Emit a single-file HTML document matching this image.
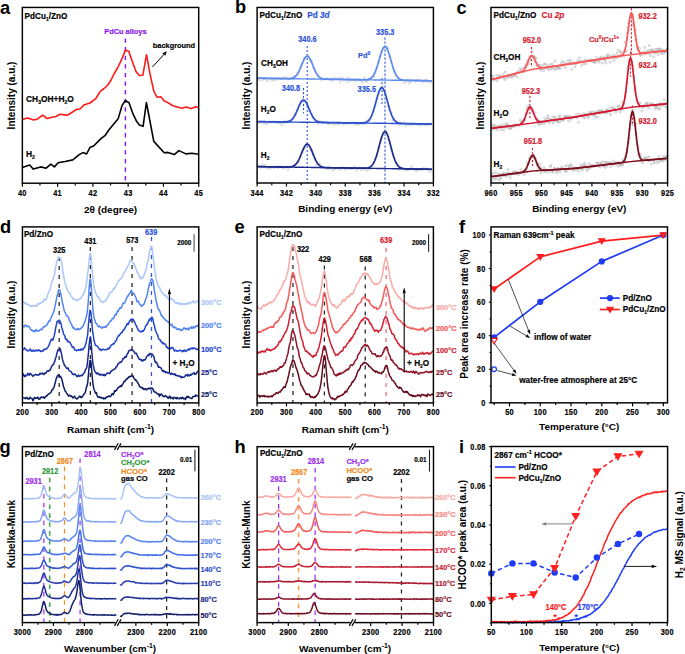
<!DOCTYPE html>
<html><head><meta charset="utf-8"><style>
html,body{margin:0;padding:0;background:#fff;width:685px;height:654px;overflow:hidden}
svg{display:block}
text{font-family:"Liberation Sans", sans-serif;stroke-width:0.18px}
</style></head><body>
<svg width="685" height="654" viewBox="0 0 685 654">
<rect width="685" height="654" fill="#fff"/>
<text x="0" y="13.6" font-size="18.3" fill="#000" stroke="none" text-anchor="start" font-weight="bold">a</text>
<text x="235" y="12.9" font-size="18.3" fill="#000" stroke="none" text-anchor="start" font-weight="bold">b</text>
<text x="456.5" y="14" font-size="18.3" fill="#000" stroke="none" text-anchor="start" font-weight="bold">c</text>
<text x="0" y="232.5" font-size="18.3" fill="#000" stroke="none" text-anchor="start" font-weight="bold">d</text>
<text x="234.5" y="232.5" font-size="18.3" fill="#000" stroke="none" text-anchor="start" font-weight="bold">e</text>
<text x="459" y="232.5" font-size="18.3" fill="#000" stroke="none" text-anchor="start" font-weight="bold">f</text>
<text x="-0.6" y="452.9" font-size="18.3" fill="#000" stroke="none" text-anchor="start" font-weight="bold">g</text>
<text x="234.5" y="452.5" font-size="18.3" fill="#000" stroke="none" text-anchor="start" font-weight="bold">h</text>
<text x="459" y="452.5" font-size="18.3" fill="#000" stroke="none" text-anchor="start" font-weight="bold">i</text>
<line x1="125.4" y1="38.5" x2="125.4" y2="183.2" stroke="#8a10f8" stroke-width="1.4" stroke-dasharray="4.3 4.3" stroke-linecap="butt"/>
<text x="125.4" y="34.3" font-size="7.4" fill="#8a14f0" stroke="#8a14f0" text-anchor="middle" font-weight="bold">PdCu alloys</text>
<path d="M22.3 119.8 L26.9 118 L29.5 118.6 L33.3 120 L37 119.3 L42.5 115.2 L47.1 118.5 L52 117.2 L56 116.5 L60 114.3 L63 114.6 L67.3 115.2 L71 113 L76.5 109.4 L80 109 L83.8 105.1 L90 103 L95.7 98.7 L100.3 91.4 L104 88.5 L107 86 L110.4 81.3 L114 74 L117.8 67.5 L121.6 59.7 L125.5 49.9 L128.8 51.2 L132.1 61 L136 71.5 L139.3 75.5 L142.9 75.2 L146.5 54.7 L149.8 72.9 L153.8 91.2 L157 97.2 L161 96.8 L164.3 101.1 L167.6 102.4 L172.8 105.7 L178.1 107.3 L182 108.3 L186 107 L191.2 108.6 L195.8 106.8 L198.7 107.7" fill="none" stroke="#ff1a1a" stroke-width="1.6" stroke-linejoin="round"/>
<path d="M22.3 167.4 L29.7 165 L33.3 169.1 L40.7 166.9 L46.2 168.2 L50.8 164.1 L54.4 166.9 L58.1 162.7 L65 161.5 L72.8 159.9 L79.2 154.6 L82.9 152.6 L86.6 154 L89.9 147.6 L93.9 145.8 L101.2 138.4 L104.9 135.7 L108.6 130.2 L118.3 118.4 L122 105.6 L125.3 100.5 L129 102.8 L133 113.9 L136.7 121.6 L139.4 124.9 L143.1 126.3 L146.4 102.5 L153.8 141.4 L164.2 152.8 L167.9 152.4 L174.3 154.6 L178.9 150.6 L185.9 153.9 L191.7 153.3 L198.7 154.2" fill="none" stroke="#000" stroke-width="1.6" stroke-linejoin="round"/>
<text x="0" y="0" transform="translate(24.5 18.5) scale(1 1.07)" font-size="8.2" fill="#000" stroke="#000" text-anchor="start" font-weight="bold">PdCu<tspan font-size="4.92" baseline-shift="-2.13">1</tspan>/ZnO</text>
<text x="0" y="0" transform="translate(26 102.4) scale(1 1.07)" font-size="8.4" fill="#000" stroke="#000" text-anchor="start" font-weight="bold">CH<tspan font-size="5.04" baseline-shift="-2.18">3</tspan>OH+H<tspan font-size="5.04" baseline-shift="-2.18">2</tspan>O</text>
<text x="0" y="0" transform="translate(26 156.5) scale(1 1.07)" font-size="8.4" fill="#000" stroke="#000" text-anchor="start" font-weight="bold">H<tspan font-size="5.04" baseline-shift="-2.18">2</tspan></text>
<text x="152.8" y="47.9" font-size="7.4" fill="#000" stroke="#000" text-anchor="start" font-weight="bold">background</text>
<line x1="152.5" y1="66.9" x2="163.86" y2="54.52" stroke="#000" stroke-width="1" stroke-linecap="butt"/>
<path d="M166.9 51.2 L165.33 55.87 L162.38 53.16 Z" fill="#000"/>
<rect x="22.35" y="7.45" width="176.35" height="175.75" fill="none" stroke="#000" stroke-width="1.45"/>
<line x1="22.35" y1="183.2" x2="22.35" y2="186.7" stroke="#000" stroke-width="1.2" stroke-linecap="butt"/>
<line x1="57.62" y1="183.2" x2="57.62" y2="186.7" stroke="#000" stroke-width="1.2" stroke-linecap="butt"/>
<line x1="92.89" y1="183.2" x2="92.89" y2="186.7" stroke="#000" stroke-width="1.2" stroke-linecap="butt"/>
<line x1="128.16" y1="183.2" x2="128.16" y2="186.7" stroke="#000" stroke-width="1.2" stroke-linecap="butt"/>
<line x1="163.43" y1="183.2" x2="163.43" y2="186.7" stroke="#000" stroke-width="1.2" stroke-linecap="butt"/>
<line x1="198.7" y1="183.2" x2="198.7" y2="186.7" stroke="#000" stroke-width="1.2" stroke-linecap="butt"/>
<line x1="39.98" y1="183.2" x2="39.98" y2="185.4" stroke="#000" stroke-width="1.2" stroke-linecap="butt"/>
<line x1="75.25" y1="183.2" x2="75.25" y2="185.4" stroke="#000" stroke-width="1.2" stroke-linecap="butt"/>
<line x1="110.53" y1="183.2" x2="110.53" y2="185.4" stroke="#000" stroke-width="1.2" stroke-linecap="butt"/>
<line x1="145.8" y1="183.2" x2="145.8" y2="185.4" stroke="#000" stroke-width="1.2" stroke-linecap="butt"/>
<line x1="181.06" y1="183.2" x2="181.06" y2="185.4" stroke="#000" stroke-width="1.2" stroke-linecap="butt"/>
<text x="0" y="0" transform="translate(22.35 195.9) scale(0.92 1.02)" font-size="8" fill="#000" stroke="#000" text-anchor="middle" font-weight="bold" letter-spacing="0.3">40</text>
<text x="0" y="0" transform="translate(57.62 195.9) scale(0.92 1.02)" font-size="8" fill="#000" stroke="#000" text-anchor="middle" font-weight="bold" letter-spacing="0.3">41</text>
<text x="0" y="0" transform="translate(92.89 195.9) scale(0.92 1.02)" font-size="8" fill="#000" stroke="#000" text-anchor="middle" font-weight="bold" letter-spacing="0.3">42</text>
<text x="0" y="0" transform="translate(128.16 195.9) scale(0.92 1.02)" font-size="8" fill="#000" stroke="#000" text-anchor="middle" font-weight="bold" letter-spacing="0.3">43</text>
<text x="0" y="0" transform="translate(163.43 195.9) scale(0.92 1.02)" font-size="8" fill="#000" stroke="#000" text-anchor="middle" font-weight="bold" letter-spacing="0.3">44</text>
<text x="0" y="0" transform="translate(198.7 195.9) scale(0.92 1.02)" font-size="8" fill="#000" stroke="#000" text-anchor="middle" font-weight="bold" letter-spacing="0.3">45</text>
<text x="0" y="0" transform="translate(110.5 212.7) scale(1 0.94)" font-size="10" fill="#000" stroke="none" text-anchor="middle" font-weight="bold">2θ (degree)</text>
<text x="0" y="0" font-size="10" font-weight="bold" text-anchor="middle" dominant-baseline="central" transform="translate(11.2 95.5) rotate(-90)">Intensity (a.u.)</text>
<text x="0" y="0" transform="translate(259.5 18.3) scale(1 1.07)" font-size="8.2" fill="#000" stroke="#000" text-anchor="start" font-weight="bold">PdCu<tspan font-size="4.92" baseline-shift="-2.13">1</tspan>/ZnO</text>
<text x="0" y="0" transform="translate(307.2 18.3) scale(1 1.07)" font-size="8.2" fill="#2d55d6" stroke="#2d55d6" text-anchor="start" font-weight="bold">Pd <tspan font-style="italic">3d</tspan></text>
<line x1="307.2" y1="45.9" x2="307.2" y2="183" stroke="#2d55d6" stroke-width="1.1" stroke-dasharray="2.2 1.8" stroke-linecap="butt"/>
<line x1="385" y1="37.6" x2="385" y2="183" stroke="#2d55d6" stroke-width="1.1" stroke-dasharray="2.2 1.8" stroke-linecap="butt"/>
<line x1="303.5" y1="88" x2="303.5" y2="113.3" stroke="#2d55d6" stroke-width="1.1" stroke-dasharray="2.2 1.8" stroke-linecap="butt"/>
<line x1="382" y1="78" x2="382" y2="104" stroke="#2d55d6" stroke-width="1.1" stroke-dasharray="2.2 1.8" stroke-linecap="butt"/>
<circle cx="257.6" cy="78.9" r="0.9" fill="none" stroke="#bdbdbd" stroke-width="0.6"/>
<circle cx="259.19" cy="80.08" r="0.9" fill="none" stroke="#bdbdbd" stroke-width="0.6"/>
<circle cx="260.78" cy="77.92" r="0.9" fill="none" stroke="#bdbdbd" stroke-width="0.6"/>
<circle cx="262.38" cy="79.87" r="0.9" fill="none" stroke="#bdbdbd" stroke-width="0.6"/>
<circle cx="263.97" cy="78.64" r="0.9" fill="none" stroke="#bdbdbd" stroke-width="0.6"/>
<circle cx="265.56" cy="78.66" r="0.9" fill="none" stroke="#bdbdbd" stroke-width="0.6"/>
<circle cx="267.15" cy="80.85" r="0.9" fill="none" stroke="#bdbdbd" stroke-width="0.6"/>
<circle cx="268.74" cy="79.13" r="0.9" fill="none" stroke="#bdbdbd" stroke-width="0.6"/>
<circle cx="270.33" cy="78.95" r="0.9" fill="none" stroke="#bdbdbd" stroke-width="0.6"/>
<circle cx="271.93" cy="79.75" r="0.9" fill="none" stroke="#bdbdbd" stroke-width="0.6"/>
<circle cx="273.52" cy="80.17" r="0.9" fill="none" stroke="#bdbdbd" stroke-width="0.6"/>
<circle cx="275.11" cy="79.03" r="0.9" fill="none" stroke="#bdbdbd" stroke-width="0.6"/>
<circle cx="276.7" cy="79.68" r="0.9" fill="none" stroke="#bdbdbd" stroke-width="0.6"/>
<circle cx="278.29" cy="78.14" r="0.9" fill="none" stroke="#bdbdbd" stroke-width="0.6"/>
<circle cx="279.88" cy="78.77" r="0.9" fill="none" stroke="#bdbdbd" stroke-width="0.6"/>
<circle cx="281.48" cy="78.72" r="0.9" fill="none" stroke="#bdbdbd" stroke-width="0.6"/>
<circle cx="283.07" cy="77.85" r="0.9" fill="none" stroke="#bdbdbd" stroke-width="0.6"/>
<circle cx="284.66" cy="77.69" r="0.9" fill="none" stroke="#bdbdbd" stroke-width="0.6"/>
<circle cx="286.25" cy="77.58" r="0.9" fill="none" stroke="#bdbdbd" stroke-width="0.6"/>
<circle cx="287.84" cy="78.96" r="0.9" fill="none" stroke="#bdbdbd" stroke-width="0.6"/>
<circle cx="289.44" cy="78.96" r="0.9" fill="none" stroke="#bdbdbd" stroke-width="0.6"/>
<circle cx="291.03" cy="78.63" r="0.9" fill="none" stroke="#bdbdbd" stroke-width="0.6"/>
<circle cx="292.62" cy="78.62" r="0.9" fill="none" stroke="#bdbdbd" stroke-width="0.6"/>
<circle cx="294.21" cy="76.46" r="0.9" fill="none" stroke="#bdbdbd" stroke-width="0.6"/>
<circle cx="295.8" cy="76.42" r="0.9" fill="none" stroke="#bdbdbd" stroke-width="0.6"/>
<circle cx="297.39" cy="74.71" r="0.9" fill="none" stroke="#bdbdbd" stroke-width="0.6"/>
<circle cx="298.99" cy="72.39" r="0.9" fill="none" stroke="#bdbdbd" stroke-width="0.6"/>
<circle cx="300.58" cy="67.26" r="0.9" fill="none" stroke="#bdbdbd" stroke-width="0.6"/>
<circle cx="302.17" cy="63.83" r="0.9" fill="none" stroke="#bdbdbd" stroke-width="0.6"/>
<circle cx="303.76" cy="58.59" r="0.9" fill="none" stroke="#bdbdbd" stroke-width="0.6"/>
<circle cx="305.35" cy="57.41" r="0.9" fill="none" stroke="#bdbdbd" stroke-width="0.6"/>
<circle cx="306.95" cy="54.56" r="0.9" fill="none" stroke="#bdbdbd" stroke-width="0.6"/>
<circle cx="308.54" cy="55.98" r="0.9" fill="none" stroke="#bdbdbd" stroke-width="0.6"/>
<circle cx="310.13" cy="60.8" r="0.9" fill="none" stroke="#bdbdbd" stroke-width="0.6"/>
<circle cx="311.72" cy="60.94" r="0.9" fill="none" stroke="#bdbdbd" stroke-width="0.6"/>
<circle cx="313.31" cy="67.86" r="0.9" fill="none" stroke="#bdbdbd" stroke-width="0.6"/>
<circle cx="314.9" cy="71.13" r="0.9" fill="none" stroke="#bdbdbd" stroke-width="0.6"/>
<circle cx="316.5" cy="73.61" r="0.9" fill="none" stroke="#bdbdbd" stroke-width="0.6"/>
<circle cx="318.09" cy="76.71" r="0.9" fill="none" stroke="#bdbdbd" stroke-width="0.6"/>
<circle cx="319.68" cy="78.35" r="0.9" fill="none" stroke="#bdbdbd" stroke-width="0.6"/>
<circle cx="321.27" cy="79.82" r="0.9" fill="none" stroke="#bdbdbd" stroke-width="0.6"/>
<circle cx="322.86" cy="79.08" r="0.9" fill="none" stroke="#bdbdbd" stroke-width="0.6"/>
<circle cx="324.45" cy="79" r="0.9" fill="none" stroke="#bdbdbd" stroke-width="0.6"/>
<circle cx="326.05" cy="79.13" r="0.9" fill="none" stroke="#bdbdbd" stroke-width="0.6"/>
<circle cx="327.64" cy="78.82" r="0.9" fill="none" stroke="#bdbdbd" stroke-width="0.6"/>
<circle cx="329.23" cy="79.81" r="0.9" fill="none" stroke="#bdbdbd" stroke-width="0.6"/>
<circle cx="330.82" cy="79.1" r="0.9" fill="none" stroke="#bdbdbd" stroke-width="0.6"/>
<circle cx="332.41" cy="80.98" r="0.9" fill="none" stroke="#bdbdbd" stroke-width="0.6"/>
<circle cx="334.01" cy="78.06" r="0.9" fill="none" stroke="#bdbdbd" stroke-width="0.6"/>
<circle cx="335.6" cy="78.86" r="0.9" fill="none" stroke="#bdbdbd" stroke-width="0.6"/>
<circle cx="337.19" cy="79.03" r="0.9" fill="none" stroke="#bdbdbd" stroke-width="0.6"/>
<circle cx="338.78" cy="77.91" r="0.9" fill="none" stroke="#bdbdbd" stroke-width="0.6"/>
<circle cx="340.37" cy="81.93" r="0.9" fill="none" stroke="#bdbdbd" stroke-width="0.6"/>
<circle cx="341.96" cy="77.64" r="0.9" fill="none" stroke="#bdbdbd" stroke-width="0.6"/>
<circle cx="343.56" cy="79.79" r="0.9" fill="none" stroke="#bdbdbd" stroke-width="0.6"/>
<circle cx="345.15" cy="79.57" r="0.9" fill="none" stroke="#bdbdbd" stroke-width="0.6"/>
<circle cx="346.74" cy="81.78" r="0.9" fill="none" stroke="#bdbdbd" stroke-width="0.6"/>
<circle cx="348.33" cy="78.16" r="0.9" fill="none" stroke="#bdbdbd" stroke-width="0.6"/>
<circle cx="349.92" cy="81.24" r="0.9" fill="none" stroke="#bdbdbd" stroke-width="0.6"/>
<circle cx="351.52" cy="79.46" r="0.9" fill="none" stroke="#bdbdbd" stroke-width="0.6"/>
<circle cx="353.11" cy="80.06" r="0.9" fill="none" stroke="#bdbdbd" stroke-width="0.6"/>
<circle cx="354.7" cy="79.57" r="0.9" fill="none" stroke="#bdbdbd" stroke-width="0.6"/>
<circle cx="356.29" cy="80.9" r="0.9" fill="none" stroke="#bdbdbd" stroke-width="0.6"/>
<circle cx="357.88" cy="79.15" r="0.9" fill="none" stroke="#bdbdbd" stroke-width="0.6"/>
<circle cx="359.47" cy="80.23" r="0.9" fill="none" stroke="#bdbdbd" stroke-width="0.6"/>
<circle cx="361.07" cy="80.68" r="0.9" fill="none" stroke="#bdbdbd" stroke-width="0.6"/>
<circle cx="362.66" cy="82.18" r="0.9" fill="none" stroke="#bdbdbd" stroke-width="0.6"/>
<circle cx="364.25" cy="77.92" r="0.9" fill="none" stroke="#bdbdbd" stroke-width="0.6"/>
<circle cx="365.84" cy="81.79" r="0.9" fill="none" stroke="#bdbdbd" stroke-width="0.6"/>
<circle cx="367.43" cy="81.03" r="0.9" fill="none" stroke="#bdbdbd" stroke-width="0.6"/>
<circle cx="369.02" cy="79.21" r="0.9" fill="none" stroke="#bdbdbd" stroke-width="0.6"/>
<circle cx="370.62" cy="79.23" r="0.9" fill="none" stroke="#bdbdbd" stroke-width="0.6"/>
<circle cx="372.21" cy="77.09" r="0.9" fill="none" stroke="#bdbdbd" stroke-width="0.6"/>
<circle cx="373.8" cy="76.98" r="0.9" fill="none" stroke="#bdbdbd" stroke-width="0.6"/>
<circle cx="375.39" cy="72.26" r="0.9" fill="none" stroke="#bdbdbd" stroke-width="0.6"/>
<circle cx="376.98" cy="67.46" r="0.9" fill="none" stroke="#bdbdbd" stroke-width="0.6"/>
<circle cx="378.58" cy="62.22" r="0.9" fill="none" stroke="#bdbdbd" stroke-width="0.6"/>
<circle cx="380.17" cy="56.74" r="0.9" fill="none" stroke="#bdbdbd" stroke-width="0.6"/>
<circle cx="381.76" cy="51.8" r="0.9" fill="none" stroke="#bdbdbd" stroke-width="0.6"/>
<circle cx="383.35" cy="47.61" r="0.9" fill="none" stroke="#bdbdbd" stroke-width="0.6"/>
<circle cx="384.94" cy="49.25" r="0.9" fill="none" stroke="#bdbdbd" stroke-width="0.6"/>
<circle cx="386.53" cy="46.45" r="0.9" fill="none" stroke="#bdbdbd" stroke-width="0.6"/>
<circle cx="388.13" cy="48.16" r="0.9" fill="none" stroke="#bdbdbd" stroke-width="0.6"/>
<circle cx="389.72" cy="56.57" r="0.9" fill="none" stroke="#bdbdbd" stroke-width="0.6"/>
<circle cx="391.31" cy="62.09" r="0.9" fill="none" stroke="#bdbdbd" stroke-width="0.6"/>
<circle cx="392.9" cy="67.93" r="0.9" fill="none" stroke="#bdbdbd" stroke-width="0.6"/>
<circle cx="394.49" cy="71.85" r="0.9" fill="none" stroke="#bdbdbd" stroke-width="0.6"/>
<circle cx="396.08" cy="75.31" r="0.9" fill="none" stroke="#bdbdbd" stroke-width="0.6"/>
<circle cx="397.68" cy="78.13" r="0.9" fill="none" stroke="#bdbdbd" stroke-width="0.6"/>
<circle cx="399.27" cy="80.24" r="0.9" fill="none" stroke="#bdbdbd" stroke-width="0.6"/>
<circle cx="400.86" cy="79.68" r="0.9" fill="none" stroke="#bdbdbd" stroke-width="0.6"/>
<circle cx="402.45" cy="80.21" r="0.9" fill="none" stroke="#bdbdbd" stroke-width="0.6"/>
<circle cx="404.04" cy="82.75" r="0.9" fill="none" stroke="#bdbdbd" stroke-width="0.6"/>
<circle cx="405.64" cy="81.46" r="0.9" fill="none" stroke="#bdbdbd" stroke-width="0.6"/>
<circle cx="407.23" cy="80.01" r="0.9" fill="none" stroke="#bdbdbd" stroke-width="0.6"/>
<circle cx="408.82" cy="83.35" r="0.9" fill="none" stroke="#bdbdbd" stroke-width="0.6"/>
<circle cx="410.41" cy="81.83" r="0.9" fill="none" stroke="#bdbdbd" stroke-width="0.6"/>
<circle cx="412" cy="80.49" r="0.9" fill="none" stroke="#bdbdbd" stroke-width="0.6"/>
<circle cx="413.59" cy="79.93" r="0.9" fill="none" stroke="#bdbdbd" stroke-width="0.6"/>
<circle cx="415.19" cy="81.43" r="0.9" fill="none" stroke="#bdbdbd" stroke-width="0.6"/>
<circle cx="416.78" cy="80.32" r="0.9" fill="none" stroke="#bdbdbd" stroke-width="0.6"/>
<circle cx="418.37" cy="80.12" r="0.9" fill="none" stroke="#bdbdbd" stroke-width="0.6"/>
<circle cx="419.96" cy="79.91" r="0.9" fill="none" stroke="#bdbdbd" stroke-width="0.6"/>
<circle cx="421.55" cy="80.72" r="0.9" fill="none" stroke="#bdbdbd" stroke-width="0.6"/>
<circle cx="423.15" cy="82.36" r="0.9" fill="none" stroke="#bdbdbd" stroke-width="0.6"/>
<circle cx="424.74" cy="80.84" r="0.9" fill="none" stroke="#bdbdbd" stroke-width="0.6"/>
<circle cx="426.33" cy="79.85" r="0.9" fill="none" stroke="#bdbdbd" stroke-width="0.6"/>
<circle cx="427.92" cy="81.99" r="0.9" fill="none" stroke="#bdbdbd" stroke-width="0.6"/>
<circle cx="429.51" cy="81.41" r="0.9" fill="none" stroke="#bdbdbd" stroke-width="0.6"/>
<circle cx="431.1" cy="82.21" r="0.9" fill="none" stroke="#bdbdbd" stroke-width="0.6"/>
<path d="M257.6 78.21 L258.4 78.22 L259.19 78.23 L259.99 78.24 L260.78 78.25 L261.58 78.27 L262.38 78.28 L263.17 78.29 L263.97 78.3 L264.76 78.31 L265.56 78.32 L266.35 78.34 L267.15 78.35 L267.95 78.36 L268.74 78.37 L269.54 78.38 L270.33 78.4 L271.13 78.41 L271.93 78.42 L272.72 78.43 L273.52 78.44 L274.31 78.45 L275.11 78.47 L275.91 78.48 L276.7 78.49 L277.5 78.5 L278.29 78.51 L279.09 78.52 L279.88 78.54 L280.68 78.55 L281.48 78.56 L282.27 78.57 L283.07 78.58 L283.86 78.59 L284.66 78.61 L285.46 78.62 L286.25 78.63 L287.05 78.64 L287.84 78.65 L288.64 78.67 L289.44 78.68 L290.23 78.69 L291.03 78.7 L291.82 78.71 L292.62 78.72 L293.42 78.74 L294.21 78.75 L295.01 78.76 L295.8 78.77 L296.6 78.78 L297.39 78.79 L298.19 78.81 L298.99 78.82 L299.78 78.83 L300.58 78.84 L301.37 78.85 L302.17 78.86 L302.97 78.88 L303.76 78.89 L304.56 78.9 L305.35 78.91 L306.15 78.92 L306.95 78.94 L307.74 78.95 L308.54 78.96 L309.33 78.97 L310.13 78.98 L310.92 78.99 L311.72 79.01 L312.52 79.02 L313.31 79.03 L314.11 79.04 L314.9 79.05 L315.7 79.06 L316.5 79.08 L317.29 79.09 L318.09 79.1 L318.88 79.11 L319.68 79.12 L320.48 79.13 L321.27 79.15 L322.07 79.16 L322.86 79.17 L323.66 79.18 L324.45 79.19 L325.25 79.21 L326.05 79.22 L326.84 79.23 L327.64 79.24 L328.43 79.25 L329.23 79.26 L330.03 79.28 L330.82 79.29 L331.62 79.3 L332.41 79.31 L333.21 79.32 L334.01 79.33 L334.8 79.35 L335.6 79.36 L336.39 79.37 L337.19 79.38 L337.98 79.39 L338.78 79.4 L339.58 79.42 L340.37 79.43 L341.17 79.44 L341.96 79.45 L342.76 79.46 L343.56 79.48 L344.35 79.49 L345.15 79.5 L345.94 79.51 L346.74 79.52 L347.54 79.53 L348.33 79.55 L349.13 79.56 L349.92 79.57 L350.72 79.58 L351.52 79.59 L352.31 79.6 L353.11 79.62 L353.9 79.63 L354.7 79.64 L355.49 79.65 L356.29 79.66 L357.09 79.67 L357.88 79.69 L358.68 79.7 L359.47 79.71 L360.27 79.72 L361.07 79.73 L361.86 79.74 L362.66 79.76 L363.45 79.77 L364.25 79.78 L365.05 79.79 L365.84 79.8 L366.64 79.82 L367.43 79.83 L368.23 79.84 L369.02 79.85 L369.82 79.86 L370.62 79.87 L371.41 79.89 L372.21 79.9 L373 79.91 L373.8 79.92 L374.6 79.93 L375.39 79.94 L376.19 79.96 L376.98 79.97 L377.78 79.98 L378.58 79.99 L379.37 80 L380.17 80.01 L380.96 80.03 L381.76 80.04 L382.55 80.05 L383.35 80.06 L384.15 80.07 L384.94 80.09 L385.74 80.1 L386.53 80.11 L387.33 80.12 L388.13 80.13 L388.92 80.14 L389.72 80.16 L390.51 80.17 L391.31 80.18 L392.11 80.19 L392.9 80.2 L393.7 80.21 L394.49 80.23 L395.29 80.24 L396.08 80.25 L396.88 80.26 L397.68 80.27 L398.47 80.28 L399.27 80.3 L400.06 80.31 L400.86 80.32 L401.66 80.33 L402.45 80.34 L403.25 80.36 L404.04 80.37 L404.84 80.38 L405.64 80.39 L406.43 80.4 L407.23 80.41 L408.02 80.43 L408.82 80.44 L409.62 80.45 L410.41 80.46 L411.21 80.47 L412 80.48 L412.8 80.5 L413.59 80.51 L414.39 80.52 L415.19 80.53 L415.98 80.54 L416.78 80.55 L417.57 80.57 L418.37 80.58 L419.17 80.59 L419.96 80.6 L420.76 80.61 L421.55 80.63 L422.35 80.64 L423.15 80.65 L423.94 80.66 L424.74 80.67 L425.53 80.68 L426.33 80.7 L427.12 80.71 L427.92 80.72 L428.72 80.73 L429.51 80.74 L430.31 80.75 L431.1 80.77 L431.9 80.78" fill="none" stroke="#5b8cf2" stroke-width="1.4" stroke-linejoin="round"/>
<path d="M257.6 78.21 L258.4 78.22 L259.19 78.23 L259.99 78.24 L260.78 78.25 L261.58 78.27 L262.38 78.28 L263.17 78.29 L263.97 78.3 L264.76 78.31 L265.56 78.32 L266.35 78.34 L267.15 78.35 L267.95 78.36 L268.74 78.37 L269.54 78.38 L270.33 78.4 L271.13 78.41 L271.93 78.42 L272.72 78.43 L273.52 78.44 L274.31 78.45 L275.11 78.47 L275.91 78.48 L276.7 78.49 L277.5 78.5 L278.29 78.51 L279.09 78.52 L279.88 78.54 L280.68 78.55 L281.48 78.56 L282.27 78.57 L283.07 78.58 L283.86 78.59 L284.66 78.6 L285.46 78.61 L286.25 78.61 L287.05 78.61 L287.84 78.6 L288.64 78.57 L289.44 78.53 L290.23 78.46 L291.03 78.35 L291.82 78.19 L292.62 77.96 L293.42 77.63 L294.21 77.2 L295.01 76.63 L295.8 75.9 L296.6 74.98 L297.39 73.87 L298.19 72.56 L298.99 71.04 L299.78 69.35 L300.58 67.51 L301.37 65.58 L302.17 63.63 L302.97 61.75 L303.76 60.01 L304.56 58.5 L305.35 57.32 L306.15 56.52 L306.95 56.16 L307.74 56.25 L308.54 56.8 L309.33 57.77 L310.13 59.1 L310.92 60.72 L311.72 62.55 L312.52 64.49 L313.31 66.46 L314.11 68.39 L314.9 70.2 L315.7 71.86 L316.5 73.33 L317.29 74.59 L318.09 75.66 L318.88 76.52 L319.68 77.22 L320.48 77.76 L321.27 78.18 L322.07 78.49 L322.86 78.71 L323.66 78.88 L324.45 79 L325.25 79.08 L326.05 79.14 L326.84 79.18 L327.64 79.21 L328.43 79.23 L329.23 79.25 L330.03 79.27 L330.82 79.28 L331.62 79.3 L332.41 79.31 L333.21 79.32 L334.01 79.33 L334.8 79.35 L335.6 79.36 L336.39 79.37 L337.19 79.38 L337.98 79.39 L338.78 79.4 L339.58 79.42 L340.37 79.43 L341.17 79.44 L341.96 79.45 L342.76 79.46 L343.56 79.48 L344.35 79.49 L345.15 79.5 L345.94 79.51 L346.74 79.52 L347.54 79.53 L348.33 79.55 L349.13 79.56 L349.92 79.57 L350.72 79.58 L351.52 79.59 L352.31 79.6 L353.11 79.62 L353.9 79.63 L354.7 79.64 L355.49 79.65 L356.29 79.66 L357.09 79.67 L357.88 79.69 L358.68 79.7 L359.47 79.71 L360.27 79.72 L361.07 79.73 L361.86 79.73 L362.66 79.74 L363.45 79.73 L364.25 79.72 L365.05 79.7 L365.84 79.66 L366.64 79.59 L367.43 79.49 L368.23 79.33 L369.02 79.1 L369.82 78.77 L370.62 78.33 L371.41 77.73 L372.21 76.95 L373 75.96 L373.8 74.73 L374.6 73.23 L375.39 71.45 L376.19 69.39 L376.98 67.08 L377.78 64.54 L378.58 61.85 L379.37 59.08 L380.17 56.34 L380.96 53.73 L381.76 51.38 L382.55 49.4 L383.35 47.89 L384.15 46.93 L384.94 46.59 L385.74 46.87 L386.53 47.76 L387.33 49.22 L388.13 51.16 L388.92 53.49 L389.72 56.09 L390.51 58.85 L391.31 61.64 L392.11 64.37 L392.9 66.96 L393.7 69.33 L394.49 71.45 L395.29 73.29 L396.08 74.86 L396.88 76.15 L397.68 77.2 L398.47 78.03 L399.27 78.67 L400.06 79.16 L400.86 79.52 L401.66 79.79 L402.45 79.98 L403.25 80.12 L404.04 80.21 L404.84 80.28 L405.64 80.33 L406.43 80.37 L407.23 80.39 L408.02 80.41 L408.82 80.43 L409.62 80.45 L410.41 80.46 L411.21 80.47 L412 80.48 L412.8 80.5 L413.59 80.51 L414.39 80.52 L415.19 80.53 L415.98 80.54 L416.78 80.55 L417.57 80.57 L418.37 80.58 L419.17 80.59 L419.96 80.6 L420.76 80.61 L421.55 80.63 L422.35 80.64 L423.15 80.65 L423.94 80.66 L424.74 80.67 L425.53 80.68 L426.33 80.7 L427.12 80.71 L427.92 80.72 L428.72 80.73 L429.51 80.74 L430.31 80.75 L431.1 80.77 L431.9 80.78" fill="none" stroke="#5b8cf2" stroke-width="1.7" stroke-linejoin="round"/>
<circle cx="257.6" cy="122.25" r="0.9" fill="none" stroke="#bdbdbd" stroke-width="0.6"/>
<circle cx="259.19" cy="122.69" r="0.9" fill="none" stroke="#bdbdbd" stroke-width="0.6"/>
<circle cx="260.78" cy="121.79" r="0.9" fill="none" stroke="#bdbdbd" stroke-width="0.6"/>
<circle cx="262.38" cy="122.62" r="0.9" fill="none" stroke="#bdbdbd" stroke-width="0.6"/>
<circle cx="263.97" cy="123.22" r="0.9" fill="none" stroke="#bdbdbd" stroke-width="0.6"/>
<circle cx="265.56" cy="122.73" r="0.9" fill="none" stroke="#bdbdbd" stroke-width="0.6"/>
<circle cx="267.15" cy="123.9" r="0.9" fill="none" stroke="#bdbdbd" stroke-width="0.6"/>
<circle cx="268.74" cy="121.47" r="0.9" fill="none" stroke="#bdbdbd" stroke-width="0.6"/>
<circle cx="270.33" cy="122.45" r="0.9" fill="none" stroke="#bdbdbd" stroke-width="0.6"/>
<circle cx="271.93" cy="121.7" r="0.9" fill="none" stroke="#bdbdbd" stroke-width="0.6"/>
<circle cx="273.52" cy="121.64" r="0.9" fill="none" stroke="#bdbdbd" stroke-width="0.6"/>
<circle cx="275.11" cy="122.26" r="0.9" fill="none" stroke="#bdbdbd" stroke-width="0.6"/>
<circle cx="276.7" cy="122.69" r="0.9" fill="none" stroke="#bdbdbd" stroke-width="0.6"/>
<circle cx="278.29" cy="122.91" r="0.9" fill="none" stroke="#bdbdbd" stroke-width="0.6"/>
<circle cx="279.88" cy="123.02" r="0.9" fill="none" stroke="#bdbdbd" stroke-width="0.6"/>
<circle cx="281.48" cy="124.76" r="0.9" fill="none" stroke="#bdbdbd" stroke-width="0.6"/>
<circle cx="283.07" cy="123.39" r="0.9" fill="none" stroke="#bdbdbd" stroke-width="0.6"/>
<circle cx="284.66" cy="120.9" r="0.9" fill="none" stroke="#bdbdbd" stroke-width="0.6"/>
<circle cx="286.25" cy="122.61" r="0.9" fill="none" stroke="#bdbdbd" stroke-width="0.6"/>
<circle cx="287.84" cy="121.55" r="0.9" fill="none" stroke="#bdbdbd" stroke-width="0.6"/>
<circle cx="289.44" cy="121.18" r="0.9" fill="none" stroke="#bdbdbd" stroke-width="0.6"/>
<circle cx="291.03" cy="122.11" r="0.9" fill="none" stroke="#bdbdbd" stroke-width="0.6"/>
<circle cx="292.62" cy="119.1" r="0.9" fill="none" stroke="#bdbdbd" stroke-width="0.6"/>
<circle cx="294.21" cy="115.15" r="0.9" fill="none" stroke="#bdbdbd" stroke-width="0.6"/>
<circle cx="295.8" cy="114.41" r="0.9" fill="none" stroke="#bdbdbd" stroke-width="0.6"/>
<circle cx="297.39" cy="110.2" r="0.9" fill="none" stroke="#bdbdbd" stroke-width="0.6"/>
<circle cx="298.99" cy="105.55" r="0.9" fill="none" stroke="#bdbdbd" stroke-width="0.6"/>
<circle cx="300.58" cy="102.5" r="0.9" fill="none" stroke="#bdbdbd" stroke-width="0.6"/>
<circle cx="302.17" cy="100.61" r="0.9" fill="none" stroke="#bdbdbd" stroke-width="0.6"/>
<circle cx="303.76" cy="100.64" r="0.9" fill="none" stroke="#bdbdbd" stroke-width="0.6"/>
<circle cx="305.35" cy="101.41" r="0.9" fill="none" stroke="#bdbdbd" stroke-width="0.6"/>
<circle cx="306.95" cy="104.58" r="0.9" fill="none" stroke="#bdbdbd" stroke-width="0.6"/>
<circle cx="308.54" cy="109.92" r="0.9" fill="none" stroke="#bdbdbd" stroke-width="0.6"/>
<circle cx="310.13" cy="111.1" r="0.9" fill="none" stroke="#bdbdbd" stroke-width="0.6"/>
<circle cx="311.72" cy="114.58" r="0.9" fill="none" stroke="#bdbdbd" stroke-width="0.6"/>
<circle cx="313.31" cy="117.93" r="0.9" fill="none" stroke="#bdbdbd" stroke-width="0.6"/>
<circle cx="314.9" cy="121.29" r="0.9" fill="none" stroke="#bdbdbd" stroke-width="0.6"/>
<circle cx="316.5" cy="120.8" r="0.9" fill="none" stroke="#bdbdbd" stroke-width="0.6"/>
<circle cx="318.09" cy="123.72" r="0.9" fill="none" stroke="#bdbdbd" stroke-width="0.6"/>
<circle cx="319.68" cy="121.4" r="0.9" fill="none" stroke="#bdbdbd" stroke-width="0.6"/>
<circle cx="321.27" cy="121.9" r="0.9" fill="none" stroke="#bdbdbd" stroke-width="0.6"/>
<circle cx="322.86" cy="122.98" r="0.9" fill="none" stroke="#bdbdbd" stroke-width="0.6"/>
<circle cx="324.45" cy="122.23" r="0.9" fill="none" stroke="#bdbdbd" stroke-width="0.6"/>
<circle cx="326.05" cy="122.51" r="0.9" fill="none" stroke="#bdbdbd" stroke-width="0.6"/>
<circle cx="327.64" cy="123.61" r="0.9" fill="none" stroke="#bdbdbd" stroke-width="0.6"/>
<circle cx="329.23" cy="123.91" r="0.9" fill="none" stroke="#bdbdbd" stroke-width="0.6"/>
<circle cx="330.82" cy="123.32" r="0.9" fill="none" stroke="#bdbdbd" stroke-width="0.6"/>
<circle cx="332.41" cy="122.95" r="0.9" fill="none" stroke="#bdbdbd" stroke-width="0.6"/>
<circle cx="334.01" cy="124.59" r="0.9" fill="none" stroke="#bdbdbd" stroke-width="0.6"/>
<circle cx="335.6" cy="123.67" r="0.9" fill="none" stroke="#bdbdbd" stroke-width="0.6"/>
<circle cx="337.19" cy="123.06" r="0.9" fill="none" stroke="#bdbdbd" stroke-width="0.6"/>
<circle cx="338.78" cy="124.53" r="0.9" fill="none" stroke="#bdbdbd" stroke-width="0.6"/>
<circle cx="340.37" cy="122.43" r="0.9" fill="none" stroke="#bdbdbd" stroke-width="0.6"/>
<circle cx="341.96" cy="123.52" r="0.9" fill="none" stroke="#bdbdbd" stroke-width="0.6"/>
<circle cx="343.56" cy="124.04" r="0.9" fill="none" stroke="#bdbdbd" stroke-width="0.6"/>
<circle cx="345.15" cy="123.39" r="0.9" fill="none" stroke="#bdbdbd" stroke-width="0.6"/>
<circle cx="346.74" cy="122.85" r="0.9" fill="none" stroke="#bdbdbd" stroke-width="0.6"/>
<circle cx="348.33" cy="123.79" r="0.9" fill="none" stroke="#bdbdbd" stroke-width="0.6"/>
<circle cx="349.92" cy="122.92" r="0.9" fill="none" stroke="#bdbdbd" stroke-width="0.6"/>
<circle cx="351.52" cy="122.89" r="0.9" fill="none" stroke="#bdbdbd" stroke-width="0.6"/>
<circle cx="353.11" cy="122.48" r="0.9" fill="none" stroke="#bdbdbd" stroke-width="0.6"/>
<circle cx="354.7" cy="124.83" r="0.9" fill="none" stroke="#bdbdbd" stroke-width="0.6"/>
<circle cx="356.29" cy="123" r="0.9" fill="none" stroke="#bdbdbd" stroke-width="0.6"/>
<circle cx="357.88" cy="124.72" r="0.9" fill="none" stroke="#bdbdbd" stroke-width="0.6"/>
<circle cx="359.47" cy="123.95" r="0.9" fill="none" stroke="#bdbdbd" stroke-width="0.6"/>
<circle cx="361.07" cy="123.29" r="0.9" fill="none" stroke="#bdbdbd" stroke-width="0.6"/>
<circle cx="362.66" cy="124.15" r="0.9" fill="none" stroke="#bdbdbd" stroke-width="0.6"/>
<circle cx="364.25" cy="123.57" r="0.9" fill="none" stroke="#bdbdbd" stroke-width="0.6"/>
<circle cx="365.84" cy="123.01" r="0.9" fill="none" stroke="#bdbdbd" stroke-width="0.6"/>
<circle cx="367.43" cy="120.67" r="0.9" fill="none" stroke="#bdbdbd" stroke-width="0.6"/>
<circle cx="369.02" cy="120.66" r="0.9" fill="none" stroke="#bdbdbd" stroke-width="0.6"/>
<circle cx="370.62" cy="119.11" r="0.9" fill="none" stroke="#bdbdbd" stroke-width="0.6"/>
<circle cx="372.21" cy="115.21" r="0.9" fill="none" stroke="#bdbdbd" stroke-width="0.6"/>
<circle cx="373.8" cy="111.07" r="0.9" fill="none" stroke="#bdbdbd" stroke-width="0.6"/>
<circle cx="375.39" cy="106.02" r="0.9" fill="none" stroke="#bdbdbd" stroke-width="0.6"/>
<circle cx="376.98" cy="99.1" r="0.9" fill="none" stroke="#bdbdbd" stroke-width="0.6"/>
<circle cx="378.58" cy="95.41" r="0.9" fill="none" stroke="#bdbdbd" stroke-width="0.6"/>
<circle cx="380.17" cy="88.24" r="0.9" fill="none" stroke="#bdbdbd" stroke-width="0.6"/>
<circle cx="381.76" cy="88.16" r="0.9" fill="none" stroke="#bdbdbd" stroke-width="0.6"/>
<circle cx="383.35" cy="87.14" r="0.9" fill="none" stroke="#bdbdbd" stroke-width="0.6"/>
<circle cx="384.94" cy="94.11" r="0.9" fill="none" stroke="#bdbdbd" stroke-width="0.6"/>
<circle cx="386.53" cy="98.61" r="0.9" fill="none" stroke="#bdbdbd" stroke-width="0.6"/>
<circle cx="388.13" cy="106.09" r="0.9" fill="none" stroke="#bdbdbd" stroke-width="0.6"/>
<circle cx="389.72" cy="109.66" r="0.9" fill="none" stroke="#bdbdbd" stroke-width="0.6"/>
<circle cx="391.31" cy="112.74" r="0.9" fill="none" stroke="#bdbdbd" stroke-width="0.6"/>
<circle cx="392.9" cy="119.64" r="0.9" fill="none" stroke="#bdbdbd" stroke-width="0.6"/>
<circle cx="394.49" cy="119.49" r="0.9" fill="none" stroke="#bdbdbd" stroke-width="0.6"/>
<circle cx="396.08" cy="121.11" r="0.9" fill="none" stroke="#bdbdbd" stroke-width="0.6"/>
<circle cx="397.68" cy="123.1" r="0.9" fill="none" stroke="#bdbdbd" stroke-width="0.6"/>
<circle cx="399.27" cy="124.38" r="0.9" fill="none" stroke="#bdbdbd" stroke-width="0.6"/>
<circle cx="400.86" cy="123.49" r="0.9" fill="none" stroke="#bdbdbd" stroke-width="0.6"/>
<circle cx="402.45" cy="124.3" r="0.9" fill="none" stroke="#bdbdbd" stroke-width="0.6"/>
<circle cx="404.04" cy="122.3" r="0.9" fill="none" stroke="#bdbdbd" stroke-width="0.6"/>
<circle cx="405.64" cy="125.94" r="0.9" fill="none" stroke="#bdbdbd" stroke-width="0.6"/>
<circle cx="407.23" cy="124.17" r="0.9" fill="none" stroke="#bdbdbd" stroke-width="0.6"/>
<circle cx="408.82" cy="124.38" r="0.9" fill="none" stroke="#bdbdbd" stroke-width="0.6"/>
<circle cx="410.41" cy="124.87" r="0.9" fill="none" stroke="#bdbdbd" stroke-width="0.6"/>
<circle cx="412" cy="124.48" r="0.9" fill="none" stroke="#bdbdbd" stroke-width="0.6"/>
<circle cx="413.59" cy="124.53" r="0.9" fill="none" stroke="#bdbdbd" stroke-width="0.6"/>
<circle cx="415.19" cy="123.42" r="0.9" fill="none" stroke="#bdbdbd" stroke-width="0.6"/>
<circle cx="416.78" cy="124.26" r="0.9" fill="none" stroke="#bdbdbd" stroke-width="0.6"/>
<circle cx="418.37" cy="124.83" r="0.9" fill="none" stroke="#bdbdbd" stroke-width="0.6"/>
<circle cx="419.96" cy="125.46" r="0.9" fill="none" stroke="#bdbdbd" stroke-width="0.6"/>
<circle cx="421.55" cy="124.32" r="0.9" fill="none" stroke="#bdbdbd" stroke-width="0.6"/>
<circle cx="423.15" cy="124.55" r="0.9" fill="none" stroke="#bdbdbd" stroke-width="0.6"/>
<circle cx="424.74" cy="124.82" r="0.9" fill="none" stroke="#bdbdbd" stroke-width="0.6"/>
<circle cx="426.33" cy="125.08" r="0.9" fill="none" stroke="#bdbdbd" stroke-width="0.6"/>
<circle cx="427.92" cy="124.73" r="0.9" fill="none" stroke="#bdbdbd" stroke-width="0.6"/>
<circle cx="429.51" cy="124.29" r="0.9" fill="none" stroke="#bdbdbd" stroke-width="0.6"/>
<circle cx="431.1" cy="124.06" r="0.9" fill="none" stroke="#bdbdbd" stroke-width="0.6"/>
<path d="M257.6 121.61 L258.4 121.62 L259.19 121.63 L259.99 121.64 L260.78 121.65 L261.58 121.66 L262.38 121.67 L263.17 121.68 L263.97 121.69 L264.76 121.7 L265.56 121.72 L266.35 121.73 L267.15 121.74 L267.95 121.75 L268.74 121.76 L269.54 121.77 L270.33 121.78 L271.13 121.79 L271.93 121.8 L272.72 121.81 L273.52 121.82 L274.31 121.83 L275.11 121.85 L275.91 121.86 L276.7 121.87 L277.5 121.88 L278.29 121.89 L279.09 121.9 L279.88 121.91 L280.68 121.92 L281.48 121.93 L282.27 121.94 L283.07 121.95 L283.86 121.96 L284.66 121.98 L285.46 121.99 L286.25 122 L287.05 122.01 L287.84 122.02 L288.64 122.03 L289.44 122.04 L290.23 122.05 L291.03 122.06 L291.82 122.07 L292.62 122.08 L293.42 122.09 L294.21 122.11 L295.01 122.12 L295.8 122.13 L296.6 122.14 L297.39 122.15 L298.19 122.16 L298.99 122.17 L299.78 122.18 L300.58 122.19 L301.37 122.2 L302.17 122.21 L302.97 122.22 L303.76 122.24 L304.56 122.25 L305.35 122.26 L306.15 122.27 L306.95 122.28 L307.74 122.29 L308.54 122.3 L309.33 122.31 L310.13 122.32 L310.92 122.33 L311.72 122.34 L312.52 122.35 L313.31 122.37 L314.11 122.38 L314.9 122.39 L315.7 122.4 L316.5 122.41 L317.29 122.42 L318.09 122.43 L318.88 122.44 L319.68 122.45 L320.48 122.46 L321.27 122.47 L322.07 122.48 L322.86 122.5 L323.66 122.51 L324.45 122.52 L325.25 122.53 L326.05 122.54 L326.84 122.55 L327.64 122.56 L328.43 122.57 L329.23 122.58 L330.03 122.59 L330.82 122.6 L331.62 122.61 L332.41 122.63 L333.21 122.64 L334.01 122.65 L334.8 122.66 L335.6 122.67 L336.39 122.68 L337.19 122.69 L337.98 122.7 L338.78 122.71 L339.58 122.72 L340.37 122.73 L341.17 122.74 L341.96 122.76 L342.76 122.77 L343.56 122.78 L344.35 122.79 L345.15 122.8 L345.94 122.81 L346.74 122.82 L347.54 122.83 L348.33 122.84 L349.13 122.85 L349.92 122.86 L350.72 122.87 L351.52 122.89 L352.31 122.9 L353.11 122.91 L353.9 122.92 L354.7 122.93 L355.49 122.94 L356.29 122.95 L357.09 122.96 L357.88 122.97 L358.68 122.98 L359.47 122.99 L360.27 123 L361.07 123.02 L361.86 123.03 L362.66 123.04 L363.45 123.05 L364.25 123.06 L365.05 123.07 L365.84 123.08 L366.64 123.09 L367.43 123.1 L368.23 123.11 L369.02 123.12 L369.82 123.13 L370.62 123.15 L371.41 123.16 L372.21 123.17 L373 123.18 L373.8 123.19 L374.6 123.2 L375.39 123.21 L376.19 123.22 L376.98 123.23 L377.78 123.24 L378.58 123.25 L379.37 123.26 L380.17 123.28 L380.96 123.29 L381.76 123.3 L382.55 123.31 L383.35 123.32 L384.15 123.33 L384.94 123.34 L385.74 123.35 L386.53 123.36 L387.33 123.37 L388.13 123.38 L388.92 123.39 L389.72 123.41 L390.51 123.42 L391.31 123.43 L392.11 123.44 L392.9 123.45 L393.7 123.46 L394.49 123.47 L395.29 123.48 L396.08 123.49 L396.88 123.5 L397.68 123.51 L398.47 123.52 L399.27 123.54 L400.06 123.55 L400.86 123.56 L401.66 123.57 L402.45 123.58 L403.25 123.59 L404.04 123.6 L404.84 123.61 L405.64 123.62 L406.43 123.63 L407.23 123.64 L408.02 123.65 L408.82 123.67 L409.62 123.68 L410.41 123.69 L411.21 123.7 L412 123.71 L412.8 123.72 L413.59 123.73 L414.39 123.74 L415.19 123.75 L415.98 123.76 L416.78 123.77 L417.57 123.78 L418.37 123.8 L419.17 123.81 L419.96 123.82 L420.76 123.83 L421.55 123.84 L422.35 123.85 L423.15 123.86 L423.94 123.87 L424.74 123.88 L425.53 123.89 L426.33 123.9 L427.12 123.91 L427.92 123.93 L428.72 123.94 L429.51 123.95 L430.31 123.96 L431.1 123.97 L431.9 123.98" fill="none" stroke="#2a4fd0" stroke-width="1.4" stroke-linejoin="round"/>
<path d="M257.6 121.61 L258.4 121.62 L259.19 121.63 L259.99 121.64 L260.78 121.65 L261.58 121.66 L262.38 121.67 L263.17 121.68 L263.97 121.69 L264.76 121.7 L265.56 121.72 L266.35 121.73 L267.15 121.74 L267.95 121.75 L268.74 121.76 L269.54 121.77 L270.33 121.78 L271.13 121.79 L271.93 121.8 L272.72 121.81 L273.52 121.82 L274.31 121.83 L275.11 121.85 L275.91 121.86 L276.7 121.87 L277.5 121.88 L278.29 121.89 L279.09 121.9 L279.88 121.91 L280.68 121.92 L281.48 121.92 L282.27 121.93 L283.07 121.92 L283.86 121.92 L284.66 121.9 L285.46 121.86 L286.25 121.8 L287.05 121.71 L287.84 121.57 L288.64 121.37 L289.44 121.09 L290.23 120.71 L291.03 120.2 L291.82 119.55 L292.62 118.72 L293.42 117.71 L294.21 116.5 L295.01 115.09 L295.8 113.5 L296.6 111.75 L297.39 109.9 L298.19 108 L298.99 106.13 L299.78 104.37 L300.58 102.82 L301.37 101.55 L302.17 100.63 L302.97 100.13 L303.76 100.06 L304.56 100.44 L305.35 101.24 L306.15 102.42 L306.95 103.91 L307.74 105.62 L308.54 107.49 L309.33 109.41 L310.13 111.3 L310.92 113.11 L311.72 114.79 L312.52 116.28 L313.31 117.58 L314.11 118.69 L314.9 119.6 L315.7 120.33 L316.5 120.91 L317.29 121.35 L318.09 121.68 L318.88 121.93 L319.68 122.11 L320.48 122.24 L321.27 122.33 L322.07 122.39 L322.86 122.44 L323.66 122.47 L324.45 122.5 L325.25 122.52 L326.05 122.53 L326.84 122.55 L327.64 122.56 L328.43 122.57 L329.23 122.58 L330.03 122.59 L330.82 122.6 L331.62 122.61 L332.41 122.63 L333.21 122.64 L334.01 122.65 L334.8 122.66 L335.6 122.67 L336.39 122.68 L337.19 122.69 L337.98 122.7 L338.78 122.71 L339.58 122.72 L340.37 122.73 L341.17 122.74 L341.96 122.76 L342.76 122.77 L343.56 122.78 L344.35 122.79 L345.15 122.8 L345.94 122.81 L346.74 122.82 L347.54 122.83 L348.33 122.84 L349.13 122.85 L349.92 122.86 L350.72 122.87 L351.52 122.89 L352.31 122.9 L353.11 122.91 L353.9 122.92 L354.7 122.93 L355.49 122.94 L356.29 122.95 L357.09 122.96 L357.88 122.96 L358.68 122.97 L359.47 122.97 L360.27 122.97 L361.07 122.96 L361.86 122.93 L362.66 122.88 L363.45 122.81 L364.25 122.69 L365.05 122.52 L365.84 122.27 L366.64 121.93 L367.43 121.45 L368.23 120.81 L369.02 119.99 L369.82 118.93 L370.62 117.61 L371.41 116.02 L372.21 114.12 L373 111.94 L373.8 109.48 L374.6 106.79 L375.39 103.93 L376.19 100.99 L376.98 98.09 L377.78 95.32 L378.58 92.84 L379.37 90.74 L380.17 89.15 L380.96 88.15 L381.76 87.8 L382.55 88.11 L383.35 89.07 L384.15 90.62 L384.94 92.69 L385.74 95.16 L386.53 97.92 L387.33 100.84 L388.13 103.8 L388.92 106.69 L389.72 109.42 L390.51 111.93 L391.31 114.17 L392.11 116.11 L392.9 117.76 L393.7 119.13 L394.49 120.23 L395.29 121.11 L396.08 121.78 L396.88 122.29 L397.68 122.68 L398.47 122.95 L399.27 123.15 L400.06 123.3 L400.86 123.4 L401.66 123.47 L402.45 123.52 L403.25 123.55 L404.04 123.58 L404.84 123.6 L405.64 123.61 L406.43 123.63 L407.23 123.64 L408.02 123.65 L408.82 123.66 L409.62 123.68 L410.41 123.69 L411.21 123.7 L412 123.71 L412.8 123.72 L413.59 123.73 L414.39 123.74 L415.19 123.75 L415.98 123.76 L416.78 123.77 L417.57 123.78 L418.37 123.8 L419.17 123.81 L419.96 123.82 L420.76 123.83 L421.55 123.84 L422.35 123.85 L423.15 123.86 L423.94 123.87 L424.74 123.88 L425.53 123.89 L426.33 123.9 L427.12 123.91 L427.92 123.93 L428.72 123.94 L429.51 123.95 L430.31 123.96 L431.1 123.97 L431.9 123.98" fill="none" stroke="#2a4fd0" stroke-width="1.7" stroke-linejoin="round"/>
<circle cx="257.6" cy="166.03" r="0.9" fill="none" stroke="#bdbdbd" stroke-width="0.6"/>
<circle cx="259.19" cy="166.08" r="0.9" fill="none" stroke="#bdbdbd" stroke-width="0.6"/>
<circle cx="260.78" cy="167.93" r="0.9" fill="none" stroke="#bdbdbd" stroke-width="0.6"/>
<circle cx="262.38" cy="164.99" r="0.9" fill="none" stroke="#bdbdbd" stroke-width="0.6"/>
<circle cx="263.97" cy="167.16" r="0.9" fill="none" stroke="#bdbdbd" stroke-width="0.6"/>
<circle cx="265.56" cy="165.07" r="0.9" fill="none" stroke="#bdbdbd" stroke-width="0.6"/>
<circle cx="267.15" cy="168.45" r="0.9" fill="none" stroke="#bdbdbd" stroke-width="0.6"/>
<circle cx="268.74" cy="167.58" r="0.9" fill="none" stroke="#bdbdbd" stroke-width="0.6"/>
<circle cx="270.33" cy="168.76" r="0.9" fill="none" stroke="#bdbdbd" stroke-width="0.6"/>
<circle cx="271.93" cy="166.92" r="0.9" fill="none" stroke="#bdbdbd" stroke-width="0.6"/>
<circle cx="273.52" cy="167.85" r="0.9" fill="none" stroke="#bdbdbd" stroke-width="0.6"/>
<circle cx="275.11" cy="167.19" r="0.9" fill="none" stroke="#bdbdbd" stroke-width="0.6"/>
<circle cx="276.7" cy="166.76" r="0.9" fill="none" stroke="#bdbdbd" stroke-width="0.6"/>
<circle cx="278.29" cy="167.67" r="0.9" fill="none" stroke="#bdbdbd" stroke-width="0.6"/>
<circle cx="279.88" cy="166.29" r="0.9" fill="none" stroke="#bdbdbd" stroke-width="0.6"/>
<circle cx="281.48" cy="167.22" r="0.9" fill="none" stroke="#bdbdbd" stroke-width="0.6"/>
<circle cx="283.07" cy="168.29" r="0.9" fill="none" stroke="#bdbdbd" stroke-width="0.6"/>
<circle cx="284.66" cy="167.67" r="0.9" fill="none" stroke="#bdbdbd" stroke-width="0.6"/>
<circle cx="286.25" cy="167.21" r="0.9" fill="none" stroke="#bdbdbd" stroke-width="0.6"/>
<circle cx="287.84" cy="169.8" r="0.9" fill="none" stroke="#bdbdbd" stroke-width="0.6"/>
<circle cx="289.44" cy="167.6" r="0.9" fill="none" stroke="#bdbdbd" stroke-width="0.6"/>
<circle cx="291.03" cy="166.77" r="0.9" fill="none" stroke="#bdbdbd" stroke-width="0.6"/>
<circle cx="292.62" cy="167.12" r="0.9" fill="none" stroke="#bdbdbd" stroke-width="0.6"/>
<circle cx="294.21" cy="165.67" r="0.9" fill="none" stroke="#bdbdbd" stroke-width="0.6"/>
<circle cx="295.8" cy="164.48" r="0.9" fill="none" stroke="#bdbdbd" stroke-width="0.6"/>
<circle cx="297.39" cy="162.46" r="0.9" fill="none" stroke="#bdbdbd" stroke-width="0.6"/>
<circle cx="298.99" cy="161.95" r="0.9" fill="none" stroke="#bdbdbd" stroke-width="0.6"/>
<circle cx="300.58" cy="156.36" r="0.9" fill="none" stroke="#bdbdbd" stroke-width="0.6"/>
<circle cx="302.17" cy="152.57" r="0.9" fill="none" stroke="#bdbdbd" stroke-width="0.6"/>
<circle cx="303.76" cy="149.37" r="0.9" fill="none" stroke="#bdbdbd" stroke-width="0.6"/>
<circle cx="305.35" cy="147.98" r="0.9" fill="none" stroke="#bdbdbd" stroke-width="0.6"/>
<circle cx="306.95" cy="144.56" r="0.9" fill="none" stroke="#bdbdbd" stroke-width="0.6"/>
<circle cx="308.54" cy="144.82" r="0.9" fill="none" stroke="#bdbdbd" stroke-width="0.6"/>
<circle cx="310.13" cy="150.25" r="0.9" fill="none" stroke="#bdbdbd" stroke-width="0.6"/>
<circle cx="311.72" cy="149.83" r="0.9" fill="none" stroke="#bdbdbd" stroke-width="0.6"/>
<circle cx="313.31" cy="154.91" r="0.9" fill="none" stroke="#bdbdbd" stroke-width="0.6"/>
<circle cx="314.9" cy="159.75" r="0.9" fill="none" stroke="#bdbdbd" stroke-width="0.6"/>
<circle cx="316.5" cy="164.54" r="0.9" fill="none" stroke="#bdbdbd" stroke-width="0.6"/>
<circle cx="318.09" cy="163.68" r="0.9" fill="none" stroke="#bdbdbd" stroke-width="0.6"/>
<circle cx="319.68" cy="163.79" r="0.9" fill="none" stroke="#bdbdbd" stroke-width="0.6"/>
<circle cx="321.27" cy="167.86" r="0.9" fill="none" stroke="#bdbdbd" stroke-width="0.6"/>
<circle cx="322.86" cy="167.22" r="0.9" fill="none" stroke="#bdbdbd" stroke-width="0.6"/>
<circle cx="324.45" cy="167.64" r="0.9" fill="none" stroke="#bdbdbd" stroke-width="0.6"/>
<circle cx="326.05" cy="168.64" r="0.9" fill="none" stroke="#bdbdbd" stroke-width="0.6"/>
<circle cx="327.64" cy="168.47" r="0.9" fill="none" stroke="#bdbdbd" stroke-width="0.6"/>
<circle cx="329.23" cy="168.59" r="0.9" fill="none" stroke="#bdbdbd" stroke-width="0.6"/>
<circle cx="330.82" cy="167.89" r="0.9" fill="none" stroke="#bdbdbd" stroke-width="0.6"/>
<circle cx="332.41" cy="169.64" r="0.9" fill="none" stroke="#bdbdbd" stroke-width="0.6"/>
<circle cx="334.01" cy="169.88" r="0.9" fill="none" stroke="#bdbdbd" stroke-width="0.6"/>
<circle cx="335.6" cy="168.43" r="0.9" fill="none" stroke="#bdbdbd" stroke-width="0.6"/>
<circle cx="337.19" cy="167.97" r="0.9" fill="none" stroke="#bdbdbd" stroke-width="0.6"/>
<circle cx="338.78" cy="169.18" r="0.9" fill="none" stroke="#bdbdbd" stroke-width="0.6"/>
<circle cx="340.37" cy="168.95" r="0.9" fill="none" stroke="#bdbdbd" stroke-width="0.6"/>
<circle cx="341.96" cy="167.46" r="0.9" fill="none" stroke="#bdbdbd" stroke-width="0.6"/>
<circle cx="343.56" cy="168.06" r="0.9" fill="none" stroke="#bdbdbd" stroke-width="0.6"/>
<circle cx="345.15" cy="169.6" r="0.9" fill="none" stroke="#bdbdbd" stroke-width="0.6"/>
<circle cx="346.74" cy="168.48" r="0.9" fill="none" stroke="#bdbdbd" stroke-width="0.6"/>
<circle cx="348.33" cy="168.27" r="0.9" fill="none" stroke="#bdbdbd" stroke-width="0.6"/>
<circle cx="349.92" cy="168.83" r="0.9" fill="none" stroke="#bdbdbd" stroke-width="0.6"/>
<circle cx="351.52" cy="168.61" r="0.9" fill="none" stroke="#bdbdbd" stroke-width="0.6"/>
<circle cx="353.11" cy="168.67" r="0.9" fill="none" stroke="#bdbdbd" stroke-width="0.6"/>
<circle cx="354.7" cy="166.76" r="0.9" fill="none" stroke="#bdbdbd" stroke-width="0.6"/>
<circle cx="356.29" cy="170.47" r="0.9" fill="none" stroke="#bdbdbd" stroke-width="0.6"/>
<circle cx="357.88" cy="168.94" r="0.9" fill="none" stroke="#bdbdbd" stroke-width="0.6"/>
<circle cx="359.47" cy="167.89" r="0.9" fill="none" stroke="#bdbdbd" stroke-width="0.6"/>
<circle cx="361.07" cy="169.76" r="0.9" fill="none" stroke="#bdbdbd" stroke-width="0.6"/>
<circle cx="362.66" cy="169.1" r="0.9" fill="none" stroke="#bdbdbd" stroke-width="0.6"/>
<circle cx="364.25" cy="168.8" r="0.9" fill="none" stroke="#bdbdbd" stroke-width="0.6"/>
<circle cx="365.84" cy="169.76" r="0.9" fill="none" stroke="#bdbdbd" stroke-width="0.6"/>
<circle cx="367.43" cy="170.77" r="0.9" fill="none" stroke="#bdbdbd" stroke-width="0.6"/>
<circle cx="369.02" cy="168.63" r="0.9" fill="none" stroke="#bdbdbd" stroke-width="0.6"/>
<circle cx="370.62" cy="168.81" r="0.9" fill="none" stroke="#bdbdbd" stroke-width="0.6"/>
<circle cx="372.21" cy="167.87" r="0.9" fill="none" stroke="#bdbdbd" stroke-width="0.6"/>
<circle cx="373.8" cy="162.23" r="0.9" fill="none" stroke="#bdbdbd" stroke-width="0.6"/>
<circle cx="375.39" cy="159.11" r="0.9" fill="none" stroke="#bdbdbd" stroke-width="0.6"/>
<circle cx="376.98" cy="155.58" r="0.9" fill="none" stroke="#bdbdbd" stroke-width="0.6"/>
<circle cx="378.58" cy="147.32" r="0.9" fill="none" stroke="#bdbdbd" stroke-width="0.6"/>
<circle cx="380.17" cy="142.67" r="0.9" fill="none" stroke="#bdbdbd" stroke-width="0.6"/>
<circle cx="381.76" cy="138.75" r="0.9" fill="none" stroke="#bdbdbd" stroke-width="0.6"/>
<circle cx="383.35" cy="134.64" r="0.9" fill="none" stroke="#bdbdbd" stroke-width="0.6"/>
<circle cx="384.94" cy="132.74" r="0.9" fill="none" stroke="#bdbdbd" stroke-width="0.6"/>
<circle cx="386.53" cy="131.56" r="0.9" fill="none" stroke="#bdbdbd" stroke-width="0.6"/>
<circle cx="388.13" cy="139.56" r="0.9" fill="none" stroke="#bdbdbd" stroke-width="0.6"/>
<circle cx="389.72" cy="143.2" r="0.9" fill="none" stroke="#bdbdbd" stroke-width="0.6"/>
<circle cx="391.31" cy="149.55" r="0.9" fill="none" stroke="#bdbdbd" stroke-width="0.6"/>
<circle cx="392.9" cy="155.15" r="0.9" fill="none" stroke="#bdbdbd" stroke-width="0.6"/>
<circle cx="394.49" cy="157.89" r="0.9" fill="none" stroke="#bdbdbd" stroke-width="0.6"/>
<circle cx="396.08" cy="161.94" r="0.9" fill="none" stroke="#bdbdbd" stroke-width="0.6"/>
<circle cx="397.68" cy="164.74" r="0.9" fill="none" stroke="#bdbdbd" stroke-width="0.6"/>
<circle cx="399.27" cy="169.5" r="0.9" fill="none" stroke="#bdbdbd" stroke-width="0.6"/>
<circle cx="400.86" cy="167.69" r="0.9" fill="none" stroke="#bdbdbd" stroke-width="0.6"/>
<circle cx="402.45" cy="168.78" r="0.9" fill="none" stroke="#bdbdbd" stroke-width="0.6"/>
<circle cx="404.04" cy="169.03" r="0.9" fill="none" stroke="#bdbdbd" stroke-width="0.6"/>
<circle cx="405.64" cy="169.98" r="0.9" fill="none" stroke="#bdbdbd" stroke-width="0.6"/>
<circle cx="407.23" cy="169.98" r="0.9" fill="none" stroke="#bdbdbd" stroke-width="0.6"/>
<circle cx="408.82" cy="169.78" r="0.9" fill="none" stroke="#bdbdbd" stroke-width="0.6"/>
<circle cx="410.41" cy="168.28" r="0.9" fill="none" stroke="#bdbdbd" stroke-width="0.6"/>
<circle cx="412" cy="166.43" r="0.9" fill="none" stroke="#bdbdbd" stroke-width="0.6"/>
<circle cx="413.59" cy="169.76" r="0.9" fill="none" stroke="#bdbdbd" stroke-width="0.6"/>
<circle cx="415.19" cy="169.89" r="0.9" fill="none" stroke="#bdbdbd" stroke-width="0.6"/>
<circle cx="416.78" cy="170.88" r="0.9" fill="none" stroke="#bdbdbd" stroke-width="0.6"/>
<circle cx="418.37" cy="169.57" r="0.9" fill="none" stroke="#bdbdbd" stroke-width="0.6"/>
<circle cx="419.96" cy="169.08" r="0.9" fill="none" stroke="#bdbdbd" stroke-width="0.6"/>
<circle cx="421.55" cy="170.13" r="0.9" fill="none" stroke="#bdbdbd" stroke-width="0.6"/>
<circle cx="423.15" cy="168.19" r="0.9" fill="none" stroke="#bdbdbd" stroke-width="0.6"/>
<circle cx="424.74" cy="168.73" r="0.9" fill="none" stroke="#bdbdbd" stroke-width="0.6"/>
<circle cx="426.33" cy="168.79" r="0.9" fill="none" stroke="#bdbdbd" stroke-width="0.6"/>
<circle cx="427.92" cy="170.1" r="0.9" fill="none" stroke="#bdbdbd" stroke-width="0.6"/>
<circle cx="429.51" cy="171.93" r="0.9" fill="none" stroke="#bdbdbd" stroke-width="0.6"/>
<circle cx="431.1" cy="170.63" r="0.9" fill="none" stroke="#bdbdbd" stroke-width="0.6"/>
<path d="M257.6 166.61 L258.4 166.62 L259.19 166.63 L259.99 166.64 L260.78 166.66 L261.58 166.67 L262.38 166.68 L263.17 166.69 L263.97 166.71 L264.76 166.72 L265.56 166.73 L266.35 166.74 L267.15 166.75 L267.95 166.77 L268.74 166.78 L269.54 166.79 L270.33 166.8 L271.13 166.81 L271.93 166.83 L272.72 166.84 L273.52 166.85 L274.31 166.86 L275.11 166.88 L275.91 166.89 L276.7 166.9 L277.5 166.91 L278.29 166.92 L279.09 166.94 L279.88 166.95 L280.68 166.96 L281.48 166.97 L282.27 166.99 L283.07 167 L283.86 167.01 L284.66 167.02 L285.46 167.03 L286.25 167.05 L287.05 167.06 L287.84 167.07 L288.64 167.08 L289.44 167.1 L290.23 167.11 L291.03 167.12 L291.82 167.13 L292.62 167.14 L293.42 167.16 L294.21 167.17 L295.01 167.18 L295.8 167.19 L296.6 167.2 L297.39 167.22 L298.19 167.23 L298.99 167.24 L299.78 167.25 L300.58 167.27 L301.37 167.28 L302.17 167.29 L302.97 167.3 L303.76 167.31 L304.56 167.33 L305.35 167.34 L306.15 167.35 L306.95 167.36 L307.74 167.38 L308.54 167.39 L309.33 167.4 L310.13 167.41 L310.92 167.42 L311.72 167.44 L312.52 167.45 L313.31 167.46 L314.11 167.47 L314.9 167.49 L315.7 167.5 L316.5 167.51 L317.29 167.52 L318.09 167.53 L318.88 167.55 L319.68 167.56 L320.48 167.57 L321.27 167.58 L322.07 167.59 L322.86 167.61 L323.66 167.62 L324.45 167.63 L325.25 167.64 L326.05 167.66 L326.84 167.67 L327.64 167.68 L328.43 167.69 L329.23 167.7 L330.03 167.72 L330.82 167.73 L331.62 167.74 L332.41 167.75 L333.21 167.77 L334.01 167.78 L334.8 167.79 L335.6 167.8 L336.39 167.81 L337.19 167.83 L337.98 167.84 L338.78 167.85 L339.58 167.86 L340.37 167.88 L341.17 167.89 L341.96 167.9 L342.76 167.91 L343.56 167.92 L344.35 167.94 L345.15 167.95 L345.94 167.96 L346.74 167.97 L347.54 167.99 L348.33 168 L349.13 168.01 L349.92 168.02 L350.72 168.03 L351.52 168.05 L352.31 168.06 L353.11 168.07 L353.9 168.08 L354.7 168.09 L355.49 168.11 L356.29 168.12 L357.09 168.13 L357.88 168.14 L358.68 168.16 L359.47 168.17 L360.27 168.18 L361.07 168.19 L361.86 168.2 L362.66 168.22 L363.45 168.23 L364.25 168.24 L365.05 168.25 L365.84 168.27 L366.64 168.28 L367.43 168.29 L368.23 168.3 L369.02 168.31 L369.82 168.33 L370.62 168.34 L371.41 168.35 L372.21 168.36 L373 168.38 L373.8 168.39 L374.6 168.4 L375.39 168.41 L376.19 168.42 L376.98 168.44 L377.78 168.45 L378.58 168.46 L379.37 168.47 L380.17 168.48 L380.96 168.5 L381.76 168.51 L382.55 168.52 L383.35 168.53 L384.15 168.55 L384.94 168.56 L385.74 168.57 L386.53 168.58 L387.33 168.59 L388.13 168.61 L388.92 168.62 L389.72 168.63 L390.51 168.64 L391.31 168.66 L392.11 168.67 L392.9 168.68 L393.7 168.69 L394.49 168.7 L395.29 168.72 L396.08 168.73 L396.88 168.74 L397.68 168.75 L398.47 168.77 L399.27 168.78 L400.06 168.79 L400.86 168.8 L401.66 168.81 L402.45 168.83 L403.25 168.84 L404.04 168.85 L404.84 168.86 L405.64 168.87 L406.43 168.89 L407.23 168.9 L408.02 168.91 L408.82 168.92 L409.62 168.94 L410.41 168.95 L411.21 168.96 L412 168.97 L412.8 168.98 L413.59 169 L414.39 169.01 L415.19 169.02 L415.98 169.03 L416.78 169.05 L417.57 169.06 L418.37 169.07 L419.17 169.08 L419.96 169.09 L420.76 169.11 L421.55 169.12 L422.35 169.13 L423.15 169.14 L423.94 169.16 L424.74 169.17 L425.53 169.18 L426.33 169.19 L427.12 169.2 L427.92 169.22 L428.72 169.23 L429.51 169.24 L430.31 169.25 L431.1 169.26 L431.9 169.28" fill="none" stroke="#1a2a8a" stroke-width="1.4" stroke-linejoin="round"/>
<path d="M257.6 166.61 L258.4 166.62 L259.19 166.63 L259.99 166.64 L260.78 166.66 L261.58 166.67 L262.38 166.68 L263.17 166.69 L263.97 166.71 L264.76 166.72 L265.56 166.73 L266.35 166.74 L267.15 166.75 L267.95 166.77 L268.74 166.78 L269.54 166.79 L270.33 166.8 L271.13 166.81 L271.93 166.83 L272.72 166.84 L273.52 166.85 L274.31 166.86 L275.11 166.88 L275.91 166.89 L276.7 166.9 L277.5 166.91 L278.29 166.92 L279.09 166.94 L279.88 166.95 L280.68 166.96 L281.48 166.97 L282.27 166.98 L283.07 167 L283.86 167.01 L284.66 167.02 L285.46 167.02 L286.25 167.03 L287.05 167.02 L287.84 167.01 L288.64 166.99 L289.44 166.94 L290.23 166.87 L291.03 166.76 L291.82 166.6 L292.62 166.36 L293.42 166.03 L294.21 165.59 L295.01 165.01 L295.8 164.27 L296.6 163.34 L297.39 162.21 L298.19 160.87 L298.99 159.33 L299.78 157.6 L300.58 155.74 L301.37 153.77 L302.17 151.79 L302.97 149.87 L303.76 148.1 L304.56 146.57 L305.35 145.37 L306.15 144.56 L306.95 144.19 L307.74 144.28 L308.54 144.84 L309.33 145.82 L310.13 147.18 L310.92 148.83 L311.72 150.69 L312.52 152.67 L313.31 154.67 L314.11 156.63 L314.9 158.48 L315.7 160.17 L316.5 161.66 L317.29 162.95 L318.09 164.03 L318.88 164.91 L319.68 165.62 L320.48 166.17 L321.27 166.6 L322.07 166.91 L322.86 167.14 L323.66 167.31 L324.45 167.43 L325.25 167.52 L326.05 167.58 L326.84 167.62 L327.64 167.65 L328.43 167.67 L329.23 167.69 L330.03 167.71 L330.82 167.73 L331.62 167.74 L332.41 167.75 L333.21 167.77 L334.01 167.78 L334.8 167.79 L335.6 167.8 L336.39 167.81 L337.19 167.83 L337.98 167.84 L338.78 167.85 L339.58 167.86 L340.37 167.88 L341.17 167.89 L341.96 167.9 L342.76 167.91 L343.56 167.92 L344.35 167.94 L345.15 167.95 L345.94 167.96 L346.74 167.97 L347.54 167.99 L348.33 168 L349.13 168.01 L349.92 168.02 L350.72 168.03 L351.52 168.05 L352.31 168.06 L353.11 168.07 L353.9 168.08 L354.7 168.09 L355.49 168.11 L356.29 168.12 L357.09 168.13 L357.88 168.14 L358.68 168.15 L359.47 168.17 L360.27 168.18 L361.07 168.18 L361.86 168.19 L362.66 168.19 L363.45 168.19 L364.25 168.18 L365.05 168.15 L365.84 168.11 L366.64 168.03 L367.43 167.91 L368.23 167.74 L369.02 167.48 L369.82 167.12 L370.62 166.63 L371.41 165.97 L372.21 165.11 L373 164.02 L373.8 162.65 L374.6 161 L375.39 159.03 L376.19 156.76 L376.98 154.2 L377.78 151.4 L378.58 148.43 L379.37 145.37 L380.17 142.34 L380.96 139.46 L381.76 136.86 L382.55 134.67 L383.35 133 L384.15 131.94 L384.94 131.56 L385.74 131.87 L386.53 132.85 L387.33 134.46 L388.13 136.61 L388.92 139.18 L389.72 142.05 L390.51 145.09 L391.31 148.18 L392.11 151.2 L392.9 154.05 L393.7 156.67 L394.49 159.01 L395.29 161.05 L396.08 162.77 L396.88 164.2 L397.68 165.36 L398.47 166.27 L399.27 166.98 L400.06 167.52 L400.86 167.92 L401.66 168.21 L402.45 168.43 L403.25 168.58 L404.04 168.68 L404.84 168.76 L405.64 168.81 L406.43 168.85 L407.23 168.88 L408.02 168.9 L408.82 168.92 L409.62 168.93 L410.41 168.95 L411.21 168.96 L412 168.97 L412.8 168.98 L413.59 169 L414.39 169.01 L415.19 169.02 L415.98 169.03 L416.78 169.05 L417.57 169.06 L418.37 169.07 L419.17 169.08 L419.96 169.09 L420.76 169.11 L421.55 169.12 L422.35 169.13 L423.15 169.14 L423.94 169.16 L424.74 169.17 L425.53 169.18 L426.33 169.19 L427.12 169.2 L427.92 169.22 L428.72 169.23 L429.51 169.24 L430.31 169.25 L431.1 169.26 L431.9 169.28" fill="none" stroke="#1a2a8a" stroke-width="1.7" stroke-linejoin="round"/>
<text x="0" y="0" transform="translate(307.4 42.2) scale(1 1.13)" font-size="7.35" fill="#2d55d6" stroke="#2d55d6" text-anchor="middle" font-weight="bold">340.6</text>
<text x="0" y="0" transform="translate(385.2 34.9) scale(1 1.13)" font-size="7.35" fill="#2d55d6" stroke="#2d55d6" text-anchor="middle" font-weight="bold">335.3</text>
<text x="0" y="0" transform="translate(291 90.8) scale(1 1.13)" font-size="7.35" fill="#2d55d6" stroke="#2d55d6" text-anchor="middle" font-weight="bold">340.8</text>
<text x="0" y="0" transform="translate(366.8 91.7) scale(1 1.13)" font-size="7.35" fill="#2d55d6" stroke="#2d55d6" text-anchor="middle" font-weight="bold">335.5</text>
<text x="358" y="58.3" font-size="7.4" fill="#2d55d6" stroke="#2d55d6" text-anchor="start" font-weight="bold">Pd<tspan font-size="5.03" baseline-shift="2.96">0</tspan></text>
<text x="0" y="0" transform="translate(261.1 66) scale(1 1.07)" font-size="8.2" fill="#000" stroke="#000" text-anchor="start" font-weight="bold">CH<tspan font-size="4.92" baseline-shift="-2.13">3</tspan>OH</text>
<text x="0" y="0" transform="translate(260.8 111.6) scale(1 1.07)" font-size="8.2" fill="#000" stroke="#000" text-anchor="start" font-weight="bold">H<tspan font-size="4.92" baseline-shift="-2.13">2</tspan>O</text>
<text x="0" y="0" transform="translate(260.8 158) scale(1 1.07)" font-size="8.2" fill="#000" stroke="#000" text-anchor="start" font-weight="bold">H<tspan font-size="4.92" baseline-shift="-2.13">2</tspan></text>
<rect x="257.1" y="7.45" width="176.3" height="175.55" fill="none" stroke="#000" stroke-width="1.45"/>
<line x1="433.4" y1="183" x2="433.4" y2="186.5" stroke="#000" stroke-width="1.2" stroke-linecap="butt"/>
<line x1="404.02" y1="183" x2="404.02" y2="186.5" stroke="#000" stroke-width="1.2" stroke-linecap="butt"/>
<line x1="374.63" y1="183" x2="374.63" y2="186.5" stroke="#000" stroke-width="1.2" stroke-linecap="butt"/>
<line x1="345.25" y1="183" x2="345.25" y2="186.5" stroke="#000" stroke-width="1.2" stroke-linecap="butt"/>
<line x1="315.87" y1="183" x2="315.87" y2="186.5" stroke="#000" stroke-width="1.2" stroke-linecap="butt"/>
<line x1="286.48" y1="183" x2="286.48" y2="186.5" stroke="#000" stroke-width="1.2" stroke-linecap="butt"/>
<line x1="257.1" y1="183" x2="257.1" y2="186.5" stroke="#000" stroke-width="1.2" stroke-linecap="butt"/>
<line x1="418.71" y1="183" x2="418.71" y2="185.2" stroke="#000" stroke-width="1.2" stroke-linecap="butt"/>
<line x1="389.32" y1="183" x2="389.32" y2="185.2" stroke="#000" stroke-width="1.2" stroke-linecap="butt"/>
<line x1="359.94" y1="183" x2="359.94" y2="185.2" stroke="#000" stroke-width="1.2" stroke-linecap="butt"/>
<line x1="330.56" y1="183" x2="330.56" y2="185.2" stroke="#000" stroke-width="1.2" stroke-linecap="butt"/>
<line x1="301.18" y1="183" x2="301.18" y2="185.2" stroke="#000" stroke-width="1.2" stroke-linecap="butt"/>
<line x1="271.79" y1="183" x2="271.79" y2="185.2" stroke="#000" stroke-width="1.2" stroke-linecap="butt"/>
<text x="0" y="0" transform="translate(433.4 195.9) scale(0.92 1.02)" font-size="8" fill="#000" stroke="#000" text-anchor="middle" font-weight="bold" letter-spacing="0.3">332</text>
<text x="0" y="0" transform="translate(404.02 195.9) scale(0.92 1.02)" font-size="8" fill="#000" stroke="#000" text-anchor="middle" font-weight="bold" letter-spacing="0.3">334</text>
<text x="0" y="0" transform="translate(374.63 195.9) scale(0.92 1.02)" font-size="8" fill="#000" stroke="#000" text-anchor="middle" font-weight="bold" letter-spacing="0.3">336</text>
<text x="0" y="0" transform="translate(345.25 195.9) scale(0.92 1.02)" font-size="8" fill="#000" stroke="#000" text-anchor="middle" font-weight="bold" letter-spacing="0.3">338</text>
<text x="0" y="0" transform="translate(315.87 195.9) scale(0.92 1.02)" font-size="8" fill="#000" stroke="#000" text-anchor="middle" font-weight="bold" letter-spacing="0.3">340</text>
<text x="0" y="0" transform="translate(286.48 195.9) scale(0.92 1.02)" font-size="8" fill="#000" stroke="#000" text-anchor="middle" font-weight="bold" letter-spacing="0.3">342</text>
<text x="0" y="0" transform="translate(257.1 195.9) scale(0.92 1.02)" font-size="8" fill="#000" stroke="#000" text-anchor="middle" font-weight="bold" letter-spacing="0.3">344</text>
<text x="0" y="0" transform="translate(345.3 212.4) scale(1 0.94)" font-size="10" fill="#000" stroke="none" text-anchor="middle" font-weight="bold">Binding energy (eV)</text>
<text x="0" y="0" font-size="10" font-weight="bold" text-anchor="middle" dominant-baseline="central" transform="translate(246.3 95.5) rotate(-90)">Intensity (a.u.)</text>
<text x="0" y="0" transform="translate(493.5 18.3) scale(1 1.07)" font-size="8.2" fill="#000" stroke="#000" text-anchor="start" font-weight="bold">PdCu<tspan font-size="4.92" baseline-shift="-2.13">1</tspan>/ZnO</text>
<text x="0" y="0" transform="translate(541.6 18.3) scale(1 1.07)" font-size="8.2" fill="#d41e34" stroke="#d41e34" text-anchor="start" font-weight="bold">Cu <tspan font-style="italic">2p</tspan></text>
<line x1="531.5" y1="47" x2="531.5" y2="66" stroke="#d41e34" stroke-width="1.1" stroke-dasharray="2.2 1.8" stroke-linecap="butt"/>
<line x1="631.4" y1="8.3" x2="631.4" y2="54" stroke="#d41e34" stroke-width="1.1" stroke-dasharray="2.2 1.8" stroke-linecap="butt"/>
<line x1="529.9" y1="96" x2="529.9" y2="120" stroke="#d41e34" stroke-width="1.1" stroke-dasharray="2.2 1.8" stroke-linecap="butt"/>
<line x1="630.5" y1="51.4" x2="630.5" y2="77" stroke="#d41e34" stroke-width="1.1" stroke-dasharray="2.2 1.8" stroke-linecap="butt"/>
<line x1="532.5" y1="148" x2="532.5" y2="166" stroke="#d41e34" stroke-width="1.1" stroke-dasharray="2.2 1.8" stroke-linecap="butt"/>
<line x1="632.5" y1="105.5" x2="632.5" y2="126" stroke="#d41e34" stroke-width="1.1" stroke-dasharray="2.2 1.8" stroke-linecap="butt"/>
<circle cx="491.47" cy="75.24" r="1" fill="none" stroke="#adadad" stroke-width="0.6"/>
<circle cx="492.3" cy="77.74" r="1" fill="none" stroke="#adadad" stroke-width="0.6"/>
<circle cx="493.2" cy="76.35" r="1" fill="none" stroke="#adadad" stroke-width="0.6"/>
<circle cx="493.55" cy="78.89" r="1" fill="none" stroke="#adadad" stroke-width="0.6"/>
<circle cx="494.07" cy="80.11" r="1" fill="none" stroke="#adadad" stroke-width="0.6"/>
<circle cx="496.74" cy="75.36" r="1" fill="none" stroke="#adadad" stroke-width="0.6"/>
<circle cx="497.03" cy="80.74" r="1" fill="none" stroke="#adadad" stroke-width="0.6"/>
<circle cx="497.91" cy="78.23" r="1" fill="none" stroke="#adadad" stroke-width="0.6"/>
<circle cx="499.12" cy="75.6" r="1" fill="none" stroke="#adadad" stroke-width="0.6"/>
<circle cx="499.69" cy="78.13" r="1" fill="none" stroke="#adadad" stroke-width="0.6"/>
<circle cx="500.14" cy="76.22" r="1" fill="none" stroke="#adadad" stroke-width="0.6"/>
<circle cx="502.69" cy="74.89" r="1" fill="none" stroke="#adadad" stroke-width="0.6"/>
<circle cx="502.91" cy="76.9" r="1" fill="none" stroke="#adadad" stroke-width="0.6"/>
<circle cx="503.91" cy="78.22" r="1" fill="none" stroke="#adadad" stroke-width="0.6"/>
<circle cx="505" cy="72.31" r="1" fill="none" stroke="#adadad" stroke-width="0.6"/>
<circle cx="505.23" cy="79.58" r="1" fill="none" stroke="#adadad" stroke-width="0.6"/>
<circle cx="506.59" cy="77.85" r="1" fill="none" stroke="#adadad" stroke-width="0.6"/>
<circle cx="507.89" cy="75.3" r="1" fill="none" stroke="#adadad" stroke-width="0.6"/>
<circle cx="508.77" cy="76.99" r="1" fill="none" stroke="#adadad" stroke-width="0.6"/>
<circle cx="508.83" cy="76.17" r="1" fill="none" stroke="#adadad" stroke-width="0.6"/>
<circle cx="510.11" cy="75.6" r="1" fill="none" stroke="#adadad" stroke-width="0.6"/>
<circle cx="510.65" cy="75.25" r="1" fill="none" stroke="#adadad" stroke-width="0.6"/>
<circle cx="511.04" cy="75.87" r="1" fill="none" stroke="#adadad" stroke-width="0.6"/>
<circle cx="511.77" cy="77.61" r="1" fill="none" stroke="#adadad" stroke-width="0.6"/>
<circle cx="513.18" cy="74.64" r="1" fill="none" stroke="#adadad" stroke-width="0.6"/>
<circle cx="513.39" cy="75.69" r="1" fill="none" stroke="#adadad" stroke-width="0.6"/>
<circle cx="514.56" cy="74.39" r="1" fill="none" stroke="#adadad" stroke-width="0.6"/>
<circle cx="514.69" cy="75.73" r="1" fill="none" stroke="#adadad" stroke-width="0.6"/>
<circle cx="516.34" cy="73.13" r="1" fill="none" stroke="#adadad" stroke-width="0.6"/>
<circle cx="516.87" cy="76.74" r="1" fill="none" stroke="#adadad" stroke-width="0.6"/>
<circle cx="518.03" cy="71.57" r="1" fill="none" stroke="#adadad" stroke-width="0.6"/>
<circle cx="518.65" cy="71.96" r="1" fill="none" stroke="#adadad" stroke-width="0.6"/>
<circle cx="519.9" cy="68.53" r="1" fill="none" stroke="#adadad" stroke-width="0.6"/>
<circle cx="521.22" cy="70.11" r="1" fill="none" stroke="#adadad" stroke-width="0.6"/>
<circle cx="521.82" cy="71.69" r="1" fill="none" stroke="#adadad" stroke-width="0.6"/>
<circle cx="523.45" cy="72.08" r="1" fill="none" stroke="#adadad" stroke-width="0.6"/>
<circle cx="523.51" cy="68.26" r="1" fill="none" stroke="#adadad" stroke-width="0.6"/>
<circle cx="524.93" cy="67.75" r="1" fill="none" stroke="#adadad" stroke-width="0.6"/>
<circle cx="525.56" cy="67.45" r="1" fill="none" stroke="#adadad" stroke-width="0.6"/>
<circle cx="525.87" cy="64.92" r="1" fill="none" stroke="#adadad" stroke-width="0.6"/>
<circle cx="526.55" cy="64.66" r="1" fill="none" stroke="#adadad" stroke-width="0.6"/>
<circle cx="527.78" cy="62.18" r="1" fill="none" stroke="#adadad" stroke-width="0.6"/>
<circle cx="528" cy="60.16" r="1" fill="none" stroke="#adadad" stroke-width="0.6"/>
<circle cx="528.79" cy="63.81" r="1" fill="none" stroke="#adadad" stroke-width="0.6"/>
<circle cx="529.6" cy="58.81" r="1" fill="none" stroke="#adadad" stroke-width="0.6"/>
<circle cx="530.15" cy="56.85" r="1" fill="none" stroke="#adadad" stroke-width="0.6"/>
<circle cx="531.3" cy="60.2" r="1" fill="none" stroke="#adadad" stroke-width="0.6"/>
<circle cx="531.98" cy="51.8" r="1" fill="none" stroke="#adadad" stroke-width="0.6"/>
<circle cx="532.97" cy="56.41" r="1" fill="none" stroke="#adadad" stroke-width="0.6"/>
<circle cx="533.75" cy="57.1" r="1" fill="none" stroke="#adadad" stroke-width="0.6"/>
<circle cx="534.3" cy="56.79" r="1" fill="none" stroke="#adadad" stroke-width="0.6"/>
<circle cx="535.25" cy="58.11" r="1" fill="none" stroke="#adadad" stroke-width="0.6"/>
<circle cx="535.9" cy="58.26" r="1" fill="none" stroke="#adadad" stroke-width="0.6"/>
<circle cx="536.48" cy="62.11" r="1" fill="none" stroke="#adadad" stroke-width="0.6"/>
<circle cx="537.2" cy="66.12" r="1" fill="none" stroke="#adadad" stroke-width="0.6"/>
<circle cx="538.46" cy="65.4" r="1" fill="none" stroke="#adadad" stroke-width="0.6"/>
<circle cx="539.36" cy="68.79" r="1" fill="none" stroke="#adadad" stroke-width="0.6"/>
<circle cx="540.06" cy="65.33" r="1" fill="none" stroke="#adadad" stroke-width="0.6"/>
<circle cx="541.12" cy="70.27" r="1" fill="none" stroke="#adadad" stroke-width="0.6"/>
<circle cx="541.64" cy="69.2" r="1" fill="none" stroke="#adadad" stroke-width="0.6"/>
<circle cx="542.15" cy="67.52" r="1" fill="none" stroke="#adadad" stroke-width="0.6"/>
<circle cx="542.6" cy="65" r="1" fill="none" stroke="#adadad" stroke-width="0.6"/>
<circle cx="543.65" cy="70.49" r="1" fill="none" stroke="#adadad" stroke-width="0.6"/>
<circle cx="544.56" cy="68.14" r="1" fill="none" stroke="#adadad" stroke-width="0.6"/>
<circle cx="544.94" cy="63.96" r="1" fill="none" stroke="#adadad" stroke-width="0.6"/>
<circle cx="545.71" cy="64.3" r="1" fill="none" stroke="#adadad" stroke-width="0.6"/>
<circle cx="546.93" cy="67.69" r="1" fill="none" stroke="#adadad" stroke-width="0.6"/>
<circle cx="547.29" cy="68.43" r="1" fill="none" stroke="#adadad" stroke-width="0.6"/>
<circle cx="547.83" cy="65.65" r="1" fill="none" stroke="#adadad" stroke-width="0.6"/>
<circle cx="549.05" cy="69.75" r="1" fill="none" stroke="#adadad" stroke-width="0.6"/>
<circle cx="550.13" cy="64.7" r="1" fill="none" stroke="#adadad" stroke-width="0.6"/>
<circle cx="551.01" cy="68.52" r="1" fill="none" stroke="#adadad" stroke-width="0.6"/>
<circle cx="552.11" cy="68.49" r="1" fill="none" stroke="#adadad" stroke-width="0.6"/>
<circle cx="552.22" cy="63.77" r="1" fill="none" stroke="#adadad" stroke-width="0.6"/>
<circle cx="553.15" cy="66.12" r="1" fill="none" stroke="#adadad" stroke-width="0.6"/>
<circle cx="553.95" cy="67.69" r="1" fill="none" stroke="#adadad" stroke-width="0.6"/>
<circle cx="554.65" cy="69.3" r="1" fill="none" stroke="#adadad" stroke-width="0.6"/>
<circle cx="555.05" cy="60.99" r="1" fill="none" stroke="#adadad" stroke-width="0.6"/>
<circle cx="556.21" cy="69.11" r="1" fill="none" stroke="#adadad" stroke-width="0.6"/>
<circle cx="557.12" cy="66.67" r="1" fill="none" stroke="#adadad" stroke-width="0.6"/>
<circle cx="557.25" cy="67.24" r="1" fill="none" stroke="#adadad" stroke-width="0.6"/>
<circle cx="558.15" cy="67.35" r="1" fill="none" stroke="#adadad" stroke-width="0.6"/>
<circle cx="559.05" cy="68.33" r="1" fill="none" stroke="#adadad" stroke-width="0.6"/>
<circle cx="559.95" cy="66.26" r="1" fill="none" stroke="#adadad" stroke-width="0.6"/>
<circle cx="560.32" cy="68.37" r="1" fill="none" stroke="#adadad" stroke-width="0.6"/>
<circle cx="561.04" cy="64.36" r="1" fill="none" stroke="#adadad" stroke-width="0.6"/>
<circle cx="561.78" cy="61.8" r="1" fill="none" stroke="#adadad" stroke-width="0.6"/>
<circle cx="562.65" cy="65.55" r="1" fill="none" stroke="#adadad" stroke-width="0.6"/>
<circle cx="563.71" cy="61.99" r="1" fill="none" stroke="#adadad" stroke-width="0.6"/>
<circle cx="564.47" cy="64.39" r="1" fill="none" stroke="#adadad" stroke-width="0.6"/>
<circle cx="565.41" cy="67.61" r="1" fill="none" stroke="#adadad" stroke-width="0.6"/>
<circle cx="566.54" cy="63.06" r="1" fill="none" stroke="#adadad" stroke-width="0.6"/>
<circle cx="568.15" cy="60.3" r="1" fill="none" stroke="#adadad" stroke-width="0.6"/>
<circle cx="569.5" cy="62.2" r="1" fill="none" stroke="#adadad" stroke-width="0.6"/>
<circle cx="570.23" cy="63.23" r="1" fill="none" stroke="#adadad" stroke-width="0.6"/>
<circle cx="570.62" cy="59.98" r="1" fill="none" stroke="#adadad" stroke-width="0.6"/>
<circle cx="571.61" cy="69.43" r="1" fill="none" stroke="#adadad" stroke-width="0.6"/>
<circle cx="572.18" cy="62.88" r="1" fill="none" stroke="#adadad" stroke-width="0.6"/>
<circle cx="573.74" cy="62.87" r="1" fill="none" stroke="#adadad" stroke-width="0.6"/>
<circle cx="574.74" cy="63.98" r="1" fill="none" stroke="#adadad" stroke-width="0.6"/>
<circle cx="574.91" cy="66.91" r="1" fill="none" stroke="#adadad" stroke-width="0.6"/>
<circle cx="575.73" cy="63.71" r="1" fill="none" stroke="#adadad" stroke-width="0.6"/>
<circle cx="576.45" cy="63.18" r="1" fill="none" stroke="#adadad" stroke-width="0.6"/>
<circle cx="577.64" cy="61.67" r="1" fill="none" stroke="#adadad" stroke-width="0.6"/>
<circle cx="578.19" cy="60.79" r="1" fill="none" stroke="#adadad" stroke-width="0.6"/>
<circle cx="579.44" cy="57.74" r="1" fill="none" stroke="#adadad" stroke-width="0.6"/>
<circle cx="580.51" cy="61.48" r="1" fill="none" stroke="#adadad" stroke-width="0.6"/>
<circle cx="581.41" cy="65.49" r="1" fill="none" stroke="#adadad" stroke-width="0.6"/>
<circle cx="582.15" cy="61.31" r="1" fill="none" stroke="#adadad" stroke-width="0.6"/>
<circle cx="583.62" cy="63.76" r="1" fill="none" stroke="#adadad" stroke-width="0.6"/>
<circle cx="584.84" cy="60.36" r="1" fill="none" stroke="#adadad" stroke-width="0.6"/>
<circle cx="585.63" cy="60.88" r="1" fill="none" stroke="#adadad" stroke-width="0.6"/>
<circle cx="586.2" cy="63.87" r="1" fill="none" stroke="#adadad" stroke-width="0.6"/>
<circle cx="587.06" cy="60.79" r="1" fill="none" stroke="#adadad" stroke-width="0.6"/>
<circle cx="587.78" cy="60.87" r="1" fill="none" stroke="#adadad" stroke-width="0.6"/>
<circle cx="588.85" cy="60.31" r="1" fill="none" stroke="#adadad" stroke-width="0.6"/>
<circle cx="589.9" cy="59.72" r="1" fill="none" stroke="#adadad" stroke-width="0.6"/>
<circle cx="591.01" cy="60.87" r="1" fill="none" stroke="#adadad" stroke-width="0.6"/>
<circle cx="591.52" cy="60" r="1" fill="none" stroke="#adadad" stroke-width="0.6"/>
<circle cx="593.12" cy="61.58" r="1" fill="none" stroke="#adadad" stroke-width="0.6"/>
<circle cx="593.78" cy="60.73" r="1" fill="none" stroke="#adadad" stroke-width="0.6"/>
<circle cx="594.25" cy="61.51" r="1" fill="none" stroke="#adadad" stroke-width="0.6"/>
<circle cx="594.79" cy="62.67" r="1" fill="none" stroke="#adadad" stroke-width="0.6"/>
<circle cx="595.63" cy="61.94" r="1" fill="none" stroke="#adadad" stroke-width="0.6"/>
<circle cx="596.47" cy="57.53" r="1" fill="none" stroke="#adadad" stroke-width="0.6"/>
<circle cx="597.32" cy="59.2" r="1" fill="none" stroke="#adadad" stroke-width="0.6"/>
<circle cx="598.15" cy="60.35" r="1" fill="none" stroke="#adadad" stroke-width="0.6"/>
<circle cx="599.05" cy="62.24" r="1" fill="none" stroke="#adadad" stroke-width="0.6"/>
<circle cx="599.7" cy="60.22" r="1" fill="none" stroke="#adadad" stroke-width="0.6"/>
<circle cx="600.56" cy="57.96" r="1" fill="none" stroke="#adadad" stroke-width="0.6"/>
<circle cx="600.75" cy="57.15" r="1" fill="none" stroke="#adadad" stroke-width="0.6"/>
<circle cx="602.15" cy="63.17" r="1" fill="none" stroke="#adadad" stroke-width="0.6"/>
<circle cx="602.86" cy="58.45" r="1" fill="none" stroke="#adadad" stroke-width="0.6"/>
<circle cx="603.85" cy="56.96" r="1" fill="none" stroke="#adadad" stroke-width="0.6"/>
<circle cx="604.8" cy="59.95" r="1" fill="none" stroke="#adadad" stroke-width="0.6"/>
<circle cx="605.14" cy="59.85" r="1" fill="none" stroke="#adadad" stroke-width="0.6"/>
<circle cx="605.81" cy="62.9" r="1" fill="none" stroke="#adadad" stroke-width="0.6"/>
<circle cx="607.06" cy="55.18" r="1" fill="none" stroke="#adadad" stroke-width="0.6"/>
<circle cx="607.24" cy="57.45" r="1" fill="none" stroke="#adadad" stroke-width="0.6"/>
<circle cx="607.95" cy="56.62" r="1" fill="none" stroke="#adadad" stroke-width="0.6"/>
<circle cx="608.77" cy="55.04" r="1" fill="none" stroke="#adadad" stroke-width="0.6"/>
<circle cx="609.55" cy="57.38" r="1" fill="none" stroke="#adadad" stroke-width="0.6"/>
<circle cx="610.2" cy="62.31" r="1" fill="none" stroke="#adadad" stroke-width="0.6"/>
<circle cx="611.62" cy="57.1" r="1" fill="none" stroke="#adadad" stroke-width="0.6"/>
<circle cx="611.97" cy="57.45" r="1" fill="none" stroke="#adadad" stroke-width="0.6"/>
<circle cx="612.67" cy="55.3" r="1" fill="none" stroke="#adadad" stroke-width="0.6"/>
<circle cx="613.74" cy="60.3" r="1" fill="none" stroke="#adadad" stroke-width="0.6"/>
<circle cx="614.16" cy="57.2" r="1" fill="none" stroke="#adadad" stroke-width="0.6"/>
<circle cx="614.67" cy="55.66" r="1" fill="none" stroke="#adadad" stroke-width="0.6"/>
<circle cx="615.28" cy="57.47" r="1" fill="none" stroke="#adadad" stroke-width="0.6"/>
<circle cx="616.69" cy="57.62" r="1" fill="none" stroke="#adadad" stroke-width="0.6"/>
<circle cx="617.06" cy="53.35" r="1" fill="none" stroke="#adadad" stroke-width="0.6"/>
<circle cx="618.12" cy="50.36" r="1" fill="none" stroke="#adadad" stroke-width="0.6"/>
<circle cx="618.94" cy="56.05" r="1" fill="none" stroke="#adadad" stroke-width="0.6"/>
<circle cx="619.27" cy="56.74" r="1" fill="none" stroke="#adadad" stroke-width="0.6"/>
<circle cx="620.38" cy="52.11" r="1" fill="none" stroke="#adadad" stroke-width="0.6"/>
<circle cx="620.74" cy="56.12" r="1" fill="none" stroke="#adadad" stroke-width="0.6"/>
<circle cx="621.2" cy="51.9" r="1" fill="none" stroke="#adadad" stroke-width="0.6"/>
<circle cx="622.17" cy="54.71" r="1" fill="none" stroke="#adadad" stroke-width="0.6"/>
<circle cx="623.12" cy="54.36" r="1" fill="none" stroke="#adadad" stroke-width="0.6"/>
<circle cx="623.62" cy="56.09" r="1" fill="none" stroke="#adadad" stroke-width="0.6"/>
<circle cx="624.54" cy="50.37" r="1" fill="none" stroke="#adadad" stroke-width="0.6"/>
<circle cx="625.33" cy="42.04" r="1" fill="none" stroke="#adadad" stroke-width="0.6"/>
<circle cx="626.16" cy="51.21" r="1" fill="none" stroke="#adadad" stroke-width="0.6"/>
<circle cx="627.23" cy="33.24" r="1" fill="none" stroke="#adadad" stroke-width="0.6"/>
<circle cx="627.8" cy="27.74" r="1" fill="none" stroke="#adadad" stroke-width="0.6"/>
<circle cx="628.69" cy="23.53" r="1" fill="none" stroke="#adadad" stroke-width="0.6"/>
<circle cx="630.37" cy="15.81" r="1" fill="none" stroke="#adadad" stroke-width="0.6"/>
<circle cx="632.08" cy="16.21" r="1" fill="none" stroke="#adadad" stroke-width="0.6"/>
<circle cx="632.65" cy="15.35" r="1" fill="none" stroke="#adadad" stroke-width="0.6"/>
<circle cx="633.03" cy="24.09" r="1" fill="none" stroke="#adadad" stroke-width="0.6"/>
<circle cx="633.77" cy="25.97" r="1" fill="none" stroke="#adadad" stroke-width="0.6"/>
<circle cx="635.13" cy="29.74" r="1" fill="none" stroke="#adadad" stroke-width="0.6"/>
<circle cx="635.53" cy="35.39" r="1" fill="none" stroke="#adadad" stroke-width="0.6"/>
<circle cx="636.37" cy="39.67" r="1" fill="none" stroke="#adadad" stroke-width="0.6"/>
<circle cx="636.8" cy="46.17" r="1" fill="none" stroke="#adadad" stroke-width="0.6"/>
<circle cx="637.51" cy="47.87" r="1" fill="none" stroke="#adadad" stroke-width="0.6"/>
<circle cx="638.17" cy="50.5" r="1" fill="none" stroke="#adadad" stroke-width="0.6"/>
<circle cx="639.38" cy="48.16" r="1" fill="none" stroke="#adadad" stroke-width="0.6"/>
<circle cx="640.31" cy="55.34" r="1" fill="none" stroke="#adadad" stroke-width="0.6"/>
<circle cx="641.37" cy="55.05" r="1" fill="none" stroke="#adadad" stroke-width="0.6"/>
<circle cx="642.87" cy="52.05" r="1" fill="none" stroke="#adadad" stroke-width="0.6"/>
<circle cx="644.58" cy="47.46" r="1" fill="none" stroke="#adadad" stroke-width="0.6"/>
<circle cx="644.75" cy="54.25" r="1" fill="none" stroke="#adadad" stroke-width="0.6"/>
<circle cx="645.43" cy="51.66" r="1" fill="none" stroke="#adadad" stroke-width="0.6"/>
<circle cx="646.23" cy="53.32" r="1" fill="none" stroke="#adadad" stroke-width="0.6"/>
<circle cx="647.07" cy="51.71" r="1" fill="none" stroke="#adadad" stroke-width="0.6"/>
<circle cx="647.93" cy="50.75" r="1" fill="none" stroke="#adadad" stroke-width="0.6"/>
<circle cx="649.09" cy="45.51" r="1" fill="none" stroke="#adadad" stroke-width="0.6"/>
<circle cx="649.26" cy="51.19" r="1" fill="none" stroke="#adadad" stroke-width="0.6"/>
<circle cx="650.3" cy="55.38" r="1" fill="none" stroke="#adadad" stroke-width="0.6"/>
<circle cx="650.75" cy="50.13" r="1" fill="none" stroke="#adadad" stroke-width="0.6"/>
<circle cx="651.78" cy="49.76" r="1" fill="none" stroke="#adadad" stroke-width="0.6"/>
<circle cx="652.16" cy="51.14" r="1" fill="none" stroke="#adadad" stroke-width="0.6"/>
<circle cx="653.44" cy="56.8" r="1" fill="none" stroke="#adadad" stroke-width="0.6"/>
<circle cx="653.52" cy="51.49" r="1" fill="none" stroke="#adadad" stroke-width="0.6"/>
<circle cx="654.29" cy="49.38" r="1" fill="none" stroke="#adadad" stroke-width="0.6"/>
<circle cx="655" cy="53.25" r="1" fill="none" stroke="#adadad" stroke-width="0.6"/>
<circle cx="656.18" cy="50.64" r="1" fill="none" stroke="#adadad" stroke-width="0.6"/>
<circle cx="656.8" cy="49.37" r="1" fill="none" stroke="#adadad" stroke-width="0.6"/>
<circle cx="657.82" cy="49.73" r="1" fill="none" stroke="#adadad" stroke-width="0.6"/>
<circle cx="657.98" cy="54.46" r="1" fill="none" stroke="#adadad" stroke-width="0.6"/>
<circle cx="658.79" cy="48.93" r="1" fill="none" stroke="#adadad" stroke-width="0.6"/>
<circle cx="659.56" cy="48.89" r="1" fill="none" stroke="#adadad" stroke-width="0.6"/>
<circle cx="660.88" cy="49.24" r="1" fill="none" stroke="#adadad" stroke-width="0.6"/>
<circle cx="661.26" cy="53.48" r="1" fill="none" stroke="#adadad" stroke-width="0.6"/>
<circle cx="661.85" cy="53.1" r="1" fill="none" stroke="#adadad" stroke-width="0.6"/>
<circle cx="662.99" cy="50.01" r="1" fill="none" stroke="#adadad" stroke-width="0.6"/>
<circle cx="663.41" cy="53.33" r="1" fill="none" stroke="#adadad" stroke-width="0.6"/>
<circle cx="664" cy="52.25" r="1" fill="none" stroke="#adadad" stroke-width="0.6"/>
<circle cx="665.03" cy="52.1" r="1" fill="none" stroke="#adadad" stroke-width="0.6"/>
<circle cx="665.47" cy="51.4" r="1" fill="none" stroke="#adadad" stroke-width="0.6"/>
<circle cx="666.08" cy="50.05" r="1" fill="none" stroke="#adadad" stroke-width="0.6"/>
<circle cx="667.28" cy="48.95" r="1" fill="none" stroke="#adadad" stroke-width="0.6"/>
<path d="M491.5 79.67 L492.23 79.49 L492.97 79.3 L493.7 79.11 L494.44 78.93 L495.17 78.74 L495.91 78.55 L496.64 78.36 L497.38 78.18 L498.11 77.99 L498.85 77.8 L499.58 77.62 L500.32 77.43 L501.05 77.24 L501.79 77.06 L502.52 76.87 L503.26 76.68 L503.99 76.5 L504.73 76.31 L505.46 76.12 L506.19 75.94 L506.93 75.75 L507.66 75.56 L508.4 75.38 L509.13 75.19 L509.87 75 L510.6 74.81 L511.34 74.63 L512.07 74.44 L512.81 74.25 L513.54 74.07 L514.28 73.88 L515.01 73.69 L515.75 73.51 L516.48 73.32 L517.22 73.13 L517.95 72.95 L518.68 72.76 L519.42 72.57 L520.15 72.39 L520.89 72.2 L521.62 72.01 L522.36 71.82 L523.09 71.64 L523.83 71.45 L524.56 71.26 L525.3 71.08 L526.03 70.89 L526.77 70.7 L527.5 70.52 L528.24 70.33 L528.97 70.14 L529.71 69.96 L530.44 69.77 L531.18 69.58 L531.91 69.44 L532.64 69.33 L533.38 69.23 L534.11 69.12 L534.85 69.01 L535.58 68.91 L536.32 68.8 L537.05 68.7 L537.79 68.59 L538.52 68.48 L539.26 68.38 L539.99 68.27 L540.73 68.16 L541.46 68.06 L542.2 67.95 L542.93 67.84 L543.67 67.74 L544.4 67.63 L545.14 67.52 L545.87 67.42 L546.6 67.31 L547.34 67.21 L548.07 67.1 L548.81 66.99 L549.54 66.89 L550.28 66.78 L551.01 66.67 L551.75 66.57 L552.48 66.46 L553.22 66.35 L553.95 66.25 L554.69 66.14 L555.42 66.03 L556.16 65.93 L556.89 65.82 L557.63 65.72 L558.36 65.61 L559.09 65.5 L559.83 65.4 L560.56 65.29 L561.3 65.18 L562.03 65.08 L562.77 64.97 L563.5 64.86 L564.24 64.76 L564.97 64.65 L565.71 64.54 L566.44 64.44 L567.18 64.33 L567.91 64.23 L568.65 64.12 L569.38 64.01 L570.12 63.91 L570.85 63.8 L571.59 63.69 L572.32 63.59 L573.05 63.48 L573.79 63.37 L574.52 63.26 L575.26 63.15 L575.99 63.03 L576.73 62.91 L577.46 62.79 L578.2 62.68 L578.93 62.56 L579.67 62.44 L580.4 62.33 L581.14 62.21 L581.87 62.09 L582.61 61.97 L583.34 61.86 L584.08 61.74 L584.81 61.62 L585.55 61.5 L586.28 61.39 L587.01 61.27 L587.75 61.15 L588.48 61.03 L589.22 60.92 L589.95 60.8 L590.69 60.68 L591.42 60.56 L592.16 60.45 L592.89 60.33 L593.63 60.21 L594.36 60.1 L595.1 59.98 L595.83 59.86 L596.57 59.74 L597.3 59.63 L598.04 59.51 L598.77 59.39 L599.51 59.27 L600.24 59.16 L600.97 59.04 L601.71 58.92 L602.44 58.8 L603.18 58.69 L603.91 58.57 L604.65 58.45 L605.38 58.33 L606.12 58.22 L606.85 58.1 L607.59 57.98 L608.32 57.87 L609.06 57.75 L609.79 57.63 L610.53 57.51 L611.26 57.4 L612 57.28 L612.73 57.16 L613.46 57.04 L614.2 56.93 L614.93 56.81 L615.67 56.69 L616.4 56.57 L617.14 56.46 L617.87 56.34 L618.61 56.22 L619.34 56.1 L620.08 55.99 L620.81 55.91 L621.55 55.82 L622.28 55.74 L623.02 55.65 L623.75 55.57 L624.49 55.48 L625.22 55.4 L625.96 55.31 L626.69 55.23 L627.42 55.14 L628.16 55.06 L628.89 54.97 L629.63 54.89 L630.36 54.8 L631.1 54.72 L631.83 54.63 L632.57 54.55 L633.3 54.46 L634.04 54.38 L634.77 54.29 L635.51 54.21 L636.24 54.12 L636.98 54.04 L637.71 53.95 L638.45 53.87 L639.18 53.78 L639.92 53.7 L640.65 53.61 L641.38 53.53 L642.12 53.44 L642.85 53.36 L643.59 53.27 L644.32 53.19 L645.06 53.1 L645.79 53.02 L646.53 52.93 L647.26 52.85 L648 52.77 L648.73 52.68 L649.47 52.6 L650.2 52.51 L650.94 52.43 L651.67 52.34 L652.41 52.26 L653.14 52.17 L653.87 52.09 L654.61 52 L655.34 51.92 L656.08 51.83 L656.81 51.75 L657.55 51.66 L658.28 51.58 L659.02 51.49 L659.75 51.41 L660.49 51.32 L661.22 51.24 L661.96 51.15 L662.69 51.07 L663.43 50.98 L664.16 50.9 L664.9 50.81 L665.63 50.73 L666.37 50.64 L667.1 50.56" fill="none" stroke="#ff5555" stroke-width="1.4" stroke-linejoin="round"/>
<path d="M491.5 79.67 L492.23 79.49 L492.97 79.3 L493.7 79.11 L494.44 78.93 L495.17 78.74 L495.91 78.55 L496.64 78.36 L497.38 78.18 L498.11 77.99 L498.85 77.8 L499.58 77.62 L500.32 77.43 L501.05 77.24 L501.79 77.06 L502.52 76.87 L503.26 76.68 L503.99 76.5 L504.73 76.31 L505.46 76.12 L506.19 75.94 L506.93 75.75 L507.66 75.56 L508.4 75.38 L509.13 75.19 L509.87 75 L510.6 74.81 L511.34 74.63 L512.07 74.44 L512.81 74.25 L513.54 74.07 L514.28 73.88 L515.01 73.69 L515.75 73.51 L516.48 73.32 L517.22 73.13 L517.95 72.93 L518.68 72.73 L519.42 72.52 L520.15 72.29 L520.89 72.02 L521.62 71.69 L522.36 71.27 L523.09 70.72 L523.83 70.01 L524.56 69.08 L525.3 67.9 L526.03 66.47 L526.77 64.8 L527.5 62.96 L528.24 61.05 L528.97 59.2 L529.71 57.59 L530.44 56.36 L531.18 55.64 L531.91 55.53 L532.64 56.02 L533.38 57.01 L534.11 58.37 L534.85 59.93 L535.58 61.55 L536.32 63.09 L537.05 64.44 L537.79 65.54 L538.52 66.39 L539.26 67 L539.99 67.4 L540.73 67.64 L541.46 67.75 L542.2 67.78 L542.93 67.75 L543.67 67.69 L544.4 67.61 L545.14 67.51 L545.87 67.41 L546.6 67.31 L547.34 67.2 L548.07 67.1 L548.81 66.99 L549.54 66.89 L550.28 66.78 L551.01 66.67 L551.75 66.57 L552.48 66.46 L553.22 66.35 L553.95 66.25 L554.69 66.14 L555.42 66.03 L556.16 65.93 L556.89 65.82 L557.63 65.72 L558.36 65.61 L559.09 65.5 L559.83 65.4 L560.56 65.29 L561.3 65.18 L562.03 65.08 L562.77 64.97 L563.5 64.86 L564.24 64.76 L564.97 64.65 L565.71 64.54 L566.44 64.44 L567.18 64.33 L567.91 64.23 L568.65 64.12 L569.38 64.01 L570.12 63.91 L570.85 63.8 L571.59 63.69 L572.32 63.59 L573.05 63.48 L573.79 63.37 L574.52 63.26 L575.26 63.15 L575.99 63.03 L576.73 62.91 L577.46 62.79 L578.2 62.68 L578.93 62.56 L579.67 62.44 L580.4 62.33 L581.14 62.21 L581.87 62.09 L582.61 61.97 L583.34 61.86 L584.08 61.74 L584.81 61.62 L585.55 61.5 L586.28 61.39 L587.01 61.27 L587.75 61.15 L588.48 61.03 L589.22 60.92 L589.95 60.8 L590.69 60.68 L591.42 60.56 L592.16 60.45 L592.89 60.33 L593.63 60.21 L594.36 60.1 L595.1 59.98 L595.83 59.86 L596.57 59.74 L597.3 59.63 L598.04 59.51 L598.77 59.39 L599.51 59.27 L600.24 59.16 L600.97 59.04 L601.71 58.92 L602.44 58.8 L603.18 58.69 L603.91 58.57 L604.65 58.45 L605.38 58.33 L606.12 58.22 L606.85 58.1 L607.59 57.98 L608.32 57.87 L609.06 57.75 L609.79 57.63 L610.53 57.51 L611.26 57.4 L612 57.28 L612.73 57.16 L613.46 57.04 L614.2 56.93 L614.93 56.81 L615.67 56.69 L616.4 56.57 L617.14 56.46 L617.87 56.33 L618.61 56.21 L619.34 56.07 L620.08 55.91 L620.81 55.73 L621.55 55.46 L622.28 55.02 L623.02 54.3 L623.75 53.16 L624.49 51.43 L625.22 48.92 L625.96 45.48 L626.69 41.08 L627.42 35.82 L628.16 30.03 L628.89 24.21 L629.63 19.02 L630.36 15.14 L631.1 13.1 L631.83 13.21 L632.57 15.44 L633.3 19.43 L634.04 24.61 L634.77 30.3 L635.51 35.86 L636.24 40.81 L636.98 44.88 L637.71 47.97 L638.45 50.17 L639.18 51.61 L639.92 52.49 L640.65 52.97 L641.38 53.21 L642.12 53.29 L642.85 53.29 L643.59 53.24 L644.32 53.18 L645.06 53.1 L645.79 53.02 L646.53 52.93 L647.26 52.85 L648 52.76 L648.73 52.68 L649.47 52.6 L650.2 52.51 L650.94 52.43 L651.67 52.34 L652.41 52.26 L653.14 52.17 L653.87 52.09 L654.61 52 L655.34 51.92 L656.08 51.83 L656.81 51.75 L657.55 51.66 L658.28 51.58 L659.02 51.49 L659.75 51.41 L660.49 51.32 L661.22 51.24 L661.96 51.15 L662.69 51.07 L663.43 50.98 L664.16 50.9 L664.9 50.81 L665.63 50.73 L666.37 50.64 L667.1 50.56" fill="none" stroke="#ff5555" stroke-width="1.7" stroke-linejoin="round"/>
<circle cx="491.21" cy="126.63" r="1" fill="none" stroke="#adadad" stroke-width="0.6"/>
<circle cx="492.13" cy="125.64" r="1" fill="none" stroke="#adadad" stroke-width="0.6"/>
<circle cx="493.05" cy="129.34" r="1" fill="none" stroke="#adadad" stroke-width="0.6"/>
<circle cx="493.83" cy="125.07" r="1" fill="none" stroke="#adadad" stroke-width="0.6"/>
<circle cx="494.76" cy="126.8" r="1" fill="none" stroke="#adadad" stroke-width="0.6"/>
<circle cx="495.43" cy="128.32" r="1" fill="none" stroke="#adadad" stroke-width="0.6"/>
<circle cx="495.83" cy="127.04" r="1" fill="none" stroke="#adadad" stroke-width="0.6"/>
<circle cx="496.26" cy="125.92" r="1" fill="none" stroke="#adadad" stroke-width="0.6"/>
<circle cx="497.05" cy="129.74" r="1" fill="none" stroke="#adadad" stroke-width="0.6"/>
<circle cx="499.52" cy="126.03" r="1" fill="none" stroke="#adadad" stroke-width="0.6"/>
<circle cx="500.05" cy="126.08" r="1" fill="none" stroke="#adadad" stroke-width="0.6"/>
<circle cx="500.69" cy="129.82" r="1" fill="none" stroke="#adadad" stroke-width="0.6"/>
<circle cx="501.72" cy="127.87" r="1" fill="none" stroke="#adadad" stroke-width="0.6"/>
<circle cx="502.5" cy="124.98" r="1" fill="none" stroke="#adadad" stroke-width="0.6"/>
<circle cx="503.63" cy="130.15" r="1" fill="none" stroke="#adadad" stroke-width="0.6"/>
<circle cx="504.61" cy="127.28" r="1" fill="none" stroke="#adadad" stroke-width="0.6"/>
<circle cx="505.15" cy="125.39" r="1" fill="none" stroke="#adadad" stroke-width="0.6"/>
<circle cx="506.09" cy="123.53" r="1" fill="none" stroke="#adadad" stroke-width="0.6"/>
<circle cx="506.55" cy="127.27" r="1" fill="none" stroke="#adadad" stroke-width="0.6"/>
<circle cx="507.61" cy="123.97" r="1" fill="none" stroke="#adadad" stroke-width="0.6"/>
<circle cx="508.31" cy="126.56" r="1" fill="none" stroke="#adadad" stroke-width="0.6"/>
<circle cx="508.82" cy="128.26" r="1" fill="none" stroke="#adadad" stroke-width="0.6"/>
<circle cx="509.5" cy="127.4" r="1" fill="none" stroke="#adadad" stroke-width="0.6"/>
<circle cx="510.48" cy="128.8" r="1" fill="none" stroke="#adadad" stroke-width="0.6"/>
<circle cx="511.1" cy="128" r="1" fill="none" stroke="#adadad" stroke-width="0.6"/>
<circle cx="512.05" cy="126.45" r="1" fill="none" stroke="#adadad" stroke-width="0.6"/>
<circle cx="513.88" cy="126.73" r="1" fill="none" stroke="#adadad" stroke-width="0.6"/>
<circle cx="514.03" cy="125.07" r="1" fill="none" stroke="#adadad" stroke-width="0.6"/>
<circle cx="514.83" cy="125.53" r="1" fill="none" stroke="#adadad" stroke-width="0.6"/>
<circle cx="515.62" cy="125.09" r="1" fill="none" stroke="#adadad" stroke-width="0.6"/>
<circle cx="516.58" cy="125.72" r="1" fill="none" stroke="#adadad" stroke-width="0.6"/>
<circle cx="518.3" cy="124.75" r="1" fill="none" stroke="#adadad" stroke-width="0.6"/>
<circle cx="519.53" cy="125.44" r="1" fill="none" stroke="#adadad" stroke-width="0.6"/>
<circle cx="520.18" cy="120.38" r="1" fill="none" stroke="#adadad" stroke-width="0.6"/>
<circle cx="521.25" cy="122.7" r="1" fill="none" stroke="#adadad" stroke-width="0.6"/>
<circle cx="521.35" cy="122.13" r="1" fill="none" stroke="#adadad" stroke-width="0.6"/>
<circle cx="522.71" cy="123.73" r="1" fill="none" stroke="#adadad" stroke-width="0.6"/>
<circle cx="523.25" cy="120.31" r="1" fill="none" stroke="#adadad" stroke-width="0.6"/>
<circle cx="523.63" cy="120.6" r="1" fill="none" stroke="#adadad" stroke-width="0.6"/>
<circle cx="524.72" cy="120.28" r="1" fill="none" stroke="#adadad" stroke-width="0.6"/>
<circle cx="525.09" cy="118.37" r="1" fill="none" stroke="#adadad" stroke-width="0.6"/>
<circle cx="526.42" cy="113.21" r="1" fill="none" stroke="#adadad" stroke-width="0.6"/>
<circle cx="527.14" cy="109.17" r="1" fill="none" stroke="#adadad" stroke-width="0.6"/>
<circle cx="527.44" cy="107.17" r="1" fill="none" stroke="#adadad" stroke-width="0.6"/>
<circle cx="528.3" cy="111.81" r="1" fill="none" stroke="#adadad" stroke-width="0.6"/>
<circle cx="528.87" cy="105.41" r="1" fill="none" stroke="#adadad" stroke-width="0.6"/>
<circle cx="529.87" cy="106.6" r="1" fill="none" stroke="#adadad" stroke-width="0.6"/>
<circle cx="531.49" cy="107.59" r="1" fill="none" stroke="#adadad" stroke-width="0.6"/>
<circle cx="532.32" cy="111.18" r="1" fill="none" stroke="#adadad" stroke-width="0.6"/>
<circle cx="533.23" cy="110.59" r="1" fill="none" stroke="#adadad" stroke-width="0.6"/>
<circle cx="534.55" cy="113.47" r="1" fill="none" stroke="#adadad" stroke-width="0.6"/>
<circle cx="535.74" cy="117.1" r="1" fill="none" stroke="#adadad" stroke-width="0.6"/>
<circle cx="536.18" cy="119.19" r="1" fill="none" stroke="#adadad" stroke-width="0.6"/>
<circle cx="536.77" cy="122.25" r="1" fill="none" stroke="#adadad" stroke-width="0.6"/>
<circle cx="538" cy="119.56" r="1" fill="none" stroke="#adadad" stroke-width="0.6"/>
<circle cx="538.87" cy="124.24" r="1" fill="none" stroke="#adadad" stroke-width="0.6"/>
<circle cx="539.21" cy="123.91" r="1" fill="none" stroke="#adadad" stroke-width="0.6"/>
<circle cx="540.13" cy="122.11" r="1" fill="none" stroke="#adadad" stroke-width="0.6"/>
<circle cx="541.08" cy="121.83" r="1" fill="none" stroke="#adadad" stroke-width="0.6"/>
<circle cx="541.35" cy="123.54" r="1" fill="none" stroke="#adadad" stroke-width="0.6"/>
<circle cx="541.97" cy="122.29" r="1" fill="none" stroke="#adadad" stroke-width="0.6"/>
<circle cx="543.82" cy="123.58" r="1" fill="none" stroke="#adadad" stroke-width="0.6"/>
<circle cx="544.67" cy="118.55" r="1" fill="none" stroke="#adadad" stroke-width="0.6"/>
<circle cx="545.1" cy="121.88" r="1" fill="none" stroke="#adadad" stroke-width="0.6"/>
<circle cx="545.9" cy="121.88" r="1" fill="none" stroke="#adadad" stroke-width="0.6"/>
<circle cx="546.52" cy="119.72" r="1" fill="none" stroke="#adadad" stroke-width="0.6"/>
<circle cx="547.38" cy="118.02" r="1" fill="none" stroke="#adadad" stroke-width="0.6"/>
<circle cx="547.95" cy="116.02" r="1" fill="none" stroke="#adadad" stroke-width="0.6"/>
<circle cx="548.7" cy="119.64" r="1" fill="none" stroke="#adadad" stroke-width="0.6"/>
<circle cx="549.25" cy="122.84" r="1" fill="none" stroke="#adadad" stroke-width="0.6"/>
<circle cx="549.91" cy="118.98" r="1" fill="none" stroke="#adadad" stroke-width="0.6"/>
<circle cx="550.84" cy="119.97" r="1" fill="none" stroke="#adadad" stroke-width="0.6"/>
<circle cx="552.8" cy="116.93" r="1" fill="none" stroke="#adadad" stroke-width="0.6"/>
<circle cx="552.92" cy="122.84" r="1" fill="none" stroke="#adadad" stroke-width="0.6"/>
<circle cx="554.18" cy="121.58" r="1" fill="none" stroke="#adadad" stroke-width="0.6"/>
<circle cx="554.78" cy="117.49" r="1" fill="none" stroke="#adadad" stroke-width="0.6"/>
<circle cx="555.33" cy="118.07" r="1" fill="none" stroke="#adadad" stroke-width="0.6"/>
<circle cx="556.4" cy="120.81" r="1" fill="none" stroke="#adadad" stroke-width="0.6"/>
<circle cx="557.27" cy="120.02" r="1" fill="none" stroke="#adadad" stroke-width="0.6"/>
<circle cx="557.27" cy="121.02" r="1" fill="none" stroke="#adadad" stroke-width="0.6"/>
<circle cx="558.25" cy="122.1" r="1" fill="none" stroke="#adadad" stroke-width="0.6"/>
<circle cx="558.94" cy="116.48" r="1" fill="none" stroke="#adadad" stroke-width="0.6"/>
<circle cx="559.6" cy="121.79" r="1" fill="none" stroke="#adadad" stroke-width="0.6"/>
<circle cx="560.18" cy="116.08" r="1" fill="none" stroke="#adadad" stroke-width="0.6"/>
<circle cx="561.03" cy="120.23" r="1" fill="none" stroke="#adadad" stroke-width="0.6"/>
<circle cx="561.87" cy="118.95" r="1" fill="none" stroke="#adadad" stroke-width="0.6"/>
<circle cx="563.06" cy="119.47" r="1" fill="none" stroke="#adadad" stroke-width="0.6"/>
<circle cx="563.19" cy="120.3" r="1" fill="none" stroke="#adadad" stroke-width="0.6"/>
<circle cx="564.26" cy="116.3" r="1" fill="none" stroke="#adadad" stroke-width="0.6"/>
<circle cx="565.21" cy="117.91" r="1" fill="none" stroke="#adadad" stroke-width="0.6"/>
<circle cx="565.81" cy="116.77" r="1" fill="none" stroke="#adadad" stroke-width="0.6"/>
<circle cx="566.37" cy="116.44" r="1" fill="none" stroke="#adadad" stroke-width="0.6"/>
<circle cx="567.52" cy="117.74" r="1" fill="none" stroke="#adadad" stroke-width="0.6"/>
<circle cx="568.2" cy="116.35" r="1" fill="none" stroke="#adadad" stroke-width="0.6"/>
<circle cx="568.59" cy="120.97" r="1" fill="none" stroke="#adadad" stroke-width="0.6"/>
<circle cx="569.47" cy="116.94" r="1" fill="none" stroke="#adadad" stroke-width="0.6"/>
<circle cx="569.77" cy="118.28" r="1" fill="none" stroke="#adadad" stroke-width="0.6"/>
<circle cx="570.52" cy="116.65" r="1" fill="none" stroke="#adadad" stroke-width="0.6"/>
<circle cx="571.28" cy="119.07" r="1" fill="none" stroke="#adadad" stroke-width="0.6"/>
<circle cx="572.41" cy="117.47" r="1" fill="none" stroke="#adadad" stroke-width="0.6"/>
<circle cx="574.31" cy="117.54" r="1" fill="none" stroke="#adadad" stroke-width="0.6"/>
<circle cx="575.76" cy="116.67" r="1" fill="none" stroke="#adadad" stroke-width="0.6"/>
<circle cx="576.58" cy="114.37" r="1" fill="none" stroke="#adadad" stroke-width="0.6"/>
<circle cx="577.13" cy="117.78" r="1" fill="none" stroke="#adadad" stroke-width="0.6"/>
<circle cx="578.41" cy="122.35" r="1" fill="none" stroke="#adadad" stroke-width="0.6"/>
<circle cx="579.51" cy="114.38" r="1" fill="none" stroke="#adadad" stroke-width="0.6"/>
<circle cx="580.92" cy="115.77" r="1" fill="none" stroke="#adadad" stroke-width="0.6"/>
<circle cx="582.06" cy="115.51" r="1" fill="none" stroke="#adadad" stroke-width="0.6"/>
<circle cx="582.51" cy="115.76" r="1" fill="none" stroke="#adadad" stroke-width="0.6"/>
<circle cx="583.73" cy="113.63" r="1" fill="none" stroke="#adadad" stroke-width="0.6"/>
<circle cx="584.1" cy="116.41" r="1" fill="none" stroke="#adadad" stroke-width="0.6"/>
<circle cx="584.59" cy="118.05" r="1" fill="none" stroke="#adadad" stroke-width="0.6"/>
<circle cx="585.58" cy="114.32" r="1" fill="none" stroke="#adadad" stroke-width="0.6"/>
<circle cx="586.82" cy="114.19" r="1" fill="none" stroke="#adadad" stroke-width="0.6"/>
<circle cx="587.85" cy="117.52" r="1" fill="none" stroke="#adadad" stroke-width="0.6"/>
<circle cx="588.52" cy="116.7" r="1" fill="none" stroke="#adadad" stroke-width="0.6"/>
<circle cx="589.07" cy="112.7" r="1" fill="none" stroke="#adadad" stroke-width="0.6"/>
<circle cx="590.35" cy="113.43" r="1" fill="none" stroke="#adadad" stroke-width="0.6"/>
<circle cx="590.43" cy="111.93" r="1" fill="none" stroke="#adadad" stroke-width="0.6"/>
<circle cx="591.19" cy="114.09" r="1" fill="none" stroke="#adadad" stroke-width="0.6"/>
<circle cx="592.51" cy="112.69" r="1" fill="none" stroke="#adadad" stroke-width="0.6"/>
<circle cx="592.76" cy="115.32" r="1" fill="none" stroke="#adadad" stroke-width="0.6"/>
<circle cx="593.75" cy="111.72" r="1" fill="none" stroke="#adadad" stroke-width="0.6"/>
<circle cx="594.5" cy="115.14" r="1" fill="none" stroke="#adadad" stroke-width="0.6"/>
<circle cx="595.49" cy="113.48" r="1" fill="none" stroke="#adadad" stroke-width="0.6"/>
<circle cx="595.57" cy="117.19" r="1" fill="none" stroke="#adadad" stroke-width="0.6"/>
<circle cx="596.35" cy="112.41" r="1" fill="none" stroke="#adadad" stroke-width="0.6"/>
<circle cx="597.41" cy="117.05" r="1" fill="none" stroke="#adadad" stroke-width="0.6"/>
<circle cx="598.4" cy="110.95" r="1" fill="none" stroke="#adadad" stroke-width="0.6"/>
<circle cx="599.12" cy="111.56" r="1" fill="none" stroke="#adadad" stroke-width="0.6"/>
<circle cx="599.68" cy="110.78" r="1" fill="none" stroke="#adadad" stroke-width="0.6"/>
<circle cx="600.03" cy="113.02" r="1" fill="none" stroke="#adadad" stroke-width="0.6"/>
<circle cx="601.1" cy="112.1" r="1" fill="none" stroke="#adadad" stroke-width="0.6"/>
<circle cx="601.88" cy="109.88" r="1" fill="none" stroke="#adadad" stroke-width="0.6"/>
<circle cx="602.76" cy="112.04" r="1" fill="none" stroke="#adadad" stroke-width="0.6"/>
<circle cx="603.09" cy="112.52" r="1" fill="none" stroke="#adadad" stroke-width="0.6"/>
<circle cx="605.23" cy="112.83" r="1" fill="none" stroke="#adadad" stroke-width="0.6"/>
<circle cx="606.05" cy="109.68" r="1" fill="none" stroke="#adadad" stroke-width="0.6"/>
<circle cx="606.7" cy="112.43" r="1" fill="none" stroke="#adadad" stroke-width="0.6"/>
<circle cx="607.28" cy="111.63" r="1" fill="none" stroke="#adadad" stroke-width="0.6"/>
<circle cx="608.4" cy="109.4" r="1" fill="none" stroke="#adadad" stroke-width="0.6"/>
<circle cx="609.57" cy="112.59" r="1" fill="none" stroke="#adadad" stroke-width="0.6"/>
<circle cx="610.55" cy="114.89" r="1" fill="none" stroke="#adadad" stroke-width="0.6"/>
<circle cx="611.01" cy="108.05" r="1" fill="none" stroke="#adadad" stroke-width="0.6"/>
<circle cx="612.54" cy="106.88" r="1" fill="none" stroke="#adadad" stroke-width="0.6"/>
<circle cx="613.79" cy="109.09" r="1" fill="none" stroke="#adadad" stroke-width="0.6"/>
<circle cx="614.47" cy="109.15" r="1" fill="none" stroke="#adadad" stroke-width="0.6"/>
<circle cx="615.05" cy="109.12" r="1" fill="none" stroke="#adadad" stroke-width="0.6"/>
<circle cx="615.56" cy="112.32" r="1" fill="none" stroke="#adadad" stroke-width="0.6"/>
<circle cx="616.07" cy="110.09" r="1" fill="none" stroke="#adadad" stroke-width="0.6"/>
<circle cx="618.19" cy="105.75" r="1" fill="none" stroke="#adadad" stroke-width="0.6"/>
<circle cx="618.64" cy="107.8" r="1" fill="none" stroke="#adadad" stroke-width="0.6"/>
<circle cx="618.96" cy="106" r="1" fill="none" stroke="#adadad" stroke-width="0.6"/>
<circle cx="620.1" cy="112.11" r="1" fill="none" stroke="#adadad" stroke-width="0.6"/>
<circle cx="620.74" cy="109.96" r="1" fill="none" stroke="#adadad" stroke-width="0.6"/>
<circle cx="621.74" cy="107.79" r="1" fill="none" stroke="#adadad" stroke-width="0.6"/>
<circle cx="622.58" cy="107.44" r="1" fill="none" stroke="#adadad" stroke-width="0.6"/>
<circle cx="622.91" cy="102.28" r="1" fill="none" stroke="#adadad" stroke-width="0.6"/>
<circle cx="623.39" cy="104.06" r="1" fill="none" stroke="#adadad" stroke-width="0.6"/>
<circle cx="625.3" cy="96.06" r="1" fill="none" stroke="#adadad" stroke-width="0.6"/>
<circle cx="625.7" cy="92.57" r="1" fill="none" stroke="#adadad" stroke-width="0.6"/>
<circle cx="626.98" cy="83.05" r="1" fill="none" stroke="#adadad" stroke-width="0.6"/>
<circle cx="627.99" cy="67.3" r="1" fill="none" stroke="#adadad" stroke-width="0.6"/>
<circle cx="629.06" cy="65.71" r="1" fill="none" stroke="#adadad" stroke-width="0.6"/>
<circle cx="629.46" cy="61.32" r="1" fill="none" stroke="#adadad" stroke-width="0.6"/>
<circle cx="630.31" cy="54.74" r="1" fill="none" stroke="#adadad" stroke-width="0.6"/>
<circle cx="630.98" cy="61.51" r="1" fill="none" stroke="#adadad" stroke-width="0.6"/>
<circle cx="631.83" cy="62.16" r="1" fill="none" stroke="#adadad" stroke-width="0.6"/>
<circle cx="632.6" cy="65.69" r="1" fill="none" stroke="#adadad" stroke-width="0.6"/>
<circle cx="633.69" cy="75.71" r="1" fill="none" stroke="#adadad" stroke-width="0.6"/>
<circle cx="635.12" cy="87.85" r="1" fill="none" stroke="#adadad" stroke-width="0.6"/>
<circle cx="635.36" cy="90.94" r="1" fill="none" stroke="#adadad" stroke-width="0.6"/>
<circle cx="636.67" cy="99.9" r="1" fill="none" stroke="#adadad" stroke-width="0.6"/>
<circle cx="638.19" cy="102.89" r="1" fill="none" stroke="#adadad" stroke-width="0.6"/>
<circle cx="639.58" cy="106.54" r="1" fill="none" stroke="#adadad" stroke-width="0.6"/>
<circle cx="639.86" cy="102.86" r="1" fill="none" stroke="#adadad" stroke-width="0.6"/>
<circle cx="641.69" cy="111.13" r="1" fill="none" stroke="#adadad" stroke-width="0.6"/>
<circle cx="642.1" cy="107.79" r="1" fill="none" stroke="#adadad" stroke-width="0.6"/>
<circle cx="642.53" cy="106.22" r="1" fill="none" stroke="#adadad" stroke-width="0.6"/>
<circle cx="643.91" cy="106.79" r="1" fill="none" stroke="#adadad" stroke-width="0.6"/>
<circle cx="645.28" cy="104.8" r="1" fill="none" stroke="#adadad" stroke-width="0.6"/>
<circle cx="646.18" cy="103.72" r="1" fill="none" stroke="#adadad" stroke-width="0.6"/>
<circle cx="646.26" cy="104.52" r="1" fill="none" stroke="#adadad" stroke-width="0.6"/>
<circle cx="647.22" cy="103.15" r="1" fill="none" stroke="#adadad" stroke-width="0.6"/>
<circle cx="647.74" cy="106.25" r="1" fill="none" stroke="#adadad" stroke-width="0.6"/>
<circle cx="648.59" cy="107.59" r="1" fill="none" stroke="#adadad" stroke-width="0.6"/>
<circle cx="650.11" cy="103.16" r="1" fill="none" stroke="#adadad" stroke-width="0.6"/>
<circle cx="651.31" cy="105.08" r="1" fill="none" stroke="#adadad" stroke-width="0.6"/>
<circle cx="652.44" cy="104.49" r="1" fill="none" stroke="#adadad" stroke-width="0.6"/>
<circle cx="653" cy="104.15" r="1" fill="none" stroke="#adadad" stroke-width="0.6"/>
<circle cx="654.06" cy="105.77" r="1" fill="none" stroke="#adadad" stroke-width="0.6"/>
<circle cx="654.92" cy="106.3" r="1" fill="none" stroke="#adadad" stroke-width="0.6"/>
<circle cx="655.43" cy="109.1" r="1" fill="none" stroke="#adadad" stroke-width="0.6"/>
<circle cx="656.12" cy="107.44" r="1" fill="none" stroke="#adadad" stroke-width="0.6"/>
<circle cx="657.14" cy="107.18" r="1" fill="none" stroke="#adadad" stroke-width="0.6"/>
<circle cx="657.37" cy="104.33" r="1" fill="none" stroke="#adadad" stroke-width="0.6"/>
<circle cx="658.09" cy="104.67" r="1" fill="none" stroke="#adadad" stroke-width="0.6"/>
<circle cx="658.75" cy="108.69" r="1" fill="none" stroke="#adadad" stroke-width="0.6"/>
<circle cx="659.89" cy="108.54" r="1" fill="none" stroke="#adadad" stroke-width="0.6"/>
<circle cx="660.12" cy="103" r="1" fill="none" stroke="#adadad" stroke-width="0.6"/>
<circle cx="661.17" cy="105.31" r="1" fill="none" stroke="#adadad" stroke-width="0.6"/>
<circle cx="661.7" cy="105.25" r="1" fill="none" stroke="#adadad" stroke-width="0.6"/>
<circle cx="662.88" cy="104.4" r="1" fill="none" stroke="#adadad" stroke-width="0.6"/>
<circle cx="663.27" cy="103.96" r="1" fill="none" stroke="#adadad" stroke-width="0.6"/>
<circle cx="664.43" cy="99.64" r="1" fill="none" stroke="#adadad" stroke-width="0.6"/>
<circle cx="664.57" cy="105.74" r="1" fill="none" stroke="#adadad" stroke-width="0.6"/>
<circle cx="665.96" cy="102.84" r="1" fill="none" stroke="#adadad" stroke-width="0.6"/>
<circle cx="666.23" cy="107.4" r="1" fill="none" stroke="#adadad" stroke-width="0.6"/>
<path d="M491.5 128.34 L492.23 128.24 L492.97 128.15 L493.7 128.05 L494.44 127.96 L495.17 127.86 L495.91 127.77 L496.64 127.68 L497.38 127.58 L498.11 127.49 L498.85 127.39 L499.58 127.3 L500.32 127.21 L501.05 127.11 L501.79 127.02 L502.52 126.92 L503.26 126.83 L503.99 126.73 L504.73 126.64 L505.46 126.55 L506.19 126.45 L506.93 126.36 L507.66 126.26 L508.4 126.17 L509.13 126.08 L509.87 125.98 L510.6 125.89 L511.34 125.79 L512.07 125.7 L512.81 125.6 L513.54 125.51 L514.28 125.42 L515.01 125.32 L515.75 125.23 L516.48 125.13 L517.22 125.04 L517.95 124.94 L518.68 124.85 L519.42 124.76 L520.15 124.66 L520.89 124.57 L521.62 124.47 L522.36 124.38 L523.09 124.29 L523.83 124.19 L524.56 124.1 L525.3 124 L526.03 123.91 L526.77 123.81 L527.5 123.72 L528.24 123.63 L528.97 123.53 L529.71 123.44 L530.44 123.34 L531.18 123.23 L531.91 123.13 L532.64 123.02 L533.38 122.92 L534.11 122.81 L534.85 122.71 L535.58 122.61 L536.32 122.5 L537.05 122.4 L537.79 122.29 L538.52 122.19 L539.26 122.08 L539.99 121.98 L540.73 121.87 L541.46 121.77 L542.2 121.67 L542.93 121.56 L543.67 121.46 L544.4 121.35 L545.14 121.25 L545.87 121.14 L546.6 121.04 L547.34 120.93 L548.07 120.83 L548.81 120.72 L549.54 120.62 L550.28 120.52 L551.01 120.41 L551.75 120.31 L552.48 120.2 L553.22 120.1 L553.95 119.99 L554.69 119.89 L555.42 119.78 L556.16 119.68 L556.89 119.58 L557.63 119.47 L558.36 119.37 L559.09 119.26 L559.83 119.16 L560.56 119.05 L561.3 118.95 L562.03 118.84 L562.77 118.74 L563.5 118.64 L564.24 118.53 L564.97 118.43 L565.71 118.32 L566.44 118.22 L567.18 118.11 L567.91 118.01 L568.65 117.9 L569.38 117.8 L570.12 117.69 L570.85 117.59 L571.59 117.49 L572.32 117.38 L573.05 117.28 L573.79 117.17 L574.52 117.07 L575.26 116.95 L575.99 116.83 L576.73 116.7 L577.46 116.57 L578.2 116.44 L578.93 116.31 L579.67 116.18 L580.4 116.06 L581.14 115.93 L581.87 115.8 L582.61 115.67 L583.34 115.54 L584.08 115.41 L584.81 115.29 L585.55 115.16 L586.28 115.03 L587.01 114.9 L587.75 114.77 L588.48 114.64 L589.22 114.51 L589.95 114.39 L590.69 114.26 L591.42 114.13 L592.16 114 L592.89 113.87 L593.63 113.74 L594.36 113.62 L595.1 113.49 L595.83 113.36 L596.57 113.23 L597.3 113.1 L598.04 112.97 L598.77 112.85 L599.51 112.72 L600.24 112.59 L600.97 112.46 L601.71 112.33 L602.44 112.2 L603.18 112.08 L603.91 111.95 L604.65 111.82 L605.38 111.69 L606.12 111.56 L606.85 111.43 L607.59 111.3 L608.32 111.18 L609.06 111.05 L609.79 110.92 L610.53 110.79 L611.26 110.66 L612 110.53 L612.73 110.41 L613.46 110.28 L614.2 110.15 L614.93 110.02 L615.67 109.89 L616.4 109.76 L617.14 109.64 L617.87 109.51 L618.61 109.38 L619.34 109.25 L620.08 109.12 L620.81 108.99 L621.55 108.86 L622.28 108.74 L623.02 108.61 L623.75 108.48 L624.49 108.35 L625.22 108.22 L625.96 108.09 L626.69 107.97 L627.42 107.84 L628.16 107.71 L628.89 107.58 L629.63 107.45 L630.36 107.32 L631.1 107.24 L631.83 107.17 L632.57 107.1 L633.3 107.03 L634.04 106.96 L634.77 106.89 L635.51 106.81 L636.24 106.74 L636.98 106.67 L637.71 106.6 L638.45 106.53 L639.18 106.46 L639.92 106.39 L640.65 106.32 L641.38 106.24 L642.12 106.17 L642.85 106.1 L643.59 106.03 L644.32 105.96 L645.06 105.89 L645.79 105.82 L646.53 105.74 L647.26 105.67 L648 105.6 L648.73 105.53 L649.47 105.46 L650.2 105.39 L650.94 105.32 L651.67 105.25 L652.41 105.17 L653.14 105.1 L653.87 105.03 L654.61 104.96 L655.34 104.89 L656.08 104.82 L656.81 104.75 L657.55 104.68 L658.28 104.6 L659.02 104.53 L659.75 104.46 L660.49 104.39 L661.22 104.32 L661.96 104.25 L662.69 104.18 L663.43 104.1 L664.16 104.03 L664.9 103.96 L665.63 103.89 L666.37 103.82 L667.1 103.75" fill="none" stroke="#d41a32" stroke-width="1.4" stroke-linejoin="round"/>
<path d="M491.5 128.34 L492.23 128.24 L492.97 128.15 L493.7 128.05 L494.44 127.96 L495.17 127.86 L495.91 127.77 L496.64 127.68 L497.38 127.58 L498.11 127.49 L498.85 127.39 L499.58 127.3 L500.32 127.21 L501.05 127.11 L501.79 127.02 L502.52 126.92 L503.26 126.83 L503.99 126.73 L504.73 126.64 L505.46 126.55 L506.19 126.45 L506.93 126.36 L507.66 126.26 L508.4 126.17 L509.13 126.08 L509.87 125.98 L510.6 125.89 L511.34 125.79 L512.07 125.7 L512.81 125.6 L513.54 125.51 L514.28 125.41 L515.01 125.32 L515.75 125.22 L516.48 125.12 L517.22 125.01 L517.95 124.88 L518.68 124.72 L519.42 124.52 L520.15 124.24 L520.89 123.85 L521.62 123.3 L522.36 122.54 L523.09 121.52 L523.83 120.21 L524.56 118.6 L525.3 116.72 L526.03 114.64 L526.77 112.52 L527.5 110.5 L528.24 108.8 L528.97 107.57 L529.71 106.96 L530.44 107.02 L531.18 107.74 L531.91 109.01 L532.64 110.69 L533.38 112.58 L534.11 114.5 L534.85 116.3 L535.58 117.86 L536.32 119.13 L537.05 120.11 L537.79 120.8 L538.52 121.25 L539.26 121.52 L539.99 121.65 L540.73 121.7 L541.46 121.67 L542.2 121.62 L542.93 121.54 L543.67 121.45 L544.4 121.35 L545.14 121.25 L545.87 121.14 L546.6 121.04 L547.34 120.93 L548.07 120.83 L548.81 120.72 L549.54 120.62 L550.28 120.52 L551.01 120.41 L551.75 120.31 L552.48 120.2 L553.22 120.1 L553.95 119.99 L554.69 119.89 L555.42 119.78 L556.16 119.68 L556.89 119.58 L557.63 119.47 L558.36 119.37 L559.09 119.26 L559.83 119.16 L560.56 119.05 L561.3 118.95 L562.03 118.84 L562.77 118.74 L563.5 118.64 L564.24 118.53 L564.97 118.43 L565.71 118.32 L566.44 118.22 L567.18 118.11 L567.91 118.01 L568.65 117.9 L569.38 117.8 L570.12 117.69 L570.85 117.59 L571.59 117.49 L572.32 117.38 L573.05 117.28 L573.79 117.17 L574.52 117.07 L575.26 116.95 L575.99 116.83 L576.73 116.7 L577.46 116.57 L578.2 116.44 L578.93 116.31 L579.67 116.18 L580.4 116.06 L581.14 115.93 L581.87 115.8 L582.61 115.67 L583.34 115.54 L584.08 115.41 L584.81 115.29 L585.55 115.16 L586.28 115.03 L587.01 114.9 L587.75 114.77 L588.48 114.64 L589.22 114.51 L589.95 114.39 L590.69 114.26 L591.42 114.13 L592.16 114 L592.89 113.87 L593.63 113.74 L594.36 113.62 L595.1 113.49 L595.83 113.36 L596.57 113.23 L597.3 113.1 L598.04 112.97 L598.77 112.85 L599.51 112.72 L600.24 112.59 L600.97 112.46 L601.71 112.33 L602.44 112.2 L603.18 112.08 L603.91 111.95 L604.65 111.82 L605.38 111.69 L606.12 111.56 L606.85 111.43 L607.59 111.3 L608.32 111.18 L609.06 111.05 L609.79 110.92 L610.53 110.79 L611.26 110.66 L612 110.53 L612.73 110.41 L613.46 110.28 L614.2 110.15 L614.93 110.02 L615.67 109.89 L616.4 109.76 L617.14 109.63 L617.87 109.49 L618.61 109.33 L619.34 109.14 L620.08 108.88 L620.81 108.49 L621.55 107.88 L622.28 106.91 L623.02 105.39 L623.75 103.13 L624.49 99.89 L625.22 95.53 L625.96 90.04 L626.69 83.6 L627.42 76.64 L628.16 69.83 L628.89 63.94 L629.63 59.75 L630.36 57.87 L631.1 58.6 L631.83 61.78 L632.57 66.93 L633.3 73.3 L634.04 80.09 L634.77 86.58 L635.51 92.26 L636.24 96.84 L636.98 100.29 L637.71 102.69 L638.45 104.26 L639.18 105.21 L639.92 105.73 L640.65 105.99 L641.38 106.09 L642.12 106.1 L642.85 106.07 L643.59 106.02 L644.32 105.95 L645.06 105.89 L645.79 105.82 L646.53 105.74 L647.26 105.67 L648 105.6 L648.73 105.53 L649.47 105.46 L650.2 105.39 L650.94 105.32 L651.67 105.25 L652.41 105.17 L653.14 105.1 L653.87 105.03 L654.61 104.96 L655.34 104.89 L656.08 104.82 L656.81 104.75 L657.55 104.68 L658.28 104.6 L659.02 104.53 L659.75 104.46 L660.49 104.39 L661.22 104.32 L661.96 104.25 L662.69 104.18 L663.43 104.1 L664.16 104.03 L664.9 103.96 L665.63 103.89 L666.37 103.82 L667.1 103.75" fill="none" stroke="#d41a32" stroke-width="1.7" stroke-linejoin="round"/>
<circle cx="491.78" cy="175.37" r="1" fill="none" stroke="#adadad" stroke-width="0.6"/>
<circle cx="492.02" cy="173.6" r="1" fill="none" stroke="#adadad" stroke-width="0.6"/>
<circle cx="492.67" cy="176.96" r="1" fill="none" stroke="#adadad" stroke-width="0.6"/>
<circle cx="493.48" cy="179.7" r="1" fill="none" stroke="#adadad" stroke-width="0.6"/>
<circle cx="494.53" cy="172.59" r="1" fill="none" stroke="#adadad" stroke-width="0.6"/>
<circle cx="494.99" cy="177.8" r="1" fill="none" stroke="#adadad" stroke-width="0.6"/>
<circle cx="496.15" cy="178.67" r="1" fill="none" stroke="#adadad" stroke-width="0.6"/>
<circle cx="496.84" cy="173.16" r="1" fill="none" stroke="#adadad" stroke-width="0.6"/>
<circle cx="498.1" cy="175.55" r="1" fill="none" stroke="#adadad" stroke-width="0.6"/>
<circle cx="498.9" cy="179.71" r="1" fill="none" stroke="#adadad" stroke-width="0.6"/>
<circle cx="499.43" cy="174.06" r="1" fill="none" stroke="#adadad" stroke-width="0.6"/>
<circle cx="500.57" cy="177.1" r="1" fill="none" stroke="#adadad" stroke-width="0.6"/>
<circle cx="501.09" cy="178.52" r="1" fill="none" stroke="#adadad" stroke-width="0.6"/>
<circle cx="501.49" cy="174.93" r="1" fill="none" stroke="#adadad" stroke-width="0.6"/>
<circle cx="502.28" cy="173.89" r="1" fill="none" stroke="#adadad" stroke-width="0.6"/>
<circle cx="503.06" cy="175.47" r="1" fill="none" stroke="#adadad" stroke-width="0.6"/>
<circle cx="503.7" cy="173.25" r="1" fill="none" stroke="#adadad" stroke-width="0.6"/>
<circle cx="504.51" cy="173.52" r="1" fill="none" stroke="#adadad" stroke-width="0.6"/>
<circle cx="505.12" cy="175.4" r="1" fill="none" stroke="#adadad" stroke-width="0.6"/>
<circle cx="506.56" cy="176.5" r="1" fill="none" stroke="#adadad" stroke-width="0.6"/>
<circle cx="506.56" cy="173.56" r="1" fill="none" stroke="#adadad" stroke-width="0.6"/>
<circle cx="507.91" cy="169.62" r="1" fill="none" stroke="#adadad" stroke-width="0.6"/>
<circle cx="508.33" cy="173.51" r="1" fill="none" stroke="#adadad" stroke-width="0.6"/>
<circle cx="509.44" cy="173.26" r="1" fill="none" stroke="#adadad" stroke-width="0.6"/>
<circle cx="509.77" cy="175.31" r="1" fill="none" stroke="#adadad" stroke-width="0.6"/>
<circle cx="510.31" cy="177.95" r="1" fill="none" stroke="#adadad" stroke-width="0.6"/>
<circle cx="512.17" cy="173.56" r="1" fill="none" stroke="#adadad" stroke-width="0.6"/>
<circle cx="512.88" cy="172.28" r="1" fill="none" stroke="#adadad" stroke-width="0.6"/>
<circle cx="513.38" cy="173.34" r="1" fill="none" stroke="#adadad" stroke-width="0.6"/>
<circle cx="514.42" cy="171.6" r="1" fill="none" stroke="#adadad" stroke-width="0.6"/>
<circle cx="515.13" cy="173.52" r="1" fill="none" stroke="#adadad" stroke-width="0.6"/>
<circle cx="515.78" cy="174.09" r="1" fill="none" stroke="#adadad" stroke-width="0.6"/>
<circle cx="516.15" cy="171.41" r="1" fill="none" stroke="#adadad" stroke-width="0.6"/>
<circle cx="517.61" cy="173.81" r="1" fill="none" stroke="#adadad" stroke-width="0.6"/>
<circle cx="518.03" cy="172.47" r="1" fill="none" stroke="#adadad" stroke-width="0.6"/>
<circle cx="518.66" cy="174.46" r="1" fill="none" stroke="#adadad" stroke-width="0.6"/>
<circle cx="519.29" cy="172.89" r="1" fill="none" stroke="#adadad" stroke-width="0.6"/>
<circle cx="520.53" cy="172.46" r="1" fill="none" stroke="#adadad" stroke-width="0.6"/>
<circle cx="520.73" cy="169.42" r="1" fill="none" stroke="#adadad" stroke-width="0.6"/>
<circle cx="521.62" cy="172.83" r="1" fill="none" stroke="#adadad" stroke-width="0.6"/>
<circle cx="523.37" cy="171.61" r="1" fill="none" stroke="#adadad" stroke-width="0.6"/>
<circle cx="523.9" cy="174.51" r="1" fill="none" stroke="#adadad" stroke-width="0.6"/>
<circle cx="524.33" cy="170.76" r="1" fill="none" stroke="#adadad" stroke-width="0.6"/>
<circle cx="524.93" cy="171.58" r="1" fill="none" stroke="#adadad" stroke-width="0.6"/>
<circle cx="526.11" cy="171.77" r="1" fill="none" stroke="#adadad" stroke-width="0.6"/>
<circle cx="526.99" cy="169.18" r="1" fill="none" stroke="#adadad" stroke-width="0.6"/>
<circle cx="527.37" cy="163.01" r="1" fill="none" stroke="#adadad" stroke-width="0.6"/>
<circle cx="528.18" cy="164.07" r="1" fill="none" stroke="#adadad" stroke-width="0.6"/>
<circle cx="529.23" cy="162.38" r="1" fill="none" stroke="#adadad" stroke-width="0.6"/>
<circle cx="529.55" cy="158.92" r="1" fill="none" stroke="#adadad" stroke-width="0.6"/>
<circle cx="530.33" cy="158.94" r="1" fill="none" stroke="#adadad" stroke-width="0.6"/>
<circle cx="531.48" cy="156.65" r="1" fill="none" stroke="#adadad" stroke-width="0.6"/>
<circle cx="532.89" cy="154.13" r="1" fill="none" stroke="#adadad" stroke-width="0.6"/>
<circle cx="533.69" cy="155.37" r="1" fill="none" stroke="#adadad" stroke-width="0.6"/>
<circle cx="533.91" cy="156.76" r="1" fill="none" stroke="#adadad" stroke-width="0.6"/>
<circle cx="534.57" cy="158.23" r="1" fill="none" stroke="#adadad" stroke-width="0.6"/>
<circle cx="535.83" cy="158.53" r="1" fill="none" stroke="#adadad" stroke-width="0.6"/>
<circle cx="536.49" cy="163.16" r="1" fill="none" stroke="#adadad" stroke-width="0.6"/>
<circle cx="537.39" cy="165.96" r="1" fill="none" stroke="#adadad" stroke-width="0.6"/>
<circle cx="537.85" cy="164.3" r="1" fill="none" stroke="#adadad" stroke-width="0.6"/>
<circle cx="538.21" cy="169.13" r="1" fill="none" stroke="#adadad" stroke-width="0.6"/>
<circle cx="539.28" cy="164.08" r="1" fill="none" stroke="#adadad" stroke-width="0.6"/>
<circle cx="540.36" cy="167" r="1" fill="none" stroke="#adadad" stroke-width="0.6"/>
<circle cx="540.4" cy="168.96" r="1" fill="none" stroke="#adadad" stroke-width="0.6"/>
<circle cx="541.15" cy="173.06" r="1" fill="none" stroke="#adadad" stroke-width="0.6"/>
<circle cx="542.49" cy="170.63" r="1" fill="none" stroke="#adadad" stroke-width="0.6"/>
<circle cx="543.93" cy="167.58" r="1" fill="none" stroke="#adadad" stroke-width="0.6"/>
<circle cx="544.23" cy="171.55" r="1" fill="none" stroke="#adadad" stroke-width="0.6"/>
<circle cx="545.53" cy="171.59" r="1" fill="none" stroke="#adadad" stroke-width="0.6"/>
<circle cx="545.68" cy="171.31" r="1" fill="none" stroke="#adadad" stroke-width="0.6"/>
<circle cx="546.23" cy="169.96" r="1" fill="none" stroke="#adadad" stroke-width="0.6"/>
<circle cx="547.2" cy="170.14" r="1" fill="none" stroke="#adadad" stroke-width="0.6"/>
<circle cx="548.74" cy="172.42" r="1" fill="none" stroke="#adadad" stroke-width="0.6"/>
<circle cx="550.27" cy="166.58" r="1" fill="none" stroke="#adadad" stroke-width="0.6"/>
<circle cx="551.04" cy="165.48" r="1" fill="none" stroke="#adadad" stroke-width="0.6"/>
<circle cx="551.65" cy="170.92" r="1" fill="none" stroke="#adadad" stroke-width="0.6"/>
<circle cx="552.11" cy="170.77" r="1" fill="none" stroke="#adadad" stroke-width="0.6"/>
<circle cx="552.96" cy="172.28" r="1" fill="none" stroke="#adadad" stroke-width="0.6"/>
<circle cx="554.26" cy="168.16" r="1" fill="none" stroke="#adadad" stroke-width="0.6"/>
<circle cx="554.7" cy="168.69" r="1" fill="none" stroke="#adadad" stroke-width="0.6"/>
<circle cx="555.54" cy="170.37" r="1" fill="none" stroke="#adadad" stroke-width="0.6"/>
<circle cx="556.52" cy="172.94" r="1" fill="none" stroke="#adadad" stroke-width="0.6"/>
<circle cx="557.16" cy="170.27" r="1" fill="none" stroke="#adadad" stroke-width="0.6"/>
<circle cx="557.27" cy="168.57" r="1" fill="none" stroke="#adadad" stroke-width="0.6"/>
<circle cx="558.35" cy="170.87" r="1" fill="none" stroke="#adadad" stroke-width="0.6"/>
<circle cx="558.89" cy="168.65" r="1" fill="none" stroke="#adadad" stroke-width="0.6"/>
<circle cx="560.04" cy="171.62" r="1" fill="none" stroke="#adadad" stroke-width="0.6"/>
<circle cx="560.34" cy="169.42" r="1" fill="none" stroke="#adadad" stroke-width="0.6"/>
<circle cx="561.63" cy="168.56" r="1" fill="none" stroke="#adadad" stroke-width="0.6"/>
<circle cx="561.71" cy="167.08" r="1" fill="none" stroke="#adadad" stroke-width="0.6"/>
<circle cx="564.41" cy="170.61" r="1" fill="none" stroke="#adadad" stroke-width="0.6"/>
<circle cx="565.05" cy="166.24" r="1" fill="none" stroke="#adadad" stroke-width="0.6"/>
<circle cx="565.78" cy="171.23" r="1" fill="none" stroke="#adadad" stroke-width="0.6"/>
<circle cx="566.56" cy="171.44" r="1" fill="none" stroke="#adadad" stroke-width="0.6"/>
<circle cx="567.48" cy="165.26" r="1" fill="none" stroke="#adadad" stroke-width="0.6"/>
<circle cx="568.16" cy="168.57" r="1" fill="none" stroke="#adadad" stroke-width="0.6"/>
<circle cx="568.99" cy="166.84" r="1" fill="none" stroke="#adadad" stroke-width="0.6"/>
<circle cx="569.74" cy="167.8" r="1" fill="none" stroke="#adadad" stroke-width="0.6"/>
<circle cx="570.26" cy="166.52" r="1" fill="none" stroke="#adadad" stroke-width="0.6"/>
<circle cx="570.51" cy="164.56" r="1" fill="none" stroke="#adadad" stroke-width="0.6"/>
<circle cx="571.81" cy="165.3" r="1" fill="none" stroke="#adadad" stroke-width="0.6"/>
<circle cx="572.98" cy="170.49" r="1" fill="none" stroke="#adadad" stroke-width="0.6"/>
<circle cx="573.56" cy="168.47" r="1" fill="none" stroke="#adadad" stroke-width="0.6"/>
<circle cx="574.38" cy="167.57" r="1" fill="none" stroke="#adadad" stroke-width="0.6"/>
<circle cx="575.61" cy="169.77" r="1" fill="none" stroke="#adadad" stroke-width="0.6"/>
<circle cx="575.76" cy="168" r="1" fill="none" stroke="#adadad" stroke-width="0.6"/>
<circle cx="577.12" cy="168.94" r="1" fill="none" stroke="#adadad" stroke-width="0.6"/>
<circle cx="577.97" cy="168.73" r="1" fill="none" stroke="#adadad" stroke-width="0.6"/>
<circle cx="578.57" cy="171.16" r="1" fill="none" stroke="#adadad" stroke-width="0.6"/>
<circle cx="579.72" cy="168.15" r="1" fill="none" stroke="#adadad" stroke-width="0.6"/>
<circle cx="580.56" cy="165.97" r="1" fill="none" stroke="#adadad" stroke-width="0.6"/>
<circle cx="581.42" cy="164.87" r="1" fill="none" stroke="#adadad" stroke-width="0.6"/>
<circle cx="581.89" cy="170.32" r="1" fill="none" stroke="#adadad" stroke-width="0.6"/>
<circle cx="582.83" cy="168.45" r="1" fill="none" stroke="#adadad" stroke-width="0.6"/>
<circle cx="583.28" cy="166.78" r="1" fill="none" stroke="#adadad" stroke-width="0.6"/>
<circle cx="583.9" cy="165.16" r="1" fill="none" stroke="#adadad" stroke-width="0.6"/>
<circle cx="584.63" cy="162.89" r="1" fill="none" stroke="#adadad" stroke-width="0.6"/>
<circle cx="585.22" cy="165.59" r="1" fill="none" stroke="#adadad" stroke-width="0.6"/>
<circle cx="586.65" cy="169.23" r="1" fill="none" stroke="#adadad" stroke-width="0.6"/>
<circle cx="587.26" cy="170.45" r="1" fill="none" stroke="#adadad" stroke-width="0.6"/>
<circle cx="587.7" cy="166.51" r="1" fill="none" stroke="#adadad" stroke-width="0.6"/>
<circle cx="588.65" cy="167.68" r="1" fill="none" stroke="#adadad" stroke-width="0.6"/>
<circle cx="589.01" cy="163.77" r="1" fill="none" stroke="#adadad" stroke-width="0.6"/>
<circle cx="589.84" cy="168.17" r="1" fill="none" stroke="#adadad" stroke-width="0.6"/>
<circle cx="590.37" cy="167.17" r="1" fill="none" stroke="#adadad" stroke-width="0.6"/>
<circle cx="591.68" cy="165.81" r="1" fill="none" stroke="#adadad" stroke-width="0.6"/>
<circle cx="591.76" cy="165.3" r="1" fill="none" stroke="#adadad" stroke-width="0.6"/>
<circle cx="592.69" cy="166.77" r="1" fill="none" stroke="#adadad" stroke-width="0.6"/>
<circle cx="593.52" cy="166.48" r="1" fill="none" stroke="#adadad" stroke-width="0.6"/>
<circle cx="594.56" cy="165.81" r="1" fill="none" stroke="#adadad" stroke-width="0.6"/>
<circle cx="595.2" cy="165.82" r="1" fill="none" stroke="#adadad" stroke-width="0.6"/>
<circle cx="596.65" cy="163.07" r="1" fill="none" stroke="#adadad" stroke-width="0.6"/>
<circle cx="597.55" cy="163.03" r="1" fill="none" stroke="#adadad" stroke-width="0.6"/>
<circle cx="597.94" cy="165.73" r="1" fill="none" stroke="#adadad" stroke-width="0.6"/>
<circle cx="598.71" cy="165.98" r="1" fill="none" stroke="#adadad" stroke-width="0.6"/>
<circle cx="599.55" cy="163.56" r="1" fill="none" stroke="#adadad" stroke-width="0.6"/>
<circle cx="600.29" cy="166.75" r="1" fill="none" stroke="#adadad" stroke-width="0.6"/>
<circle cx="600.93" cy="162.8" r="1" fill="none" stroke="#adadad" stroke-width="0.6"/>
<circle cx="601.9" cy="165.16" r="1" fill="none" stroke="#adadad" stroke-width="0.6"/>
<circle cx="602.49" cy="161.7" r="1" fill="none" stroke="#adadad" stroke-width="0.6"/>
<circle cx="603.13" cy="165.56" r="1" fill="none" stroke="#adadad" stroke-width="0.6"/>
<circle cx="604.23" cy="166.33" r="1" fill="none" stroke="#adadad" stroke-width="0.6"/>
<circle cx="604.62" cy="162.77" r="1" fill="none" stroke="#adadad" stroke-width="0.6"/>
<circle cx="605.11" cy="167.5" r="1" fill="none" stroke="#adadad" stroke-width="0.6"/>
<circle cx="605.76" cy="162.14" r="1" fill="none" stroke="#adadad" stroke-width="0.6"/>
<circle cx="607.09" cy="165.66" r="1" fill="none" stroke="#adadad" stroke-width="0.6"/>
<circle cx="607.22" cy="162.41" r="1" fill="none" stroke="#adadad" stroke-width="0.6"/>
<circle cx="608.28" cy="163.48" r="1" fill="none" stroke="#adadad" stroke-width="0.6"/>
<circle cx="609.36" cy="162.63" r="1" fill="none" stroke="#adadad" stroke-width="0.6"/>
<circle cx="610.16" cy="162.79" r="1" fill="none" stroke="#adadad" stroke-width="0.6"/>
<circle cx="610.48" cy="166.81" r="1" fill="none" stroke="#adadad" stroke-width="0.6"/>
<circle cx="612" cy="163.36" r="1" fill="none" stroke="#adadad" stroke-width="0.6"/>
<circle cx="612.52" cy="164.69" r="1" fill="none" stroke="#adadad" stroke-width="0.6"/>
<circle cx="613.4" cy="160.85" r="1" fill="none" stroke="#adadad" stroke-width="0.6"/>
<circle cx="615.2" cy="162.98" r="1" fill="none" stroke="#adadad" stroke-width="0.6"/>
<circle cx="615.85" cy="163.57" r="1" fill="none" stroke="#adadad" stroke-width="0.6"/>
<circle cx="616.64" cy="164.52" r="1" fill="none" stroke="#adadad" stroke-width="0.6"/>
<circle cx="616.75" cy="163" r="1" fill="none" stroke="#adadad" stroke-width="0.6"/>
<circle cx="618.24" cy="162.28" r="1" fill="none" stroke="#adadad" stroke-width="0.6"/>
<circle cx="618.6" cy="166.2" r="1" fill="none" stroke="#adadad" stroke-width="0.6"/>
<circle cx="619.04" cy="163.01" r="1" fill="none" stroke="#adadad" stroke-width="0.6"/>
<circle cx="619.73" cy="165.24" r="1" fill="none" stroke="#adadad" stroke-width="0.6"/>
<circle cx="620.46" cy="163.92" r="1" fill="none" stroke="#adadad" stroke-width="0.6"/>
<circle cx="621.65" cy="165.03" r="1" fill="none" stroke="#adadad" stroke-width="0.6"/>
<circle cx="622.68" cy="164.75" r="1" fill="none" stroke="#adadad" stroke-width="0.6"/>
<circle cx="623.12" cy="159.9" r="1" fill="none" stroke="#adadad" stroke-width="0.6"/>
<circle cx="623.54" cy="161.8" r="1" fill="none" stroke="#adadad" stroke-width="0.6"/>
<circle cx="624.72" cy="161.24" r="1" fill="none" stroke="#adadad" stroke-width="0.6"/>
<circle cx="625.4" cy="157.77" r="1" fill="none" stroke="#adadad" stroke-width="0.6"/>
<circle cx="625.69" cy="155.67" r="1" fill="none" stroke="#adadad" stroke-width="0.6"/>
<circle cx="626.65" cy="152.56" r="1" fill="none" stroke="#adadad" stroke-width="0.6"/>
<circle cx="627.11" cy="149.64" r="1" fill="none" stroke="#adadad" stroke-width="0.6"/>
<circle cx="628.41" cy="142.33" r="1" fill="none" stroke="#adadad" stroke-width="0.6"/>
<circle cx="629.07" cy="138.51" r="1" fill="none" stroke="#adadad" stroke-width="0.6"/>
<circle cx="629.66" cy="128.72" r="1" fill="none" stroke="#adadad" stroke-width="0.6"/>
<circle cx="630.45" cy="123.38" r="1" fill="none" stroke="#adadad" stroke-width="0.6"/>
<circle cx="631.04" cy="116.78" r="1" fill="none" stroke="#adadad" stroke-width="0.6"/>
<circle cx="631.79" cy="109.94" r="1" fill="none" stroke="#adadad" stroke-width="0.6"/>
<circle cx="632.87" cy="111.35" r="1" fill="none" stroke="#adadad" stroke-width="0.6"/>
<circle cx="632.96" cy="114.11" r="1" fill="none" stroke="#adadad" stroke-width="0.6"/>
<circle cx="634.13" cy="118.35" r="1" fill="none" stroke="#adadad" stroke-width="0.6"/>
<circle cx="635.09" cy="123.69" r="1" fill="none" stroke="#adadad" stroke-width="0.6"/>
<circle cx="635.48" cy="125.13" r="1" fill="none" stroke="#adadad" stroke-width="0.6"/>
<circle cx="636.21" cy="134.05" r="1" fill="none" stroke="#adadad" stroke-width="0.6"/>
<circle cx="637.17" cy="144.09" r="1" fill="none" stroke="#adadad" stroke-width="0.6"/>
<circle cx="638.02" cy="147.19" r="1" fill="none" stroke="#adadad" stroke-width="0.6"/>
<circle cx="638.52" cy="154.67" r="1" fill="none" stroke="#adadad" stroke-width="0.6"/>
<circle cx="639.97" cy="154.01" r="1" fill="none" stroke="#adadad" stroke-width="0.6"/>
<circle cx="640.48" cy="155.96" r="1" fill="none" stroke="#adadad" stroke-width="0.6"/>
<circle cx="641.32" cy="157.96" r="1" fill="none" stroke="#adadad" stroke-width="0.6"/>
<circle cx="642.03" cy="160.97" r="1" fill="none" stroke="#adadad" stroke-width="0.6"/>
<circle cx="642.7" cy="162.81" r="1" fill="none" stroke="#adadad" stroke-width="0.6"/>
<circle cx="643.98" cy="159.4" r="1" fill="none" stroke="#adadad" stroke-width="0.6"/>
<circle cx="644.83" cy="158.25" r="1" fill="none" stroke="#adadad" stroke-width="0.6"/>
<circle cx="645.4" cy="157.88" r="1" fill="none" stroke="#adadad" stroke-width="0.6"/>
<circle cx="647" cy="157.98" r="1" fill="none" stroke="#adadad" stroke-width="0.6"/>
<circle cx="648.19" cy="161.05" r="1" fill="none" stroke="#adadad" stroke-width="0.6"/>
<circle cx="649.06" cy="156.66" r="1" fill="none" stroke="#adadad" stroke-width="0.6"/>
<circle cx="649.19" cy="160.56" r="1" fill="none" stroke="#adadad" stroke-width="0.6"/>
<circle cx="650.42" cy="159.67" r="1" fill="none" stroke="#adadad" stroke-width="0.6"/>
<circle cx="650.95" cy="159.81" r="1" fill="none" stroke="#adadad" stroke-width="0.6"/>
<circle cx="651.35" cy="163.92" r="1" fill="none" stroke="#adadad" stroke-width="0.6"/>
<circle cx="653.45" cy="159.95" r="1" fill="none" stroke="#adadad" stroke-width="0.6"/>
<circle cx="654.15" cy="161.45" r="1" fill="none" stroke="#adadad" stroke-width="0.6"/>
<circle cx="654.36" cy="162.88" r="1" fill="none" stroke="#adadad" stroke-width="0.6"/>
<circle cx="657" cy="159.5" r="1" fill="none" stroke="#adadad" stroke-width="0.6"/>
<circle cx="657.5" cy="162.58" r="1" fill="none" stroke="#adadad" stroke-width="0.6"/>
<circle cx="658.33" cy="161.74" r="1" fill="none" stroke="#adadad" stroke-width="0.6"/>
<circle cx="659.31" cy="156.36" r="1" fill="none" stroke="#adadad" stroke-width="0.6"/>
<circle cx="660.07" cy="160.39" r="1" fill="none" stroke="#adadad" stroke-width="0.6"/>
<circle cx="660.22" cy="159.44" r="1" fill="none" stroke="#adadad" stroke-width="0.6"/>
<circle cx="661.35" cy="160.69" r="1" fill="none" stroke="#adadad" stroke-width="0.6"/>
<circle cx="661.66" cy="159.73" r="1" fill="none" stroke="#adadad" stroke-width="0.6"/>
<circle cx="663.06" cy="161.08" r="1" fill="none" stroke="#adadad" stroke-width="0.6"/>
<circle cx="663.32" cy="156.8" r="1" fill="none" stroke="#adadad" stroke-width="0.6"/>
<circle cx="663.9" cy="159.6" r="1" fill="none" stroke="#adadad" stroke-width="0.6"/>
<circle cx="664.55" cy="157.66" r="1" fill="none" stroke="#adadad" stroke-width="0.6"/>
<circle cx="665.9" cy="156.24" r="1" fill="none" stroke="#adadad" stroke-width="0.6"/>
<circle cx="666.47" cy="159.81" r="1" fill="none" stroke="#adadad" stroke-width="0.6"/>
<circle cx="667.16" cy="155.79" r="1" fill="none" stroke="#adadad" stroke-width="0.6"/>
<path d="M491.5 176.63 L492.23 176.53 L492.97 176.43 L493.7 176.33 L494.44 176.23 L495.17 176.13 L495.91 176.03 L496.64 175.92 L497.38 175.82 L498.11 175.72 L498.85 175.62 L499.58 175.52 L500.32 175.42 L501.05 175.32 L501.79 175.22 L502.52 175.12 L503.26 175.02 L503.99 174.92 L504.73 174.81 L505.46 174.71 L506.19 174.61 L506.93 174.51 L507.66 174.41 L508.4 174.31 L509.13 174.21 L509.87 174.11 L510.6 174.01 L511.34 173.91 L512.07 173.81 L512.81 173.7 L513.54 173.6 L514.28 173.5 L515.01 173.4 L515.75 173.3 L516.48 173.2 L517.22 173.1 L517.95 173 L518.68 172.9 L519.42 172.8 L520.15 172.7 L520.89 172.59 L521.62 172.49 L522.36 172.39 L523.09 172.29 L523.83 172.19 L524.56 172.09 L525.3 171.99 L526.03 171.89 L526.77 171.79 L527.5 171.69 L528.24 171.59 L528.97 171.48 L529.71 171.38 L530.44 171.28 L531.18 171.18 L531.91 171.08 L532.64 170.99 L533.38 170.95 L534.11 170.9 L534.85 170.86 L535.58 170.81 L536.32 170.77 L537.05 170.72 L537.79 170.68 L538.52 170.63 L539.26 170.59 L539.99 170.54 L540.73 170.5 L541.46 170.45 L542.2 170.41 L542.93 170.36 L543.67 170.32 L544.4 170.27 L545.14 170.23 L545.87 170.18 L546.6 170.14 L547.34 170.09 L548.07 170.05 L548.81 170 L549.54 169.96 L550.28 169.91 L551.01 169.87 L551.75 169.82 L552.48 169.78 L553.22 169.73 L553.95 169.69 L554.69 169.64 L555.42 169.6 L556.16 169.55 L556.89 169.51 L557.63 169.46 L558.36 169.42 L559.09 169.37 L559.83 169.33 L560.56 169.28 L561.3 169.24 L562.03 169.19 L562.77 169.15 L563.5 169.1 L564.24 169.06 L564.97 169.01 L565.71 168.97 L566.44 168.92 L567.18 168.88 L567.91 168.83 L568.65 168.79 L569.38 168.74 L570.12 168.7 L570.85 168.65 L571.59 168.61 L572.32 168.56 L573.05 168.52 L573.79 168.47 L574.52 168.43 L575.26 168.37 L575.99 168.28 L576.73 168.19 L577.46 168.1 L578.2 168.01 L578.93 167.92 L579.67 167.83 L580.4 167.74 L581.14 167.65 L581.87 167.56 L582.61 167.47 L583.34 167.38 L584.08 167.3 L584.81 167.21 L585.55 167.12 L586.28 167.03 L587.01 166.94 L587.75 166.85 L588.48 166.76 L589.22 166.67 L589.95 166.58 L590.69 166.49 L591.42 166.4 L592.16 166.31 L592.89 166.22 L593.63 166.13 L594.36 166.04 L595.1 165.95 L595.83 165.86 L596.57 165.77 L597.3 165.69 L598.04 165.6 L598.77 165.51 L599.51 165.42 L600.24 165.33 L600.97 165.24 L601.71 165.15 L602.44 165.06 L603.18 164.97 L603.91 164.88 L604.65 164.79 L605.38 164.7 L606.12 164.61 L606.85 164.52 L607.59 164.43 L608.32 164.34 L609.06 164.25 L609.79 164.16 L610.53 164.08 L611.26 163.99 L612 163.9 L612.73 163.81 L613.46 163.72 L614.2 163.63 L614.93 163.54 L615.67 163.45 L616.4 163.36 L617.14 163.27 L617.87 163.18 L618.61 163.09 L619.34 163 L620.08 162.91 L620.81 162.82 L621.55 162.73 L622.28 162.64 L623.02 162.55 L623.75 162.47 L624.49 162.38 L625.22 162.29 L625.96 162.2 L626.69 162.11 L627.42 162.02 L628.16 161.93 L628.89 161.84 L629.63 161.75 L630.36 161.66 L631.1 161.57 L631.83 161.48 L632.57 161.39 L633.3 161.33 L634.04 161.26 L634.77 161.2 L635.51 161.13 L636.24 161.07 L636.98 161 L637.71 160.94 L638.45 160.87 L639.18 160.81 L639.92 160.75 L640.65 160.68 L641.38 160.62 L642.12 160.55 L642.85 160.49 L643.59 160.42 L644.32 160.36 L645.06 160.29 L645.79 160.23 L646.53 160.16 L647.26 160.1 L648 160.03 L648.73 159.97 L649.47 159.9 L650.2 159.84 L650.94 159.77 L651.67 159.71 L652.41 159.64 L653.14 159.58 L653.87 159.51 L654.61 159.45 L655.34 159.38 L656.08 159.32 L656.81 159.25 L657.55 159.19 L658.28 159.12 L659.02 159.06 L659.75 158.99 L660.49 158.93 L661.22 158.86 L661.96 158.8 L662.69 158.73 L663.43 158.67 L664.16 158.6 L664.9 158.54 L665.63 158.47 L666.37 158.41 L667.1 158.34" fill="none" stroke="#7d0c1c" stroke-width="1.4" stroke-linejoin="round"/>
<path d="M491.5 176.63 L492.23 176.53 L492.97 176.43 L493.7 176.33 L494.44 176.23 L495.17 176.13 L495.91 176.03 L496.64 175.92 L497.38 175.82 L498.11 175.72 L498.85 175.62 L499.58 175.52 L500.32 175.42 L501.05 175.32 L501.79 175.22 L502.52 175.12 L503.26 175.02 L503.99 174.92 L504.73 174.81 L505.46 174.71 L506.19 174.61 L506.93 174.51 L507.66 174.41 L508.4 174.31 L509.13 174.21 L509.87 174.11 L510.6 174.01 L511.34 173.91 L512.07 173.81 L512.81 173.7 L513.54 173.6 L514.28 173.5 L515.01 173.4 L515.75 173.3 L516.48 173.2 L517.22 173.1 L517.95 172.99 L518.68 172.89 L519.42 172.78 L520.15 172.65 L520.89 172.51 L521.62 172.33 L522.36 172.09 L523.09 171.77 L523.83 171.32 L524.56 170.7 L525.3 169.85 L526.03 168.74 L526.77 167.34 L527.5 165.66 L528.24 163.75 L528.97 161.71 L529.71 159.69 L530.44 157.87 L531.18 156.42 L531.91 155.49 L532.64 155.2 L533.38 155.61 L534.11 156.61 L534.85 158.09 L535.58 159.86 L536.32 161.76 L537.05 163.62 L537.79 165.3 L538.52 166.73 L539.26 167.87 L539.99 168.73 L540.73 169.34 L541.46 169.74 L542.2 169.99 L542.93 170.12 L543.67 170.19 L544.4 170.21 L545.14 170.19 L545.87 170.17 L546.6 170.13 L547.34 170.09 L548.07 170.05 L548.81 170 L549.54 169.96 L550.28 169.91 L551.01 169.87 L551.75 169.82 L552.48 169.78 L553.22 169.73 L553.95 169.69 L554.69 169.64 L555.42 169.6 L556.16 169.55 L556.89 169.51 L557.63 169.46 L558.36 169.42 L559.09 169.37 L559.83 169.33 L560.56 169.28 L561.3 169.24 L562.03 169.19 L562.77 169.15 L563.5 169.1 L564.24 169.06 L564.97 169.01 L565.71 168.97 L566.44 168.92 L567.18 168.88 L567.91 168.83 L568.65 168.79 L569.38 168.74 L570.12 168.7 L570.85 168.65 L571.59 168.61 L572.32 168.56 L573.05 168.52 L573.79 168.47 L574.52 168.43 L575.26 168.37 L575.99 168.28 L576.73 168.19 L577.46 168.1 L578.2 168.01 L578.93 167.92 L579.67 167.83 L580.4 167.74 L581.14 167.65 L581.87 167.56 L582.61 167.47 L583.34 167.38 L584.08 167.3 L584.81 167.21 L585.55 167.12 L586.28 167.03 L587.01 166.94 L587.75 166.85 L588.48 166.76 L589.22 166.67 L589.95 166.58 L590.69 166.49 L591.42 166.4 L592.16 166.31 L592.89 166.22 L593.63 166.13 L594.36 166.04 L595.1 165.95 L595.83 165.86 L596.57 165.77 L597.3 165.69 L598.04 165.6 L598.77 165.51 L599.51 165.42 L600.24 165.33 L600.97 165.24 L601.71 165.15 L602.44 165.06 L603.18 164.97 L603.91 164.88 L604.65 164.79 L605.38 164.7 L606.12 164.61 L606.85 164.52 L607.59 164.43 L608.32 164.34 L609.06 164.25 L609.79 164.16 L610.53 164.08 L611.26 163.99 L612 163.9 L612.73 163.81 L613.46 163.72 L614.2 163.63 L614.93 163.54 L615.67 163.45 L616.4 163.36 L617.14 163.27 L617.87 163.18 L618.61 163.09 L619.34 162.99 L620.08 162.89 L620.81 162.76 L621.55 162.59 L622.28 162.34 L623.02 161.94 L623.75 161.28 L624.49 160.21 L625.22 158.53 L625.96 156.03 L626.69 152.51 L627.42 147.83 L628.16 142.04 L628.89 135.39 L629.63 128.38 L630.36 121.73 L631.1 116.24 L631.83 112.65 L632.57 111.51 L633.3 112.97 L634.04 116.8 L634.77 122.42 L635.51 129.04 L636.24 135.88 L636.98 142.25 L637.71 147.69 L638.45 151.99 L639.18 155.16 L639.92 157.34 L640.65 158.73 L641.38 159.56 L642.12 160.01 L642.85 160.22 L643.59 160.3 L644.32 160.3 L645.06 160.27 L645.79 160.22 L646.53 160.16 L647.26 160.1 L648 160.03 L648.73 159.97 L649.47 159.9 L650.2 159.84 L650.94 159.77 L651.67 159.71 L652.41 159.64 L653.14 159.58 L653.87 159.51 L654.61 159.45 L655.34 159.38 L656.08 159.32 L656.81 159.25 L657.55 159.19 L658.28 159.12 L659.02 159.06 L659.75 158.99 L660.49 158.93 L661.22 158.86 L661.96 158.8 L662.69 158.73 L663.43 158.67 L664.16 158.6 L664.9 158.54 L665.63 158.47 L666.37 158.41 L667.1 158.34" fill="none" stroke="#7d0c1c" stroke-width="1.7" stroke-linejoin="round"/>
<text x="0" y="0" transform="translate(531.9 42.6) scale(1 1.13)" font-size="7.35" fill="#d41e34" stroke="#d41e34" text-anchor="middle" font-weight="bold">952.0</text>
<text x="0" y="0" transform="translate(530.9 93.6) scale(1 1.13)" font-size="7.35" fill="#d41e34" stroke="#d41e34" text-anchor="middle" font-weight="bold">952.3</text>
<text x="0" y="0" transform="translate(533 144.2) scale(1 1.13)" font-size="7.35" fill="#d41e34" stroke="#d41e34" text-anchor="middle" font-weight="bold">951.8</text>
<text x="0" y="0" transform="translate(638.4 18.9) scale(1 1.13)" font-size="7.35" fill="#d41e34" stroke="#d41e34" text-anchor="start" font-weight="bold">932.2</text>
<text x="0" y="0" transform="translate(638.4 68.4) scale(1 1.13)" font-size="7.35" fill="#d41e34" stroke="#d41e34" text-anchor="start" font-weight="bold">932.4</text>
<text x="0" y="0" transform="translate(638.4 124) scale(1 1.13)" font-size="7.35" fill="#d41e34" stroke="#d41e34" text-anchor="start" font-weight="bold">932.0</text>
<text x="588.9" y="41.8" font-size="7.4" fill="#d41e34" stroke="#d41e34" text-anchor="start" font-weight="bold">Cu<tspan font-size="5.03" baseline-shift="2.96">0</tspan>/Cu<tspan font-size="5.03" baseline-shift="2.96">1+</tspan></text>
<text x="0" y="0" transform="translate(493.5 59.6) scale(1 1.07)" font-size="8.2" fill="#000" stroke="#000" text-anchor="start" font-weight="bold">CH<tspan font-size="4.92" baseline-shift="-2.13">3</tspan>OH</text>
<text x="0" y="0" transform="translate(493.5 115.6) scale(1 1.07)" font-size="8.2" fill="#000" stroke="#000" text-anchor="start" font-weight="bold">H<tspan font-size="4.92" baseline-shift="-2.13">2</tspan>O</text>
<text x="0" y="0" transform="translate(493.5 166.6) scale(1 1.07)" font-size="8.2" fill="#000" stroke="#000" text-anchor="start" font-weight="bold">H<tspan font-size="4.92" baseline-shift="-2.13">2</tspan></text>
<rect x="491" y="7.45" width="176.6" height="175.55" fill="none" stroke="#000" stroke-width="1.45"/>
<line x1="667.6" y1="183" x2="667.6" y2="186.5" stroke="#000" stroke-width="1.2" stroke-linecap="butt"/>
<line x1="642.37" y1="183" x2="642.37" y2="186.5" stroke="#000" stroke-width="1.2" stroke-linecap="butt"/>
<line x1="617.14" y1="183" x2="617.14" y2="186.5" stroke="#000" stroke-width="1.2" stroke-linecap="butt"/>
<line x1="591.91" y1="183" x2="591.91" y2="186.5" stroke="#000" stroke-width="1.2" stroke-linecap="butt"/>
<line x1="566.69" y1="183" x2="566.69" y2="186.5" stroke="#000" stroke-width="1.2" stroke-linecap="butt"/>
<line x1="541.46" y1="183" x2="541.46" y2="186.5" stroke="#000" stroke-width="1.2" stroke-linecap="butt"/>
<line x1="516.23" y1="183" x2="516.23" y2="186.5" stroke="#000" stroke-width="1.2" stroke-linecap="butt"/>
<line x1="491" y1="183" x2="491" y2="186.5" stroke="#000" stroke-width="1.2" stroke-linecap="butt"/>
<line x1="654.99" y1="183" x2="654.99" y2="185.2" stroke="#000" stroke-width="1.2" stroke-linecap="butt"/>
<line x1="629.76" y1="183" x2="629.76" y2="185.2" stroke="#000" stroke-width="1.2" stroke-linecap="butt"/>
<line x1="604.53" y1="183" x2="604.53" y2="185.2" stroke="#000" stroke-width="1.2" stroke-linecap="butt"/>
<line x1="579.3" y1="183" x2="579.3" y2="185.2" stroke="#000" stroke-width="1.2" stroke-linecap="butt"/>
<line x1="554.07" y1="183" x2="554.07" y2="185.2" stroke="#000" stroke-width="1.2" stroke-linecap="butt"/>
<line x1="528.84" y1="183" x2="528.84" y2="185.2" stroke="#000" stroke-width="1.2" stroke-linecap="butt"/>
<line x1="503.61" y1="183" x2="503.61" y2="185.2" stroke="#000" stroke-width="1.2" stroke-linecap="butt"/>
<text x="0" y="0" transform="translate(667.6 195.9) scale(0.92 1.02)" font-size="8" fill="#000" stroke="#000" text-anchor="middle" font-weight="bold" letter-spacing="0.3">925</text>
<text x="0" y="0" transform="translate(642.37 195.9) scale(0.92 1.02)" font-size="8" fill="#000" stroke="#000" text-anchor="middle" font-weight="bold" letter-spacing="0.3">930</text>
<text x="0" y="0" transform="translate(617.14 195.9) scale(0.92 1.02)" font-size="8" fill="#000" stroke="#000" text-anchor="middle" font-weight="bold" letter-spacing="0.3">935</text>
<text x="0" y="0" transform="translate(591.91 195.9) scale(0.92 1.02)" font-size="8" fill="#000" stroke="#000" text-anchor="middle" font-weight="bold" letter-spacing="0.3">940</text>
<text x="0" y="0" transform="translate(566.69 195.9) scale(0.92 1.02)" font-size="8" fill="#000" stroke="#000" text-anchor="middle" font-weight="bold" letter-spacing="0.3">945</text>
<text x="0" y="0" transform="translate(541.46 195.9) scale(0.92 1.02)" font-size="8" fill="#000" stroke="#000" text-anchor="middle" font-weight="bold" letter-spacing="0.3">950</text>
<text x="0" y="0" transform="translate(516.23 195.9) scale(0.92 1.02)" font-size="8" fill="#000" stroke="#000" text-anchor="middle" font-weight="bold" letter-spacing="0.3">955</text>
<text x="0" y="0" transform="translate(491 195.9) scale(0.92 1.02)" font-size="8" fill="#000" stroke="#000" text-anchor="middle" font-weight="bold" letter-spacing="0.3">960</text>
<text x="0" y="0" transform="translate(579.3 212.4) scale(1 0.94)" font-size="10" fill="#000" stroke="none" text-anchor="middle" font-weight="bold">Binding energy (eV)</text>
<text x="0" y="0" font-size="10" font-weight="bold" text-anchor="middle" dominant-baseline="central" transform="translate(480 95.5) rotate(-90)">Intensity (a.u.)</text>
<line x1="59.19" y1="257" x2="59.19" y2="402.9" stroke="#222" stroke-width="1.25" stroke-dasharray="4 5" stroke-linecap="butt"/>
<line x1="90.34" y1="247" x2="90.34" y2="402.9" stroke="#222" stroke-width="1.25" stroke-dasharray="4 5" stroke-linecap="butt"/>
<line x1="132.08" y1="247" x2="132.08" y2="402.9" stroke="#222" stroke-width="1.25" stroke-dasharray="4 5" stroke-linecap="butt"/>
<line x1="151.48" y1="237" x2="151.48" y2="402.9" stroke="#2d55d6" stroke-width="1.25" stroke-dasharray="4 5" stroke-linecap="butt"/>
<path d="M22.75 301.91 L23.21 302.16 L23.68 302.46 L24.14 302.13 L24.6 303.31 L25.07 303.64 L25.53 304.01 L26 303.11 L26.46 303.37 L26.92 303.42 L27.39 304.8 L27.85 304.42 L28.31 304.93 L28.78 304.93 L29.24 305.15 L29.71 305.47 L30.17 305.68 L30.63 305.81 L31.1 306.62 L31.56 306.44 L32.02 305.79 L32.49 306.07 L32.95 306.41 L33.42 305.77 L33.88 305.51 L34.34 305.61 L34.81 305.95 L35.27 305.41 L35.73 306.23 L36.2 305.98 L36.66 306.3 L37.13 305.62 L37.59 303.99 L38.05 304.3 L38.52 304.04 L38.98 303.57 L39.44 303.8 L39.91 303.49 L40.37 303.04 L40.84 302.99 L41.3 302.42 L41.76 302.68 L42.23 302.45 L42.69 301.99 L43.15 301.77 L43.62 300.27 L44.08 299.28 L44.54 299.71 L45.01 300.4 L45.47 299.66 L45.94 299.77 L46.4 298.51 L46.86 297.63 L47.33 296.15 L47.79 294.55 L48.25 293.3 L48.72 291.5 L49.18 291.07 L49.65 290.64 L50.11 289.41 L50.57 287.64 L51.04 285.28 L51.5 283.68 L51.96 281.88 L52.43 280.41 L52.89 280.31 L53.36 277.96 L53.82 276.94 L54.28 275.03 L54.75 273.55 L55.21 269.75 L55.67 267.02 L56.14 264.89 L56.6 261.8 L57.07 260.11 L57.53 259.48 L57.99 258.35 L58.46 257.15 L58.92 257.59 L59.38 257.44 L59.85 258.41 L60.31 257.86 L60.78 259.37 L61.24 260.49 L61.7 262.7 L62.17 266.15 L62.63 269.97 L63.09 272.05 L63.56 274.91 L64.02 278.21 L64.48 281.21 L64.95 283.06 L65.41 283.67 L65.88 285.34 L66.34 286.8 L66.8 288.65 L67.27 289.14 L67.73 290.88 L68.19 291.52 L68.66 292.45 L69.12 292.64 L69.59 292.95 L70.05 293.58 L70.51 294.27 L70.98 296.01 L71.44 296.81 L71.9 296.87 L72.37 297.65 L72.83 298.59 L73.3 298.91 L73.76 299.33 L74.22 299.34 L74.69 299.52 L75.15 299.49 L75.61 300.03 L76.08 300.37 L76.54 299.94 L77.01 300.26 L77.47 300.26 L77.93 299.75 L78.4 299.54 L78.86 299.43 L79.32 299.17 L79.79 299.06 L80.25 298.67 L80.72 298.25 L81.18 297.58 L81.64 297.02 L82.11 295.81 L82.57 295.46 L83.03 295.38 L83.5 294.09 L83.96 292.79 L84.42 291.88 L84.89 290.56 L85.35 289.29 L85.82 286.54 L86.28 283.97 L86.74 281.27 L87.21 278.27 L87.67 274 L88.13 270.26 L88.6 265.99 L89.06 261.05 L89.53 256.48 L89.99 254 L90.45 253.3 L90.92 256.65 L91.38 261.4 L91.84 267.47 L92.31 272.14 L92.77 276.91 L93.24 280.71 L93.7 284.53 L94.16 287.13 L94.63 289.65 L95.09 290.99 L95.55 292.74 L96.02 293.58 L96.48 295.21 L96.95 296.24 L97.41 296.36 L97.87 296.21 L98.34 297.42 L98.8 297.14 L99.26 298.68 L99.73 299.8 L100.19 300.34 L100.66 301.49 L101.12 301.02 L101.58 301.51 L102.05 301.88 L102.51 302.18 L102.97 302.14 L103.44 302.49 L103.9 301.57 L104.36 301.43 L104.83 301.13 L105.29 301.28 L105.76 300.47 L106.22 299.14 L106.68 298.61 L107.15 298.08 L107.61 297.95 L108.07 296.67 L108.54 295.42 L109 294.5 L109.47 293.39 L109.93 293.12 L110.39 292.19 L110.86 292.12 L111.32 291.82 L111.78 291.95 L112.25 291.46 L112.71 289.99 L113.18 289.32 L113.64 288.27 L114.1 289.35 L114.57 287.77 L115.03 287.81 L115.49 286.76 L115.96 285.82 L116.42 284.52 L116.89 283.54 L117.35 283.11 L117.81 282.67 L118.28 281.31 L118.74 280.82 L119.2 280.16 L119.67 280.13 L120.13 278.83 L120.59 278.91 L121.06 278.65 L121.52 277.82 L121.99 277.42 L122.45 276.47 L122.91 275.46 L123.38 273.99 L123.84 273.16 L124.3 272.63 L124.77 272.19 L125.23 270.87 L125.7 269.72 L126.16 269.35 L126.62 268.37 L127.09 267.7 L127.55 266.68 L128.01 265.72 L128.48 264.96 L128.94 264.46 L129.41 262.62 L129.87 261.44 L130.33 260.79 L130.8 260.08 L131.26 260.21 L131.72 260.16 L132.19 262.01 L132.65 262.54 L133.12 263.36 L133.58 263.71 L134.04 263.56 L134.51 265.23 L134.97 265.96 L135.43 267.53 L135.9 268.46 L136.36 269.81 L136.83 271.01 L137.29 272.78 L137.75 272.63 L138.22 273.76 L138.68 275.46 L139.14 275.85 L139.61 277.38 L140.07 276.99 L140.53 278.77 L141 278.66 L141.46 278.07 L141.93 277.34 L142.39 278.14 L142.85 277.45 L143.32 276.2 L143.78 275.77 L144.24 274.44 L144.71 273.36 L145.17 271.83 L145.64 270.93 L146.1 269.23 L146.56 267.09 L147.03 264.3 L147.49 262.93 L147.95 261.01 L148.42 258.63 L148.88 256.26 L149.35 253.27 L149.81 250.24 L150.27 248.92 L150.74 247.08 L151.2 246.1 L151.66 246.34 L152.13 249.22 L152.59 252.53 L153.06 256.57 L153.52 260.03 L153.98 263.17 L154.45 267.68 L154.91 270.73 L155.37 274.03 L155.84 276.93 L156.3 279.43 L156.77 280.63 L157.23 282.8 L157.69 284.22 L158.16 285.9 L158.62 286.65 L159.08 287.2 L159.55 287.65 L160.01 288.47 L160.47 290.33 L160.94 291.12 L161.4 291.68 L161.87 292.19 L162.33 292.44 L162.79 292.9 L163.26 293.92 L163.72 294.76 L164.18 294.92 L164.65 294.81 L165.11 295.21 L165.58 296.16 L166.04 295.48 L166.5 296.65 L166.97 296.95 L167.43 297.77 L167.89 298.06 L168.36 299.04 L168.82 298.48 L169.29 298.09 L169.75 298.05 L170.21 297.94 L170.68 299.38 L171.14 299.53 L171.6 298.48 L172.07 299.05 L172.53 299.28 L173 299.98 L173.46 300.73 L173.92 300.41 L174.39 301.95 L174.85 302.22 L175.31 302.53 L175.78 303.41 L176.24 302.7 L176.71 302.73 L177.17 303.4 L177.63 303.13 L178.1 302.85 L178.56 302.76 L179.02 303.37 L179.49 304.84 L179.95 303.45 L180.41 303.9 L180.88 303.57 L181.34 303.09 L181.81 304.35 L182.27 304.5 L182.73 304.14 L183.2 303.97 L183.66 304.14 L184.12 303.7 L184.59 303.73 L185.05 304.29 L185.52 304.6 L185.98 303.72 L186.44 303.32 L186.91 304.25 L187.37 303.86 L187.83 303.58 L188.3 302.82 L188.76 302.45 L189.23 302.8 L189.69 303.39 L190.15 303.64 L190.62 302.66 L191.08 302.36 L191.54 302.13 L192.01 302.3 L192.47 301.82 L192.94 300.78 L193.4 301.58 L193.86 301.87 L194.33 302.57 L194.79 302.92 L195.25 302.54 L195.72 302.21 L196.18 301.29 L196.65 301.63 L197.11 301.5 L197.57 301.38 L198.04 300.66 L198.5 300.37" fill="none" stroke="#aac6fa" stroke-width="1.5" stroke-linejoin="round"/>
<path d="M22.75 326.1 L23.21 326.2 L23.68 326.46 L24.14 326.88 L24.6 325.54 L25.07 325.36 L25.53 325.28 L26 325.27 L26.46 325.75 L26.92 326.8 L27.39 326.73 L27.85 325.97 L28.31 326 L28.78 326.82 L29.24 326.82 L29.71 327.13 L30.17 328.85 L30.63 329.58 L31.1 330.02 L31.56 330.25 L32.02 330.32 L32.49 330.92 L32.95 331.24 L33.42 330.69 L33.88 331.56 L34.34 330.69 L34.81 331.75 L35.27 330.56 L35.73 330.19 L36.2 329.56 L36.66 330.8 L37.13 330.87 L37.59 331.18 L38.05 331.06 L38.52 330.53 L38.98 331.04 L39.44 330.44 L39.91 329.93 L40.37 329.33 L40.84 329.2 L41.3 329.36 L41.76 329.79 L42.23 329.21 L42.69 328.55 L43.15 327.25 L43.62 326.69 L44.08 327.06 L44.54 326.74 L45.01 326.19 L45.47 326.28 L45.94 325.29 L46.4 325.51 L46.86 325.02 L47.33 324.39 L47.79 323.07 L48.25 322.6 L48.72 321.05 L49.18 321.67 L49.65 321.42 L50.11 320.71 L50.57 318.76 L51.04 317.77 L51.5 316.49 L51.96 315.77 L52.43 315 L52.89 313.66 L53.36 312.02 L53.82 311.66 L54.28 309.49 L54.75 307.11 L55.21 305.35 L55.67 303.01 L56.14 300.62 L56.6 298.69 L57.07 295.95 L57.53 294.36 L57.99 292.43 L58.46 290.75 L58.92 290.01 L59.38 289.75 L59.85 290.43 L60.31 291.9 L60.78 293.47 L61.24 296.34 L61.7 298.75 L62.17 301.31 L62.63 303.47 L63.09 305.37 L63.56 307.33 L64.02 309.68 L64.48 311.34 L64.95 312.44 L65.41 312.75 L65.88 314.01 L66.34 315.09 L66.8 316.02 L67.27 315.98 L67.73 316.19 L68.19 316.87 L68.66 317.92 L69.12 319.89 L69.59 320.79 L70.05 321.19 L70.51 322.9 L70.98 323.54 L71.44 324.76 L71.9 324.74 L72.37 326.75 L72.83 327.78 L73.3 328.1 L73.76 327.4 L74.22 328.51 L74.69 328.86 L75.15 329.63 L75.61 329.5 L76.08 329.15 L76.54 329.12 L77.01 329.7 L77.47 329.41 L77.93 328.41 L78.4 328.99 L78.86 329.83 L79.32 329.43 L79.79 329.05 L80.25 328.54 L80.72 328.78 L81.18 328.02 L81.64 327.28 L82.11 327.47 L82.57 326.7 L83.03 326.15 L83.5 324.74 L83.96 323.22 L84.42 322.84 L84.89 321.79 L85.35 320.33 L85.82 318.16 L86.28 317.48 L86.74 314.99 L87.21 311.79 L87.67 308.44 L88.13 303.28 L88.6 296.45 L89.06 290.35 L89.53 283.2 L89.99 279.59 L90.45 279.08 L90.92 282.29 L91.38 288.11 L91.84 295.51 L92.31 301.31 L92.77 307.82 L93.24 312.94 L93.7 315.43 L94.16 317.54 L94.63 319.78 L95.09 320.55 L95.55 322.77 L96.02 323.16 L96.48 323.49 L96.95 323.82 L97.41 325.33 L97.87 326.09 L98.34 326.36 L98.8 326.99 L99.26 325.88 L99.73 326.83 L100.19 326.86 L100.66 326.87 L101.12 327.23 L101.58 328.16 L102.05 328.06 L102.51 327.93 L102.97 326.84 L103.44 327.09 L103.9 327 L104.36 327.33 L104.83 327.06 L105.29 326.51 L105.76 327.51 L106.22 326.28 L106.68 326.03 L107.15 325.44 L107.61 324.95 L108.07 324.64 L108.54 324.31 L109 323.11 L109.47 322.23 L109.93 321.29 L110.39 321.19 L110.86 321.24 L111.32 320.25 L111.78 320.15 L112.25 318.35 L112.71 318.42 L113.18 318.63 L113.64 318.52 L114.1 317.5 L114.57 315.29 L115.03 314.85 L115.49 314.38 L115.96 314.95 L116.42 313.33 L116.89 313.45 L117.35 311.52 L117.81 310.6 L118.28 311.55 L118.74 309.86 L119.2 308.83 L119.67 308.41 L120.13 307.56 L120.59 308.37 L121.06 308.14 L121.52 307.41 L121.99 305.95 L122.45 304.96 L122.91 303.26 L123.38 303.39 L123.84 302.76 L124.3 302.95 L124.77 302.78 L125.23 301.93 L125.7 300.02 L126.16 299.28 L126.62 298.04 L127.09 297.42 L127.55 296.08 L128.01 296.19 L128.48 294.85 L128.94 294.15 L129.41 294 L129.87 292.79 L130.33 292.55 L130.8 291.67 L131.26 290.37 L131.72 291.24 L132.19 292.06 L132.65 292.91 L133.12 293.21 L133.58 293.85 L134.04 293.95 L134.51 294.22 L134.97 295.68 L135.43 296.75 L135.9 297.21 L136.36 299.33 L136.83 301.23 L137.29 301.72 L137.75 301.11 L138.22 301.26 L138.68 301.97 L139.14 303.12 L139.61 304.06 L140.07 304.49 L140.53 305.35 L141 305.57 L141.46 306.55 L141.93 305.4 L142.39 304.9 L142.85 305.33 L143.32 304.99 L143.78 304.48 L144.24 303.17 L144.71 301.8 L145.17 300.93 L145.64 299.32 L146.1 298.05 L146.56 296.92 L147.03 295.38 L147.49 293.49 L147.95 291.12 L148.42 288.31 L148.88 286.44 L149.35 284.46 L149.81 283.06 L150.27 282.09 L150.74 280.8 L151.2 278.99 L151.66 279.01 L152.13 279.76 L152.59 279.84 L153.06 281.51 L153.52 284.7 L153.98 287.48 L154.45 291.08 L154.91 293.47 L155.37 296.08 L155.84 299.02 L156.3 301.16 L156.77 303.28 L157.23 305.27 L157.69 308.04 L158.16 308.55 L158.62 309.32 L159.08 309.62 L159.55 310.9 L160.01 311.34 L160.47 313.14 L160.94 314.23 L161.4 315.76 L161.87 315.54 L162.33 316.21 L162.79 317.16 L163.26 317.23 L163.72 318.35 L164.18 318.47 L164.65 318.83 L165.11 319.72 L165.58 320.02 L166.04 320.06 L166.5 320.88 L166.97 320.81 L167.43 321.64 L167.89 321.71 L168.36 321.65 L168.82 322.04 L169.29 323.12 L169.75 323.55 L170.21 324.51 L170.68 324.96 L171.14 324.7 L171.6 325.24 L172.07 324.28 L172.53 326.74 L173 326.73 L173.46 327.11 L173.92 327.58 L174.39 326.79 L174.85 327.49 L175.31 328.04 L175.78 327.27 L176.24 328.34 L176.71 329.22 L177.17 328.93 L177.63 329.62 L178.1 328.78 L178.56 329.24 L179.02 329.02 L179.49 328.99 L179.95 329.3 L180.41 329.68 L180.88 330.74 L181.34 329.83 L181.81 330.13 L182.27 330.33 L182.73 329.58 L183.2 328.66 L183.66 328 L184.12 327.78 L184.59 328.31 L185.05 328.25 L185.52 329.29 L185.98 328.68 L186.44 329.49 L186.91 329.07 L187.37 328.4 L187.83 327.94 L188.3 329.04 L188.76 329.81 L189.23 329.2 L189.69 328.61 L190.15 327.94 L190.62 327.62 L191.08 326.77 L191.54 328.34 L192.01 327.5 L192.47 328.21 L192.94 327.54 L193.4 326.57 L193.86 327.21 L194.33 328.02 L194.79 327.66 L195.25 327 L195.72 325.88 L196.18 325.9 L196.65 326.31 L197.11 326.45 L197.57 325.26 L198.04 325.7 L198.5 326.05" fill="none" stroke="#5385f2" stroke-width="1.5" stroke-linejoin="round"/>
<path d="M22.75 350 L23.21 349.59 L23.68 349.01 L24.14 349.11 L24.6 347.81 L25.07 348.78 L25.53 349.04 L26 349.33 L26.46 349.98 L26.92 350.7 L27.39 350.82 L27.85 350.45 L28.31 350.85 L28.78 350.75 L29.24 350.04 L29.71 349.84 L30.17 348.94 L30.63 349.8 L31.1 351 L31.56 350.65 L32.02 351.28 L32.49 350.91 L32.95 350.09 L33.42 350.28 L33.88 351.14 L34.34 351.27 L34.81 351.16 L35.27 350.29 L35.73 350.18 L36.2 350.08 L36.66 350.81 L37.13 350.5 L37.59 350.79 L38.05 350.71 L38.52 349.8 L38.98 350.47 L39.44 350.06 L39.91 351 L40.37 350.7 L40.84 351.6 L41.3 351.29 L41.76 351.29 L42.23 350.82 L42.69 350.86 L43.15 351.13 L43.62 349.67 L44.08 349.3 L44.54 349.11 L45.01 349.49 L45.47 349.29 L45.94 349.06 L46.4 348.64 L46.86 348.87 L47.33 347.37 L47.79 347.27 L48.25 346.55 L48.72 345.65 L49.18 345.03 L49.65 342.97 L50.11 342.53 L50.57 341.07 L51.04 340.09 L51.5 339.11 L51.96 339.12 L52.43 339.67 L52.89 340.21 L53.36 338.36 L53.82 336.89 L54.28 335.4 L54.75 333.28 L55.21 330.72 L55.67 327.95 L56.14 325.84 L56.6 323.61 L57.07 321.51 L57.53 321.25 L57.99 321.56 L58.46 320.51 L58.92 320.47 L59.38 320.2 L59.85 321.08 L60.31 322 L60.78 322.92 L61.24 324.87 L61.7 327.46 L62.17 328.62 L62.63 330.6 L63.09 331.93 L63.56 333.77 L64.02 334.65 L64.48 335.17 L64.95 336.39 L65.41 338.95 L65.88 338.99 L66.34 339.52 L66.8 339.15 L67.27 340.84 L67.73 341.69 L68.19 341.94 L68.66 341.21 L69.12 342.06 L69.59 342.28 L70.05 342.67 L70.51 343.44 L70.98 344.49 L71.44 345.27 L71.9 346.15 L72.37 347.38 L72.83 347.33 L73.3 346.88 L73.76 347.44 L74.22 348.42 L74.69 349.78 L75.15 350.26 L75.61 350.31 L76.08 350.11 L76.54 350.73 L77.01 350.47 L77.47 349.92 L77.93 350.32 L78.4 349.68 L78.86 349.52 L79.32 350.22 L79.79 349.92 L80.25 350.26 L80.72 349.28 L81.18 349.92 L81.64 348.83 L82.11 348.89 L82.57 349.79 L83.03 349.59 L83.5 348.57 L83.96 348.26 L84.42 346.99 L84.89 346.84 L85.35 345.12 L85.82 343.85 L86.28 342.09 L86.74 339.39 L87.21 337.27 L87.67 334.5 L88.13 328.82 L88.6 323.18 L89.06 317.82 L89.53 313.5 L89.99 310.38 L90.45 310.61 L90.92 312.89 L91.38 317.25 L91.84 321.79 L92.31 328.37 L92.77 332.72 L93.24 334.96 L93.7 338 L94.16 340.78 L94.63 342.45 L95.09 343.9 L95.55 345.4 L96.02 345.43 L96.48 345.71 L96.95 345.94 L97.41 346.26 L97.87 346.78 L98.34 347.71 L98.8 348.4 L99.26 348.74 L99.73 349.71 L100.19 349.14 L100.66 349.85 L101.12 350.54 L101.58 349.74 L102.05 349.81 L102.51 349.28 L102.97 349.28 L103.44 349.45 L103.9 349.69 L104.36 349.85 L104.83 349.85 L105.29 349.73 L105.76 349.51 L106.22 349.53 L106.68 349.56 L107.15 349.51 L107.61 348.9 L108.07 348.05 L108.54 348.73 L109 348.67 L109.47 348.2 L109.93 347.3 L110.39 346.84 L110.86 345.41 L111.32 345.08 L111.78 345.06 L112.25 344.44 L112.71 344.29 L113.18 343.64 L113.64 344.05 L114.1 343.72 L114.57 342.86 L115.03 341.78 L115.49 341.28 L115.96 340.79 L116.42 340.36 L116.89 338.83 L117.35 337.42 L117.81 336.91 L118.28 336.11 L118.74 335.58 L119.2 335.75 L119.67 334.6 L120.13 334.27 L120.59 333.6 L121.06 333.01 L121.52 332.64 L121.99 332.75 L122.45 331.51 L122.91 330.61 L123.38 330.63 L123.84 330.03 L124.3 329.01 L124.77 328.78 L125.23 327.45 L125.7 326.63 L126.16 325.85 L126.62 325.54 L127.09 323.41 L127.55 323.69 L128.01 324.33 L128.48 324.2 L128.94 322.06 L129.41 321.62 L129.87 320.58 L130.33 320.47 L130.8 319.23 L131.26 319.25 L131.72 319.93 L132.19 319.08 L132.65 319.06 L133.12 319.46 L133.58 320.22 L134.04 321.42 L134.51 321.89 L134.97 322.71 L135.43 324.1 L135.9 325.22 L136.36 325.36 L136.83 326.72 L137.29 327.88 L137.75 328.81 L138.22 330.14 L138.68 330.39 L139.14 330.87 L139.61 331.06 L140.07 331.34 L140.53 331.77 L141 332 L141.46 331.78 L141.93 331.17 L142.39 330.67 L142.85 330.72 L143.32 331.15 L143.78 330.33 L144.24 329.68 L144.71 328.72 L145.17 327.85 L145.64 325.82 L146.1 325.63 L146.56 325.1 L147.03 323.81 L147.49 323.9 L147.95 322.68 L148.42 321.29 L148.88 320.85 L149.35 319.28 L149.81 320.22 L150.27 318.75 L150.74 318.51 L151.2 317.83 L151.66 317.17 L152.13 317.4 L152.59 318.3 L153.06 320.24 L153.52 322.41 L153.98 324.6 L154.45 325.45 L154.91 328.22 L155.37 329.37 L155.84 331.22 L156.3 332.45 L156.77 333.15 L157.23 334.63 L157.69 335.23 L158.16 337.22 L158.62 338.37 L159.08 339.26 L159.55 339.75 L160.01 339.45 L160.47 340.68 L160.94 341.84 L161.4 341.41 L161.87 341.98 L162.33 343.26 L162.79 343.69 L163.26 342.69 L163.72 343.76 L164.18 343.73 L164.65 343.96 L165.11 343.96 L165.58 344.66 L166.04 345.89 L166.5 347.31 L166.97 346.77 L167.43 347.76 L167.89 348.21 L168.36 348.6 L168.82 348.01 L169.29 347.92 L169.75 347.57 L170.21 348.45 L170.68 348.81 L171.14 348.32 L171.6 348.27 L172.07 347.29 L172.53 347.87 L173 348 L173.46 348.66 L173.92 349.8 L174.39 351.07 L174.85 350.77 L175.31 350.32 L175.78 350.33 L176.24 350.78 L176.71 350.62 L177.17 351.28 L177.63 350.96 L178.1 350.67 L178.56 351.01 L179.02 350.86 L179.49 350.68 L179.95 350.28 L180.41 350.2 L180.88 350.51 L181.34 350.73 L181.81 350.93 L182.27 351.77 L182.73 351.36 L183.2 350.47 L183.66 351.39 L184.12 350.11 L184.59 350.08 L185.05 350.57 L185.52 351.3 L185.98 351.58 L186.44 351.03 L186.91 350.31 L187.37 349.9 L187.83 349.9 L188.3 349.87 L188.76 348.65 L189.23 350.06 L189.69 349.58 L190.15 348.96 L190.62 348.92 L191.08 348.12 L191.54 348.59 L192.01 348.25 L192.47 348.02 L192.94 348.94 L193.4 348.52 L193.86 347.8 L194.33 348.2 L194.79 348.39 L195.25 348.26 L195.72 348.57 L196.18 349.26 L196.65 349.63 L197.11 349.38 L197.57 349.08 L198.04 349.53 L198.5 348.7" fill="none" stroke="#2244cc" stroke-width="1.5" stroke-linejoin="round"/>
<path d="M22.75 373.66 L23.21 374.07 L23.68 375.32 L24.14 376.26 L24.6 376.64 L25.07 375.13 L25.53 375.01 L26 376.08 L26.46 375.63 L26.92 375.28 L27.39 374.6 L27.85 373.37 L28.31 373.79 L28.78 374.81 L29.24 375.21 L29.71 374.34 L30.17 373.3 L30.63 373.76 L31.1 374.2 L31.56 374.3 L32.02 375.47 L32.49 375.68 L32.95 376.47 L33.42 375.66 L33.88 375.18 L34.34 375.18 L34.81 374.93 L35.27 374.36 L35.73 374.48 L36.2 374.99 L36.66 374.74 L37.13 374.67 L37.59 374.91 L38.05 374.9 L38.52 375.18 L38.98 375.07 L39.44 374 L39.91 373.29 L40.37 374.17 L40.84 373.3 L41.3 373.53 L41.76 373.68 L42.23 373.69 L42.69 373.06 L43.15 374.06 L43.62 374.5 L44.08 374.4 L44.54 373.58 L45.01 372.86 L45.47 373.25 L45.94 373.1 L46.4 372.16 L46.86 371.41 L47.33 371.26 L47.79 370.65 L48.25 371.11 L48.72 371.18 L49.18 370.25 L49.65 370.61 L50.11 369.95 L50.57 368.66 L51.04 367.79 L51.5 366.52 L51.96 366.03 L52.43 365.24 L52.89 364.55 L53.36 364.6 L53.82 363.78 L54.28 361.93 L54.75 361.49 L55.21 359.68 L55.67 358.04 L56.14 356.45 L56.6 354.65 L57.07 352.82 L57.53 351.18 L57.99 349.71 L58.46 349.9 L58.92 350.69 L59.38 350.62 L59.85 349.31 L60.31 348.79 L60.78 351.32 L61.24 352.73 L61.7 355.02 L62.17 357.81 L62.63 359.74 L63.09 361.45 L63.56 362.62 L64.02 363.99 L64.48 365.36 L64.95 365.78 L65.41 366.3 L65.88 367.18 L66.34 367.98 L66.8 368.22 L67.27 368.5 L67.73 368.15 L68.19 367.94 L68.66 369.57 L69.12 370.55 L69.59 370.89 L70.05 371.17 L70.51 371.34 L70.98 371.61 L71.44 372.07 L71.9 373.04 L72.37 374.29 L72.83 374.3 L73.3 374.23 L73.76 374.78 L74.22 374.03 L74.69 374.17 L75.15 374.11 L75.61 374.69 L76.08 375.25 L76.54 376.09 L77.01 376.47 L77.47 376.69 L77.93 375.47 L78.4 374.99 L78.86 375.45 L79.32 376.39 L79.79 376.26 L80.25 375.91 L80.72 375.56 L81.18 375.43 L81.64 375.33 L82.11 375.77 L82.57 374.81 L83.03 374.2 L83.5 373.88 L83.96 373.13 L84.42 371.93 L84.89 371.93 L85.35 369.48 L85.82 369.56 L86.28 368.48 L86.74 367.34 L87.21 364.59 L87.67 360.53 L88.13 356.07 L88.6 351.5 L89.06 345.55 L89.53 341.91 L89.99 338.77 L90.45 336.86 L90.92 340.58 L91.38 345.7 L91.84 352.55 L92.31 357.39 L92.77 362.58 L93.24 365.49 L93.7 366.87 L94.16 368.97 L94.63 370.86 L95.09 371.66 L95.55 372.32 L96.02 373.08 L96.48 373.72 L96.95 372.8 L97.41 372.99 L97.87 373.13 L98.34 374.58 L98.8 374.03 L99.26 374.11 L99.73 374.84 L100.19 375.15 L100.66 374.44 L101.12 374.28 L101.58 374.47 L102.05 374.73 L102.51 375.27 L102.97 375.55 L103.44 374.82 L103.9 374.33 L104.36 374.41 L104.83 375.74 L105.29 375.31 L105.76 374.92 L106.22 374.19 L106.68 373.56 L107.15 373.22 L107.61 373.03 L108.07 372.86 L108.54 373.31 L109 373.25 L109.47 373.61 L109.93 373.28 L110.39 372.27 L110.86 371.18 L111.32 371.47 L111.78 370.69 L112.25 370.46 L112.71 370.42 L113.18 369.68 L113.64 369.43 L114.1 369.36 L114.57 369.34 L115.03 368.77 L115.49 368.35 L115.96 367.09 L116.42 366.69 L116.89 366.79 L117.35 365.07 L117.81 364.09 L118.28 364.05 L118.74 363.66 L119.2 362.81 L119.67 362.65 L120.13 361.99 L120.59 361.98 L121.06 362.35 L121.52 361.52 L121.99 361.32 L122.45 360.18 L122.91 358.52 L123.38 358.36 L123.84 358.48 L124.3 358.1 L124.77 356.91 L125.23 356.6 L125.7 357.14 L126.16 357.11 L126.62 355.55 L127.09 354.42 L127.55 353.59 L128.01 353.37 L128.48 351.56 L128.94 350.73 L129.41 350.63 L129.87 350.17 L130.33 350.23 L130.8 350.52 L131.26 349.52 L131.72 349.21 L132.19 349.91 L132.65 350 L133.12 350.81 L133.58 351.12 L134.04 351.86 L134.51 352.14 L134.97 353.22 L135.43 353.56 L135.9 353.67 L136.36 353.23 L136.83 354.41 L137.29 355.54 L137.75 356.45 L138.22 357.04 L138.68 358.54 L139.14 359.03 L139.61 359.25 L140.07 359.27 L140.53 359.75 L141 359.97 L141.46 359.62 L141.93 360.99 L142.39 360.42 L142.85 360.64 L143.32 360.72 L143.78 359.59 L144.24 359.41 L144.71 359.98 L145.17 359.72 L145.64 359.11 L146.1 358.08 L146.56 356.53 L147.03 356.2 L147.49 355.83 L147.95 355.59 L148.42 354.63 L148.88 355.56 L149.35 354.12 L149.81 353.46 L150.27 353.62 L150.74 353.6 L151.2 354.64 L151.66 354.27 L152.13 353.92 L152.59 354.66 L153.06 355.15 L153.52 356.23 L153.98 356.82 L154.45 359.53 L154.91 361 L155.37 362.47 L155.84 361.85 L156.3 362.1 L156.77 362.84 L157.23 363.99 L157.69 364.74 L158.16 366.74 L158.62 367.31 L159.08 366.85 L159.55 367.16 L160.01 367.46 L160.47 367.51 L160.94 368.11 L161.4 368.59 L161.87 369.79 L162.33 370.89 L162.79 370.66 L163.26 371.74 L163.72 370.51 L164.18 371.37 L164.65 371.79 L165.11 371.68 L165.58 372.68 L166.04 371.92 L166.5 372.34 L166.97 372.22 L167.43 372.92 L167.89 372.78 L168.36 372.99 L168.82 372.86 L169.29 372.89 L169.75 373.21 L170.21 373.72 L170.68 374.33 L171.14 374.02 L171.6 373.12 L172.07 374.12 L172.53 373.84 L173 373.97 L173.46 374.31 L173.92 374.69 L174.39 374.22 L174.85 373.67 L175.31 374.76 L175.78 375.5 L176.24 375.25 L176.71 375.33 L177.17 375.46 L177.63 375.69 L178.1 376.29 L178.56 375.98 L179.02 376.1 L179.49 375.88 L179.95 376.53 L180.41 376.17 L180.88 377.2 L181.34 377.76 L181.81 376.7 L182.27 377.23 L182.73 377.18 L183.2 377.17 L183.66 377.21 L184.12 377.14 L184.59 376.48 L185.05 376.14 L185.52 375.08 L185.98 375.05 L186.44 375.07 L186.91 375.63 L187.37 375.96 L187.83 374.49 L188.3 374.81 L188.76 375.41 L189.23 376.02 L189.69 374.94 L190.15 375.07 L190.62 374.28 L191.08 375.22 L191.54 374.34 L192.01 374.26 L192.47 373.63 L192.94 373.49 L193.4 373.6 L193.86 372.82 L194.33 373.01 L194.79 374.51 L195.25 373.66 L195.72 373.87 L196.18 374.09 L196.65 372.63 L197.11 372.43 L197.57 371.28 L198.04 371.71 L198.5 371.93" fill="none" stroke="#1a2a92" stroke-width="1.5" stroke-linejoin="round"/>
<path d="M22.75 397.56 L23.21 397.7 L23.68 397.85 L24.14 398.13 L24.6 398.22 L25.07 397.88 L25.53 398.75 L26 398.2 L26.46 397.8 L26.92 397.39 L27.39 398.04 L27.85 398.92 L28.31 398.83 L28.78 399.05 L29.24 398.75 L29.71 397.96 L30.17 397.22 L30.63 398.21 L31.1 398.2 L31.56 398.61 L32.02 398.5 L32.49 399.22 L32.95 400.67 L33.42 400.27 L33.88 398.93 L34.34 397.55 L34.81 397.44 L35.27 397.6 L35.73 398.28 L36.2 398.3 L36.66 398.02 L37.13 398.06 L37.59 397.1 L38.05 397.44 L38.52 398.82 L38.98 399.23 L39.44 398.77 L39.91 398.91 L40.37 397.67 L40.84 397.26 L41.3 397.11 L41.76 397.04 L42.23 397.54 L42.69 397.35 L43.15 397.68 L43.62 396.98 L44.08 397.64 L44.54 398.31 L45.01 397.47 L45.47 396.74 L45.94 396.43 L46.4 396.5 L46.86 395.38 L47.33 395.49 L47.79 394.88 L48.25 394.33 L48.72 393.77 L49.18 393.86 L49.65 393.33 L50.11 393 L50.57 392.57 L51.04 392.19 L51.5 391.47 L51.96 389.92 L52.43 389.48 L52.89 389.6 L53.36 388.22 L53.82 387.65 L54.28 386.49 L54.75 384 L55.21 383.05 L55.67 380.9 L56.14 378.84 L56.6 377.92 L57.07 376.64 L57.53 375.97 L57.99 375.02 L58.46 374.96 L58.92 375.02 L59.38 376.4 L59.85 376.89 L60.31 376.23 L60.78 376.72 L61.24 377.9 L61.7 378.44 L62.17 380.83 L62.63 382.47 L63.09 384.58 L63.56 386.83 L64.02 387.67 L64.48 389.18 L64.95 390.38 L65.41 391.35 L65.88 391.65 L66.34 392.75 L66.8 393.57 L67.27 393.75 L67.73 395.03 L68.19 395.33 L68.66 396.1 L69.12 395.45 L69.59 395.14 L70.05 395.63 L70.51 396.18 L70.98 396.47 L71.44 395.93 L71.9 396.48 L72.37 397 L72.83 398.08 L73.3 397.64 L73.76 396.96 L74.22 396.51 L74.69 396.22 L75.15 397.26 L75.61 398.04 L76.08 398.34 L76.54 398.65 L77.01 399.07 L77.47 398.37 L77.93 398.17 L78.4 397.28 L78.86 397.07 L79.32 396.81 L79.79 396.02 L80.25 396.5 L80.72 397.51 L81.18 396.76 L81.64 397.54 L82.11 396.94 L82.57 396.43 L83.03 395.51 L83.5 394.61 L83.96 394.48 L84.42 393.24 L84.89 393.25 L85.35 392.13 L85.82 390.12 L86.28 387.91 L86.74 386.57 L87.21 385.3 L87.67 383.02 L88.13 378.22 L88.6 372.78 L89.06 367.6 L89.53 363.84 L89.99 360.42 L90.45 360.42 L90.92 362.04 L91.38 366.11 L91.84 372.01 L92.31 377.75 L92.77 382.05 L93.24 385.78 L93.7 387.85 L94.16 389.5 L94.63 390.75 L95.09 392.01 L95.55 393.22 L96.02 392.87 L96.48 392.63 L96.95 394.76 L97.41 396.3 L97.87 396.73 L98.34 397.37 L98.8 397.42 L99.26 396.68 L99.73 397.32 L100.19 397.32 L100.66 397.85 L101.12 397.54 L101.58 398.04 L102.05 397.75 L102.51 397.65 L102.97 397.64 L103.44 398.88 L103.9 398.65 L104.36 398.6 L104.83 398.15 L105.29 398.82 L105.76 397.55 L106.22 397.71 L106.68 396.85 L107.15 396.69 L107.61 396.95 L108.07 396.32 L108.54 396.08 L109 395.87 L109.47 396.39 L109.93 396.66 L110.39 396.65 L110.86 395.94 L111.32 395.43 L111.78 394.08 L112.25 394.2 L112.71 393.59 L113.18 394.72 L113.64 393.59 L114.1 392.84 L114.57 390.59 L115.03 391.17 L115.49 391.25 L115.96 390.57 L116.42 390.46 L116.89 389.45 L117.35 389.16 L117.81 388.14 L118.28 387.44 L118.74 387.26 L119.2 387.05 L119.67 386.91 L120.13 385.94 L120.59 386.52 L121.06 385.49 L121.52 386.42 L121.99 385.14 L122.45 384.38 L122.91 383.95 L123.38 383.21 L123.84 381.59 L124.3 381.75 L124.77 380.97 L125.23 381.15 L125.7 380.24 L126.16 379.24 L126.62 379.56 L127.09 378.43 L127.55 378.78 L128.01 377.81 L128.48 377.06 L128.94 377.22 L129.41 376.44 L129.87 376.92 L130.33 376.38 L130.8 376.05 L131.26 376.23 L131.72 375.72 L132.19 375.95 L132.65 376.19 L133.12 376.09 L133.58 377.54 L134.04 378.24 L134.51 378.96 L134.97 379.67 L135.43 380.28 L135.9 379.81 L136.36 381.02 L136.83 380.96 L137.29 381.99 L137.75 382.71 L138.22 383.54 L138.68 384.53 L139.14 385.18 L139.61 386.66 L140.07 386.92 L140.53 387.29 L141 387.14 L141.46 387.2 L141.93 388.16 L142.39 388.38 L142.85 387.82 L143.32 389.2 L143.78 389.28 L144.24 389.54 L144.71 388.81 L145.17 388.71 L145.64 388.77 L146.1 389.35 L146.56 389.98 L147.03 389.16 L147.49 388.76 L147.95 388.84 L148.42 388.36 L148.88 388.74 L149.35 388.36 L149.81 388.34 L150.27 388.92 L150.74 388.01 L151.2 388.54 L151.66 388.47 L152.13 387.98 L152.59 388.57 L153.06 389.78 L153.52 390.23 L153.98 391.44 L154.45 391.64 L154.91 392.19 L155.37 391.92 L155.84 392.49 L156.3 392.79 L156.77 393.25 L157.23 393.91 L157.69 393.92 L158.16 394.17 L158.62 393.86 L159.08 395.48 L159.55 396.41 L160.01 394.37 L160.47 394.88 L160.94 394.11 L161.4 394.08 L161.87 394.93 L162.33 395.22 L162.79 395.83 L163.26 396.58 L163.72 396.21 L164.18 396.79 L164.65 396.37 L165.11 395.78 L165.58 395.49 L166.04 396.25 L166.5 396.68 L166.97 396.71 L167.43 397.46 L167.89 398.2 L168.36 398.3 L168.82 397.63 L169.29 396.51 L169.75 396.03 L170.21 397.3 L170.68 398.59 L171.14 397.44 L171.6 397.4 L172.07 397.65 L172.53 398.01 L173 398.96 L173.46 398.35 L173.92 397.43 L174.39 397.32 L174.85 397.73 L175.31 397.75 L175.78 398.15 L176.24 398.67 L176.71 398.65 L177.17 397.37 L177.63 397.94 L178.1 398.35 L178.56 398.73 L179.02 398.8 L179.49 398.66 L179.95 397.74 L180.41 397.71 L180.88 397.64 L181.34 398.77 L181.81 398.51 L182.27 397.4 L182.73 397.27 L183.2 398.32 L183.66 398.88 L184.12 398.75 L184.59 398.57 L185.05 398.15 L185.52 399.52 L185.98 398.3 L186.44 397.4 L186.91 396.48 L187.37 397.43 L187.83 396.74 L188.3 396.36 L188.76 397.38 L189.23 397.37 L189.69 397.76 L190.15 397.91 L190.62 398.14 L191.08 398.58 L191.54 398.41 L192.01 398.42 L192.47 396.96 L192.94 396.81 L193.4 396.72 L193.86 396.37 L194.33 396.2 L194.79 396.2 L195.25 396.5 L195.72 394.95 L196.18 395.49 L196.65 395.38 L197.11 395.77 L197.57 396.12 L198.04 396.14 L198.5 396.4" fill="none" stroke="#0f1c66" stroke-width="1.5" stroke-linejoin="round"/>
<text x="0" y="0" transform="translate(23.9 237) scale(1 1.07)" font-size="8.2" fill="#000" stroke="#000" text-anchor="start" font-weight="bold">Pd/ZnO</text>
<text x="0" y="0" transform="translate(59.2 252.6) scale(1 1.13)" font-size="7.35" fill="#000" stroke="#000" text-anchor="middle" font-weight="bold">325</text>
<text x="0" y="0" transform="translate(90.3 244) scale(1 1.13)" font-size="7.35" fill="#000" stroke="#000" text-anchor="middle" font-weight="bold">431</text>
<text x="0" y="0" transform="translate(132.3 243.4) scale(1 1.13)" font-size="7.35" fill="#000" stroke="#000" text-anchor="middle" font-weight="bold">573</text>
<text x="0" y="0" transform="translate(151.1 234.8) scale(1 1.13)" font-size="7.35" fill="#2d55d6" stroke="#2d55d6" text-anchor="middle" font-weight="bold">639</text>
<text x="191.2" y="245.3" font-size="6.3" fill="#000" stroke="#000" text-anchor="end" font-weight="bold">2000</text>
<line x1="194.1" y1="234.3" x2="194.1" y2="251.7" stroke="#555" stroke-width="1.1" stroke-linecap="butt"/>
<line x1="169.4" y1="372.4" x2="169.4" y2="294.2" stroke="#000" stroke-width="1.1" stroke-linecap="butt"/>
<path d="M169.4 288.2 L171 294.2 L167.8 294.2 Z" fill="#000"/>
<text x="0" y="0" transform="translate(172.5 366) scale(1 1.07)" font-size="8.2" fill="#000" stroke="#000" text-anchor="start" font-weight="bold">+ H<tspan font-size="4.92" baseline-shift="-2.13">2</tspan>O</text>
<text x="0" y="0" transform="translate(200.9 304.9) scale(1 1.06)" font-size="7.4" fill="#aac6fa" stroke="#aac6fa" text-anchor="start" font-weight="bold">300°C</text>
<text x="0" y="0" transform="translate(200.9 328.3) scale(1 1.06)" font-size="7.4" fill="#5385f2" stroke="#5385f2" text-anchor="start" font-weight="bold">200°C</text>
<text x="0" y="0" transform="translate(200.9 351.8) scale(1 1.06)" font-size="7.4" fill="#2244cc" stroke="#2244cc" text-anchor="start" font-weight="bold">100°C</text>
<text x="0" y="0" transform="translate(200.9 375.1) scale(1 1.06)" font-size="7.4" fill="#1a2a92" stroke="#1a2a92" text-anchor="start" font-weight="bold">25°C</text>
<text x="0" y="0" transform="translate(200.9 397.2) scale(1 1.06)" font-size="7.4" fill="#0f1c66" stroke="#0f1c66" text-anchor="start" font-weight="bold">25°C</text>
<rect x="22.45" y="226.9" width="176.35" height="176" fill="none" stroke="#000" stroke-width="1.45"/>
<line x1="22.45" y1="402.9" x2="22.45" y2="406.4" stroke="#000" stroke-width="1.2" stroke-linecap="butt"/>
<line x1="51.84" y1="402.9" x2="51.84" y2="406.4" stroke="#000" stroke-width="1.2" stroke-linecap="butt"/>
<line x1="81.23" y1="402.9" x2="81.23" y2="406.4" stroke="#000" stroke-width="1.2" stroke-linecap="butt"/>
<line x1="110.63" y1="402.9" x2="110.63" y2="406.4" stroke="#000" stroke-width="1.2" stroke-linecap="butt"/>
<line x1="140.02" y1="402.9" x2="140.02" y2="406.4" stroke="#000" stroke-width="1.2" stroke-linecap="butt"/>
<line x1="169.41" y1="402.9" x2="169.41" y2="406.4" stroke="#000" stroke-width="1.2" stroke-linecap="butt"/>
<line x1="198.8" y1="402.9" x2="198.8" y2="406.4" stroke="#000" stroke-width="1.2" stroke-linecap="butt"/>
<line x1="37.15" y1="402.9" x2="37.15" y2="405.1" stroke="#000" stroke-width="1.2" stroke-linecap="butt"/>
<line x1="66.54" y1="402.9" x2="66.54" y2="405.1" stroke="#000" stroke-width="1.2" stroke-linecap="butt"/>
<line x1="95.93" y1="402.9" x2="95.93" y2="405.1" stroke="#000" stroke-width="1.2" stroke-linecap="butt"/>
<line x1="125.32" y1="402.9" x2="125.32" y2="405.1" stroke="#000" stroke-width="1.2" stroke-linecap="butt"/>
<line x1="154.71" y1="402.9" x2="154.71" y2="405.1" stroke="#000" stroke-width="1.2" stroke-linecap="butt"/>
<line x1="184.1" y1="402.9" x2="184.1" y2="405.1" stroke="#000" stroke-width="1.2" stroke-linecap="butt"/>
<text x="0" y="0" transform="translate(22.45 414.8) scale(0.92 1.02)" font-size="8" fill="#000" stroke="#000" text-anchor="middle" font-weight="bold" letter-spacing="0.3">200</text>
<text x="0" y="0" transform="translate(51.84 414.8) scale(0.92 1.02)" font-size="8" fill="#000" stroke="#000" text-anchor="middle" font-weight="bold" letter-spacing="0.3">300</text>
<text x="0" y="0" transform="translate(81.23 414.8) scale(0.92 1.02)" font-size="8" fill="#000" stroke="#000" text-anchor="middle" font-weight="bold" letter-spacing="0.3">400</text>
<text x="0" y="0" transform="translate(110.63 414.8) scale(0.92 1.02)" font-size="8" fill="#000" stroke="#000" text-anchor="middle" font-weight="bold" letter-spacing="0.3">500</text>
<text x="0" y="0" transform="translate(140.02 414.8) scale(0.92 1.02)" font-size="8" fill="#000" stroke="#000" text-anchor="middle" font-weight="bold" letter-spacing="0.3">600</text>
<text x="0" y="0" transform="translate(169.41 414.8) scale(0.92 1.02)" font-size="8" fill="#000" stroke="#000" text-anchor="middle" font-weight="bold" letter-spacing="0.3">700</text>
<text x="0" y="0" transform="translate(198.8 414.8) scale(0.92 1.02)" font-size="8" fill="#000" stroke="#000" text-anchor="middle" font-weight="bold" letter-spacing="0.3">800</text>
<text x="0" y="0" transform="translate(110.6 432.9) scale(1 0.94)" font-size="10" fill="#000" stroke="none" text-anchor="middle" font-weight="bold">Raman shift (cm<tspan font-size="6.8" baseline-shift="4">-1</tspan>)</text>
<text x="0" y="0" font-size="10" font-weight="bold" text-anchor="middle" dominant-baseline="central" transform="translate(11.4 314.5) rotate(-90)">Intensity (a.u.)</text>
<line x1="292.95" y1="247.1" x2="292.95" y2="402.9" stroke="#222" stroke-width="1.25" stroke-dasharray="4 5" stroke-linecap="butt"/>
<line x1="324.39" y1="265.5" x2="324.39" y2="402.9" stroke="#222" stroke-width="1.25" stroke-dasharray="4 5" stroke-linecap="butt"/>
<line x1="365.23" y1="266.4" x2="365.23" y2="402.9" stroke="#222" stroke-width="1.25" stroke-dasharray="4 5" stroke-linecap="butt"/>
<line x1="386.09" y1="248" x2="386.09" y2="402.9" stroke="#f06a7a" stroke-width="1.25" stroke-dasharray="4 5" stroke-linecap="butt"/>
<path d="M257.4 306.2 L257.86 306.43 L258.33 307.66 L258.79 308.27 L259.25 308.69 L259.72 308.41 L260.18 308.88 L260.65 308.6 L261.11 308.97 L261.57 308.54 L262.04 307.06 L262.5 306.25 L262.96 306.09 L263.43 305.04 L263.89 304.79 L264.35 305.77 L264.82 306.01 L265.28 305.91 L265.74 305.07 L266.21 305.01 L266.67 304.21 L267.14 303.82 L267.6 304.71 L268.06 303.87 L268.53 303.31 L268.99 303.39 L269.45 302.36 L269.92 302.85 L270.38 301.92 L270.84 301.96 L271.31 302.48 L271.77 302.15 L272.23 301.51 L272.7 301.62 L273.16 301.64 L273.63 300.9 L274.09 300.83 L274.55 299.76 L275.02 298.83 L275.48 298.59 L275.94 297.78 L276.41 296.05 L276.87 294.96 L277.33 294.78 L277.8 294.71 L278.26 293.65 L278.73 292.19 L279.19 290.59 L279.65 290.49 L280.12 289.46 L280.58 289.76 L281.04 288.62 L281.51 287.62 L281.97 286.54 L282.43 285.06 L282.9 283.98 L283.36 282.56 L283.82 281.06 L284.29 281.48 L284.75 281.05 L285.22 280.03 L285.68 279 L286.14 277.94 L286.61 275.73 L287.07 274.27 L287.53 272.43 L288 271.23 L288.46 268.18 L288.92 264.44 L289.39 261.63 L289.85 257.59 L290.31 254.76 L290.78 252.15 L291.24 249.13 L291.71 246.71 L292.17 245.17 L292.63 245.53 L293.1 244.98 L293.56 244.36 L294.02 245.97 L294.49 246.37 L294.95 248.61 L295.41 250.73 L295.88 251.97 L296.34 253.91 L296.81 256.67 L297.27 258.95 L297.73 261.1 L298.2 263.27 L298.66 266.31 L299.12 269.04 L299.59 272.67 L300.05 275.03 L300.51 276.83 L300.98 278.75 L301.44 280.43 L301.9 283.06 L302.37 285.57 L302.83 287.98 L303.3 289.54 L303.76 291.66 L304.22 293.72 L304.69 295.57 L305.15 297.05 L305.61 298.09 L306.08 298.9 L306.54 300.83 L307 301.77 L307.47 302.35 L307.93 301.1 L308.39 302.69 L308.86 303.03 L309.32 302.34 L309.79 304.06 L310.25 303.62 L310.71 304.55 L311.18 304.76 L311.64 305.09 L312.1 304.91 L312.57 304.69 L313.03 304.14 L313.49 304.85 L313.96 305.33 L314.42 305.04 L314.88 306.21 L315.35 305.01 L315.81 305.87 L316.28 305.14 L316.74 303.65 L317.2 301.9 L317.67 301.14 L318.13 299.83 L318.59 299.05 L319.06 298.14 L319.52 296.63 L319.98 294.32 L320.45 292.25 L320.91 289.88 L321.38 287.15 L321.84 284.46 L322.3 280.75 L322.77 276.83 L323.23 274.57 L323.69 272.65 L324.16 270.96 L324.62 271.16 L325.08 273.2 L325.55 275.82 L326.01 279.52 L326.47 282.15 L326.94 286.33 L327.4 290.21 L327.87 292.45 L328.33 294.65 L328.79 296.44 L329.26 298.52 L329.72 299.93 L330.18 301.68 L330.65 302.62 L331.11 303.05 L331.57 303.52 L332.04 304.47 L332.5 305.16 L332.96 306.09 L333.43 305.07 L333.89 304.76 L334.36 305.08 L334.82 306.17 L335.28 306.63 L335.75 307.31 L336.21 307.57 L336.67 308.06 L337.14 307.31 L337.6 307.4 L338.06 306.88 L338.53 305.37 L338.99 305.61 L339.46 305.04 L339.92 304.97 L340.38 304.1 L340.85 303.93 L341.31 302.9 L341.77 301.77 L342.24 301.67 L342.7 300.06 L343.16 300.4 L343.63 299.89 L344.09 301.07 L344.55 300.17 L345.02 300.67 L345.48 299.48 L345.95 298.58 L346.41 297.67 L346.87 297.36 L347.34 296.86 L347.8 297.28 L348.26 297.5 L348.73 296.69 L349.19 295.72 L349.65 296.52 L350.12 294.54 L350.58 295.02 L351.04 293.79 L351.51 293.62 L351.97 293.94 L352.44 293.97 L352.9 293.83 L353.36 292.31 L353.83 290.52 L354.29 290.08 L354.75 289.3 L355.22 288.18 L355.68 286.92 L356.14 285.34 L356.61 284.21 L357.07 283.69 L357.54 283.82 L358 282.47 L358.46 281.94 L358.93 281.07 L359.39 279.95 L359.85 279.35 L360.32 277.5 L360.78 277.62 L361.24 277.28 L361.71 276.44 L362.17 275.57 L362.63 275.15 L363.1 273.59 L363.56 273.8 L364.03 274.1 L364.49 272.97 L364.95 273.23 L365.42 272.82 L365.88 273.39 L366.34 274.08 L366.81 274.63 L367.27 273.96 L367.73 273.63 L368.2 275.18 L368.66 275.96 L369.12 276.49 L369.59 276.76 L370.05 278.17 L370.52 278.53 L370.98 279.32 L371.44 280.94 L371.91 281.81 L372.37 282.42 L372.83 282.6 L373.3 282.76 L373.76 282.98 L374.22 283.62 L374.69 284.6 L375.15 284.03 L375.62 284.08 L376.08 283.58 L376.54 284.09 L377.01 284.26 L377.47 284.17 L377.93 284.33 L378.4 283.93 L378.86 283.48 L379.32 282.83 L379.79 282.63 L380.25 281.56 L380.71 280.57 L381.18 279.26 L381.64 277.86 L382.11 275.85 L382.57 273.66 L383.03 270.97 L383.5 267.86 L383.96 264.44 L384.42 262.72 L384.89 260.47 L385.35 259.49 L385.81 258.42 L386.28 258.58 L386.74 260.2 L387.2 261.4 L387.67 264.04 L388.13 266.42 L388.6 269.41 L389.06 271.43 L389.52 275.27 L389.99 277.92 L390.45 279.38 L390.91 281.53 L391.38 281.94 L391.84 284.26 L392.3 286.97 L392.77 287.55 L393.23 287.89 L393.69 289.27 L394.16 290.43 L394.62 290.13 L395.09 292 L395.55 292.82 L396.01 293.95 L396.48 294.13 L396.94 294.3 L397.4 295.37 L397.87 296.35 L398.33 296.08 L398.79 297.56 L399.26 297.89 L399.72 297.49 L400.19 298.18 L400.65 298.55 L401.11 299.36 L401.58 300.04 L402.04 300.33 L402.5 300.91 L402.97 301.12 L403.43 301.52 L403.89 302.02 L404.36 302.29 L404.82 302.83 L405.28 302.62 L405.75 302 L406.21 303.58 L406.68 303.68 L407.14 303.82 L407.6 303.56 L408.07 305.02 L408.53 305.11 L408.99 305.77 L409.46 305.64 L409.92 305.88 L410.38 305.69 L410.85 306.73 L411.31 307.42 L411.77 307.37 L412.24 306.62 L412.7 306.78 L413.17 308.03 L413.63 308.43 L414.09 307.95 L414.56 307.65 L415.02 308.52 L415.48 307.46 L415.95 307.51 L416.41 308.31 L416.87 308.08 L417.34 308.13 L417.8 308.96 L418.27 309.32 L418.73 308.79 L419.19 308.26 L419.66 309.04 L420.12 308.03 L420.58 307.83 L421.05 308.19 L421.51 308.15 L421.97 308.38 L422.44 308.86 L422.9 308.3 L423.36 308.88 L423.83 307.92 L424.29 308.57 L424.76 308.63 L425.22 308.36 L425.68 307.56 L426.15 307.42 L426.61 307.39 L427.07 307.34 L427.54 307.5 L428 308.12 L428.46 308 L428.93 308.31 L429.39 306.83 L429.85 306.46 L430.32 306.98 L430.78 306.89 L431.25 306.82 L431.71 305.94 L432.17 305.07 L432.64 304.66 L433.1 305.97" fill="none" stroke="#f9aaa6" stroke-width="1.5" stroke-linejoin="round"/>
<path d="M257.4 331.95 L257.86 332.11 L258.33 331.89 L258.79 332.47 L259.25 331.41 L259.72 331.84 L260.18 332.35 L260.65 332.19 L261.11 331.91 L261.57 331.15 L262.04 331.13 L262.5 330.84 L262.96 330.21 L263.43 330.3 L263.89 329.66 L264.35 329.78 L264.82 329.84 L265.28 329.93 L265.74 328.74 L266.21 328.61 L266.67 328.72 L267.14 328.45 L267.6 328.76 L268.06 327.84 L268.53 327.39 L268.99 327.46 L269.45 327.35 L269.92 327.53 L270.38 327.04 L270.84 326.84 L271.31 326.65 L271.77 327.3 L272.23 326.63 L272.7 327.37 L273.16 327.4 L273.63 327.23 L274.09 324.97 L274.55 323.55 L275.02 323.34 L275.48 322.83 L275.94 322.7 L276.41 322 L276.87 322.73 L277.33 321.12 L277.8 321.01 L278.26 320.99 L278.73 320.31 L279.19 319.62 L279.65 317.73 L280.12 316.93 L280.58 316.84 L281.04 316.84 L281.51 315.94 L281.97 315.09 L282.43 314.56 L282.9 312.96 L283.36 313.26 L283.82 311.56 L284.29 311.09 L284.75 310.75 L285.22 309.72 L285.68 308.37 L286.14 305.45 L286.61 303.22 L287.07 301.86 L287.53 301.42 L288 299.32 L288.46 296.44 L288.92 293.91 L289.39 290.66 L289.85 287.97 L290.31 285.49 L290.78 282.37 L291.24 278.83 L291.71 276.52 L292.17 274.36 L292.63 272.71 L293.1 272.61 L293.56 273.2 L294.02 274.96 L294.49 275.94 L294.95 279.4 L295.41 280.6 L295.88 282.69 L296.34 283.9 L296.81 286.5 L297.27 288.83 L297.73 290.57 L298.2 294.09 L298.66 295.7 L299.12 298.73 L299.59 301.45 L300.05 303.95 L300.51 306.16 L300.98 308.69 L301.44 310.3 L301.9 312.65 L302.37 313.92 L302.83 317.5 L303.3 319.96 L303.76 321.23 L304.22 323.25 L304.69 324.75 L305.15 326.29 L305.61 326.59 L306.08 327.58 L306.54 328.11 L307 329.76 L307.47 329.99 L307.93 329.96 L308.39 329.59 L308.86 330.29 L309.32 330.72 L309.79 331.1 L310.25 332.36 L310.71 333.37 L311.18 333.51 L311.64 333.22 L312.1 332.75 L312.57 332.84 L313.03 332.83 L313.49 333.13 L313.96 333 L314.42 333.33 L314.88 333.52 L315.35 332.28 L315.81 331.83 L316.28 331.33 L316.74 330.12 L317.2 329.03 L317.67 327.62 L318.13 326.08 L318.59 324.48 L319.06 320.92 L319.52 319.51 L319.98 316.77 L320.45 316.26 L320.91 314.03 L321.38 311.97 L321.84 308.54 L322.3 305.25 L322.77 300.38 L323.23 296.4 L323.69 294.48 L324.16 292.65 L324.62 292.93 L325.08 293.45 L325.55 295.82 L326.01 298.24 L326.47 300.87 L326.94 303.95 L327.4 307.14 L327.87 310.14 L328.33 312.3 L328.79 313.53 L329.26 314.8 L329.72 316.54 L330.18 318.56 L330.65 320.15 L331.11 322.2 L331.57 323.41 L332.04 324.93 L332.5 327.42 L332.96 328.11 L333.43 329.07 L333.89 330.31 L334.36 330.55 L334.82 331.9 L335.28 332.11 L335.75 332.73 L336.21 332.29 L336.67 332.28 L337.14 332.8 L337.6 331.74 L338.06 331.38 L338.53 331.51 L338.99 331.03 L339.46 330.19 L339.92 329.61 L340.38 328.84 L340.85 328.02 L341.31 328.02 L341.77 327.3 L342.24 327.3 L342.7 326.15 L343.16 324.96 L343.63 324.19 L344.09 324.07 L344.55 323.72 L345.02 324.17 L345.48 323.25 L345.95 322.78 L346.41 321.91 L346.87 321 L347.34 320.91 L347.8 320.55 L348.26 320.32 L348.73 318.71 L349.19 318.34 L349.65 318.32 L350.12 317.69 L350.58 316.95 L351.04 315.5 L351.51 315.46 L351.97 314.95 L352.44 315.19 L352.9 314.27 L353.36 312.72 L353.83 312.82 L354.29 311.63 L354.75 311.41 L355.22 310.41 L355.68 308.61 L356.14 308.14 L356.61 306.57 L357.07 306.54 L357.54 304.92 L358 304.45 L358.46 304.42 L358.93 303.85 L359.39 303.34 L359.85 303.1 L360.32 302.72 L360.78 301.85 L361.24 301.47 L361.71 299.33 L362.17 299.34 L362.63 297.87 L363.1 297.8 L363.56 297.66 L364.03 297.1 L364.49 297.77 L364.95 297.72 L365.42 297.52 L365.88 298.3 L366.34 299.02 L366.81 299.47 L367.27 300.03 L367.73 300.2 L368.2 300.09 L368.66 301.25 L369.12 300.27 L369.59 301.98 L370.05 303.6 L370.52 304.37 L370.98 304.92 L371.44 305.4 L371.91 305.54 L372.37 305.97 L372.83 306.79 L373.3 306.41 L373.76 307.32 L374.22 308.19 L374.69 307.95 L375.15 307.61 L375.62 307.34 L376.08 307.16 L376.54 308.47 L377.01 309.36 L377.47 309.41 L377.93 308.65 L378.4 308.59 L378.86 308.51 L379.32 307.87 L379.79 307.57 L380.25 305.62 L380.71 305.91 L381.18 304.42 L381.64 302.58 L382.11 300.55 L382.57 299.47 L383.03 297.43 L383.5 295.13 L383.96 292.94 L384.42 290.36 L384.89 289.01 L385.35 287.23 L385.81 286.84 L386.28 287.03 L386.74 287.62 L387.2 288.43 L387.67 290.79 L388.13 292.74 L388.6 295.24 L389.06 296.5 L389.52 299.54 L389.99 302.02 L390.45 304.26 L390.91 305.56 L391.38 307.88 L391.84 308.37 L392.3 308.98 L392.77 309.34 L393.23 310.59 L393.69 313 L394.16 314.01 L394.62 313.48 L395.09 314.46 L395.55 315.09 L396.01 315.85 L396.48 317.22 L396.94 317.62 L397.4 318.11 L397.87 319.46 L398.33 319.21 L398.79 319.31 L399.26 320.05 L399.72 320.76 L400.19 320.56 L400.65 320.73 L401.11 322.11 L401.58 322.59 L402.04 322.45 L402.5 323.58 L402.97 324.06 L403.43 324.56 L403.89 324.35 L404.36 325.03 L404.82 324.43 L405.28 325.17 L405.75 325.7 L406.21 326.43 L406.68 326.37 L407.14 327.23 L407.6 327.3 L408.07 327.25 L408.53 327.35 L408.99 327.2 L409.46 328.21 L409.92 328.03 L410.38 327.96 L410.85 328.04 L411.31 328.58 L411.77 329.02 L412.24 328.25 L412.7 327.76 L413.17 328.34 L413.63 328.55 L414.09 328.96 L414.56 328.92 L415.02 329.08 L415.48 329.21 L415.95 328.94 L416.41 329.49 L416.87 329.69 L417.34 329.25 L417.8 329.42 L418.27 329.8 L418.73 330.35 L419.19 329.79 L419.66 329.54 L420.12 329.08 L420.58 328.78 L421.05 329.86 L421.51 329.77 L421.97 329.42 L422.44 328.74 L422.9 327.85 L423.36 328.13 L423.83 329.33 L424.29 330.36 L424.76 331.1 L425.22 331.16 L425.68 331.18 L426.15 330.43 L426.61 329.77 L427.07 329.6 L427.54 329.23 L428 329.85 L428.46 329.39 L428.93 328.75 L429.39 328.17 L429.85 327.59 L430.32 327.96 L430.78 328.28 L431.25 328.33 L431.71 328.46 L432.17 328.45 L432.64 327.39 L433.1 327.57" fill="none" stroke="#f45a5a" stroke-width="1.5" stroke-linejoin="round"/>
<path d="M257.4 352.43 L257.86 353.26 L258.33 353.12 L258.79 352.7 L259.25 351.76 L259.72 352.15 L260.18 352.21 L260.65 352.61 L261.11 351.76 L261.57 351.53 L262.04 350.85 L262.5 351.13 L262.96 351.43 L263.43 351.95 L263.89 351.64 L264.35 351.19 L264.82 351.15 L265.28 352.04 L265.74 350.42 L266.21 349.81 L266.67 349.51 L267.14 348.59 L267.6 349.49 L268.06 349.66 L268.53 350.15 L268.99 349.7 L269.45 349.34 L269.92 350.18 L270.38 350.68 L270.84 350.76 L271.31 350.16 L271.77 349.62 L272.23 349.83 L272.7 349.32 L273.16 349.05 L273.63 348.94 L274.09 349.03 L274.55 348.26 L275.02 348.48 L275.48 347.38 L275.94 346.84 L276.41 346.67 L276.87 346.83 L277.33 345.35 L277.8 344.82 L278.26 344.58 L278.73 342.85 L279.19 342.02 L279.65 341.25 L280.12 341.84 L280.58 341.17 L281.04 339.94 L281.51 340.1 L281.97 338.94 L282.43 337.99 L282.9 336.69 L283.36 336.72 L283.82 334.8 L284.29 334.55 L284.75 333.42 L285.22 332.31 L285.68 332.32 L286.14 331.46 L286.61 330.4 L287.07 328.55 L287.53 327.42 L288 325.72 L288.46 323.94 L288.92 321.16 L289.39 318.84 L289.85 316.44 L290.31 313.3 L290.78 312.35 L291.24 311.25 L291.71 308.79 L292.17 306.82 L292.63 305.93 L293.1 306.27 L293.56 305.79 L294.02 306.71 L294.49 307.32 L294.95 308.55 L295.41 311.25 L295.88 312.76 L296.34 315.14 L296.81 317.41 L297.27 319.48 L297.73 319.86 L298.2 321.63 L298.66 323.62 L299.12 326.69 L299.59 328.86 L300.05 331.63 L300.51 334.23 L300.98 336.79 L301.44 337.82 L301.9 339.52 L302.37 340.8 L302.83 341.72 L303.3 344.77 L303.76 347.07 L304.22 347.23 L304.69 348.9 L305.15 350.27 L305.61 351.28 L306.08 350.91 L306.54 350.87 L307 351.95 L307.47 351.88 L307.93 352.2 L308.39 353.01 L308.86 352.85 L309.32 354.18 L309.79 354.5 L310.25 354.19 L310.71 354.95 L311.18 355.4 L311.64 355.73 L312.1 356.49 L312.57 357.07 L313.03 357.17 L313.49 355.77 L313.96 355.41 L314.42 355.98 L314.88 355.33 L315.35 355.18 L315.81 355.76 L316.28 353.74 L316.74 352.5 L317.2 352.05 L317.67 351.24 L318.13 349.46 L318.59 348.61 L319.06 346.94 L319.52 344.55 L319.98 342.99 L320.45 340.92 L320.91 338.5 L321.38 335.76 L321.84 333.21 L322.3 328.15 L322.77 325.64 L323.23 322.53 L323.69 319.8 L324.16 318.12 L324.62 318.03 L325.08 319.74 L325.55 320.7 L326.01 323.73 L326.47 325.51 L326.94 329.27 L327.4 331.67 L327.87 334.37 L328.33 336.03 L328.79 336.78 L329.26 339.13 L329.72 340.31 L330.18 342.27 L330.65 343.46 L331.11 344.44 L331.57 345.69 L332.04 347.4 L332.5 348.4 L332.96 349.11 L333.43 349.88 L333.89 351.93 L334.36 352.8 L334.82 353.4 L335.28 354.1 L335.75 355.49 L336.21 354.57 L336.67 354.39 L337.14 354.52 L337.6 355.05 L338.06 354.78 L338.53 353.98 L338.99 353.57 L339.46 352.74 L339.92 352.55 L340.38 351.91 L340.85 351.56 L341.31 351.61 L341.77 351.27 L342.24 350.52 L342.7 350.87 L343.16 349.46 L343.63 347.34 L344.09 347.44 L344.55 347.4 L345.02 346.8 L345.48 347.22 L345.95 346.34 L346.41 345.19 L346.87 344.04 L347.34 343.87 L347.8 343.21 L348.26 342.53 L348.73 342.19 L349.19 340.71 L349.65 339.97 L350.12 340.91 L350.58 340.55 L351.04 338.15 L351.51 337.68 L351.97 338.33 L352.44 337.23 L352.9 336.65 L353.36 335.47 L353.83 334.5 L354.29 333.79 L354.75 333.74 L355.22 331.67 L355.68 330 L356.14 329.62 L356.61 329.79 L357.07 328.45 L357.54 328.73 L358 327.21 L358.46 326.28 L358.93 324.79 L359.39 324.11 L359.85 322.73 L360.32 322.7 L360.78 322.35 L361.24 320.74 L361.71 320.14 L362.17 319.88 L362.63 320.36 L363.1 319.77 L363.56 318.19 L364.03 318.1 L364.49 317.97 L364.95 317.79 L365.42 317.46 L365.88 317.75 L366.34 318.23 L366.81 318.58 L367.27 319.63 L367.73 319.17 L368.2 319.35 L368.66 319.88 L369.12 321.7 L369.59 322.52 L370.05 323.69 L370.52 322.98 L370.98 324.23 L371.44 324.57 L371.91 326.14 L372.37 327.02 L372.83 327.38 L373.3 329.02 L373.76 329.86 L374.22 329.96 L374.69 331.09 L375.15 330.91 L375.62 331.12 L376.08 329.93 L376.54 330.45 L377.01 330.37 L377.47 330.44 L377.93 331.52 L378.4 332.31 L378.86 331.31 L379.32 330.52 L379.79 330.44 L380.25 330.38 L380.71 330.22 L381.18 329.18 L381.64 328 L382.11 326.59 L382.57 325.37 L383.03 322.89 L383.5 321.64 L383.96 319.43 L384.42 318.54 L384.89 317.46 L385.35 316.92 L385.81 316.31 L386.28 317.6 L386.74 317.81 L387.2 318.5 L387.67 320.2 L388.13 321.72 L388.6 323.21 L389.06 324.78 L389.52 327.3 L389.99 328.92 L390.45 329.45 L390.91 330.76 L391.38 331.69 L391.84 333.27 L392.3 333.96 L392.77 334.17 L393.23 334.05 L393.69 334.71 L394.16 335.18 L394.62 337.52 L395.09 338.22 L395.55 339.19 L396.01 339.51 L396.48 340.35 L396.94 340.81 L397.4 342.57 L397.87 342.98 L398.33 343.68 L398.79 343.79 L399.26 345.23 L399.72 345.18 L400.19 345.86 L400.65 346.55 L401.11 346.49 L401.58 347.26 L402.04 347.74 L402.5 347.17 L402.97 348.11 L403.43 348.39 L403.89 348.59 L404.36 348.54 L404.82 350.05 L405.28 350.53 L405.75 352.02 L406.21 351.04 L406.68 351.07 L407.14 351.05 L407.6 351.58 L408.07 351.68 L408.53 352.66 L408.99 353.63 L409.46 353.58 L409.92 353.82 L410.38 353.64 L410.85 353.48 L411.31 353.14 L411.77 353.35 L412.24 353.71 L412.7 353.89 L413.17 354.44 L413.63 354.88 L414.09 354.24 L414.56 354.09 L415.02 354.02 L415.48 354.23 L415.95 354.61 L416.41 354.58 L416.87 353.97 L417.34 353.84 L417.8 354.02 L418.27 354.14 L418.73 354.58 L419.19 354.04 L419.66 353.34 L420.12 353.39 L420.58 353.37 L421.05 353.86 L421.51 353.84 L421.97 353.19 L422.44 352.16 L422.9 353.43 L423.36 354.09 L423.83 353.46 L424.29 354.04 L424.76 353.91 L425.22 353.31 L425.68 353.03 L426.15 353.56 L426.61 353.01 L427.07 353.08 L427.54 352.51 L428 353.05 L428.46 353.64 L428.93 354.15 L429.39 353.22 L429.85 353.87 L430.32 353.98 L430.78 353.14 L431.25 352.91 L431.71 352.18 L432.17 351.98 L432.64 351.57 L433.1 351.22" fill="none" stroke="#d01e30" stroke-width="1.5" stroke-linejoin="round"/>
<path d="M257.4 374.52 L257.86 373.91 L258.33 374.65 L258.79 374.01 L259.25 374.81 L259.72 374.26 L260.18 374.59 L260.65 373.55 L261.11 374.12 L261.57 374.03 L262.04 374.22 L262.5 374.31 L262.96 373.84 L263.43 373.96 L263.89 373.11 L264.35 372.35 L264.82 372.98 L265.28 373.54 L265.74 373.38 L266.21 373.87 L266.67 373.06 L267.14 372.87 L267.6 372.16 L268.06 371.79 L268.53 372.15 L268.99 371.78 L269.45 372.19 L269.92 371.8 L270.38 371.08 L270.84 371.37 L271.31 370.91 L271.77 371.48 L272.23 371.59 L272.7 370.79 L273.16 371.65 L273.63 370.67 L274.09 370.28 L274.55 370.29 L275.02 370.12 L275.48 370.56 L275.94 371.18 L276.41 371.18 L276.87 370.55 L277.33 369.11 L277.8 368.99 L278.26 368.74 L278.73 369.05 L279.19 368.01 L279.65 367.4 L280.12 366.87 L280.58 366.48 L281.04 367.44 L281.51 367.1 L281.97 367.21 L282.43 366.04 L282.9 365.99 L283.36 365.4 L283.82 364.91 L284.29 363.01 L284.75 363.4 L285.22 362.78 L285.68 361.12 L286.14 359.85 L286.61 358.14 L287.07 355.99 L287.53 354.82 L288 353.41 L288.46 350.13 L288.92 347.54 L289.39 345.18 L289.85 343.81 L290.31 342.4 L290.78 339.22 L291.24 335.9 L291.71 333.24 L292.17 331.29 L292.63 330.52 L293.1 330.63 L293.56 331.77 L294.02 332.92 L294.49 334.36 L294.95 335.71 L295.41 337.95 L295.88 340.7 L296.34 342.58 L296.81 345.92 L297.27 347.94 L297.73 348.67 L298.2 349.46 L298.66 352.15 L299.12 355.3 L299.59 357.28 L300.05 358.5 L300.51 360.23 L300.98 362.3 L301.44 362.31 L301.9 363.49 L302.37 364.84 L302.83 366.67 L303.3 367.6 L303.76 367.95 L304.22 368.92 L304.69 370.4 L305.15 370.91 L305.61 371.28 L306.08 371.63 L306.54 372.88 L307 373.38 L307.47 373.97 L307.93 373.29 L308.39 373.18 L308.86 373.64 L309.32 374.44 L309.79 375.24 L310.25 375.44 L310.71 375.56 L311.18 376.17 L311.64 376.47 L312.1 376.65 L312.57 376.86 L313.03 377.02 L313.49 376.84 L313.96 376.31 L314.42 376.29 L314.88 376 L315.35 375.46 L315.81 375.11 L316.28 375.48 L316.74 373.71 L317.2 372.77 L317.67 371.28 L318.13 370.83 L318.59 368.74 L319.06 366.69 L319.52 365.28 L319.98 363.81 L320.45 362.81 L320.91 360.27 L321.38 357.73 L321.84 356 L322.3 354.07 L322.77 351.18 L323.23 347.91 L323.69 347.4 L324.16 345.71 L324.62 346.43 L325.08 347.34 L325.55 348.65 L326.01 350.74 L326.47 352.79 L326.94 355.05 L327.4 356.66 L327.87 359.25 L328.33 360.33 L328.79 361.24 L329.26 363.05 L329.72 363.82 L330.18 365.01 L330.65 367.25 L331.11 367.7 L331.57 367.57 L332.04 368.54 L332.5 369.39 L332.96 370.24 L333.43 371.47 L333.89 373.14 L334.36 374.5 L334.82 374.64 L335.28 374.9 L335.75 375.66 L336.21 376.03 L336.67 375.09 L337.14 374.06 L337.6 374.47 L338.06 375.27 L338.53 373.95 L338.99 373.35 L339.46 374.23 L339.92 372.97 L340.38 373.23 L340.85 374.28 L341.31 373.18 L341.77 373.1 L342.24 372.7 L342.7 372.89 L343.16 372.66 L343.63 372.08 L344.09 371.93 L344.55 371.67 L345.02 370.91 L345.48 371.15 L345.95 370.47 L346.41 369.4 L346.87 369.57 L347.34 369.72 L347.8 368.97 L348.26 369.84 L348.73 369.03 L349.19 368 L349.65 367.7 L350.12 365.62 L350.58 365.65 L351.04 364.97 L351.51 364.77 L351.97 365.18 L352.44 365.41 L352.9 364.86 L353.36 364.04 L353.83 363.67 L354.29 362.43 L354.75 361.39 L355.22 360.7 L355.68 360.43 L356.14 359.67 L356.61 359.25 L357.07 358.66 L357.54 356.31 L358 355.1 L358.46 354.45 L358.93 353.44 L359.39 353.11 L359.85 352.26 L360.32 351.57 L360.78 350.32 L361.24 349.72 L361.71 347.75 L362.17 347.66 L362.63 346.87 L363.1 346.51 L363.56 345.87 L364.03 345.89 L364.49 345.34 L364.95 344.4 L365.42 344.37 L365.88 345.95 L366.34 346 L366.81 345.37 L367.27 345.1 L367.73 346.01 L368.2 346.23 L368.66 347.38 L369.12 347.97 L369.59 349.38 L370.05 350.51 L370.52 350.98 L370.98 351.3 L371.44 351.77 L371.91 353.61 L372.37 353.91 L372.83 354 L373.3 353.87 L373.76 354.01 L374.22 353.78 L374.69 354.18 L375.15 353.7 L375.62 354.99 L376.08 355.74 L376.54 356.09 L377.01 356.87 L377.47 356.23 L377.93 355.42 L378.4 355.86 L378.86 356.32 L379.32 356.47 L379.79 356.65 L380.25 355.93 L380.71 355.6 L381.18 355.95 L381.64 355.21 L382.11 354.57 L382.57 353.89 L383.03 351.92 L383.5 352.33 L383.96 350.48 L384.42 348.53 L384.89 348.18 L385.35 348.26 L385.81 347.42 L386.28 346.82 L386.74 346.93 L387.2 348.03 L387.67 349.58 L388.13 351.68 L388.6 353.59 L389.06 354.46 L389.52 354.95 L389.99 356.33 L390.45 357.72 L390.91 359.75 L391.38 360.25 L391.84 359.83 L392.3 360.61 L392.77 360.3 L393.23 362.54 L393.69 362.58 L394.16 363.3 L394.62 363.74 L395.09 364.53 L395.55 365.01 L396.01 365.18 L396.48 365.04 L396.94 365.78 L397.4 366.34 L397.87 367.97 L398.33 367.96 L398.79 368.44 L399.26 368.27 L399.72 369.41 L400.19 368.9 L400.65 368.78 L401.11 368.69 L401.58 369.21 L402.04 369.79 L402.5 370.08 L402.97 370.07 L403.43 371.35 L403.89 371.6 L404.36 371.06 L404.82 371.81 L405.28 371.42 L405.75 371.55 L406.21 370.83 L406.68 371.23 L407.14 372.04 L407.6 372 L408.07 371.89 L408.53 371.78 L408.99 371.95 L409.46 372.37 L409.92 372.17 L410.38 371.98 L410.85 371.56 L411.31 371.66 L411.77 371.59 L412.24 372.25 L412.7 372.53 L413.17 371.45 L413.63 371 L414.09 371.9 L414.56 373.16 L415.02 373.02 L415.48 372.3 L415.95 371.44 L416.41 372.3 L416.87 372.21 L417.34 372.55 L417.8 372.92 L418.27 374.09 L418.73 373.73 L419.19 374 L419.66 373.02 L420.12 372.71 L420.58 372.48 L421.05 372.99 L421.51 372.92 L421.97 372.94 L422.44 372.73 L422.9 372.45 L423.36 372.76 L423.83 372.69 L424.29 372.55 L424.76 372.29 L425.22 372.12 L425.68 371.41 L426.15 371.33 L426.61 371.61 L427.07 371.5 L427.54 372.32 L428 372.11 L428.46 372.6 L428.93 372.29 L429.39 372.33 L429.85 371.64 L430.32 372 L430.78 372.22 L431.25 372.35 L431.71 371.33 L432.17 371.3 L432.64 371.5 L433.1 371.07" fill="none" stroke="#8e1428" stroke-width="1.5" stroke-linejoin="round"/>
<path d="M257.4 395.84 L257.86 395.96 L258.33 395.17 L258.79 395.37 L259.25 396.22 L259.72 397.14 L260.18 396.84 L260.65 395.68 L261.11 395.7 L261.57 395.66 L262.04 396.19 L262.5 396.53 L262.96 395.93 L263.43 395.46 L263.89 396.16 L264.35 395.52 L264.82 396.8 L265.28 396.29 L265.74 396.16 L266.21 396.44 L266.67 396.55 L267.14 396.59 L267.6 396.85 L268.06 395.99 L268.53 396.85 L268.99 396.51 L269.45 396.67 L269.92 396.73 L270.38 396.53 L270.84 396.26 L271.31 395.88 L271.77 396.55 L272.23 396.67 L272.7 396.01 L273.16 395.35 L273.63 394.7 L274.09 394.51 L274.55 394.36 L275.02 394.52 L275.48 393.87 L275.94 392.88 L276.41 392.7 L276.87 392.69 L277.33 393.48 L277.8 393.28 L278.26 393.02 L278.73 391.96 L279.19 392.04 L279.65 392.06 L280.12 392.17 L280.58 391.03 L281.04 390.85 L281.51 390.09 L281.97 389.46 L282.43 388.88 L282.9 388.36 L283.36 387.82 L283.82 386.76 L284.29 387.5 L284.75 387.16 L285.22 387.28 L285.68 385.58 L286.14 383.75 L286.61 382.85 L287.07 381.93 L287.53 380.02 L288 377.72 L288.46 376.01 L288.92 374.23 L289.39 371.44 L289.85 369.5 L290.31 367.17 L290.78 365.81 L291.24 364.15 L291.71 363.74 L292.17 361.74 L292.63 360.04 L293.1 360.32 L293.56 360.28 L294.02 361.22 L294.49 362.67 L294.95 363.58 L295.41 365.44 L295.88 366.96 L296.34 368.47 L296.81 369.21 L297.27 370.76 L297.73 372.26 L298.2 373.89 L298.66 375.78 L299.12 378.1 L299.59 380.04 L300.05 381.69 L300.51 382.82 L300.98 385.02 L301.44 385.35 L301.9 386.19 L302.37 386.68 L302.83 387.75 L303.3 389.21 L303.76 389.53 L304.22 391.1 L304.69 391.46 L305.15 392.32 L305.61 393.1 L306.08 394.41 L306.54 394.09 L307 394.55 L307.47 393.94 L307.93 394.58 L308.39 394.62 L308.86 394.44 L309.32 394.04 L309.79 396.09 L310.25 395.78 L310.71 397.19 L311.18 396.65 L311.64 396.91 L312.1 396.78 L312.57 396.84 L313.03 397.45 L313.49 397.43 L313.96 397.81 L314.42 396.71 L314.88 397.16 L315.35 397.23 L315.81 395.98 L316.28 396.17 L316.74 394.99 L317.2 394.92 L317.67 393.98 L318.13 393.65 L318.59 391.92 L319.06 391.66 L319.52 389.71 L319.98 388.37 L320.45 385.46 L320.91 383.57 L321.38 380.12 L321.84 375.78 L322.3 371.46 L322.77 366.13 L323.23 362.58 L323.69 358.78 L324.16 356.38 L324.62 355.73 L325.08 357.7 L325.55 361.53 L326.01 367.13 L326.47 372.84 L326.94 377.79 L327.4 382.96 L327.87 387.35 L328.33 389.76 L328.79 392.16 L329.26 393.79 L329.72 395.79 L330.18 396.65 L330.65 397.24 L331.11 398.25 L331.57 398.22 L332.04 398.79 L332.5 397.97 L332.96 398.6 L333.43 399.03 L333.89 398.75 L334.36 398.98 L334.82 399.92 L335.28 399.21 L335.75 398.72 L336.21 398.9 L336.67 398.1 L337.14 397.61 L337.6 396.29 L338.06 396.77 L338.53 397.08 L338.99 396.25 L339.46 396.24 L339.92 396.01 L340.38 395.7 L340.85 395.62 L341.31 395.16 L341.77 395.28 L342.24 395.2 L342.7 394.3 L343.16 394.42 L343.63 394.27 L344.09 393.18 L344.55 392.96 L345.02 391.58 L345.48 391.28 L345.95 392.25 L346.41 391.45 L346.87 391.62 L347.34 389.61 L347.8 388.91 L348.26 388.86 L348.73 387.7 L349.19 386.75 L349.65 386.25 L350.12 385.58 L350.58 385.63 L351.04 384.82 L351.51 383.49 L351.97 382.37 L352.44 381.88 L352.9 382.15 L353.36 381.06 L353.83 380.61 L354.29 379.45 L354.75 379.5 L355.22 378.3 L355.68 377.04 L356.14 376.59 L356.61 374.93 L357.07 373.26 L357.54 372.21 L358 371.04 L358.46 370.12 L358.93 370.23 L359.39 369.44 L359.85 368.43 L360.32 367.62 L360.78 365.38 L361.24 365.34 L361.71 365.19 L362.17 364.75 L362.63 363.9 L363.1 363.16 L363.56 363.55 L364.03 362.58 L364.49 362.32 L364.95 362.76 L365.42 362.64 L365.88 362.88 L366.34 363.12 L366.81 363.72 L367.27 364.36 L367.73 364.27 L368.2 364.82 L368.66 365.64 L369.12 366.55 L369.59 366.33 L370.05 366.82 L370.52 367.05 L370.98 367.93 L371.44 368.04 L371.91 368.5 L372.37 369.64 L372.83 369.74 L373.3 370.01 L373.76 370.86 L374.22 371.03 L374.69 371.08 L375.15 370.81 L375.62 372.2 L376.08 371.56 L376.54 371.42 L377.01 371.22 L377.47 371.91 L377.93 372.57 L378.4 372.94 L378.86 372.52 L379.32 372.58 L379.79 373.07 L380.25 373.3 L380.71 373.37 L381.18 373.2 L381.64 373.8 L382.11 371.97 L382.57 372.36 L383.03 372.34 L383.5 371.5 L383.96 370.48 L384.42 369.24 L384.89 367.58 L385.35 366.56 L385.81 365.74 L386.28 365.5 L386.74 365.51 L387.2 366.45 L387.67 368.9 L388.13 371.18 L388.6 372.45 L389.06 373.69 L389.52 375.56 L389.99 376.27 L390.45 376.67 L390.91 377.35 L391.38 378.45 L391.84 379.58 L392.3 380.35 L392.77 380.24 L393.23 380.81 L393.69 381.12 L394.16 382.01 L394.62 382.56 L395.09 383.25 L395.55 383.99 L396.01 385.01 L396.48 385.81 L396.94 386.17 L397.4 386.58 L397.87 387.15 L398.33 387.9 L398.79 387.71 L399.26 388.2 L399.72 387.04 L400.19 387.93 L400.65 387.83 L401.11 387.69 L401.58 389 L402.04 390.06 L402.5 390.38 L402.97 391.33 L403.43 391.64 L403.89 392.19 L404.36 392.06 L404.82 392.34 L405.28 391.49 L405.75 391.88 L406.21 391.29 L406.68 392.47 L407.14 391.7 L407.6 391.85 L408.07 393.24 L408.53 393.28 L408.99 394.25 L409.46 394.94 L409.92 394.85 L410.38 395.1 L410.85 395.59 L411.31 394.84 L411.77 395.41 L412.24 395.25 L412.7 396.41 L413.17 395.89 L413.63 396.12 L414.09 395.69 L414.56 395.72 L415.02 396.61 L415.48 396.46 L415.95 395.93 L416.41 395.91 L416.87 395.78 L417.34 394.95 L417.8 395.27 L418.27 395.19 L418.73 395.65 L419.19 394.91 L419.66 394.99 L420.12 395.46 L420.58 396.77 L421.05 395.76 L421.51 394.89 L421.97 394.66 L422.44 394.18 L422.9 394.71 L423.36 395.21 L423.83 395.05 L424.29 395.58 L424.76 395.22 L425.22 395.42 L425.68 395.01 L426.15 395.8 L426.61 396.54 L427.07 396.46 L427.54 394.32 L428 394.19 L428.46 394.31 L428.93 394.92 L429.39 395.15 L429.85 395.51 L430.32 395.23 L430.78 395.21 L431.25 394.78 L431.71 394.3 L432.17 394.02 L432.64 394.65 L433.1 394.32" fill="none" stroke="#650a1c" stroke-width="1.5" stroke-linejoin="round"/>
<text x="0" y="0" transform="translate(259.5 237) scale(1 1.07)" font-size="8.2" fill="#000" stroke="#000" text-anchor="start" font-weight="bold">PdCu<tspan font-size="4.92" baseline-shift="-2.13">1</tspan>/ZnO</text>
<text x="0" y="0" transform="translate(296.9 251.7) scale(1 1.13)" font-size="7.35" fill="#000" stroke="#000" text-anchor="start" font-weight="bold">322</text>
<text x="0" y="0" transform="translate(324.7 261.8) scale(1 1.13)" font-size="7.35" fill="#000" stroke="#000" text-anchor="middle" font-weight="bold">429</text>
<text x="0" y="0" transform="translate(365.7 261.8) scale(1 1.13)" font-size="7.35" fill="#000" stroke="#000" text-anchor="middle" font-weight="bold">568</text>
<text x="0" y="0" transform="translate(386.1 243.4) scale(1 1.13)" font-size="7.35" fill="#d01e30" stroke="#d01e30" text-anchor="middle" font-weight="bold">639</text>
<text x="426" y="245.3" font-size="6.3" fill="#000" stroke="#000" text-anchor="end" font-weight="bold">2000</text>
<line x1="428.6" y1="234.3" x2="428.6" y2="251.7" stroke="#222" stroke-width="1.1" stroke-linecap="butt"/>
<line x1="404.2" y1="371.5" x2="404.2" y2="293.3" stroke="#000" stroke-width="1.1" stroke-linecap="butt"/>
<path d="M404.2 287.3 L405.8 293.3 L402.6 293.3 Z" fill="#000"/>
<text x="0" y="0" transform="translate(407.1 366) scale(1 1.07)" font-size="8.2" fill="#000" stroke="#000" text-anchor="start" font-weight="bold">+ H<tspan font-size="4.92" baseline-shift="-2.13">2</tspan>O</text>
<text x="0" y="0" transform="translate(435.9 309.5) scale(1 1.06)" font-size="7.4" fill="#f9aaa6" stroke="#f9aaa6" text-anchor="start" font-weight="bold">300°C</text>
<text x="0" y="0" transform="translate(435.9 330.6) scale(1 1.06)" font-size="7.4" fill="#f45a5a" stroke="#f45a5a" text-anchor="start" font-weight="bold">200°C</text>
<text x="0" y="0" transform="translate(435.9 352.6) scale(1 1.06)" font-size="7.4" fill="#d01e30" stroke="#d01e30" text-anchor="start" font-weight="bold">100°C</text>
<text x="0" y="0" transform="translate(435.9 375.1) scale(1 1.06)" font-size="7.4" fill="#8e1428" stroke="#8e1428" text-anchor="start" font-weight="bold">25°C</text>
<text x="0" y="0" transform="translate(435.9 397.2) scale(1 1.06)" font-size="7.4" fill="#650a1c" stroke="#650a1c" text-anchor="start" font-weight="bold">25°C</text>
<rect x="257.1" y="226.9" width="176.3" height="176" fill="none" stroke="#000" stroke-width="1.45"/>
<line x1="257.1" y1="402.9" x2="257.1" y2="406.4" stroke="#000" stroke-width="1.2" stroke-linecap="butt"/>
<line x1="286.48" y1="402.9" x2="286.48" y2="406.4" stroke="#000" stroke-width="1.2" stroke-linecap="butt"/>
<line x1="315.87" y1="402.9" x2="315.87" y2="406.4" stroke="#000" stroke-width="1.2" stroke-linecap="butt"/>
<line x1="345.25" y1="402.9" x2="345.25" y2="406.4" stroke="#000" stroke-width="1.2" stroke-linecap="butt"/>
<line x1="374.63" y1="402.9" x2="374.63" y2="406.4" stroke="#000" stroke-width="1.2" stroke-linecap="butt"/>
<line x1="404.02" y1="402.9" x2="404.02" y2="406.4" stroke="#000" stroke-width="1.2" stroke-linecap="butt"/>
<line x1="433.4" y1="402.9" x2="433.4" y2="406.4" stroke="#000" stroke-width="1.2" stroke-linecap="butt"/>
<line x1="271.79" y1="402.9" x2="271.79" y2="405.1" stroke="#000" stroke-width="1.2" stroke-linecap="butt"/>
<line x1="301.18" y1="402.9" x2="301.18" y2="405.1" stroke="#000" stroke-width="1.2" stroke-linecap="butt"/>
<line x1="330.56" y1="402.9" x2="330.56" y2="405.1" stroke="#000" stroke-width="1.2" stroke-linecap="butt"/>
<line x1="359.94" y1="402.9" x2="359.94" y2="405.1" stroke="#000" stroke-width="1.2" stroke-linecap="butt"/>
<line x1="389.32" y1="402.9" x2="389.32" y2="405.1" stroke="#000" stroke-width="1.2" stroke-linecap="butt"/>
<line x1="418.71" y1="402.9" x2="418.71" y2="405.1" stroke="#000" stroke-width="1.2" stroke-linecap="butt"/>
<text x="0" y="0" transform="translate(257.1 414.8) scale(0.92 1.02)" font-size="8" fill="#000" stroke="#000" text-anchor="middle" font-weight="bold" letter-spacing="0.3">200</text>
<text x="0" y="0" transform="translate(286.48 414.8) scale(0.92 1.02)" font-size="8" fill="#000" stroke="#000" text-anchor="middle" font-weight="bold" letter-spacing="0.3">300</text>
<text x="0" y="0" transform="translate(315.87 414.8) scale(0.92 1.02)" font-size="8" fill="#000" stroke="#000" text-anchor="middle" font-weight="bold" letter-spacing="0.3">400</text>
<text x="0" y="0" transform="translate(345.25 414.8) scale(0.92 1.02)" font-size="8" fill="#000" stroke="#000" text-anchor="middle" font-weight="bold" letter-spacing="0.3">500</text>
<text x="0" y="0" transform="translate(374.63 414.8) scale(0.92 1.02)" font-size="8" fill="#000" stroke="#000" text-anchor="middle" font-weight="bold" letter-spacing="0.3">600</text>
<text x="0" y="0" transform="translate(404.02 414.8) scale(0.92 1.02)" font-size="8" fill="#000" stroke="#000" text-anchor="middle" font-weight="bold" letter-spacing="0.3">700</text>
<text x="0" y="0" transform="translate(433.4 414.8) scale(0.92 1.02)" font-size="8" fill="#000" stroke="#000" text-anchor="middle" font-weight="bold" letter-spacing="0.3">800</text>
<text x="0" y="0" transform="translate(345.3 432.9) scale(1 0.94)" font-size="10" fill="#000" stroke="none" text-anchor="middle" font-weight="bold">Raman shift (cm<tspan font-size="6.8" baseline-shift="4">-1</tspan>)</text>
<text x="0" y="0" font-size="10" font-weight="bold" text-anchor="middle" dominant-baseline="central" transform="translate(246.3 314.5) rotate(-90)">Intensity (a.u.)</text>
<path d="M494.12 337.38 L540.26 301.81 L601.79 261.39 L663.33 235.05" fill="none" stroke="#1f3cf5" stroke-width="1.7" stroke-linejoin="round"/>
<path d="M494.12 289.07 L540.26 256.86 L601.79 241.09 L663.33 235.05" fill="none" stroke="#ff1e1e" stroke-width="1.7" stroke-linejoin="round"/>
<circle cx="494.12" cy="337.38" r="2.5" fill="#1f3cf5" stroke="#1f3cf5" stroke-width="1.2"/>
<circle cx="540.26" cy="301.81" r="2.5" fill="#1f3cf5" stroke="#1f3cf5" stroke-width="1.2"/>
<circle cx="601.79" cy="261.39" r="2.5" fill="#1f3cf5" stroke="#1f3cf5" stroke-width="1.2"/>
<circle cx="663.33" cy="235.05" r="2.5" fill="#1f3cf5" stroke="#1f3cf5" stroke-width="1.2"/>
<path d="M491.12 286.82 L497.12 286.82 L494.12 291.92 Z" fill="#ff1e1e" stroke="#ff1e1e" stroke-width="1.2"/>
<path d="M537.26 254.61 L543.26 254.61 L540.26 259.71 Z" fill="#ff1e1e" stroke="#ff1e1e" stroke-width="1.2"/>
<path d="M598.79 238.84 L604.79 238.84 L601.79 243.94 Z" fill="#ff1e1e" stroke="#ff1e1e" stroke-width="1.2"/>
<path d="M660.33 232.8 L666.33 232.8 L663.33 237.9 Z" fill="#ff1e1e" stroke="#ff1e1e" stroke-width="1.2"/>
<circle cx="494.12" cy="369.25" r="2.3" fill="#fff" stroke="#1f3cf5" stroke-width="1.2"/>
<path d="M490.92 338.33 L497.32 338.33 L494.12 343.77 Z" fill="#fff" stroke="#ff1e1e" stroke-width="1.2"/>
<line x1="508.2" y1="279.2" x2="528.53" y2="330.22" stroke="#000" stroke-width="0.7" stroke-linecap="butt"/>
<path d="M530.2 334.4 L527.05 330.81 L530.02 329.63 Z" fill="#000"/>
<line x1="510" y1="326.1" x2="526.32" y2="335.72" stroke="#000" stroke-width="0.7" stroke-linecap="butt"/>
<path d="M530.2 338 L525.51 337.09 L527.13 334.34 Z" fill="#000"/>
<line x1="494.4" y1="343.5" x2="513.85" y2="370.16" stroke="#000" stroke-width="0.7" stroke-linecap="butt"/>
<path d="M516.5 373.8 L512.56 371.11 L515.14 369.22 Z" fill="#000"/>
<line x1="497.2" y1="370.5" x2="512.15" y2="374.45" stroke="#000" stroke-width="0.7" stroke-linecap="butt"/>
<path d="M516.5 375.6 L511.74 376 L512.56 372.9 Z" fill="#000"/>
<text x="0" y="0" transform="translate(533.9 339.9) scale(1 1.07)" font-size="8.2" fill="#000" stroke="#000" text-anchor="start" font-weight="bold">inflow of water</text>
<text x="0" y="0" transform="translate(519.2 383.2) scale(1 1.07)" font-size="8.2" fill="#000" stroke="#000" text-anchor="start" font-weight="bold">water-free atmosphere at 25°C</text>
<text x="0" y="0" transform="translate(493.5 238) scale(1 1.07)" font-size="8.2" fill="#000" stroke="#000" text-anchor="start" font-weight="bold">Raman 639cm<tspan font-size="5.58" baseline-shift="3.28">-1</tspan> peak</text>
<line x1="599.9" y1="298.1" x2="619.7" y2="298.1" stroke="#1f3cf5" stroke-width="1.7" stroke-linecap="butt"/>
<circle cx="610" cy="298.1" r="2.5" fill="#1f3cf5" stroke="#1f3cf5" stroke-width="1.2"/>
<text x="0" y="0" transform="translate(622.8 301.2) scale(1 1.07)" font-size="8.2" fill="#000" stroke="#000" text-anchor="start" font-weight="bold">Pd/ZnO</text>
<line x1="599.9" y1="309.5" x2="619.7" y2="309.5" stroke="#ff1e1e" stroke-width="1.7" stroke-linecap="butt"/>
<path d="M607 307.25 L613 307.25 L610 312.35 Z" fill="#ff1e1e" stroke="#ff1e1e" stroke-width="1.2"/>
<text x="0" y="0" transform="translate(622.8 312.4) scale(1 1.07)" font-size="8.2" fill="#000" stroke="#000" text-anchor="start" font-weight="bold">PdCu<tspan font-size="4.92" baseline-shift="-2.13">1</tspan>/ZnO</text>
<rect x="491" y="226.9" width="176.5" height="175.95" fill="none" stroke="#000" stroke-width="1.45"/>
<line x1="491" y1="402.8" x2="488.8" y2="402.8" stroke="#000" stroke-width="1" stroke-linecap="butt"/>
<text x="0" y="0" transform="translate(485.6 405.9) scale(0.92 1.02)" font-size="8" fill="#000" stroke="#000" text-anchor="end" font-weight="bold" letter-spacing="0.3">0</text>
<line x1="491" y1="369.25" x2="488.8" y2="369.25" stroke="#000" stroke-width="1" stroke-linecap="butt"/>
<text x="0" y="0" transform="translate(485.6 372.35) scale(0.92 1.02)" font-size="8" fill="#000" stroke="#000" text-anchor="end" font-weight="bold" letter-spacing="0.3">20</text>
<line x1="491" y1="335.7" x2="488.8" y2="335.7" stroke="#000" stroke-width="1" stroke-linecap="butt"/>
<text x="0" y="0" transform="translate(485.6 338.8) scale(0.92 1.02)" font-size="8" fill="#000" stroke="#000" text-anchor="end" font-weight="bold" letter-spacing="0.3">40</text>
<line x1="491" y1="302.15" x2="488.8" y2="302.15" stroke="#000" stroke-width="1" stroke-linecap="butt"/>
<text x="0" y="0" transform="translate(485.6 305.25) scale(0.92 1.02)" font-size="8" fill="#000" stroke="#000" text-anchor="end" font-weight="bold" letter-spacing="0.3">60</text>
<line x1="491" y1="268.6" x2="488.8" y2="268.6" stroke="#000" stroke-width="1" stroke-linecap="butt"/>
<text x="0" y="0" transform="translate(485.6 271.7) scale(0.92 1.02)" font-size="8" fill="#000" stroke="#000" text-anchor="end" font-weight="bold" letter-spacing="0.3">80</text>
<line x1="491" y1="235.05" x2="488.8" y2="235.05" stroke="#000" stroke-width="1" stroke-linecap="butt"/>
<text x="0" y="0" transform="translate(485.6 238.15) scale(0.92 1.02)" font-size="8" fill="#000" stroke="#000" text-anchor="end" font-weight="bold" letter-spacing="0.3">100</text>
<line x1="491" y1="386.03" x2="489.5" y2="386.03" stroke="#000" stroke-width="1" stroke-linecap="butt"/>
<line x1="491" y1="352.48" x2="489.5" y2="352.48" stroke="#000" stroke-width="1" stroke-linecap="butt"/>
<line x1="491" y1="318.93" x2="489.5" y2="318.93" stroke="#000" stroke-width="1" stroke-linecap="butt"/>
<line x1="491" y1="285.38" x2="489.5" y2="285.38" stroke="#000" stroke-width="1" stroke-linecap="butt"/>
<line x1="491" y1="251.83" x2="489.5" y2="251.83" stroke="#000" stroke-width="1" stroke-linecap="butt"/>
<line x1="509.5" y1="402.85" x2="509.5" y2="406.35" stroke="#000" stroke-width="1.2" stroke-linecap="butt"/>
<line x1="540.26" y1="402.85" x2="540.26" y2="406.35" stroke="#000" stroke-width="1.2" stroke-linecap="butt"/>
<line x1="571.03" y1="402.85" x2="571.03" y2="406.35" stroke="#000" stroke-width="1.2" stroke-linecap="butt"/>
<line x1="601.79" y1="402.85" x2="601.79" y2="406.35" stroke="#000" stroke-width="1.2" stroke-linecap="butt"/>
<line x1="632.56" y1="402.85" x2="632.56" y2="406.35" stroke="#000" stroke-width="1.2" stroke-linecap="butt"/>
<line x1="663.33" y1="402.85" x2="663.33" y2="406.35" stroke="#000" stroke-width="1.2" stroke-linecap="butt"/>
<line x1="494.12" y1="402.85" x2="494.12" y2="405.05" stroke="#000" stroke-width="1.2" stroke-linecap="butt"/>
<line x1="524.88" y1="402.85" x2="524.88" y2="405.05" stroke="#000" stroke-width="1.2" stroke-linecap="butt"/>
<line x1="555.65" y1="402.85" x2="555.65" y2="405.05" stroke="#000" stroke-width="1.2" stroke-linecap="butt"/>
<line x1="586.41" y1="402.85" x2="586.41" y2="405.05" stroke="#000" stroke-width="1.2" stroke-linecap="butt"/>
<line x1="617.18" y1="402.85" x2="617.18" y2="405.05" stroke="#000" stroke-width="1.2" stroke-linecap="butt"/>
<line x1="647.94" y1="402.85" x2="647.94" y2="405.05" stroke="#000" stroke-width="1.2" stroke-linecap="butt"/>
<text x="0" y="0" transform="translate(509.5 414.8) scale(0.92 1.02)" font-size="8" fill="#000" stroke="#000" text-anchor="middle" font-weight="bold" letter-spacing="0.3">50</text>
<text x="0" y="0" transform="translate(540.26 414.8) scale(0.92 1.02)" font-size="8" fill="#000" stroke="#000" text-anchor="middle" font-weight="bold" letter-spacing="0.3">100</text>
<text x="0" y="0" transform="translate(571.03 414.8) scale(0.92 1.02)" font-size="8" fill="#000" stroke="#000" text-anchor="middle" font-weight="bold" letter-spacing="0.3">150</text>
<text x="0" y="0" transform="translate(601.79 414.8) scale(0.92 1.02)" font-size="8" fill="#000" stroke="#000" text-anchor="middle" font-weight="bold" letter-spacing="0.3">200</text>
<text x="0" y="0" transform="translate(632.56 414.8) scale(0.92 1.02)" font-size="8" fill="#000" stroke="#000" text-anchor="middle" font-weight="bold" letter-spacing="0.3">250</text>
<text x="0" y="0" transform="translate(663.33 414.8) scale(0.92 1.02)" font-size="8" fill="#000" stroke="#000" text-anchor="middle" font-weight="bold" letter-spacing="0.3">300</text>
<text x="0" y="0" transform="translate(579.2 430.4) scale(1 0.94)" font-size="10" fill="#000" stroke="none" text-anchor="middle" font-weight="bold">Temperature (°C)</text>
<text x="0" y="0" font-size="10" font-weight="bold" text-anchor="middle" dominant-baseline="central" transform="translate(464.3 314) rotate(-90)">Peak area increase rate (%)</text>
<line x1="43.79" y1="485" x2="43.79" y2="622.6" stroke="#b565f2" stroke-width="1.7" stroke-dasharray="4.6 4.3" stroke-linecap="butt"/>
<line x1="49.68" y1="477.7" x2="49.68" y2="622.6" stroke="#4aa64a" stroke-width="1.6" stroke-dasharray="4.6 4.3" stroke-linecap="butt"/>
<line x1="64.5" y1="466.7" x2="64.5" y2="622.6" stroke="#f39020" stroke-width="1.3" stroke-dasharray="4.6 4.3" stroke-linecap="butt"/>
<line x1="80.06" y1="458.4" x2="80.06" y2="622.6" stroke="#a040f0" stroke-width="1.3" stroke-dasharray="4.6 4.3" stroke-linecap="butt"/>
<line x1="166.65" y1="478.6" x2="166.65" y2="622.6" stroke="#222" stroke-width="1.25" stroke-dasharray="4 4.5" stroke-linecap="butt"/>
<path d="M22.9 498.83 L23.35 498.86 L23.81 498.76 L24.26 498.49 L24.71 498.7 L25.17 498.56 L25.62 498.77 L26.07 498.54 L26.53 498.85 L26.98 498.78 L27.43 499.03 L27.89 498.8 L28.34 498.82 L28.79 498.64 L29.25 498.58 L29.7 498.91 L30.15 498.69 L30.61 498.75 L31.06 498.7 L31.51 498.76 L31.97 498.36 L32.42 498.34 L32.87 498.69 L33.33 498.95 L33.78 498.26 L34.23 498.44 L34.69 498.56 L35.14 498.42 L35.6 498.43 L36.05 498.38 L36.5 498.55 L36.96 498.36 L37.41 498.32 L37.86 498.03 L38.32 498.22 L38.77 498.25 L39.22 497.88 L39.68 497.42 L40.13 496.8 L40.58 496.35 L41.04 495.31 L41.49 493.81 L41.94 491.74 L42.4 489.98 L42.85 487.91 L43.3 486.32 L43.76 485.74 L44.21 485.92 L44.66 487.36 L45.12 489.39 L45.57 490.88 L46.02 492.6 L46.48 494 L46.93 494.75 L47.38 495.28 L47.84 496.02 L48.29 496.44 L48.74 496.29 L49.2 496.74 L49.65 496.94 L50.1 497.43 L50.56 497.18 L51.01 497.59 L51.46 497.57 L51.92 497.8 L52.37 498.09 L52.82 498.14 L53.28 498.25 L53.73 498.22 L54.18 498.13 L54.64 498.56 L55.09 498.66 L55.54 498.44 L56 498.39 L56.45 498.65 L56.9 498.52 L57.36 498.47 L57.81 498.55 L58.27 498.25 L58.72 498.23 L59.17 498.33 L59.63 498.08 L60.08 498.16 L60.53 498.05 L60.99 497.89 L61.44 497.58 L61.89 496.87 L62.35 496.54 L62.8 495.99 L63.25 495.43 L63.71 494.8 L64.16 494.17 L64.61 494.08 L65.07 494.17 L65.52 494.8 L65.97 495.39 L66.43 495.97 L66.88 496.73 L67.33 497.45 L67.79 497.93 L68.24 497.97 L68.69 497.98 L69.15 497.93 L69.6 497.72 L70.05 497.27 L70.51 496.75 L70.96 496.14 L71.41 495.61 L71.87 495.52 L72.32 494.9 L72.77 494.21 L73.23 494.12 L73.68 493.58 L74.13 493.48 L74.59 493.13 L75.04 493.03 L75.49 492.63 L75.95 492.26 L76.4 491.7 L76.85 490.63 L77.31 488.59 L77.76 486.68 L78.21 482.99 L78.67 479.26 L79.12 475.23 L79.57 471.48 L80.03 468.67 L80.48 468 L80.93 470.08 L81.39 473.58 L81.84 478.06 L82.3 482.7 L82.75 486.48 L83.2 490.21 L83.66 492.56 L84.11 494.15 L84.56 495.39 L85.02 496.23 L85.47 496.86 L85.92 497.18 L86.38 497.24 L86.83 497.4 L87.28 497.89 L87.74 497.62 L88.19 497.8 L88.64 498.2 L89.1 497.87 L89.55 498.24 L90 498.38 L90.46 498.64 L90.91 498.51 L91.36 498.37 L91.82 498.22 L92.27 498.62 L92.72 498.63 L93.18 498.71 L93.63 498.73 L94.08 498.51 L94.54 498.47 L94.99 498.36 L95.44 498.62 L95.9 498.69 L96.35 498.48 L96.8 498.62 L97.26 498.75 L97.71 498.85 L98.16 498.5 L98.62 498.59 L99.07 498.48 L99.52 498.49 L99.98 498.78 L100.43 498.8 L100.88 498.6 L101.34 498.63 L101.79 498.58 L102.24 498.96 L102.7 498.59 L103.15 498.63 L103.6 498.56 L104.06 498.8 L104.51 498.62 L104.97 498.41 L105.42 498.74 L105.87 498.73 L106.33 498.68 L106.78 498.72 L107.23 498.76 L107.69 498.78 L108.14 498.9 L108.59 498.83 L109.05 498.89 L109.5 498.84 L109.95 498.81 L110.41 498.71 L110.86 498.74 L111.31 498.54 L111.77 498.91 L112.22 499.06 L112.67 498.73 L113.13 498.6 L113.58 498.8 L114.03 498.7 L114.49 498.89 L114.94 498.5 L115.39 499 L115.85 498.97 L116.3 498.82" fill="none" stroke="#a9c3f8" stroke-width="1.5" stroke-linejoin="round"/>
<path d="M120.3 498.85 L120.75 499.06 L121.21 498.83 L121.66 497.95 L122.11 496.7 L122.56 494.81 L123.02 493.19 L123.47 491.13 L123.92 489.24 L124.38 487.54 L124.83 486.14 L125.28 485.47 L125.73 484.9 L126.19 484.65 L126.64 483.98 L127.09 484.03 L127.55 483.6 L128 483.62 L128.45 483.39 L128.91 483.87 L129.36 483.93 L129.81 484.73 L130.26 485.51 L130.72 486.22 L131.17 486.94 L131.62 487.57 L132.08 488.13 L132.53 488.48 L132.98 489.16 L133.43 489.6 L133.89 490.22 L134.34 490.92 L134.79 491.27 L135.25 491.46 L135.7 492.33 L136.15 492.86 L136.6 493.21 L137.06 493.9 L137.51 493.89 L137.96 494.4 L138.42 494.99 L138.87 494.83 L139.32 495.12 L139.78 496.01 L140.23 496.11 L140.68 496.73 L141.13 496.84 L141.59 496.99 L142.04 497.17 L142.49 497.05 L142.95 497.11 L143.4 497.62 L143.85 497.59 L144.3 497.35 L144.76 497.53 L145.21 497.84 L145.66 497.92 L146.12 497.77 L146.57 497.72 L147.02 498.03 L147.47 498 L147.93 497.87 L148.38 497.97 L148.83 497.97 L149.29 498.13 L149.74 497.85 L150.19 497.8 L150.64 497.78 L151.1 497.92 L151.55 497.92 L152 497.48 L152.46 497.77 L152.91 497.89 L153.36 497.8 L153.82 498 L154.27 497.88 L154.72 498.07 L155.17 497.95 L155.63 497.85 L156.08 497.92 L156.53 498.01 L156.99 497.84 L157.44 497.87 L157.89 497.93 L158.34 498.26 L158.8 497.93 L159.25 498.1 L159.7 497.84 L160.16 497.96 L160.61 497.88 L161.06 497.83 L161.51 497.76 L161.97 497.68 L162.42 497.29 L162.87 497.31 L163.33 496.87 L163.78 496.23 L164.23 495.93 L164.68 495.23 L165.14 494.74 L165.59 494.27 L166.04 493.82 L166.5 493.49 L166.95 493.79 L167.4 493.77 L167.86 493.84 L168.31 494.15 L168.76 494.04 L169.21 494.3 L169.67 494.6 L170.12 494.82 L170.57 494.98 L171.03 495.11 L171.48 495.28 L171.93 495.53 L172.38 495.93 L172.84 496.02 L173.29 496.08 L173.74 496.39 L174.2 496.4 L174.65 496.51 L175.1 496.95 L175.55 497.06 L176.01 497.41 L176.46 497.24 L176.91 497.46 L177.37 497.36 L177.82 497.41 L178.27 497.97 L178.72 497.76 L179.18 497.74 L179.63 497.59 L180.08 497.86 L180.54 497.57 L180.99 497.88 L181.44 497.86 L181.9 497.7 L182.35 497.88 L182.8 497.84 L183.25 497.8 L183.71 497.98 L184.16 498 L184.61 497.92 L185.07 497.89 L185.52 498.09 L185.97 497.84 L186.42 497.86 L186.88 497.95 L187.33 497.75 L187.78 497.96 L188.24 498.04 L188.69 497.95 L189.14 498.23 L189.59 497.73 L190.05 497.86 L190.5 497.76 L190.95 497.93 L191.41 497.87 L191.86 497.85 L192.31 497.67 L192.77 497.99 L193.22 498.01 L193.67 497.67 L194.12 498.03 L194.58 497.81 L195.03 497.84 L195.48 497.97 L195.94 497.74 L196.39 497.93 L196.84 497.76 L197.29 497.83 L197.75 498.01 L198.2 498.03" fill="none" stroke="#a9c3f8" stroke-width="1.5" stroke-linejoin="round"/>
<path d="M22.9 521.85 L23.35 521.88 L23.81 522.26 L24.26 521.85 L24.71 521.71 L25.17 521.97 L25.62 521.94 L26.07 522.02 L26.53 521.86 L26.98 522.13 L27.43 522 L27.89 522.29 L28.34 521.98 L28.79 521.93 L29.25 522.1 L29.7 522.01 L30.15 521.76 L30.61 521.99 L31.06 521.76 L31.51 522.04 L31.97 521.75 L32.42 521.88 L32.87 521.7 L33.33 521.85 L33.78 522 L34.23 521.95 L34.69 521.65 L35.14 521.52 L35.6 521.81 L36.05 521.56 L36.5 521.51 L36.96 521.69 L37.41 521.35 L37.86 521.59 L38.32 521.54 L38.77 521.26 L39.22 520.93 L39.68 520.75 L40.13 520.58 L40.58 519.72 L41.04 518.94 L41.49 517.49 L41.94 515.9 L42.4 514.08 L42.85 512.22 L43.3 510.76 L43.76 510.14 L44.21 510.53 L44.66 511.52 L45.12 513.01 L45.57 514.71 L46.02 516.13 L46.48 517.12 L46.93 518.29 L47.38 518.77 L47.84 519.59 L48.29 519.52 L48.74 519.63 L49.2 520.13 L49.65 520.28 L50.1 520.62 L50.56 520.71 L51.01 521.17 L51.46 520.95 L51.92 521.24 L52.37 521.27 L52.82 521.36 L53.28 521.26 L53.73 521.67 L54.18 521.37 L54.64 521.7 L55.09 521.74 L55.54 521.74 L56 521.44 L56.45 521.8 L56.9 521.57 L57.36 521.72 L57.81 521.59 L58.27 521.93 L58.72 521.51 L59.17 521.53 L59.63 521.55 L60.08 521.2 L60.53 521.22 L60.99 521.07 L61.44 520.87 L61.89 520.41 L62.35 520.27 L62.8 519.73 L63.25 519.03 L63.71 518.29 L64.16 518.01 L64.61 518.13 L65.07 518.3 L65.52 518.59 L65.97 518.98 L66.43 519.83 L66.88 520.32 L67.33 520.68 L67.79 521.01 L68.24 521.06 L68.69 521.11 L69.15 521.03 L69.6 521.01 L70.05 520.61 L70.51 520 L70.96 519.59 L71.41 519.36 L71.87 518.52 L72.32 518.23 L72.77 517.74 L73.23 517.9 L73.68 517.25 L74.13 517.26 L74.59 516.91 L75.04 516.44 L75.49 516.29 L75.95 515.73 L76.4 514.97 L76.85 513.66 L77.31 511.82 L77.76 509.11 L78.21 505.35 L78.67 501.29 L79.12 496.39 L79.57 491.95 L80.03 489.04 L80.48 488.26 L80.93 490.27 L81.39 494.2 L81.84 499.41 L82.3 504.35 L82.75 508.52 L83.2 512.42 L83.66 514.94 L84.11 516.8 L84.56 518.11 L85.02 519.22 L85.47 519.74 L85.92 520.2 L86.38 520.89 L86.83 520.79 L87.28 520.8 L87.74 520.79 L88.19 521 L88.64 521.05 L89.1 521.14 L89.55 520.95 L90 521.39 L90.46 521.25 L90.91 521.8 L91.36 521.47 L91.82 521.68 L92.27 521.63 L92.72 521.49 L93.18 521.66 L93.63 521.59 L94.08 521.62 L94.54 521.69 L94.99 521.42 L95.44 521.94 L95.9 521.83 L96.35 521.73 L96.8 521.98 L97.26 521.63 L97.71 521.41 L98.16 521.84 L98.62 521.68 L99.07 521.81 L99.52 521.74 L99.98 521.8 L100.43 521.69 L100.88 521.84 L101.34 521.97 L101.79 521.92 L102.24 522.13 L102.7 521.96 L103.15 521.94 L103.6 521.91 L104.06 521.97 L104.51 521.86 L104.97 521.69 L105.42 521.73 L105.87 521.62 L106.33 521.86 L106.78 521.92 L107.23 521.98 L107.69 522.08 L108.14 521.84 L108.59 521.59 L109.05 521.81 L109.5 521.91 L109.95 521.63 L110.41 521.73 L110.86 521.76 L111.31 522.23 L111.77 522.09 L112.22 521.82 L112.67 521.86 L113.13 521.95 L113.58 521.97 L114.03 521.97 L114.49 521.76 L114.94 521.79 L115.39 522.15 L115.85 521.94 L116.3 522.1" fill="none" stroke="#86a8f4" stroke-width="1.5" stroke-linejoin="round"/>
<path d="M120.3 522.73 L120.75 522.99 L121.21 522.97 L121.66 522.16 L122.11 520.96 L122.56 519.27 L123.02 517.73 L123.47 516.5 L123.92 514.7 L124.38 513.75 L124.83 512.54 L125.28 511.88 L125.73 511.38 L126.19 511.15 L126.64 510.87 L127.09 510.75 L127.55 510.61 L128 510.49 L128.45 510.58 L128.91 510.86 L129.36 511.03 L129.81 511.57 L130.26 512.05 L130.72 512.38 L131.17 513.31 L131.62 513.63 L132.08 514.24 L132.53 514.59 L132.98 514.75 L133.43 515.42 L133.89 515.74 L134.34 515.86 L134.79 516.46 L135.25 516.79 L135.7 517.46 L136.15 517.79 L136.6 517.74 L137.06 518.34 L137.51 518.82 L137.96 519 L138.42 519.17 L138.87 519.78 L139.32 519.58 L139.78 520.34 L140.23 520.52 L140.68 520.58 L141.13 520.93 L141.59 520.58 L142.04 520.9 L142.49 521.13 L142.95 521.12 L143.4 521.24 L143.85 521.34 L144.3 521.32 L144.76 521.57 L145.21 521.72 L145.66 521.59 L146.12 521.43 L146.57 521.46 L147.02 521.53 L147.47 521.64 L147.93 521.66 L148.38 521.46 L148.83 521.9 L149.29 521.42 L149.74 521.67 L150.19 521.73 L150.64 521.68 L151.1 521.67 L151.55 521.52 L152 521.8 L152.46 521.7 L152.91 521.53 L153.36 521.71 L153.82 521.8 L154.27 521.6 L154.72 521.74 L155.17 521.55 L155.63 522.09 L156.08 521.56 L156.53 521.85 L156.99 521.94 L157.44 521.8 L157.89 521.79 L158.34 521.82 L158.8 521.59 L159.25 521.71 L159.7 521.69 L160.16 521.97 L160.61 521.61 L161.06 521.71 L161.51 521.45 L161.97 521.24 L162.42 521.27 L162.87 520.89 L163.33 520.26 L163.78 519.62 L164.23 518.89 L164.68 518 L165.14 517.08 L165.59 516.71 L166.04 515.96 L166.5 515.54 L166.95 515.58 L167.4 515.79 L167.86 516.25 L168.31 516.34 L168.76 516.29 L169.21 516.24 L169.67 516.66 L170.12 516.84 L170.57 517.25 L171.03 517.68 L171.48 518.06 L171.93 518.18 L172.38 518.49 L172.84 518.97 L173.29 518.99 L173.74 519.57 L174.2 519.79 L174.65 520.14 L175.1 520.11 L175.55 520.59 L176.01 520.79 L176.46 520.6 L176.91 520.9 L177.37 520.75 L177.82 521.25 L178.27 521.61 L178.72 521.4 L179.18 521.4 L179.63 521.35 L180.08 521.6 L180.54 521.62 L180.99 521.54 L181.44 521.41 L181.9 521.58 L182.35 521.64 L182.8 521.81 L183.25 521.78 L183.71 521.78 L184.16 521.77 L184.61 521.8 L185.07 521.71 L185.52 521.44 L185.97 521.61 L186.42 521.82 L186.88 521.71 L187.33 521.65 L187.78 521.79 L188.24 521.69 L188.69 521.7 L189.14 521.74 L189.59 521.81 L190.05 521.78 L190.5 521.6 L190.95 521.61 L191.41 521.46 L191.86 521.64 L192.31 521.55 L192.77 521.63 L193.22 521.87 L193.67 521.62 L194.12 521.8 L194.58 521.66 L195.03 521.74 L195.48 521.58 L195.94 521.61 L196.39 521.83 L196.84 521.75 L197.29 521.86 L197.75 521.77 L198.2 521.32" fill="none" stroke="#86a8f4" stroke-width="1.5" stroke-linejoin="round"/>
<path d="M22.9 541.36 L23.35 541.4 L23.81 541.35 L24.26 541.44 L24.71 541.11 L25.17 541.13 L25.62 541.08 L26.07 541.09 L26.53 541.39 L26.98 541.26 L27.43 541.07 L27.89 541.08 L28.34 541.38 L28.79 541.02 L29.25 541.11 L29.7 541.26 L30.15 541.36 L30.61 541.36 L31.06 541.08 L31.51 540.96 L31.97 540.98 L32.42 541.19 L32.87 541.15 L33.33 541.29 L33.78 541.22 L34.23 541.24 L34.69 540.9 L35.14 540.87 L35.6 541.01 L36.05 541.04 L36.5 540.82 L36.96 541.09 L37.41 540.59 L37.86 540.76 L38.32 540.55 L38.77 540.63 L39.22 540.47 L39.68 540.06 L40.13 539.74 L40.58 539.24 L41.04 538.02 L41.49 536.77 L41.94 535.18 L42.4 533.49 L42.85 531.6 L43.3 530.02 L43.76 529.71 L44.21 529.75 L44.66 530.74 L45.12 532.73 L45.57 534.07 L46.02 535.76 L46.48 536.97 L46.93 537.49 L47.38 538.05 L47.84 538.8 L48.29 538.67 L48.74 538.98 L49.2 539.25 L49.65 539.47 L50.1 539.98 L50.56 539.97 L51.01 539.91 L51.46 540.58 L51.92 540.61 L52.37 540.62 L52.82 541.02 L53.28 540.96 L53.73 541 L54.18 540.84 L54.64 540.96 L55.09 541.22 L55.54 541.1 L56 540.97 L56.45 540.8 L56.9 541.08 L57.36 541.03 L57.81 541.15 L58.27 541.09 L58.72 541.1 L59.17 540.95 L59.63 540.97 L60.08 540.79 L60.53 540.83 L60.99 540.73 L61.44 540.56 L61.89 540.17 L62.35 540.07 L62.8 539.65 L63.25 539.16 L63.71 538.99 L64.16 538.85 L64.61 538.61 L65.07 539.04 L65.52 539.12 L65.97 539.56 L66.43 539.85 L66.88 539.83 L67.33 540.11 L67.79 540.69 L68.24 540.69 L68.69 540.67 L69.15 540.68 L69.6 540.36 L70.05 539.93 L70.51 539.27 L70.96 539.11 L71.41 538.08 L71.87 538.1 L72.32 537.44 L72.77 537.26 L73.23 536.79 L73.68 536.5 L74.13 536.37 L74.59 535.76 L75.04 535.19 L75.49 534.94 L75.95 533.98 L76.4 533.14 L76.85 531.44 L77.31 529.19 L77.76 525.69 L78.21 521.61 L78.67 516.46 L79.12 511.73 L79.57 507.43 L80.03 505.34 L80.48 506.08 L80.93 509.06 L81.39 513.96 L81.84 519.1 L82.3 524.25 L82.75 529 L83.2 531.92 L83.66 534.7 L84.11 536.61 L84.56 537.9 L85.02 538.48 L85.47 539.1 L85.92 539.55 L86.38 539.93 L86.83 539.95 L87.28 540.06 L87.74 540.42 L88.19 540.49 L88.64 540.36 L89.1 540.57 L89.55 540.57 L90 540.66 L90.46 540.45 L90.91 540.78 L91.36 540.78 L91.82 540.64 L92.27 540.85 L92.72 540.75 L93.18 540.82 L93.63 540.89 L94.08 541.28 L94.54 541.15 L94.99 540.84 L95.44 541.2 L95.9 540.99 L96.35 541.25 L96.8 541.17 L97.26 541.27 L97.71 541.24 L98.16 541.03 L98.62 541.02 L99.07 541.15 L99.52 541.17 L99.98 541.31 L100.43 541.51 L100.88 541.19 L101.34 541.46 L101.79 541.25 L102.24 541.26 L102.7 541.03 L103.15 541.2 L103.6 541.28 L104.06 541.16 L104.51 541.08 L104.97 541.2 L105.42 541.37 L105.87 541.34 L106.33 541.11 L106.78 541.35 L107.23 541.18 L107.69 541.15 L108.14 541.43 L108.59 541.29 L109.05 541.25 L109.5 541.22 L109.95 540.76 L110.41 541.37 L110.86 541.45 L111.31 540.84 L111.77 540.84 L112.22 541.16 L112.67 541.39 L113.13 541.29 L113.58 541.32 L114.03 541.12 L114.49 541.09 L114.94 541.3 L115.39 541.04 L115.85 541.43 L116.3 541.35" fill="none" stroke="#5a86ee" stroke-width="1.5" stroke-linejoin="round"/>
<path d="M120.3 542.71 L120.75 542.89 L121.21 543.07 L121.66 542.74 L122.11 541.64 L122.56 540.45 L123.02 539.57 L123.47 539.08 L123.92 538.33 L124.38 537.48 L124.83 536.93 L125.28 536.69 L125.73 536.09 L126.19 535.96 L126.64 535.71 L127.09 535.87 L127.55 535.8 L128 535.88 L128.45 535.59 L128.91 535.95 L129.36 536.04 L129.81 536.24 L130.26 536.58 L130.72 536.99 L131.17 536.86 L131.62 537.46 L132.08 537.64 L132.53 537.92 L132.98 538.34 L133.43 538.13 L133.89 538.53 L134.34 538.7 L134.79 538.94 L135.25 539.25 L135.7 539.43 L136.15 539.53 L136.6 539.84 L137.06 540.03 L137.51 540.16 L137.96 540.21 L138.42 540.6 L138.87 540.6 L139.32 540.7 L139.78 540.8 L140.23 540.92 L140.68 541.39 L141.13 541.3 L141.59 541.27 L142.04 541.31 L142.49 541.44 L142.95 541.5 L143.4 541.63 L143.85 541.34 L144.3 541.54 L144.76 541.54 L145.21 541.68 L145.66 541.5 L146.12 541.6 L146.57 541.43 L147.02 542 L147.47 541.65 L147.93 541.67 L148.38 542.07 L148.83 541.58 L149.29 541.37 L149.74 541.96 L150.19 541.96 L150.64 541.9 L151.1 541.84 L151.55 541.96 L152 541.53 L152.46 541.36 L152.91 541.63 L153.36 541.91 L153.82 541.77 L154.27 541.67 L154.72 541.78 L155.17 541.88 L155.63 541.73 L156.08 541.74 L156.53 541.84 L156.99 541.71 L157.44 541.6 L157.89 541.56 L158.34 541.67 L158.8 541.68 L159.25 541.85 L159.7 541.8 L160.16 541.68 L160.61 541.65 L161.06 541.77 L161.51 541.54 L161.97 541.45 L162.42 540.96 L162.87 540.71 L163.33 540.07 L163.78 539.27 L164.23 538.33 L164.68 537.74 L165.14 536.98 L165.59 536.24 L166.04 535.54 L166.5 535.23 L166.95 535.04 L167.4 535.3 L167.86 535.28 L168.31 535.46 L168.76 535.61 L169.21 535.95 L169.67 536.25 L170.12 536.39 L170.57 536.98 L171.03 537.29 L171.48 537.81 L171.93 538.13 L172.38 538.35 L172.84 538.88 L173.29 538.93 L173.74 539.02 L174.2 539.61 L174.65 539.83 L175.1 539.97 L175.55 540.15 L176.01 540.79 L176.46 540.59 L176.91 540.84 L177.37 540.99 L177.82 541.23 L178.27 541.34 L178.72 541.54 L179.18 541.17 L179.63 541.42 L180.08 541.38 L180.54 541.61 L180.99 541.49 L181.44 541.58 L181.9 541.84 L182.35 541.6 L182.8 541.61 L183.25 541.84 L183.71 541.88 L184.16 541.38 L184.61 541.59 L185.07 541.4 L185.52 541.74 L185.97 541.56 L186.42 541.55 L186.88 541.78 L187.33 541.89 L187.78 541.76 L188.24 541.45 L188.69 541.61 L189.14 541.48 L189.59 542.05 L190.05 541.69 L190.5 541.5 L190.95 541.75 L191.41 542.05 L191.86 541.61 L192.31 541.51 L192.77 541.73 L193.22 541.79 L193.67 541.81 L194.12 542.02 L194.58 541.48 L195.03 541.78 L195.48 541.6 L195.94 541.44 L196.39 541.68 L196.84 541.8 L197.29 541.78 L197.75 541.68 L198.2 541.85" fill="none" stroke="#5a86ee" stroke-width="1.5" stroke-linejoin="round"/>
<path d="M22.9 554.82 L23.35 554.64 L23.81 554.61 L24.26 554.41 L24.71 554.67 L25.17 554.71 L25.62 554.59 L26.07 554.6 L26.53 554.41 L26.98 554.85 L27.43 554.69 L27.89 554.58 L28.34 554.73 L28.79 554.68 L29.25 554.64 L29.7 554.59 L30.15 554.63 L30.61 554.68 L31.06 554.74 L31.51 554.73 L31.97 554.66 L32.42 554.73 L32.87 554.56 L33.33 554.33 L33.78 554.34 L34.23 554.69 L34.69 554.29 L35.14 554.4 L35.6 554.51 L36.05 554.63 L36.5 554.15 L36.96 554.26 L37.41 554.28 L37.86 554.25 L38.32 554.3 L38.77 554.35 L39.22 554.2 L39.68 554.36 L40.13 553.9 L40.58 553.03 L41.04 552.41 L41.49 551.79 L41.94 550.77 L42.4 549.82 L42.85 548.57 L43.3 547.63 L43.76 547.03 L44.21 547.27 L44.66 547.96 L45.12 548.83 L45.57 549.94 L46.02 550.5 L46.48 551.54 L46.93 551.98 L47.38 552.68 L47.84 552.48 L48.29 552.44 L48.74 552.75 L49.2 552.99 L49.65 553.08 L50.1 553.19 L50.56 553.51 L51.01 553.53 L51.46 554.08 L51.92 553.82 L52.37 554.26 L52.82 554.42 L53.28 554.41 L53.73 554.61 L54.18 554.5 L54.64 554.6 L55.09 554.36 L55.54 554.31 L56 554.43 L56.45 554.53 L56.9 554.66 L57.36 554.32 L57.81 554.4 L58.27 554.38 L58.72 554.61 L59.17 554.38 L59.63 554.62 L60.08 554.37 L60.53 554.26 L60.99 554.2 L61.44 553.96 L61.89 553.69 L62.35 553.84 L62.8 553.63 L63.25 553.86 L63.71 553.42 L64.16 553.35 L64.61 553.2 L65.07 553.21 L65.52 553.17 L65.97 553.4 L66.43 554.03 L66.88 553.96 L67.33 554.17 L67.79 554.53 L68.24 554.49 L68.69 554.48 L69.15 554.69 L69.6 554.17 L70.05 553.67 L70.51 553.24 L70.96 552.74 L71.41 552.47 L71.87 552.1 L72.32 551.56 L72.77 551.29 L73.23 550.8 L73.68 550.74 L74.13 550.65 L74.59 550.17 L75.04 550.03 L75.49 549.58 L75.95 549.07 L76.4 548.34 L76.85 546.86 L77.31 545.36 L77.76 542.97 L78.21 540 L78.67 536.43 L79.12 533.16 L79.57 531.1 L80.03 530.53 L80.48 531.74 L80.93 534.47 L81.39 538 L81.84 541.51 L82.3 544.87 L82.75 547.21 L83.2 549.51 L83.66 551 L84.11 551.84 L84.56 553.17 L85.02 553.1 L85.47 553.4 L85.92 553.39 L86.38 553.76 L86.83 553.88 L87.28 554.11 L87.74 553.95 L88.19 554.26 L88.64 553.95 L89.1 554.2 L89.55 553.97 L90 554.28 L90.46 554.43 L90.91 554.11 L91.36 554.48 L91.82 554.47 L92.27 554.18 L92.72 554.29 L93.18 554.37 L93.63 554.55 L94.08 554.69 L94.54 554.39 L94.99 554.36 L95.44 554.46 L95.9 554.12 L96.35 554.6 L96.8 554.52 L97.26 554.51 L97.71 554.76 L98.16 554.52 L98.62 554.46 L99.07 554.73 L99.52 554.51 L99.98 554.59 L100.43 554.55 L100.88 554.59 L101.34 554.63 L101.79 554.65 L102.24 554.43 L102.7 554.81 L103.15 554.56 L103.6 554.56 L104.06 554.75 L104.51 554.55 L104.97 554.7 L105.42 554.8 L105.87 554.77 L106.33 554.57 L106.78 554.79 L107.23 554.61 L107.69 554.52 L108.14 554.52 L108.59 554.69 L109.05 554.55 L109.5 554.85 L109.95 554.77 L110.41 554.74 L110.86 554.82 L111.31 554.8 L111.77 554.54 L112.22 555.03 L112.67 554.44 L113.13 554.68 L113.58 554.38 L114.03 554.62 L114.49 554.6 L114.94 554.46 L115.39 554.74 L115.85 554.68 L116.3 554.67" fill="none" stroke="#4470e6" stroke-width="1.5" stroke-linejoin="round"/>
<path d="M120.3 556.38 L120.75 556.75 L121.21 556.63 L121.66 556.3 L122.11 555.7 L122.56 554.7 L123.02 554.32 L123.47 553.5 L123.92 553.19 L124.38 552.59 L124.83 552.52 L125.28 552.42 L125.73 552.31 L126.19 552.12 L126.64 551.66 L127.09 551.88 L127.55 551.94 L128 552.08 L128.45 551.92 L128.91 552.1 L129.36 552.11 L129.81 552.11 L130.26 552.58 L130.72 552.64 L131.17 552.69 L131.62 552.93 L132.08 553.24 L132.53 553.11 L132.98 553.05 L133.43 553.45 L133.89 553.12 L134.34 553.57 L134.79 553.84 L135.25 553.85 L135.7 553.93 L136.15 553.87 L136.6 553.95 L137.06 554.23 L137.51 554.11 L137.96 554.69 L138.42 554.48 L138.87 554.77 L139.32 554.85 L139.78 554.74 L140.23 554.96 L140.68 554.91 L141.13 554.93 L141.59 554.91 L142.04 554.9 L142.49 555.06 L142.95 555 L143.4 554.82 L143.85 555.1 L144.3 555.06 L144.76 554.84 L145.21 555.17 L145.66 554.95 L146.12 554.94 L146.57 555.21 L147.02 554.74 L147.47 555.53 L147.93 554.95 L148.38 555.48 L148.83 554.88 L149.29 555.05 L149.74 554.87 L150.19 554.97 L150.64 555.02 L151.1 555.18 L151.55 554.97 L152 555.23 L152.46 555.01 L152.91 555.39 L153.36 555.14 L153.82 555.09 L154.27 555.1 L154.72 555.21 L155.17 554.86 L155.63 555.22 L156.08 554.98 L156.53 555.15 L156.99 555.19 L157.44 554.88 L157.89 555.05 L158.34 554.99 L158.8 555.06 L159.25 555.34 L159.7 555.41 L160.16 555.43 L160.61 555.05 L161.06 554.95 L161.51 554.92 L161.97 554.84 L162.42 554.8 L162.87 554.49 L163.33 553.78 L163.78 553.72 L164.23 553.1 L164.68 552.16 L165.14 551.52 L165.59 551.12 L166.04 550.56 L166.5 550.48 L166.95 550.5 L167.4 550.86 L167.86 550.79 L168.31 550.51 L168.76 551.02 L169.21 550.96 L169.67 551.37 L170.12 551.73 L170.57 551.92 L171.03 551.96 L171.48 552.47 L171.93 552.52 L172.38 552.83 L172.84 553.16 L173.29 553.32 L173.74 553.6 L174.2 553.52 L174.65 553.75 L175.1 553.91 L175.55 554.23 L176.01 554.28 L176.46 554.43 L176.91 554.73 L177.37 554.56 L177.82 554.63 L178.27 554.73 L178.72 554.81 L179.18 555.05 L179.63 554.99 L180.08 554.7 L180.54 554.86 L180.99 554.68 L181.44 555.11 L181.9 555.1 L182.35 554.67 L182.8 555.04 L183.25 554.93 L183.71 554.94 L184.16 554.92 L184.61 555.09 L185.07 555.19 L185.52 555.01 L185.97 555.27 L186.42 555.23 L186.88 555.14 L187.33 555.31 L187.78 555.38 L188.24 554.91 L188.69 555.16 L189.14 555.21 L189.59 555.23 L190.05 555.38 L190.5 555.03 L190.95 555.18 L191.41 555.05 L191.86 555.27 L192.31 554.89 L192.77 555 L193.22 555.2 L193.67 555.21 L194.12 555.03 L194.58 555.08 L195.03 555.31 L195.48 554.94 L195.94 555.1 L196.39 554.89 L196.84 555.21 L197.29 555.07 L197.75 554.94 L198.2 555.21" fill="none" stroke="#4470e6" stroke-width="1.5" stroke-linejoin="round"/>
<path d="M22.9 568.75 L23.35 568.38 L23.81 568.44 L24.26 568.34 L24.71 568.33 L25.17 568.65 L25.62 568.45 L26.07 568.42 L26.53 568.6 L26.98 568.71 L27.43 568.6 L27.89 568.58 L28.34 568.32 L28.79 568.61 L29.25 568.55 L29.7 568.26 L30.15 568.31 L30.61 568.49 L31.06 568.25 L31.51 568.25 L31.97 568.24 L32.42 568.47 L32.87 568.26 L33.33 568.33 L33.78 568.43 L34.23 568.51 L34.69 568.49 L35.14 568.43 L35.6 568.38 L36.05 568 L36.5 568.24 L36.96 568.36 L37.41 568.29 L37.86 568.06 L38.32 568.16 L38.77 567.97 L39.22 567.86 L39.68 567.6 L40.13 567.2 L40.58 566.63 L41.04 565.99 L41.49 565.23 L41.94 564.58 L42.4 562.59 L42.85 561.6 L43.3 560.62 L43.76 560.07 L44.21 560.17 L44.66 561 L45.12 562.11 L45.57 563.12 L46.02 564.11 L46.48 564.94 L46.93 565.52 L47.38 565.95 L47.84 566.09 L48.29 566.59 L48.74 566.68 L49.2 566.73 L49.65 566.75 L50.1 566.97 L50.56 567.28 L51.01 567.49 L51.46 567.55 L51.92 567.95 L52.37 567.76 L52.82 568.25 L53.28 567.88 L53.73 568.28 L54.18 568.07 L54.64 568.01 L55.09 568.24 L55.54 568.25 L56 568.27 L56.45 568.38 L56.9 568.24 L57.36 568.13 L57.81 568.3 L58.27 568.44 L58.72 568.37 L59.17 568.01 L59.63 568.07 L60.08 568.08 L60.53 568.03 L60.99 567.68 L61.44 567.75 L61.89 567.54 L62.35 567.29 L62.8 567.48 L63.25 566.99 L63.71 566.74 L64.16 566.62 L64.61 566.43 L65.07 566.65 L65.52 566.87 L65.97 567.1 L66.43 567.34 L66.88 567.71 L67.33 567.87 L67.79 567.98 L68.24 568.16 L68.69 568.18 L69.15 567.86 L69.6 567.66 L70.05 567.14 L70.51 566.74 L70.96 566.31 L71.41 565.93 L71.87 565.58 L72.32 565.02 L72.77 564.38 L73.23 564.13 L73.68 563.55 L74.13 563.53 L74.59 563.25 L75.04 563.13 L75.49 562.79 L75.95 562.35 L76.4 561.38 L76.85 559.86 L77.31 558.19 L77.76 556.17 L78.21 553.07 L78.67 549.99 L79.12 547.11 L79.57 544.88 L80.03 545 L80.48 546.65 L80.93 549.41 L81.39 552.98 L81.84 556.6 L82.3 559.5 L82.75 561.94 L83.2 563.73 L83.66 565.12 L84.11 566.06 L84.56 566.62 L85.02 566.86 L85.47 567.16 L85.92 567.23 L86.38 567.74 L86.83 567.71 L87.28 567.98 L87.74 568.04 L88.19 567.78 L88.64 567.99 L89.1 568.13 L89.55 567.81 L90 568.16 L90.46 568.16 L90.91 568.11 L91.36 568.3 L91.82 568.06 L92.27 568.29 L92.72 568.47 L93.18 568.23 L93.63 568.48 L94.08 568.24 L94.54 568.32 L94.99 568.51 L95.44 568.43 L95.9 568.5 L96.35 568.56 L96.8 568.62 L97.26 568.25 L97.71 568.67 L98.16 568.39 L98.62 568.48 L99.07 568.39 L99.52 568.67 L99.98 568.51 L100.43 568.18 L100.88 568.33 L101.34 568.37 L101.79 568.41 L102.24 568.45 L102.7 568.49 L103.15 568.39 L103.6 568.42 L104.06 568.42 L104.51 568.38 L104.97 568.63 L105.42 568.46 L105.87 568.49 L106.33 568.53 L106.78 568.36 L107.23 568.67 L107.69 568.45 L108.14 568.63 L108.59 568.43 L109.05 568.6 L109.5 568.48 L109.95 568.36 L110.41 568.38 L110.86 568.24 L111.31 568.58 L111.77 568.3 L112.22 568.22 L112.67 568.63 L113.13 568.4 L113.58 568.53 L114.03 568.45 L114.49 568.24 L114.94 568.44 L115.39 568.62 L115.85 568.39 L116.3 568.17" fill="none" stroke="#3050cc" stroke-width="1.5" stroke-linejoin="round"/>
<path d="M120.3 569.5 L120.75 570.04 L121.21 570.07 L121.66 569.77 L122.11 569.01 L122.56 568.42 L123.02 567.76 L123.47 567.22 L123.92 566.96 L124.38 566.56 L124.83 566.52 L125.28 566.25 L125.73 566.36 L126.19 565.95 L126.64 565.96 L127.09 565.8 L127.55 565.89 L128 565.95 L128.45 565.85 L128.91 565.97 L129.36 565.89 L129.81 566.18 L130.26 566.06 L130.72 566.56 L131.17 566.48 L131.62 566.49 L132.08 566.42 L132.53 566.74 L132.98 567.22 L133.43 567.05 L133.89 566.91 L134.34 567.09 L134.79 566.99 L135.25 567.53 L135.7 567.28 L136.15 567.5 L136.6 567.71 L137.06 567.68 L137.51 567.46 L137.96 567.94 L138.42 568.08 L138.87 567.79 L139.32 568.12 L139.78 568.06 L140.23 568.1 L140.68 568.07 L141.13 568.68 L141.59 568.3 L142.04 568.12 L142.49 568.53 L142.95 568.29 L143.4 568.52 L143.85 568.36 L144.3 568.13 L144.76 568.47 L145.21 568.36 L145.66 568.8 L146.12 568.62 L146.57 568.29 L147.02 568.44 L147.47 568.38 L147.93 568.15 L148.38 568.46 L148.83 568.29 L149.29 568.28 L149.74 568.56 L150.19 568.48 L150.64 568.31 L151.1 568.64 L151.55 568.47 L152 568.91 L152.46 568.19 L152.91 568.49 L153.36 568.35 L153.82 568.36 L154.27 568.47 L154.72 568.58 L155.17 568.26 L155.63 568.56 L156.08 568.63 L156.53 568.51 L156.99 568.41 L157.44 568.5 L157.89 568.31 L158.34 568.57 L158.8 568.62 L159.25 568.55 L159.7 568.45 L160.16 568.04 L160.61 568.53 L161.06 568.36 L161.51 568.62 L161.97 567.97 L162.42 568.3 L162.87 568.11 L163.33 567.48 L163.78 567.28 L164.23 567.05 L164.68 566.07 L165.14 565.95 L165.59 565.18 L166.04 564.79 L166.5 564.61 L166.95 564.97 L167.4 565.14 L167.86 564.87 L168.31 565.05 L168.76 565.01 L169.21 565.26 L169.67 565.66 L170.12 565.28 L170.57 565.86 L171.03 565.59 L171.48 566.17 L171.93 566.73 L172.38 566.61 L172.84 566.71 L173.29 567.21 L173.74 566.97 L174.2 567.2 L174.65 567.23 L175.1 567.7 L175.55 567.83 L176.01 567.75 L176.46 567.92 L176.91 567.87 L177.37 568.04 L177.82 568.04 L178.27 568.21 L178.72 568.22 L179.18 568.1 L179.63 568.54 L180.08 568.51 L180.54 568.64 L180.99 568.27 L181.44 568.5 L181.9 568.45 L182.35 568.72 L182.8 568.55 L183.25 568.6 L183.71 568.63 L184.16 568.58 L184.61 568.66 L185.07 568.57 L185.52 568.42 L185.97 568.5 L186.42 568.62 L186.88 568.58 L187.33 568.66 L187.78 568.42 L188.24 568.42 L188.69 568.44 L189.14 568.51 L189.59 568.44 L190.05 568.7 L190.5 568.47 L190.95 568.24 L191.41 568.66 L191.86 568.55 L192.31 568.63 L192.77 568.6 L193.22 568.21 L193.67 568.47 L194.12 568.59 L194.58 568.45 L195.03 568.34 L195.48 568.85 L195.94 568.24 L196.39 568.72 L196.84 568.49 L197.29 568.74 L197.75 568.47 L198.2 568.53" fill="none" stroke="#3050cc" stroke-width="1.5" stroke-linejoin="round"/>
<path d="M22.9 583.35 L23.35 583.15 L23.81 583.34 L24.26 582.88 L24.71 583.14 L25.17 583.47 L25.62 583.19 L26.07 583.31 L26.53 583.08 L26.98 583.43 L27.43 583.35 L27.89 583.39 L28.34 583.16 L28.79 583.28 L29.25 583.07 L29.7 583.26 L30.15 582.89 L30.61 583.26 L31.06 583.27 L31.51 583.12 L31.97 583.37 L32.42 583.14 L32.87 583.41 L33.33 583.06 L33.78 583.01 L34.23 583.08 L34.69 583.59 L35.14 582.82 L35.6 582.99 L36.05 582.96 L36.5 583.1 L36.96 582.72 L37.41 583.2 L37.86 582.56 L38.32 583.01 L38.77 582.62 L39.22 582.35 L39.68 582.37 L40.13 581.63 L40.58 581.31 L41.04 580.3 L41.49 579.2 L41.94 577.82 L42.4 576.41 L42.85 575.09 L43.3 573.48 L43.76 573.14 L44.21 573.11 L44.66 574.32 L45.12 575.69 L45.57 576.96 L46.02 578.34 L46.48 579.26 L46.93 579.99 L47.38 580.18 L47.84 580.83 L48.29 581.32 L48.74 580.98 L49.2 581.45 L49.65 581.66 L50.1 581.89 L50.56 582.12 L51.01 582.34 L51.46 582.33 L51.92 582.55 L52.37 582.54 L52.82 582.55 L53.28 582.73 L53.73 582.91 L54.18 582.94 L54.64 582.92 L55.09 582.93 L55.54 583.17 L56 583.04 L56.45 583.08 L56.9 583.4 L57.36 583 L57.81 583.08 L58.27 583.14 L58.72 582.7 L59.17 582.92 L59.63 582.98 L60.08 583.03 L60.53 582.77 L60.99 582.78 L61.44 582.69 L61.89 582.54 L62.35 582.16 L62.8 582.06 L63.25 581.76 L63.71 581.23 L64.16 580.7 L64.61 581.17 L65.07 581.41 L65.52 581.38 L65.97 581.97 L66.43 581.72 L66.88 582.22 L67.33 582.52 L67.79 582.41 L68.24 582.58 L68.69 582.51 L69.15 582.36 L69.6 582.02 L70.05 581.28 L70.51 580.43 L70.96 580.2 L71.41 579.38 L71.87 578.85 L72.32 577.86 L72.77 577.57 L73.23 576.88 L73.68 576.61 L74.13 576.44 L74.59 576.04 L75.04 575.75 L75.49 574.86 L75.95 574.41 L76.4 572.95 L76.85 571.25 L77.31 568.82 L77.76 565.76 L78.21 562.35 L78.67 558.72 L79.12 556.56 L79.57 555.69 L80.03 556.92 L80.48 559.84 L80.93 563.74 L81.39 568.3 L81.84 571.66 L82.3 574.66 L82.75 577.23 L83.2 578.73 L83.66 579.9 L84.11 580.91 L84.56 581.37 L85.02 581.77 L85.47 582.07 L85.92 582.08 L86.38 582.25 L86.83 582.48 L87.28 582.49 L87.74 582.59 L88.19 582.78 L88.64 582.76 L89.1 582.95 L89.55 582.68 L90 582.86 L90.46 582.84 L90.91 582.7 L91.36 583.03 L91.82 582.98 L92.27 582.84 L92.72 583.15 L93.18 583.11 L93.63 583.36 L94.08 582.97 L94.54 582.98 L94.99 583 L95.44 582.95 L95.9 583 L96.35 582.84 L96.8 583.2 L97.26 583.08 L97.71 583.12 L98.16 583.13 L98.62 582.93 L99.07 583.32 L99.52 583.28 L99.98 583.4 L100.43 583.16 L100.88 583.11 L101.34 583.04 L101.79 582.81 L102.24 583.4 L102.7 583.17 L103.15 583.37 L103.6 583.36 L104.06 583.32 L104.51 583.1 L104.97 583.03 L105.42 583.34 L105.87 583.21 L106.33 583.27 L106.78 583.37 L107.23 583.06 L107.69 583.52 L108.14 583.28 L108.59 583.4 L109.05 583.39 L109.5 583.24 L109.95 583.09 L110.41 583.29 L110.86 583.19 L111.31 583.37 L111.77 583.26 L112.22 583.23 L112.67 583.5 L113.13 583.36 L113.58 583.23 L114.03 583.1 L114.49 583.09 L114.94 583.28 L115.39 583.25 L115.85 583.42 L116.3 583.14" fill="none" stroke="#2a3fb0" stroke-width="1.5" stroke-linejoin="round"/>
<path d="M120.3 584.33 L120.75 585.11 L121.21 584.98 L121.66 584.79 L122.11 584.23 L122.56 583.37 L123.02 583.04 L123.47 582.38 L123.92 582.24 L124.38 581.88 L124.83 581.55 L125.28 581.75 L125.73 581.22 L126.19 581.1 L126.64 581.27 L127.09 581.07 L127.55 581.08 L128 581.05 L128.45 581 L128.91 581.29 L129.36 581.13 L129.81 581.38 L130.26 581.54 L130.72 581.62 L131.17 581.68 L131.62 581.61 L132.08 581.73 L132.53 581.75 L132.98 581.85 L133.43 581.63 L133.89 582.04 L134.34 582.24 L134.79 582.12 L135.25 582.48 L135.7 582.96 L136.15 582.61 L136.6 582.67 L137.06 582.84 L137.51 582.95 L137.96 582.89 L138.42 582.95 L138.87 582.97 L139.32 582.87 L139.78 583.16 L140.23 583.34 L140.68 583.21 L141.13 583.05 L141.59 583.44 L142.04 583.28 L142.49 583.37 L142.95 583.34 L143.4 583.51 L143.85 583.44 L144.3 583.23 L144.76 583.61 L145.21 583.56 L145.66 583.51 L146.12 583.19 L146.57 583.45 L147.02 583.29 L147.47 583.12 L147.93 583.53 L148.38 583.38 L148.83 583.52 L149.29 583.45 L149.74 583.64 L150.19 583.4 L150.64 583.56 L151.1 583.29 L151.55 583.71 L152 583.54 L152.46 583.56 L152.91 583.51 L153.36 583.59 L153.82 583.78 L154.27 583.47 L154.72 583.5 L155.17 583.49 L155.63 583.39 L156.08 583.29 L156.53 583.54 L156.99 583.61 L157.44 583.35 L157.89 583.49 L158.34 583.35 L158.8 583.6 L159.25 583.55 L159.7 583.24 L160.16 583.68 L160.61 583.27 L161.06 583.51 L161.51 583.57 L161.97 583.3 L162.42 583.34 L162.87 582.72 L163.33 582.92 L163.78 582.16 L164.23 581.95 L164.68 581.42 L165.14 581.19 L165.59 580.57 L166.04 580.31 L166.5 580.38 L166.95 580.16 L167.4 580.27 L167.86 580.58 L168.31 580.6 L168.76 580.55 L169.21 580.35 L169.67 581 L170.12 581.19 L170.57 581.21 L171.03 581.09 L171.48 581.26 L171.93 581.49 L172.38 581.86 L172.84 581.86 L173.29 582.06 L173.74 582.44 L174.2 582.34 L174.65 582.6 L175.1 582.46 L175.55 582.87 L176.01 583.09 L176.46 583.08 L176.91 583.13 L177.37 583.55 L177.82 583.4 L178.27 583.13 L178.72 583.35 L179.18 583.33 L179.63 583.28 L180.08 583.46 L180.54 583.47 L180.99 583.52 L181.44 583.56 L181.9 583.48 L182.35 583.64 L182.8 583.32 L183.25 583.76 L183.71 583.19 L184.16 583.45 L184.61 583.32 L185.07 583.41 L185.52 583.55 L185.97 583.49 L186.42 583.79 L186.88 583.4 L187.33 583.54 L187.78 583.51 L188.24 583.43 L188.69 583.6 L189.14 583.42 L189.59 583.39 L190.05 583.47 L190.5 583.32 L190.95 583.43 L191.41 583.59 L191.86 583.45 L192.31 583.42 L192.77 583.4 L193.22 583.5 L193.67 583.37 L194.12 583.31 L194.58 583.25 L195.03 583.55 L195.48 583.5 L195.94 583.45 L196.39 583.35 L196.84 583.41 L197.29 583.36 L197.75 583.41 L198.2 583.65" fill="none" stroke="#2a3fb0" stroke-width="1.5" stroke-linejoin="round"/>
<path d="M22.9 598.66 L23.35 598.42 L23.81 599.09 L24.26 598.77 L24.71 598.75 L25.17 598.68 L25.62 598.81 L26.07 598.46 L26.53 598.86 L26.98 599.08 L27.43 598.6 L27.89 598.82 L28.34 598.56 L28.79 598.5 L29.25 598.68 L29.7 598.56 L30.15 598.59 L30.61 598.67 L31.06 598.63 L31.51 598.82 L31.97 598.76 L32.42 598.68 L32.87 598.65 L33.33 598.51 L33.78 598.54 L34.23 598.58 L34.69 598.53 L35.14 598.44 L35.6 598.59 L36.05 598.68 L36.5 598.23 L36.96 598.43 L37.41 598.17 L37.86 598.12 L38.32 598.06 L38.77 598.05 L39.22 597.88 L39.68 597.59 L40.13 597.05 L40.58 596.48 L41.04 595.42 L41.49 593.91 L41.94 592.35 L42.4 590.4 L42.85 588.54 L43.3 586.97 L43.76 586.27 L44.21 586.32 L44.66 587.86 L45.12 589.35 L45.57 591.04 L46.02 592.8 L46.48 593.95 L46.93 594.85 L47.38 595.44 L47.84 596.01 L48.29 596.21 L48.74 596.35 L49.2 596.79 L49.65 596.99 L50.1 597.07 L50.56 597.34 L51.01 597.62 L51.46 597.84 L51.92 598.16 L52.37 598.24 L52.82 598.21 L53.28 598.15 L53.73 598.36 L54.18 598.24 L54.64 598.51 L55.09 598.39 L55.54 598.62 L56 598.29 L56.45 598.59 L56.9 598.57 L57.36 598.43 L57.81 598.74 L58.27 598.44 L58.72 598.41 L59.17 598.42 L59.63 598.26 L60.08 598.41 L60.53 598.14 L60.99 598.21 L61.44 597.98 L61.89 597.48 L62.35 597.33 L62.8 596.82 L63.25 596.44 L63.71 596.05 L64.16 595.81 L64.61 595.84 L65.07 595.78 L65.52 596.07 L65.97 596.54 L66.43 596.8 L66.88 597.12 L67.33 597.48 L67.79 597.67 L68.24 597.22 L68.69 597.2 L69.15 596.9 L69.6 596.1 L70.05 595.45 L70.51 594.27 L70.96 593.69 L71.41 592.5 L71.87 591.76 L72.32 590.86 L72.77 590.19 L73.23 589.61 L73.68 588.62 L74.13 588.2 L74.59 587.7 L75.04 587.16 L75.49 586.29 L75.95 585.27 L76.4 583.47 L76.85 581.18 L77.31 578.45 L77.76 575.01 L78.21 571.84 L78.67 569.68 L79.12 568.83 L79.57 569.97 L80.03 573.53 L80.48 577.57 L80.93 581.79 L81.39 586.21 L81.84 589.13 L82.3 591.94 L82.75 593.89 L83.2 595.14 L83.66 596.19 L84.11 596.63 L84.56 597.19 L85.02 597.04 L85.47 597.68 L85.92 597.65 L86.38 598.07 L86.83 597.96 L87.28 598.03 L87.74 598.28 L88.19 598.39 L88.64 598.37 L89.1 598.12 L89.55 598.41 L90 598.5 L90.46 598.3 L90.91 598.64 L91.36 598.5 L91.82 598.66 L92.27 598.61 L92.72 598.37 L93.18 598.5 L93.63 598.52 L94.08 598.52 L94.54 598.52 L94.99 598.67 L95.44 598.62 L95.9 598.69 L96.35 598.68 L96.8 598.92 L97.26 598.85 L97.71 598.62 L98.16 598.66 L98.62 598.64 L99.07 598.54 L99.52 598.88 L99.98 598.72 L100.43 598.66 L100.88 599.09 L101.34 598.67 L101.79 598.82 L102.24 598.78 L102.7 598.82 L103.15 598.64 L103.6 598.81 L104.06 598.88 L104.51 598.53 L104.97 598.54 L105.42 598.75 L105.87 598.9 L106.33 598.85 L106.78 599.06 L107.23 599.04 L107.69 598.53 L108.14 598.8 L108.59 598.81 L109.05 598.81 L109.5 598.59 L109.95 598.87 L110.41 598.57 L110.86 598.82 L111.31 598.76 L111.77 598.73 L112.22 598.63 L112.67 598.58 L113.13 598.87 L113.58 598.82 L114.03 598.78 L114.49 598.73 L114.94 598.76 L115.39 598.67 L115.85 598.88 L116.3 598.81" fill="none" stroke="#1f2f92" stroke-width="1.5" stroke-linejoin="round"/>
<path d="M120.3 599.79 L120.75 600.15 L121.21 600.28 L121.66 599.74 L122.11 599.74 L122.56 598.54 L123.02 598.33 L123.47 598.04 L123.92 597.46 L124.38 597.44 L124.83 597.41 L125.28 597.46 L125.73 597.14 L126.19 597.36 L126.64 597.02 L127.09 596.97 L127.55 596.85 L128 597.15 L128.45 596.93 L128.91 597.03 L129.36 597.24 L129.81 597.12 L130.26 597.22 L130.72 597.39 L131.17 597.62 L131.62 597.39 L132.08 597.44 L132.53 597.44 L132.98 597.66 L133.43 597.73 L133.89 597.5 L134.34 597.72 L134.79 597.94 L135.25 597.92 L135.7 598.04 L136.15 598.06 L136.6 598.23 L137.06 598.34 L137.51 598.06 L137.96 597.99 L138.42 598.21 L138.87 598.37 L139.32 598.68 L139.78 598.01 L140.23 598.45 L140.68 598.48 L141.13 598.57 L141.59 598.57 L142.04 598.38 L142.49 598.33 L142.95 598.55 L143.4 598.64 L143.85 598.15 L144.3 598.47 L144.76 598.62 L145.21 598.57 L145.66 598.61 L146.12 598.61 L146.57 598.43 L147.02 598.55 L147.47 598.58 L147.93 598.46 L148.38 598.74 L148.83 598.38 L149.29 598.51 L149.74 598.94 L150.19 598.59 L150.64 598.59 L151.1 598.6 L151.55 598.38 L152 598.56 L152.46 598.41 L152.91 598.41 L153.36 598.75 L153.82 598.57 L154.27 598.57 L154.72 598.45 L155.17 598.68 L155.63 598.55 L156.08 598.82 L156.53 598.61 L156.99 598.95 L157.44 598.54 L157.89 598.52 L158.34 598.54 L158.8 598.68 L159.25 598.45 L159.7 598.6 L160.16 598.6 L160.61 598.71 L161.06 598.38 L161.51 598.93 L161.97 598.75 L162.42 598.77 L162.87 598.38 L163.33 598.42 L163.78 598.3 L164.23 598.08 L164.68 597.97 L165.14 597.49 L165.59 597.65 L166.04 597.37 L166.5 597.36 L166.95 597.35 L167.4 597.42 L167.86 597.53 L168.31 597.43 L168.76 597.68 L169.21 597.37 L169.67 597.53 L170.12 597.85 L170.57 597.71 L171.03 597.43 L171.48 597.77 L171.93 597.91 L172.38 598.14 L172.84 598.11 L173.29 597.92 L173.74 598.34 L174.2 598.18 L174.65 598.05 L175.1 598.54 L175.55 598.15 L176.01 598.23 L176.46 598.7 L176.91 598.27 L177.37 598.28 L177.82 598.51 L178.27 598.78 L178.72 598.44 L179.18 598.57 L179.63 598.94 L180.08 598.59 L180.54 598.4 L180.99 598.71 L181.44 598.83 L181.9 598.48 L182.35 598.41 L182.8 598.29 L183.25 598.59 L183.71 598.37 L184.16 598.52 L184.61 598.57 L185.07 598.64 L185.52 598.61 L185.97 598.63 L186.42 598.59 L186.88 598.51 L187.33 598.88 L187.78 598.73 L188.24 598.57 L188.69 598.57 L189.14 598.84 L189.59 598.66 L190.05 598.85 L190.5 598.54 L190.95 598.57 L191.41 598.41 L191.86 598.72 L192.31 599 L192.77 598.81 L193.22 598.56 L193.67 598.9 L194.12 598.7 L194.58 598.35 L195.03 598.47 L195.48 598.59 L195.94 598.63 L196.39 598.69 L196.84 598.55 L197.29 598.76 L197.75 598.49 L198.2 598.49" fill="none" stroke="#1f2f92" stroke-width="1.5" stroke-linejoin="round"/>
<path d="M22.9 615.04 L23.35 615.23 L23.81 615.24 L24.26 614.99 L24.71 614.89 L25.17 615.03 L25.62 615.37 L26.07 615.43 L26.53 615.01 L26.98 614.89 L27.43 614.8 L27.89 614.86 L28.34 615.09 L28.79 614.91 L29.25 614.94 L29.7 615.06 L30.15 614.67 L30.61 614.77 L31.06 614.94 L31.51 614.85 L31.97 614.88 L32.42 614.95 L32.87 614.99 L33.33 615.03 L33.78 614.93 L34.23 614.94 L34.69 614.83 L35.14 614.95 L35.6 614.83 L36.05 614.64 L36.5 614.57 L36.96 614.54 L37.41 614.54 L37.86 614.62 L38.32 614.45 L38.77 613.97 L39.22 614.01 L39.68 613.41 L40.13 613.22 L40.58 612.36 L41.04 611.44 L41.49 610.16 L41.94 607.95 L42.4 605.91 L42.85 604.21 L43.3 602.15 L43.76 601.74 L44.21 601.89 L44.66 603.18 L45.12 604.91 L45.57 606.78 L46.02 608.74 L46.48 610.2 L46.93 610.94 L47.38 611.69 L47.84 612.37 L48.29 612.44 L48.74 612.73 L49.2 612.95 L49.65 613.32 L50.1 613.52 L50.56 613.52 L51.01 614.3 L51.46 613.98 L51.92 614.43 L52.37 614.43 L52.82 614.52 L53.28 614.42 L53.73 614.59 L54.18 614.64 L54.64 614.53 L55.09 614.97 L55.54 614.64 L56 614.53 L56.45 615.09 L56.9 614.63 L57.36 615.02 L57.81 614.54 L58.27 615.05 L58.72 614.55 L59.17 614.61 L59.63 614.78 L60.08 614.41 L60.53 614.66 L60.99 614.68 L61.44 614.27 L61.89 614.02 L62.35 613.82 L62.8 613.49 L63.25 613.13 L63.71 612.75 L64.16 612.5 L64.61 612.3 L65.07 612.56 L65.52 612.77 L65.97 612.91 L66.43 613.44 L66.88 613.54 L67.33 613.61 L67.79 613.33 L68.24 613.09 L68.69 612.78 L69.15 612.08 L69.6 611.39 L70.05 610.59 L70.51 609.32 L70.96 608.01 L71.41 606.31 L71.87 605.42 L72.32 604.29 L72.77 603.26 L73.23 602.17 L73.68 601.43 L74.13 600.59 L74.59 600.01 L75.04 599.34 L75.49 598.11 L75.95 596.46 L76.4 594.78 L76.85 591.81 L77.31 588.89 L77.76 585.62 L78.21 582.39 L78.67 580.45 L79.12 580.82 L79.57 583.47 L80.03 588.11 L80.48 593 L80.93 598.06 L81.39 602.39 L81.84 605.63 L82.3 608.2 L82.75 610.16 L83.2 611.54 L83.66 612.26 L84.11 613.13 L84.56 613.56 L85.02 613.3 L85.47 613.74 L85.92 613.9 L86.38 614.29 L86.83 614.11 L87.28 614.39 L87.74 614.28 L88.19 614.55 L88.64 614.46 L89.1 614.49 L89.55 614.68 L90 614.51 L90.46 614.83 L90.91 614.75 L91.36 614.72 L91.82 614.67 L92.27 614.73 L92.72 614.91 L93.18 614.6 L93.63 615.22 L94.08 614.78 L94.54 614.8 L94.99 614.79 L95.44 614.86 L95.9 614.74 L96.35 614.9 L96.8 614.99 L97.26 615.06 L97.71 614.84 L98.16 615.01 L98.62 615.03 L99.07 614.99 L99.52 615 L99.98 614.97 L100.43 614.81 L100.88 614.94 L101.34 615.11 L101.79 614.96 L102.24 615.17 L102.7 614.94 L103.15 614.98 L103.6 614.74 L104.06 615.16 L104.51 614.97 L104.97 614.84 L105.42 614.91 L105.87 615.1 L106.33 615.1 L106.78 615.12 L107.23 615.05 L107.69 615.05 L108.14 615.36 L108.59 615.34 L109.05 615.08 L109.5 615.02 L109.95 614.99 L110.41 615.1 L110.86 614.92 L111.31 615.21 L111.77 615.05 L112.22 615.21 L112.67 615.13 L113.13 615.21 L113.58 615.13 L114.03 615.16 L114.49 614.95 L114.94 615.11 L115.39 614.79 L115.85 615.07 L116.3 614.79" fill="none" stroke="#14206a" stroke-width="1.5" stroke-linejoin="round"/>
<path d="M120.3 615.54 L120.75 616.24 L121.21 616.48 L121.66 616.05 L122.11 615.66 L122.56 615.1 L123.02 614.29 L123.47 614.27 L123.92 613.87 L124.38 613.61 L124.83 613.45 L125.28 613.5 L125.73 613.22 L126.19 613.65 L126.64 613.35 L127.09 613.42 L127.55 613.29 L128 613.33 L128.45 613.29 L128.91 613.3 L129.36 613.37 L129.81 613.15 L130.26 613.31 L130.72 613.73 L131.17 613.69 L131.62 613.59 L132.08 613.66 L132.53 613.7 L132.98 613.78 L133.43 614.01 L133.89 613.72 L134.34 614.03 L134.79 613.93 L135.25 614.18 L135.7 614.16 L136.15 614.04 L136.6 614.14 L137.06 614.04 L137.51 614.4 L137.96 614.3 L138.42 614.4 L138.87 614.69 L139.32 614.43 L139.78 614.67 L140.23 614.4 L140.68 614.86 L141.13 614.47 L141.59 614.59 L142.04 614.64 L142.49 614.61 L142.95 614.6 L143.4 614.86 L143.85 614.5 L144.3 614.88 L144.76 614.86 L145.21 614.66 L145.66 614.32 L146.12 614.7 L146.57 614.55 L147.02 614.51 L147.47 614.44 L147.93 614.61 L148.38 614.73 L148.83 614.66 L149.29 614.71 L149.74 614.73 L150.19 614.71 L150.64 614.82 L151.1 614.59 L151.55 614.8 L152 614.5 L152.46 614.63 L152.91 614.79 L153.36 614.7 L153.82 614.96 L154.27 614.25 L154.72 614.81 L155.17 614.76 L155.63 614.55 L156.08 614.63 L156.53 614.88 L156.99 614.95 L157.44 614.58 L157.89 614.61 L158.34 614.67 L158.8 614.77 L159.25 614.78 L159.7 615.1 L160.16 614.82 L160.61 614.65 L161.06 614.66 L161.51 614.66 L161.97 614.72 L162.42 614.55 L162.87 614.43 L163.33 614.2 L163.78 614.03 L164.23 614.24 L164.68 614.16 L165.14 614.08 L165.59 613.97 L166.04 613.84 L166.5 613.85 L166.95 613.94 L167.4 613.84 L167.86 613.85 L168.31 614.09 L168.76 614.07 L169.21 614.35 L169.67 613.66 L170.12 614.22 L170.57 613.85 L171.03 613.92 L171.48 614.33 L171.93 614.12 L172.38 614.14 L172.84 614.52 L173.29 614.31 L173.74 614.3 L174.2 614.41 L174.65 614.36 L175.1 614.22 L175.55 614.37 L176.01 614.48 L176.46 614.73 L176.91 614.58 L177.37 614.75 L177.82 614.51 L178.27 614.76 L178.72 614.68 L179.18 614.75 L179.63 614.63 L180.08 614.87 L180.54 614.7 L180.99 614.61 L181.44 614.81 L181.9 614.7 L182.35 614.73 L182.8 614.68 L183.25 614.75 L183.71 614.7 L184.16 614.7 L184.61 614.72 L185.07 614.74 L185.52 614.64 L185.97 614.52 L186.42 614.9 L186.88 614.72 L187.33 614.51 L187.78 614.49 L188.24 614.76 L188.69 614.75 L189.14 614.69 L189.59 614.94 L190.05 614.47 L190.5 614.52 L190.95 614.7 L191.41 614.73 L191.86 614.64 L192.31 614.56 L192.77 614.63 L193.22 614.43 L193.67 614.48 L194.12 614.85 L194.58 614.9 L195.03 614.61 L195.48 614.47 L195.94 614.8 L196.39 614.62 L196.84 614.44 L197.29 614.65 L197.75 614.61 L198.2 614.54" fill="none" stroke="#14206a" stroke-width="1.5" stroke-linejoin="round"/>
<text x="0" y="0" transform="translate(24.8 456.6) scale(1 1.07)" font-size="8.2" fill="#000" stroke="#000" text-anchor="start" font-weight="bold">Pd/ZnO</text>
<text x="0" y="0" transform="translate(92.5 456.6) scale(1 1.13)" font-size="7.35" fill="#a030f0" stroke="#a030f0" text-anchor="middle" font-weight="bold">2814</text>
<text x="0" y="0" transform="translate(64.9 463.6) scale(1 1.13)" font-size="7.35" fill="#f08a20" stroke="#f08a20" text-anchor="middle" font-weight="bold">2867</text>
<text x="0" y="0" transform="translate(50.1 474) scale(1 1.13)" font-size="7.35" fill="#2e9a3a" stroke="#2e9a3a" text-anchor="middle" font-weight="bold">2912</text>
<text x="0" y="0" transform="translate(33.6 483.6) scale(1 1.13)" font-size="7.35" fill="#a030f0" stroke="#a030f0" text-anchor="middle" font-weight="bold">2931</text>
<text x="121.1" y="456.6" font-size="7.6" fill="#a030f0" stroke="#a030f0" text-anchor="start" font-weight="bold">CH<tspan font-size="4.56" baseline-shift="-1.98">3</tspan>O*</text>
<text x="121.1" y="465.2" font-size="7.6" fill="#2e9a3a" stroke="#2e9a3a" text-anchor="start" font-weight="bold">CH<tspan font-size="4.56" baseline-shift="-1.98">2</tspan>OO*</text>
<text x="121.1" y="473.7" font-size="7.6" fill="#f08a20" stroke="#f08a20" text-anchor="start" font-weight="bold">HCOO*</text>
<text x="121.1" y="481.4" font-size="7.6" fill="#000" stroke="#000" text-anchor="start" font-weight="bold">gas CO</text>
<text x="0" y="0" transform="translate(166.6 475) scale(1 1.13)" font-size="7.35" fill="#000" stroke="#000" text-anchor="middle" font-weight="bold">2202</text>
<text x="192.2" y="462.1" font-size="6.3" fill="#000" stroke="#000" text-anchor="end" font-weight="bold">0.01</text>
<line x1="194.9" y1="449.8" x2="194.9" y2="471.3" stroke="#222" stroke-width="1.1" stroke-linecap="butt"/>
<text x="0" y="0" transform="translate(200.4 499.7) scale(1 1.06)" font-size="7.4" fill="#a9c3f8" stroke="#a9c3f8" text-anchor="start" font-weight="bold">260°C</text>
<text x="0" y="0" transform="translate(200.4 525.4) scale(1 1.06)" font-size="7.4" fill="#86a8f4" stroke="#86a8f4" text-anchor="start" font-weight="bold">230°C</text>
<text x="0" y="0" transform="translate(200.4 543.8) scale(1 1.06)" font-size="7.4" fill="#5a86ee" stroke="#5a86ee" text-anchor="start" font-weight="bold">200°C</text>
<text x="0" y="0" transform="translate(200.4 557.9) scale(1 1.06)" font-size="7.4" fill="#4470e6" stroke="#4470e6" text-anchor="start" font-weight="bold">170°C</text>
<text x="0" y="0" transform="translate(200.4 571.6) scale(1 1.06)" font-size="7.4" fill="#3050cc" stroke="#3050cc" text-anchor="start" font-weight="bold">140°C</text>
<text x="0" y="0" transform="translate(200.4 586.3) scale(1 1.06)" font-size="7.4" fill="#2a3fb0" stroke="#2a3fb0" text-anchor="start" font-weight="bold">110°C</text>
<text x="0" y="0" transform="translate(200.4 601.9) scale(1 1.06)" font-size="7.4" fill="#1f2f92" stroke="#1f2f92" text-anchor="start" font-weight="bold">80°C</text>
<text x="0" y="0" transform="translate(200.4 617.5) scale(1 1.06)" font-size="7.4" fill="#14206a" stroke="#14206a" text-anchor="start" font-weight="bold">50°C</text>
<rect x="22.4" y="446.6" width="176.3" height="176" fill="none" stroke="#000" stroke-width="1.45"/>
<rect x="115.55" y="444.6" width="4.5" height="4" fill="#fff"/>
<line x1="114.5" y1="449.9" x2="118.3" y2="443.3" stroke="#000" stroke-width="1.2" stroke-linecap="butt"/>
<line x1="117.3" y1="449.9" x2="121.1" y2="443.3" stroke="#000" stroke-width="1.2" stroke-linecap="butt"/>
<rect x="115.55" y="620.6" width="4.5" height="4" fill="#fff"/>
<line x1="114.5" y1="625.9" x2="118.3" y2="619.3" stroke="#000" stroke-width="1.2" stroke-linecap="butt"/>
<line x1="117.3" y1="625.9" x2="121.1" y2="619.3" stroke="#000" stroke-width="1.2" stroke-linecap="butt"/>
<line x1="22.4" y1="622.6" x2="22.4" y2="626.1" stroke="#000" stroke-width="1.2" stroke-linecap="butt"/>
<line x1="53.4" y1="622.6" x2="53.4" y2="626.1" stroke="#000" stroke-width="1.2" stroke-linecap="butt"/>
<line x1="84.4" y1="622.6" x2="84.4" y2="626.1" stroke="#000" stroke-width="1.2" stroke-linecap="butt"/>
<line x1="135.86" y1="622.6" x2="135.86" y2="626.1" stroke="#000" stroke-width="1.2" stroke-linecap="butt"/>
<line x1="167.28" y1="622.6" x2="167.28" y2="626.1" stroke="#000" stroke-width="1.2" stroke-linecap="butt"/>
<line x1="198.7" y1="622.6" x2="198.7" y2="626.1" stroke="#000" stroke-width="1.2" stroke-linecap="butt"/>
<line x1="37.9" y1="622.6" x2="37.9" y2="624.8" stroke="#000" stroke-width="1.2" stroke-linecap="butt"/>
<line x1="68.9" y1="622.6" x2="68.9" y2="624.8" stroke="#000" stroke-width="1.2" stroke-linecap="butt"/>
<line x1="99.9" y1="622.6" x2="99.9" y2="624.8" stroke="#000" stroke-width="1.2" stroke-linecap="butt"/>
<line x1="151.57" y1="622.6" x2="151.57" y2="624.8" stroke="#000" stroke-width="1.2" stroke-linecap="butt"/>
<line x1="182.99" y1="622.6" x2="182.99" y2="624.8" stroke="#000" stroke-width="1.2" stroke-linecap="butt"/>
<text x="0" y="0" transform="translate(22.4 634.9) scale(0.92 1.02)" font-size="8" fill="#000" stroke="#000" text-anchor="middle" font-weight="bold" letter-spacing="0.3">3000</text>
<text x="0" y="0" transform="translate(53.4 634.9) scale(0.92 1.02)" font-size="8" fill="#000" stroke="#000" text-anchor="middle" font-weight="bold" letter-spacing="0.3">2900</text>
<text x="0" y="0" transform="translate(84.4 634.9) scale(0.92 1.02)" font-size="8" fill="#000" stroke="#000" text-anchor="middle" font-weight="bold" letter-spacing="0.3">2800</text>
<text x="0" y="0" transform="translate(135.86 634.9) scale(0.92 1.02)" font-size="8" fill="#000" stroke="#000" text-anchor="middle" font-weight="bold" letter-spacing="0.3">2300</text>
<text x="0" y="0" transform="translate(167.28 634.9) scale(0.92 1.02)" font-size="8" fill="#000" stroke="#000" text-anchor="middle" font-weight="bold" letter-spacing="0.3">2200</text>
<text x="0" y="0" transform="translate(198.7 634.9) scale(0.92 1.02)" font-size="8" fill="#000" stroke="#000" text-anchor="middle" font-weight="bold" letter-spacing="0.3">2100</text>
<text x="0" y="0" transform="translate(110 652.3) scale(1 0.94)" font-size="10" fill="#000" stroke="none" text-anchor="middle" font-weight="bold">Wavenumber (cm<tspan font-size="6.8" baseline-shift="4">-1</tspan>)</text>
<text x="0" y="0" font-size="10" font-weight="bold" text-anchor="middle" dominant-baseline="central" transform="translate(11.2 534.2) rotate(-90)">Kubelka-Munk</text>
<line x1="278.63" y1="486.3" x2="278.63" y2="622.6" stroke="#9a30f0" stroke-width="1.25" stroke-dasharray="4.6 4.3" stroke-linecap="butt"/>
<line x1="298.6" y1="479" x2="298.6" y2="622.6" stroke="#f5a050" stroke-width="1.6" stroke-dasharray="4.6 4.3" stroke-linecap="butt"/>
<line x1="315.13" y1="468" x2="315.13" y2="622.6" stroke="#9a30f0" stroke-width="1.25" stroke-dasharray="4.6 4.3" stroke-linecap="butt"/>
<line x1="401.45" y1="479" x2="401.45" y2="622.6" stroke="#222" stroke-width="1.25" stroke-dasharray="4 4.5" stroke-linecap="butt"/>
<path d="M257.6 497.16 L258.05 497.18 L258.51 497.37 L258.96 497.24 L259.41 497.29 L259.87 497.09 L260.32 497.12 L260.78 497.12 L261.23 497 L261.68 497.1 L262.14 497.03 L262.59 496.95 L263.04 496.98 L263.5 496.78 L263.95 496.35 L264.4 496.37 L264.86 496.27 L265.31 495.94 L265.77 495.98 L266.22 496.27 L266.67 495.7 L267.13 495.92 L267.58 496.08 L268.03 496.32 L268.49 496.52 L268.94 496.53 L269.39 496.38 L269.85 496.5 L270.3 496.55 L270.76 497.04 L271.21 496.9 L271.66 496.7 L272.12 497.19 L272.57 497 L273.02 497.12 L273.48 496.8 L273.93 496.59 L274.38 496.68 L274.84 496.41 L275.29 496.23 L275.74 495.94 L276.2 495.25 L276.65 494.94 L277.11 494.29 L277.56 493.65 L278.01 493.58 L278.47 493.34 L278.92 493.39 L279.37 493.45 L279.83 494 L280.28 494.48 L280.73 494.8 L281.19 495.28 L281.64 495.99 L282.1 496.23 L282.55 496.42 L283 496.7 L283.46 496.73 L283.91 496.73 L284.36 496.91 L284.82 497.06 L285.27 496.98 L285.72 497.07 L286.18 497.07 L286.63 497.17 L287.09 496.86 L287.54 496.99 L287.99 497.02 L288.45 497.03 L288.9 496.79 L289.35 497.01 L289.81 496.86 L290.26 496.72 L290.71 496.73 L291.17 496.87 L291.62 496.75 L292.08 496.46 L292.53 496.45 L292.98 496.49 L293.44 496.04 L293.89 495.74 L294.34 495.32 L294.8 494.81 L295.25 494.1 L295.7 493.26 L296.16 492.3 L296.61 491.25 L297.07 490.06 L297.52 489.11 L297.97 488.54 L298.43 487.94 L298.88 488.14 L299.33 488.42 L299.79 489.39 L300.24 490.37 L300.69 491.62 L301.15 492.54 L301.6 493.49 L302.06 494.15 L302.51 494.96 L302.96 495.31 L303.42 495.91 L303.87 495.99 L304.32 496.1 L304.78 496.42 L305.23 496.52 L305.68 496.61 L306.14 496.71 L306.59 496.73 L307.04 496.45 L307.5 496.78 L307.95 496.9 L308.41 496.79 L308.86 496.49 L309.31 496.46 L309.77 496.43 L310.22 496.26 L310.67 496.05 L311.13 495.7 L311.58 495.55 L312.03 494.83 L312.49 494.42 L312.94 493.27 L313.4 492.43 L313.85 491.35 L314.3 490.54 L314.76 489.9 L315.21 489.98 L315.66 490.24 L316.12 490.97 L316.57 491.65 L317.02 492.49 L317.48 493.71 L317.93 494.49 L318.39 495.17 L318.84 495.69 L319.29 496.22 L319.75 496.39 L320.2 496.43 L320.65 496.67 L321.11 496.69 L321.56 496.95 L322.01 496.79 L322.47 497.14 L322.92 497.08 L323.38 497.09 L323.83 496.97 L324.28 497.07 L324.74 497 L325.19 497.13 L325.64 497.09 L326.1 497.07 L326.55 497.15 L327 497.21 L327.46 497.3 L327.91 497.24 L328.37 497.22 L328.82 497.42 L329.27 497.16 L329.73 497.19 L330.18 497.02 L330.63 497.5 L331.09 497.27 L331.54 496.93 L331.99 497.25 L332.45 497.27 L332.9 497.36 L333.36 497.37 L333.81 497.27 L334.26 497.19 L334.72 497.36 L335.17 497.31 L335.62 497.21 L336.08 497.37 L336.53 496.95 L336.98 497.4 L337.44 497.25 L337.89 497.46 L338.34 497.3 L338.8 497.4 L339.25 497.21 L339.71 497.26 L340.16 497.44 L340.61 497.19 L341.07 496.97 L341.52 497.11 L341.97 497.22 L342.43 497.22 L342.88 497.21 L343.33 497.34 L343.79 497.56 L344.24 497.24 L344.7 497.22 L345.15 497.03 L345.6 497.22 L346.06 497.27 L346.51 497.5 L346.96 497.24 L347.42 497.46 L347.87 497.16 L348.32 497.13 L348.78 497.38 L349.23 497.52 L349.69 497.47 L350.14 497.32 L350.59 497.2 L351.05 497.2 L351.5 497.22" fill="none" stroke="#f9a8a3" stroke-width="1.5" stroke-linejoin="round"/>
<path d="M355 498.04 L355.45 498.5 L355.91 498.53 L356.36 498 L356.81 498.07 L357.27 497.4 L357.72 497.77 L358.17 496.82 L358.63 496.15 L359.08 496.26 L359.53 496.08 L359.99 495.96 L360.44 495.97 L360.9 494.81 L361.35 495 L361.8 494.33 L362.26 494.8 L362.71 494.65 L363.16 494.61 L363.62 494.6 L364.07 494.59 L364.52 494.86 L364.98 494.9 L365.43 494.72 L365.88 495.04 L366.34 495.05 L366.79 495.3 L367.24 494.93 L367.7 495.46 L368.15 494.95 L368.6 495.91 L369.06 494.84 L369.51 495.5 L369.97 495.59 L370.42 496.2 L370.87 496.17 L371.33 495.13 L371.78 495.8 L372.23 495.57 L372.69 495.71 L373.14 495.93 L373.59 496.75 L374.05 496.89 L374.5 496.22 L374.95 496.53 L375.41 496.88 L375.86 496.72 L376.31 496.57 L376.77 496.92 L377.22 497.45 L377.67 497.44 L378.13 496.82 L378.58 497.36 L379.03 497.51 L379.49 497.18 L379.94 496.99 L380.4 497.37 L380.85 497.53 L381.3 496.98 L381.76 497.07 L382.21 497.85 L382.66 497.68 L383.12 497.45 L383.57 497.75 L384.02 497.91 L384.48 497.39 L384.93 497.72 L385.38 497.72 L385.84 497.21 L386.29 497.7 L386.74 497.5 L387.2 497.13 L387.65 497.42 L388.1 497.92 L388.56 497.36 L389.01 497.52 L389.47 497.29 L389.92 497.67 L390.37 497.89 L390.83 497.19 L391.28 497.49 L391.73 497.86 L392.19 497.56 L392.64 497.35 L393.09 498.01 L393.55 497.67 L394 498.01 L394.45 497.69 L394.91 497.66 L395.36 497.66 L395.81 497.5 L396.27 497.81 L396.72 497.61 L397.17 498.02 L397.63 497.64 L398.08 497.43 L398.53 497.7 L398.99 497.24 L399.44 497.25 L399.9 497.41 L400.35 497.74 L400.8 497.3 L401.26 497.91 L401.71 497.71 L402.16 498.28 L402.62 497.97 L403.07 497.26 L403.52 497.58 L403.98 497.41 L404.43 497.39 L404.88 497.4 L405.34 497.48 L405.79 497.64 L406.24 497.83 L406.7 497.49 L407.15 497.39 L407.6 497.1 L408.06 497.44 L408.51 497.47 L408.97 497.66 L409.42 497.6 L409.87 497.92 L410.33 498.1 L410.78 497.14 L411.23 498.01 L411.69 497.72 L412.14 497.64 L412.59 497.24 L413.05 497.69 L413.5 497.52 L413.95 497.49 L414.41 497.3 L414.86 498.03 L415.31 497.83 L415.77 497.79 L416.22 497.85 L416.67 497.62 L417.13 497.88 L417.58 497.79 L418.03 497.55 L418.49 497.74 L418.94 497.04 L419.4 497.64 L419.85 497.4 L420.3 497.4 L420.76 497.65 L421.21 498 L421.66 498.08 L422.12 497.4 L422.57 497.2 L423.02 497.5 L423.48 497.97 L423.93 497.28 L424.38 497.76 L424.84 498.11 L425.29 497.49 L425.74 497.64 L426.2 497.53 L426.65 497.42 L427.1 497.69 L427.56 497.79 L428.01 498.07 L428.47 497.3 L428.92 497.31 L429.37 497.72 L429.83 497.52 L430.28 497.61 L430.73 497.53 L431.19 497.6 L431.64 497.35 L432.09 497.65 L432.55 497.63 L433 497.6" fill="none" stroke="#f9a8a3" stroke-width="1.5" stroke-linejoin="round"/>
<path d="M257.6 514.46 L258.05 514.78 L258.51 514.49 L258.96 514.64 L259.41 514.64 L259.87 514.8 L260.32 514.57 L260.78 514.89 L261.23 514.51 L261.68 514.77 L262.14 514.48 L262.59 514.34 L263.04 513.85 L263.5 513.92 L263.95 513.95 L264.4 513.66 L264.86 513.46 L265.31 513.33 L265.77 513.55 L266.22 513.61 L266.67 513.52 L267.13 513.11 L267.58 513.53 L268.03 513.79 L268.49 513.38 L268.94 513.9 L269.39 513.93 L269.85 514.01 L270.3 514.36 L270.76 514.12 L271.21 514.19 L271.66 514.63 L272.12 514.47 L272.57 514.56 L273.02 514.24 L273.48 514.18 L273.93 514.12 L274.38 513.81 L274.84 513.75 L275.29 513.41 L275.74 513.09 L276.2 512.55 L276.65 511.85 L277.11 511.59 L277.56 510.69 L278.01 510.31 L278.47 510.23 L278.92 510.07 L279.37 510.63 L279.83 511.08 L280.28 511.46 L280.73 511.88 L281.19 512.49 L281.64 513 L282.1 513.51 L282.55 513.63 L283 514.01 L283.46 514.18 L283.91 514.37 L284.36 513.96 L284.82 514.19 L285.27 514.35 L285.72 514.24 L286.18 514.33 L286.63 514.24 L287.09 514.26 L287.54 514.25 L287.99 514.53 L288.45 514.46 L288.9 514.22 L289.35 514.2 L289.81 514.54 L290.26 514.07 L290.71 514.07 L291.17 513.91 L291.62 514.18 L292.08 513.92 L292.53 513.9 L292.98 513.59 L293.44 513.52 L293.89 513.14 L294.34 512.74 L294.8 512.1 L295.25 511.36 L295.7 510.75 L296.16 509.53 L296.61 508.75 L297.07 507.43 L297.52 506.85 L297.97 505.97 L298.43 505.62 L298.88 505.57 L299.33 506.11 L299.79 506.69 L300.24 507.95 L300.69 508.77 L301.15 509.88 L301.6 510.64 L302.06 511.45 L302.51 512.34 L302.96 512.57 L303.42 513.08 L303.87 513.38 L304.32 513.42 L304.78 513.82 L305.23 513.71 L305.68 513.55 L306.14 514.02 L306.59 513.74 L307.04 513.84 L307.5 513.73 L307.95 513.71 L308.41 513.85 L308.86 513.69 L309.31 513.49 L309.77 513.52 L310.22 512.94 L310.67 512.69 L311.13 511.94 L311.58 511.46 L312.03 510.15 L312.49 508.95 L312.94 507.37 L313.4 505.78 L313.85 503.75 L314.3 502.35 L314.76 501.21 L315.21 500.93 L315.66 501.52 L316.12 502.75 L316.57 504.43 L317.02 506.32 L317.48 507.9 L317.93 509.69 L318.39 510.99 L318.84 511.78 L319.29 512.26 L319.75 512.96 L320.2 513.05 L320.65 513.56 L321.11 513.85 L321.56 514.04 L322.01 514.09 L322.47 514.27 L322.92 514.19 L323.38 514.46 L323.83 513.89 L324.28 514.13 L324.74 514.49 L325.19 514.26 L325.64 514.5 L326.1 514.41 L326.55 514.34 L327 514.3 L327.46 514.4 L327.91 514.43 L328.37 514.6 L328.82 514.59 L329.27 514.5 L329.73 514.49 L330.18 514.55 L330.63 514.43 L331.09 514.47 L331.54 514.7 L331.99 514.49 L332.45 514.52 L332.9 514.43 L333.36 514.37 L333.81 514.45 L334.26 514.85 L334.72 514.68 L335.17 514.37 L335.62 514.44 L336.08 514.55 L336.53 514.76 L336.98 514.63 L337.44 514.96 L337.89 514.62 L338.34 514.96 L338.8 514.74 L339.25 514.69 L339.71 514.75 L340.16 514.67 L340.61 514.71 L341.07 514.45 L341.52 514.47 L341.97 514.5 L342.43 514.8 L342.88 514.56 L343.33 514.64 L343.79 514.83 L344.24 514.79 L344.7 514.33 L345.15 514.74 L345.6 514.63 L346.06 514.71 L346.51 514.82 L346.96 514.5 L347.42 514.77 L347.87 514.65 L348.32 514.72 L348.78 514.6 L349.23 514.79 L349.69 514.52 L350.14 514.65 L350.59 514.74 L351.05 514.47 L351.5 514.62" fill="none" stroke="#f68884" stroke-width="1.5" stroke-linejoin="round"/>
<path d="M355 515.25 L355.45 515.73 L355.91 516.01 L356.36 515.31 L356.81 515.5 L357.27 514.85 L357.72 514.91 L358.17 514.41 L358.63 514.28 L359.08 513.55 L359.53 513.85 L359.99 513.86 L360.44 512.96 L360.9 512.63 L361.35 512.49 L361.8 511.93 L362.26 512.18 L362.71 512.19 L363.16 511.85 L363.62 511.67 L364.07 512.43 L364.52 512.18 L364.98 512.26 L365.43 512.25 L365.88 512.26 L366.34 512.48 L366.79 512.43 L367.24 512.63 L367.7 512.49 L368.15 512.87 L368.6 512.85 L369.06 513.51 L369.51 513.4 L369.97 513.04 L370.42 513.37 L370.87 513.04 L371.33 513.48 L371.78 513.38 L372.23 513.63 L372.69 513.97 L373.14 513.54 L373.59 513.92 L374.05 514.4 L374.5 513.86 L374.95 514.04 L375.41 514.45 L375.86 514.18 L376.31 513.98 L376.77 514.68 L377.22 514.57 L377.67 514.92 L378.13 514.6 L378.58 514.78 L379.03 514.65 L379.49 514.18 L379.94 514.47 L380.4 514.74 L380.85 514.87 L381.3 514.53 L381.76 514.68 L382.21 514.59 L382.66 514.46 L383.12 514.65 L383.57 515.15 L384.02 515.07 L384.48 514.87 L384.93 515.25 L385.38 515.07 L385.84 515.2 L386.29 515.36 L386.74 515.25 L387.2 514.74 L387.65 514.78 L388.1 514.66 L388.56 515.04 L389.01 514.99 L389.47 515.35 L389.92 515.15 L390.37 515.13 L390.83 514.84 L391.28 515.08 L391.73 515.27 L392.19 515.06 L392.64 514.63 L393.09 515.13 L393.55 515.02 L394 515.52 L394.45 515.42 L394.91 515.08 L395.36 515 L395.81 515.28 L396.27 514.32 L396.72 515.18 L397.17 514.95 L397.63 515.14 L398.08 514.92 L398.53 515.1 L398.99 515 L399.44 515.61 L399.9 515.17 L400.35 514.59 L400.8 515.06 L401.26 514.84 L401.71 515.28 L402.16 515.08 L402.62 514.82 L403.07 515.01 L403.52 515 L403.98 515.04 L404.43 514.88 L404.88 514.82 L405.34 514.9 L405.79 515.06 L406.24 514.85 L406.7 514.71 L407.15 515.27 L407.6 514.85 L408.06 514.84 L408.51 515.19 L408.97 515.48 L409.42 514.98 L409.87 514.96 L410.33 514.88 L410.78 515.19 L411.23 515.11 L411.69 514.97 L412.14 515.06 L412.59 514.82 L413.05 514.89 L413.5 515.12 L413.95 515.47 L414.41 514.67 L414.86 514.84 L415.31 515.12 L415.77 514.47 L416.22 515.23 L416.67 515.13 L417.13 515.1 L417.58 515.26 L418.03 515.43 L418.49 515.16 L418.94 515.25 L419.4 515.28 L419.85 514.5 L420.3 514.29 L420.76 515.39 L421.21 515.62 L421.66 514.89 L422.12 514.96 L422.57 515.16 L423.02 514.96 L423.48 514.77 L423.93 515.22 L424.38 514.95 L424.84 515.08 L425.29 514.6 L425.74 515.45 L426.2 514.75 L426.65 514.86 L427.1 514.72 L427.56 514.97 L428.01 514.71 L428.47 514.79 L428.92 514.47 L429.37 514.59 L429.83 515.06 L430.28 514.61 L430.73 515.31 L431.19 514.93 L431.64 514.88 L432.09 514.72 L432.55 515.16 L433 514.75" fill="none" stroke="#f68884" stroke-width="1.5" stroke-linejoin="round"/>
<path d="M257.6 532.3 L258.05 532.1 L258.51 531.99 L258.96 532.07 L259.41 532.12 L259.87 532.12 L260.32 531.94 L260.78 532.12 L261.23 532 L261.68 531.81 L262.14 531.91 L262.59 531.74 L263.04 531.62 L263.5 531.48 L263.95 531.38 L264.4 531.3 L264.86 531.3 L265.31 530.97 L265.77 530.67 L266.22 530.78 L266.67 530.98 L267.13 530.85 L267.58 531.02 L268.03 530.96 L268.49 531.08 L268.94 531.03 L269.39 531.24 L269.85 531.62 L270.3 531.57 L270.76 531.59 L271.21 531.7 L271.66 531.63 L272.12 531.69 L272.57 531.78 L273.02 531.56 L273.48 531.82 L273.93 531.13 L274.38 531.23 L274.84 530.86 L275.29 530.43 L275.74 529.93 L276.2 529.1 L276.65 528.45 L277.11 527.4 L277.56 526.62 L278.01 525.91 L278.47 525.73 L278.92 525.73 L279.37 526.33 L279.83 526.78 L280.28 527.87 L280.73 528.41 L281.19 529.26 L281.64 530 L282.1 530.39 L282.55 530.8 L283 530.98 L283.46 531.36 L283.91 531.49 L284.36 531.94 L284.82 531.93 L285.27 531.81 L285.72 532.06 L286.18 531.84 L286.63 531.7 L287.09 531.81 L287.54 531.63 L287.99 531.63 L288.45 531.65 L288.9 531.85 L289.35 531.69 L289.81 531.63 L290.26 531.62 L290.71 531.85 L291.17 531.38 L291.62 531.63 L292.08 531.28 L292.53 531.44 L292.98 531.12 L293.44 530.98 L293.89 530.6 L294.34 530.45 L294.8 529.63 L295.25 529.24 L295.7 528.36 L296.16 527.41 L296.61 526.65 L297.07 525.95 L297.52 524.91 L297.97 524.06 L298.43 523.89 L298.88 523.73 L299.33 524.25 L299.79 525.03 L300.24 525.81 L300.69 526.65 L301.15 527.68 L301.6 528.46 L302.06 529.3 L302.51 529.87 L302.96 530.18 L303.42 530.54 L303.87 531.14 L304.32 531.03 L304.78 530.87 L305.23 531.19 L305.68 531.64 L306.14 531.39 L306.59 531.22 L307.04 531.35 L307.5 531.24 L307.95 531.21 L308.41 530.96 L308.86 531.12 L309.31 530.88 L309.77 530.51 L310.22 530.39 L310.67 530.03 L311.13 529.19 L311.58 528.55 L312.03 527.33 L312.49 526.14 L312.94 524.23 L313.4 522.31 L313.85 520.72 L314.3 518.85 L314.76 517.59 L315.21 517.78 L315.66 518.24 L316.12 519.42 L316.57 520.96 L317.02 522.98 L317.48 525.09 L317.93 526.34 L318.39 527.87 L318.84 528.77 L319.29 529.73 L319.75 530.11 L320.2 530.6 L320.65 531.03 L321.11 531.28 L321.56 531.47 L322.01 531.19 L322.47 531.51 L322.92 531.63 L323.38 531.94 L323.83 531.74 L324.28 531.64 L324.74 531.63 L325.19 531.51 L325.64 532.02 L326.1 531.74 L326.55 531.84 L327 532.03 L327.46 531.86 L327.91 532.02 L328.37 531.74 L328.82 532.06 L329.27 531.99 L329.73 531.9 L330.18 531.92 L330.63 531.88 L331.09 532.11 L331.54 532.1 L331.99 532.05 L332.45 532.11 L332.9 531.99 L333.36 531.9 L333.81 531.87 L334.26 532.31 L334.72 532.02 L335.17 532.14 L335.62 531.97 L336.08 532.16 L336.53 532.16 L336.98 532.21 L337.44 532.06 L337.89 531.94 L338.34 532.27 L338.8 532.22 L339.25 532.07 L339.71 532.09 L340.16 532.08 L340.61 532.33 L341.07 532.19 L341.52 531.91 L341.97 532 L342.43 532.37 L342.88 531.95 L343.33 532.1 L343.79 532.11 L344.24 532.25 L344.7 532.19 L345.15 532.2 L345.6 532.13 L346.06 532.1 L346.51 532.08 L346.96 532.04 L347.42 532.09 L347.87 532.28 L348.32 532.26 L348.78 532.01 L349.23 532 L349.69 532.22 L350.14 532.13 L350.59 532.14 L351.05 532.2 L351.5 532.43" fill="none" stroke="#f25a5a" stroke-width="1.5" stroke-linejoin="round"/>
<path d="M355 533.07 L355.45 533.14 L355.91 533.17 L356.36 533.05 L356.81 532.75 L357.27 532.6 L357.72 532.07 L358.17 532.35 L358.63 532.01 L359.08 531.59 L359.53 531.55 L359.99 530.95 L360.44 530.69 L360.9 530.93 L361.35 530.72 L361.8 530.19 L362.26 530.05 L362.71 530.54 L363.16 530.55 L363.62 530.24 L364.07 530.66 L364.52 530.73 L364.98 530.57 L365.43 530.87 L365.88 530.78 L366.34 530.66 L366.79 530.77 L367.24 530.5 L367.7 530.8 L368.15 531.31 L368.6 530.89 L369.06 531.2 L369.51 530.92 L369.97 530.9 L370.42 531.32 L370.87 531.09 L371.33 530.99 L371.78 531.29 L372.23 531.62 L372.69 531.45 L373.14 531.51 L373.59 531.78 L374.05 531.92 L374.5 531.89 L374.95 531.88 L375.41 531.71 L375.86 531.78 L376.31 532.47 L376.77 532.43 L377.22 531.64 L377.67 532.21 L378.13 532.31 L378.58 532.46 L379.03 532.39 L379.49 532.42 L379.94 531.84 L380.4 532.03 L380.85 531.99 L381.3 532.26 L381.76 532.31 L382.21 532.53 L382.66 532.46 L383.12 532.65 L383.57 532.72 L384.02 532.13 L384.48 532.35 L384.93 532.08 L385.38 532.58 L385.84 532.15 L386.29 532.26 L386.74 532.25 L387.2 532.69 L387.65 533.07 L388.1 532.51 L388.56 532.36 L389.01 532.57 L389.47 532.48 L389.92 532.35 L390.37 532.5 L390.83 532.66 L391.28 532.74 L391.73 532.54 L392.19 532.28 L392.64 532.68 L393.09 532.24 L393.55 532.09 L394 532.45 L394.45 532.63 L394.91 532.75 L395.36 532.32 L395.81 532.67 L396.27 532.24 L396.72 532.56 L397.17 532.44 L397.63 532.73 L398.08 532.93 L398.53 532.81 L398.99 532.56 L399.44 532.08 L399.9 532.62 L400.35 532.27 L400.8 532.26 L401.26 532.49 L401.71 532.49 L402.16 532.27 L402.62 532.49 L403.07 532.36 L403.52 532.42 L403.98 532.53 L404.43 532.71 L404.88 532.81 L405.34 532.45 L405.79 532.67 L406.24 532.9 L406.7 532.75 L407.15 532.43 L407.6 532.5 L408.06 532.65 L408.51 532.52 L408.97 532.88 L409.42 531.89 L409.87 532.96 L410.33 532.4 L410.78 532.35 L411.23 532.32 L411.69 532.35 L412.14 532.65 L412.59 532.71 L413.05 531.75 L413.5 531.86 L413.95 532.06 L414.41 532.48 L414.86 532.78 L415.31 532.47 L415.77 532.29 L416.22 532.83 L416.67 532.53 L417.13 532.39 L417.58 532.37 L418.03 532.37 L418.49 532.12 L418.94 532.61 L419.4 532.32 L419.85 532.88 L420.3 532.24 L420.76 532.42 L421.21 531.98 L421.66 532.52 L422.12 532.51 L422.57 532.62 L423.02 532.4 L423.48 532.77 L423.93 532.35 L424.38 532.34 L424.84 532.14 L425.29 532.11 L425.74 532.44 L426.2 532.22 L426.65 532.45 L427.1 532.76 L427.56 532.71 L428.01 532.37 L428.47 532.14 L428.92 532.54 L429.37 532.44 L429.83 532.73 L430.28 532.06 L430.73 532.54 L431.19 532.34 L431.64 532.35 L432.09 532.92 L432.55 532.43 L433 532.3" fill="none" stroke="#f25a5a" stroke-width="1.5" stroke-linejoin="round"/>
<path d="M257.6 550.09 L258.05 549.82 L258.51 549.89 L258.96 550.14 L259.41 549.84 L259.87 549.71 L260.32 549.61 L260.78 549.73 L261.23 549.54 L261.68 549.86 L262.14 549.78 L262.59 549.64 L263.04 549.53 L263.5 549.67 L263.95 549.66 L264.4 549.68 L264.86 549.59 L265.31 549.8 L265.77 549.91 L266.22 549.58 L266.67 549.64 L267.13 549.58 L267.58 549.75 L268.03 549.62 L268.49 549.61 L268.94 549.7 L269.39 549.43 L269.85 549.48 L270.3 549.52 L270.76 549.34 L271.21 549.49 L271.66 549.33 L272.12 549.47 L272.57 549.75 L273.02 549.56 L273.48 549.24 L273.93 549.38 L274.38 548.9 L274.84 548.78 L275.29 548.1 L275.74 547.84 L276.2 547 L276.65 546.68 L277.11 545.97 L277.56 544.99 L278.01 544.7 L278.47 544.38 L278.92 544.22 L279.37 544.66 L279.83 545.44 L280.28 546.16 L280.73 546.51 L281.19 547.62 L281.64 547.88 L282.1 548.38 L282.55 548.53 L283 549.05 L283.46 549.38 L283.91 549.53 L284.36 549.38 L284.82 549.3 L285.27 549.33 L285.72 549.53 L286.18 549.63 L286.63 549.59 L287.09 549.53 L287.54 549.53 L287.99 549.52 L288.45 549.47 L288.9 549.66 L289.35 549.71 L289.81 549.49 L290.26 549.37 L290.71 549.34 L291.17 549.37 L291.62 549.3 L292.08 549.28 L292.53 549.37 L292.98 549.23 L293.44 548.81 L293.89 549.08 L294.34 548.58 L294.8 548.2 L295.25 547.79 L295.7 547.17 L296.16 546.59 L296.61 545.89 L297.07 545.36 L297.52 544.59 L297.97 544.28 L298.43 543.89 L298.88 544.08 L299.33 544.14 L299.79 544.85 L300.24 545.31 L300.69 546.18 L301.15 546.69 L301.6 547.42 L302.06 547.91 L302.51 548.24 L302.96 548.41 L303.42 548.72 L303.87 548.83 L304.32 549.17 L304.78 548.91 L305.23 549.16 L305.68 549.17 L306.14 549.43 L306.59 549.37 L307.04 549.42 L307.5 549.1 L307.95 549.21 L308.41 548.91 L308.86 549.27 L309.31 548.78 L309.77 548.44 L310.22 548.64 L310.67 548.15 L311.13 547.69 L311.58 546.98 L312.03 546.19 L312.49 544.97 L312.94 543.68 L313.4 542.52 L313.85 540.74 L314.3 539.62 L314.76 538.71 L315.21 538.66 L315.66 539.04 L316.12 540.04 L316.57 541.6 L317.02 542.91 L317.48 544.37 L317.93 545.56 L318.39 546.53 L318.84 547.36 L319.29 547.66 L319.75 548.6 L320.2 548.71 L320.65 548.87 L321.11 549.33 L321.56 549.14 L322.01 549.29 L322.47 549.24 L322.92 549.33 L323.38 549.47 L323.83 549.42 L324.28 549.26 L324.74 549.44 L325.19 549.84 L325.64 549.51 L326.1 549.36 L326.55 549.35 L327 549.71 L327.46 549.39 L327.91 549.55 L328.37 549.67 L328.82 549.61 L329.27 549.74 L329.73 549.68 L330.18 549.77 L330.63 549.62 L331.09 549.56 L331.54 549.8 L331.99 549.55 L332.45 549.65 L332.9 549.76 L333.36 549.57 L333.81 549.71 L334.26 549.64 L334.72 549.71 L335.17 549.57 L335.62 549.65 L336.08 549.72 L336.53 549.78 L336.98 549.68 L337.44 549.75 L337.89 549.58 L338.34 550.06 L338.8 549.76 L339.25 549.74 L339.71 549.68 L340.16 549.88 L340.61 550.02 L341.07 549.59 L341.52 549.8 L341.97 549.74 L342.43 549.76 L342.88 549.85 L343.33 549.8 L343.79 549.85 L344.24 549.85 L344.7 549.59 L345.15 549.9 L345.6 549.95 L346.06 549.8 L346.51 549.76 L346.96 549.95 L347.42 549.74 L347.87 549.81 L348.32 549.76 L348.78 549.72 L349.23 549.81 L349.69 549.66 L350.14 549.9 L350.59 549.88 L351.05 549.59 L351.5 549.43" fill="none" stroke="#e52a3c" stroke-width="1.5" stroke-linejoin="round"/>
<path d="M355 550.34 L355.45 550.68 L355.91 550.74 L356.36 550.34 L356.81 550.61 L357.27 550.12 L357.72 549.52 L358.17 549.81 L358.63 549.83 L359.08 549.4 L359.53 549.5 L359.99 549.16 L360.44 549.21 L360.9 549.43 L361.35 549.44 L361.8 549.18 L362.26 549.41 L362.71 549 L363.16 549.25 L363.62 549.27 L364.07 549.22 L364.52 548.88 L364.98 549.03 L365.43 549.12 L365.88 549.24 L366.34 549.12 L366.79 549.36 L367.24 549.09 L367.7 549.53 L368.15 549.29 L368.6 549.55 L369.06 549.38 L369.51 549.45 L369.97 549.21 L370.42 549.4 L370.87 549.57 L371.33 549.3 L371.78 549.69 L372.23 549.33 L372.69 549.24 L373.14 549.67 L373.59 549.68 L374.05 549.67 L374.5 549.5 L374.95 549.78 L375.41 549.58 L375.86 549.46 L376.31 549.61 L376.77 549.46 L377.22 549.71 L377.67 549.5 L378.13 549.63 L378.58 549.78 L379.03 549.78 L379.49 549.91 L379.94 549.84 L380.4 549.94 L380.85 549.65 L381.3 549.73 L381.76 549.61 L382.21 549.74 L382.66 549.65 L383.12 549.48 L383.57 549.86 L384.02 549.71 L384.48 549.69 L384.93 549.73 L385.38 549.89 L385.84 549.72 L386.29 549.8 L386.74 549.74 L387.2 549.79 L387.65 549.87 L388.1 549.9 L388.56 549.78 L389.01 549.67 L389.47 549.65 L389.92 549.69 L390.37 549.85 L390.83 549.84 L391.28 549.64 L391.73 550.01 L392.19 549.78 L392.64 550.1 L393.09 549.77 L393.55 550 L394 549.81 L394.45 549.98 L394.91 549.85 L395.36 549.92 L395.81 549.7 L396.27 549.52 L396.72 549.71 L397.17 549.83 L397.63 549.83 L398.08 549.78 L398.53 549.77 L398.99 550.06 L399.44 549.66 L399.9 549.57 L400.35 549.87 L400.8 549.69 L401.26 549.88 L401.71 549.71 L402.16 549.7 L402.62 549.99 L403.07 549.9 L403.52 549.72 L403.98 549.67 L404.43 549.91 L404.88 549.7 L405.34 549.91 L405.79 549.82 L406.24 549.69 L406.7 549.94 L407.15 549.75 L407.6 549.99 L408.06 549.76 L408.51 549.73 L408.97 549.85 L409.42 549.84 L409.87 549.83 L410.33 549.66 L410.78 549.74 L411.23 549.66 L411.69 549.8 L412.14 549.99 L412.59 549.76 L413.05 549.61 L413.5 549.65 L413.95 549.95 L414.41 550.09 L414.86 549.69 L415.31 549.7 L415.77 549.99 L416.22 549.97 L416.67 549.82 L417.13 549.75 L417.58 550.05 L418.03 549.83 L418.49 549.75 L418.94 549.74 L419.4 549.64 L419.85 549.87 L420.3 549.93 L420.76 549.65 L421.21 549.81 L421.66 549.89 L422.12 549.78 L422.57 549.8 L423.02 549.5 L423.48 549.59 L423.93 549.98 L424.38 549.95 L424.84 549.59 L425.29 549.63 L425.74 549.61 L426.2 549.71 L426.65 549.73 L427.1 549.78 L427.56 549.87 L428.01 549.63 L428.47 549.7 L428.92 549.7 L429.37 549.72 L429.83 549.82 L430.28 549.87 L430.73 549.8 L431.19 549.76 L431.64 549.97 L432.09 549.55 L432.55 549.76 L433 549.66" fill="none" stroke="#e52a3c" stroke-width="1.5" stroke-linejoin="round"/>
<path d="M257.6 567.07 L258.05 567.08 L258.51 567.06 L258.96 566.86 L259.41 566.99 L259.87 567.17 L260.32 566.91 L260.78 567.13 L261.23 567 L261.68 567.18 L262.14 567.07 L262.59 567 L263.04 567.01 L263.5 566.94 L263.95 566.9 L264.4 567.01 L264.86 566.83 L265.31 567.07 L265.77 567.25 L266.22 566.86 L266.67 566.86 L267.13 567.15 L267.58 566.88 L268.03 566.95 L268.49 566.91 L268.94 567.03 L269.39 566.55 L269.85 567.18 L270.3 566.92 L270.76 566.83 L271.21 566.78 L271.66 566.81 L272.12 566.83 L272.57 567.08 L273.02 566.98 L273.48 566.82 L273.93 566.67 L274.38 566.56 L274.84 566.36 L275.29 566.46 L275.74 566.12 L276.2 565.75 L276.65 565.41 L277.11 565.3 L277.56 564.78 L278.01 564.22 L278.47 564.27 L278.92 564.37 L279.37 564.57 L279.83 564.73 L280.28 565.14 L280.73 565.53 L281.19 565.86 L281.64 565.94 L282.1 566.29 L282.55 566.47 L283 566.54 L283.46 566.67 L283.91 566.87 L284.36 566.76 L284.82 566.64 L285.27 566.75 L285.72 566.86 L286.18 566.81 L286.63 566.89 L287.09 566.87 L287.54 566.7 L287.99 566.72 L288.45 566.87 L288.9 567.01 L289.35 566.91 L289.81 566.86 L290.26 566.82 L290.71 566.89 L291.17 566.79 L291.62 566.89 L292.08 566.54 L292.53 566.86 L292.98 566.68 L293.44 566.37 L293.89 566.64 L294.34 566.58 L294.8 566.02 L295.25 566.22 L295.7 565.63 L296.16 565.36 L296.61 565.17 L297.07 564.86 L297.52 564.57 L297.97 564.45 L298.43 564.23 L298.88 564.49 L299.33 564.36 L299.79 564.69 L300.24 564.98 L300.69 565.15 L301.15 565.65 L301.6 565.9 L302.06 565.95 L302.51 566.37 L302.96 566.26 L303.42 566.31 L303.87 566.46 L304.32 566.56 L304.78 566.62 L305.23 566.89 L305.68 566.68 L306.14 566.46 L306.59 566.59 L307.04 566.51 L307.5 566.84 L307.95 566.73 L308.41 566.61 L308.86 566.84 L309.31 566.71 L309.77 566.4 L310.22 566.44 L310.67 566.49 L311.13 566.17 L311.58 566 L312.03 565.73 L312.49 565.1 L312.94 564.6 L313.4 563.91 L313.85 563.32 L314.3 562.78 L314.76 562.6 L315.21 562.48 L315.66 562.69 L316.12 563.05 L316.57 563.33 L317.02 564.22 L317.48 564.85 L317.93 565.15 L318.39 565.77 L318.84 566.01 L319.29 566.32 L319.75 566.54 L320.2 566.49 L320.65 566.73 L321.11 566.56 L321.56 566.72 L322.01 566.98 L322.47 566.96 L322.92 566.77 L323.38 566.9 L323.83 566.65 L324.28 566.97 L324.74 566.85 L325.19 566.92 L325.64 566.72 L326.1 566.74 L326.55 566.81 L327 566.81 L327.46 566.93 L327.91 566.97 L328.37 566.87 L328.82 566.88 L329.27 567.05 L329.73 566.9 L330.18 566.87 L330.63 566.94 L331.09 566.8 L331.54 566.91 L331.99 566.97 L332.45 566.6 L332.9 567.13 L333.36 567.16 L333.81 566.99 L334.26 567.11 L334.72 567.06 L335.17 566.88 L335.62 566.89 L336.08 567.08 L336.53 566.9 L336.98 567.07 L337.44 566.81 L337.89 567.03 L338.34 566.93 L338.8 566.93 L339.25 567.03 L339.71 567.07 L340.16 566.91 L340.61 567.09 L341.07 566.56 L341.52 566.85 L341.97 567.12 L342.43 566.74 L342.88 566.92 L343.33 567.09 L343.79 566.98 L344.24 566.93 L344.7 567.13 L345.15 566.91 L345.6 566.85 L346.06 567.19 L346.51 567.03 L346.96 566.81 L347.42 567.05 L347.87 566.87 L348.32 567.01 L348.78 567.06 L349.23 567.12 L349.69 566.98 L350.14 567.27 L350.59 566.97 L351.05 567.11 L351.5 566.98" fill="none" stroke="#c81f34" stroke-width="1.5" stroke-linejoin="round"/>
<path d="M355 567.11 L355.45 567.07 L355.91 567.05 L356.36 566.99 L356.81 566.89 L357.27 566.91 L357.72 566.92 L358.17 566.99 L358.63 567.08 L359.08 566.79 L359.53 566.74 L359.99 566.9 L360.44 566.93 L360.9 566.99 L361.35 566.82 L361.8 566.72 L362.26 566.9 L362.71 566.92 L363.16 566.89 L363.62 566.9 L364.07 566.8 L364.52 566.85 L364.98 566.68 L365.43 567.02 L365.88 566.73 L366.34 566.8 L366.79 566.88 L367.24 566.85 L367.7 567.06 L368.15 566.83 L368.6 566.72 L369.06 566.76 L369.51 566.9 L369.97 566.82 L370.42 566.92 L370.87 566.64 L371.33 566.83 L371.78 567.1 L372.23 566.82 L372.69 567.08 L373.14 566.92 L373.59 567.01 L374.05 567.02 L374.5 566.93 L374.95 566.95 L375.41 567.05 L375.86 566.86 L376.31 566.95 L376.77 567.08 L377.22 567 L377.67 566.95 L378.13 566.98 L378.58 567.04 L379.03 566.97 L379.49 566.64 L379.94 566.95 L380.4 567.06 L380.85 566.72 L381.3 567.17 L381.76 566.92 L382.21 566.83 L382.66 566.94 L383.12 566.93 L383.57 567.29 L384.02 566.79 L384.48 567.04 L384.93 567.02 L385.38 567.05 L385.84 566.65 L386.29 566.88 L386.74 566.91 L387.2 567.04 L387.65 566.69 L388.1 567.2 L388.56 567.02 L389.01 567.13 L389.47 566.97 L389.92 566.91 L390.37 566.91 L390.83 567.02 L391.28 567.02 L391.73 566.95 L392.19 567.09 L392.64 567.1 L393.09 567.01 L393.55 566.77 L394 567.12 L394.45 566.94 L394.91 567.12 L395.36 567.1 L395.81 567 L396.27 566.85 L396.72 566.94 L397.17 566.87 L397.63 566.72 L398.08 566.96 L398.53 566.88 L398.99 567.1 L399.44 566.65 L399.9 567.04 L400.35 567.11 L400.8 566.94 L401.26 566.88 L401.71 567.04 L402.16 567.11 L402.62 567.09 L403.07 566.9 L403.52 566.93 L403.98 566.93 L404.43 566.99 L404.88 567.17 L405.34 566.89 L405.79 567.11 L406.24 567.01 L406.7 566.93 L407.15 566.74 L407.6 566.96 L408.06 566.97 L408.51 566.97 L408.97 566.99 L409.42 567.06 L409.87 567.08 L410.33 566.92 L410.78 566.91 L411.23 567.11 L411.69 567.11 L412.14 566.99 L412.59 566.9 L413.05 567 L413.5 566.99 L413.95 566.98 L414.41 567 L414.86 566.98 L415.31 566.91 L415.77 567.2 L416.22 566.87 L416.67 566.98 L417.13 567.01 L417.58 567.21 L418.03 567.25 L418.49 566.75 L418.94 567.03 L419.4 567.09 L419.85 566.95 L420.3 566.93 L420.76 566.85 L421.21 566.89 L421.66 566.94 L422.12 566.68 L422.57 567.16 L423.02 566.97 L423.48 566.85 L423.93 566.89 L424.38 567.07 L424.84 566.82 L425.29 567.07 L425.74 566.84 L426.2 566.85 L426.65 567.03 L427.1 566.93 L427.56 567 L428.01 566.83 L428.47 566.78 L428.92 567.05 L429.37 567.17 L429.83 566.98 L430.28 566.99 L430.73 567.06 L431.19 566.92 L431.64 566.95 L432.09 566.66 L432.55 566.88 L433 567.05" fill="none" stroke="#c81f34" stroke-width="1.5" stroke-linejoin="round"/>
<path d="M257.6 581.86 L258.05 581.94 L258.51 581.72 L258.96 581.71 L259.41 581.89 L259.87 581.99 L260.32 581.73 L260.78 581.73 L261.23 581.61 L261.68 581.71 L262.14 581.71 L262.59 581.56 L263.04 581.97 L263.5 581.73 L263.95 581.93 L264.4 581.76 L264.86 581.76 L265.31 582.08 L265.77 581.77 L266.22 581.85 L266.67 581.89 L267.13 581.9 L267.58 581.88 L268.03 581.71 L268.49 582.03 L268.94 581.69 L269.39 581.77 L269.85 581.92 L270.3 581.6 L270.76 581.66 L271.21 581.74 L271.66 581.7 L272.12 581.72 L272.57 581.66 L273.02 581.56 L273.48 581.71 L273.93 581.82 L274.38 581.76 L274.84 581.5 L275.29 581.48 L275.74 581.44 L276.2 581.25 L276.65 581.25 L277.11 581.05 L277.56 581 L278.01 580.7 L278.47 580.86 L278.92 580.88 L279.37 581.06 L279.83 580.94 L280.28 580.94 L280.73 581.12 L281.19 581.44 L281.64 581.59 L282.1 581.62 L282.55 581.52 L283 581.2 L283.46 581.85 L283.91 581.79 L284.36 581.65 L284.82 581.74 L285.27 581.72 L285.72 581.5 L286.18 581.66 L286.63 581.71 L287.09 581.57 L287.54 581.68 L287.99 582.07 L288.45 581.48 L288.9 581.63 L289.35 581.92 L289.81 581.65 L290.26 581.54 L290.71 581.75 L291.17 581.79 L291.62 581.83 L292.08 581.79 L292.53 581.69 L292.98 581.95 L293.44 581.71 L293.89 581.52 L294.34 581.57 L294.8 581.71 L295.25 581.34 L295.7 581.21 L296.16 581.29 L296.61 581.07 L297.07 581.15 L297.52 580.82 L297.97 580.66 L298.43 580.68 L298.88 581.05 L299.33 581.16 L299.79 581.09 L300.24 581.04 L300.69 581.08 L301.15 581.17 L301.6 581.05 L302.06 581.39 L302.51 581.41 L302.96 581.66 L303.42 581.46 L303.87 581.65 L304.32 581.64 L304.78 581.45 L305.23 581.79 L305.68 581.39 L306.14 581.76 L306.59 581.64 L307.04 581.7 L307.5 581.69 L307.95 581.65 L308.41 581.71 L308.86 581.93 L309.31 581.63 L309.77 581.6 L310.22 581.77 L310.67 581.6 L311.13 581.58 L311.58 581.45 L312.03 581.19 L312.49 581.2 L312.94 580.82 L313.4 580.89 L313.85 580.57 L314.3 580.6 L314.76 580.43 L315.21 580.47 L315.66 580.42 L316.12 580.25 L316.57 580.82 L317.02 581.17 L317.48 581.07 L317.93 580.97 L318.39 581.17 L318.84 581.5 L319.29 581.84 L319.75 581.76 L320.2 581.79 L320.65 581.72 L321.11 581.82 L321.56 582.11 L322.01 581.6 L322.47 581.68 L322.92 581.55 L323.38 581.66 L323.83 581.85 L324.28 581.8 L324.74 581.64 L325.19 581.9 L325.64 581.92 L326.1 581.87 L326.55 581.57 L327 581.81 L327.46 581.73 L327.91 581.8 L328.37 581.73 L328.82 581.77 L329.27 581.73 L329.73 581.82 L330.18 581.92 L330.63 581.67 L331.09 581.72 L331.54 581.85 L331.99 581.73 L332.45 581.87 L332.9 581.86 L333.36 581.64 L333.81 581.75 L334.26 581.88 L334.72 581.76 L335.17 581.7 L335.62 581.97 L336.08 581.69 L336.53 581.74 L336.98 581.75 L337.44 581.92 L337.89 581.76 L338.34 581.68 L338.8 581.56 L339.25 581.88 L339.71 581.74 L340.16 581.82 L340.61 581.78 L341.07 581.9 L341.52 581.96 L341.97 581.61 L342.43 581.54 L342.88 581.86 L343.33 581.87 L343.79 581.84 L344.24 581.9 L344.7 581.94 L345.15 581.81 L345.6 582.01 L346.06 581.59 L346.51 581.76 L346.96 581.92 L347.42 581.86 L347.87 581.94 L348.32 581.81 L348.78 581.6 L349.23 581.89 L349.69 581.84 L350.14 581.7 L350.59 581.9 L351.05 581.87 L351.5 581.75" fill="none" stroke="#a8182e" stroke-width="1.5" stroke-linejoin="round"/>
<path d="M355 582.43 L355.45 582.19 L355.91 582.06 L356.36 581.86 L356.81 582.2 L357.27 581.95 L357.72 582.07 L358.17 582.05 L358.63 581.96 L359.08 582.2 L359.53 582.11 L359.99 582.19 L360.44 582.09 L360.9 582.12 L361.35 581.94 L361.8 582.07 L362.26 582.08 L362.71 582.18 L363.16 582.14 L363.62 581.9 L364.07 582.03 L364.52 582.24 L364.98 581.96 L365.43 582.07 L365.88 582.25 L366.34 582.12 L366.79 582.06 L367.24 581.96 L367.7 581.99 L368.15 582.27 L368.6 582.02 L369.06 582.11 L369.51 582.25 L369.97 582.5 L370.42 582.18 L370.87 582.14 L371.33 582.3 L371.78 582.25 L372.23 582.16 L372.69 582.26 L373.14 582.57 L373.59 582.38 L374.05 582.55 L374.5 582.32 L374.95 582.21 L375.41 582.46 L375.86 582.36 L376.31 582.35 L376.77 582.32 L377.22 582.33 L377.67 582.45 L378.13 582.42 L378.58 582.58 L379.03 582.41 L379.49 582.41 L379.94 582.51 L380.4 582.26 L380.85 582.58 L381.3 582.51 L381.76 582.48 L382.21 582.52 L382.66 582.55 L383.12 582.66 L383.57 582.42 L384.02 582.47 L384.48 582.71 L384.93 582.52 L385.38 582.69 L385.84 582.58 L386.29 582.56 L386.74 582.59 L387.2 582.56 L387.65 582.59 L388.1 582.72 L388.56 582.63 L389.01 582.88 L389.47 582.83 L389.92 582.68 L390.37 582.45 L390.83 582.67 L391.28 582.73 L391.73 582.7 L392.19 582.93 L392.64 582.64 L393.09 582.61 L393.55 582.87 L394 582.79 L394.45 582.77 L394.91 582.78 L395.36 582.81 L395.81 582.77 L396.27 583.06 L396.72 582.56 L397.17 582.97 L397.63 582.94 L398.08 582.98 L398.53 582.78 L398.99 582.97 L399.44 582.86 L399.9 582.94 L400.35 583.06 L400.8 582.95 L401.26 583.08 L401.71 582.93 L402.16 582.9 L402.62 582.73 L403.07 583.55 L403.52 583.21 L403.98 583.13 L404.43 583.11 L404.88 583.22 L405.34 582.86 L405.79 583.24 L406.24 583.01 L406.7 583.1 L407.15 583.05 L407.6 582.97 L408.06 582.83 L408.51 583.32 L408.97 583.09 L409.42 583.19 L409.87 583.08 L410.33 582.93 L410.78 583.03 L411.23 583.11 L411.69 583.1 L412.14 583.19 L412.59 583.08 L413.05 582.99 L413.5 583.37 L413.95 583.15 L414.41 583.38 L414.86 583.13 L415.31 583.16 L415.77 582.98 L416.22 583.21 L416.67 583.22 L417.13 583.36 L417.58 583.41 L418.03 583.45 L418.49 583.4 L418.94 583.78 L419.4 583.3 L419.85 583.4 L420.3 583.36 L420.76 583.32 L421.21 583.47 L421.66 583.32 L422.12 583.59 L422.57 583.68 L423.02 583.46 L423.48 583.29 L423.93 583.61 L424.38 583.26 L424.84 583.55 L425.29 583.56 L425.74 583.78 L426.2 583.51 L426.65 583.3 L427.1 583.51 L427.56 583.68 L428.01 583.47 L428.47 583.5 L428.92 583.48 L429.37 583.5 L429.83 583.4 L430.28 583.73 L430.73 583.58 L431.19 583.62 L431.64 583.36 L432.09 583.67 L432.55 583.83 L433 583.78" fill="none" stroke="#a8182e" stroke-width="1.5" stroke-linejoin="round"/>
<path d="M257.6 598.94 L258.05 599.15 L258.51 599.17 L258.96 599.29 L259.41 599.14 L259.87 599.29 L260.32 598.94 L260.78 599.22 L261.23 599.09 L261.68 599.05 L262.14 599.12 L262.59 599.06 L263.04 599.12 L263.5 599.05 L263.95 599.19 L264.4 598.95 L264.86 598.92 L265.31 598.96 L265.77 599.2 L266.22 599.05 L266.67 599.11 L267.13 599.04 L267.58 599.04 L268.03 599.23 L268.49 598.87 L268.94 598.89 L269.39 599.05 L269.85 598.94 L270.3 598.97 L270.76 599.14 L271.21 599.07 L271.66 599.28 L272.12 599.12 L272.57 598.87 L273.02 598.94 L273.48 598.92 L273.93 598.96 L274.38 598.68 L274.84 598.8 L275.29 598.82 L275.74 598.4 L276.2 598.24 L276.65 597.95 L277.11 597.79 L277.56 597.67 L278.01 597.42 L278.47 597.07 L278.92 597.2 L279.37 597.5 L279.83 597.74 L280.28 597.85 L280.73 598.01 L281.19 598.44 L281.64 598.4 L282.1 598.62 L282.55 598.72 L283 598.74 L283.46 598.87 L283.91 599.02 L284.36 599.08 L284.82 599.01 L285.27 598.93 L285.72 598.91 L286.18 598.89 L286.63 598.94 L287.09 598.98 L287.54 599 L287.99 599.01 L288.45 599.06 L288.9 599.14 L289.35 598.95 L289.81 598.89 L290.26 599.08 L290.71 598.95 L291.17 599.13 L291.62 599.04 L292.08 598.84 L292.53 599.2 L292.98 599.01 L293.44 599.28 L293.89 599.05 L294.34 599.11 L294.8 598.82 L295.25 598.94 L295.7 598.98 L296.16 598.9 L296.61 599.15 L297.07 598.98 L297.52 599.28 L297.97 598.99 L298.43 599.03 L298.88 599.08 L299.33 599.26 L299.79 598.89 L300.24 598.86 L300.69 599.04 L301.15 598.86 L301.6 599.18 L302.06 598.88 L302.51 599.04 L302.96 598.8 L303.42 599.04 L303.87 598.94 L304.32 598.92 L304.78 598.95 L305.23 599.11 L305.68 599.09 L306.14 599.06 L306.59 598.87 L307.04 598.91 L307.5 598.61 L307.95 599.01 L308.41 598.67 L308.86 598.61 L309.31 598.35 L309.77 598.34 L310.22 598.24 L310.67 597.8 L311.13 597.22 L311.58 596.77 L312.03 595.86 L312.49 595.54 L312.94 594.61 L313.4 593.99 L313.85 593.6 L314.3 593.51 L314.76 593.61 L315.21 594.41 L315.66 595.09 L316.12 595.69 L316.57 596.48 L317.02 597.02 L317.48 597.29 L317.93 597.66 L318.39 598.16 L318.84 598.3 L319.29 598.56 L319.75 598.57 L320.2 598.55 L320.65 598.88 L321.11 598.74 L321.56 598.96 L322.01 598.85 L322.47 598.71 L322.92 598.95 L323.38 599.1 L323.83 598.94 L324.28 599.22 L324.74 599.06 L325.19 599.01 L325.64 598.97 L326.1 598.98 L326.55 598.93 L327 599.25 L327.46 598.77 L327.91 599.21 L328.37 598.91 L328.82 599.22 L329.27 598.79 L329.73 598.95 L330.18 598.74 L330.63 599.1 L331.09 599.18 L331.54 599.11 L331.99 599.19 L332.45 599.17 L332.9 599.07 L333.36 599.1 L333.81 599.17 L334.26 599.01 L334.72 599.05 L335.17 599.16 L335.62 599.15 L336.08 599.05 L336.53 599.22 L336.98 599.16 L337.44 599.32 L337.89 599.07 L338.34 599.03 L338.8 599.08 L339.25 599.2 L339.71 599.29 L340.16 599.06 L340.61 599.07 L341.07 599.11 L341.52 598.84 L341.97 599 L342.43 598.95 L342.88 599.08 L343.33 599.26 L343.79 599.09 L344.24 599.19 L344.7 599.06 L345.15 599.16 L345.6 599.33 L346.06 598.84 L346.51 598.75 L346.96 599.07 L347.42 599.14 L347.87 599.1 L348.32 599.11 L348.78 599.07 L349.23 599.21 L349.69 599 L350.14 599.16 L350.59 599.05 L351.05 598.98 L351.5 599.09" fill="none" stroke="#8b1228" stroke-width="1.5" stroke-linejoin="round"/>
<path d="M355 598.98 L355.45 599.16 L355.91 599.01 L356.36 599.17 L356.81 599.13 L357.27 599.12 L357.72 599.28 L358.17 599.3 L358.63 599.08 L359.08 599.16 L359.53 599.28 L359.99 599.08 L360.44 599.03 L360.9 599.14 L361.35 599.28 L361.8 599.04 L362.26 599.18 L362.71 599.06 L363.16 599.17 L363.62 598.97 L364.07 598.73 L364.52 599.08 L364.98 599.16 L365.43 599.05 L365.88 599.22 L366.34 599.15 L366.79 599.18 L367.24 598.91 L367.7 599 L368.15 598.87 L368.6 598.97 L369.06 599.14 L369.51 599.02 L369.97 599.05 L370.42 599.12 L370.87 598.91 L371.33 599.13 L371.78 598.84 L372.23 599.22 L372.69 599.04 L373.14 599.07 L373.59 599.24 L374.05 599.09 L374.5 599.19 L374.95 599.19 L375.41 599.26 L375.86 599.22 L376.31 599.18 L376.77 599.12 L377.22 599.07 L377.67 599.06 L378.13 599.07 L378.58 598.89 L379.03 598.98 L379.49 599.3 L379.94 599.22 L380.4 599.18 L380.85 598.95 L381.3 599.37 L381.76 599.33 L382.21 598.98 L382.66 599.01 L383.12 599.26 L383.57 599.02 L384.02 599.18 L384.48 598.98 L384.93 599.25 L385.38 599.23 L385.84 599.3 L386.29 599.12 L386.74 598.79 L387.2 599.16 L387.65 599.05 L388.1 599.09 L388.56 599.27 L389.01 599.02 L389.47 599.21 L389.92 599.11 L390.37 598.93 L390.83 599.16 L391.28 599.19 L391.73 599.12 L392.19 599.03 L392.64 599.25 L393.09 599.04 L393.55 598.9 L394 599.18 L394.45 599.09 L394.91 599.1 L395.36 599.02 L395.81 599.32 L396.27 599.08 L396.72 599.07 L397.17 599.02 L397.63 599.28 L398.08 599.03 L398.53 599.17 L398.99 598.88 L399.44 599.14 L399.9 598.86 L400.35 599.37 L400.8 598.91 L401.26 599.23 L401.71 599.11 L402.16 599.25 L402.62 599.19 L403.07 598.93 L403.52 598.92 L403.98 599.04 L404.43 599.1 L404.88 599.21 L405.34 598.93 L405.79 599.07 L406.24 598.99 L406.7 599.05 L407.15 599.26 L407.6 599.26 L408.06 599.24 L408.51 599.23 L408.97 599.35 L409.42 599.01 L409.87 599.08 L410.33 599.13 L410.78 599.32 L411.23 599.12 L411.69 599.04 L412.14 599.01 L412.59 599.11 L413.05 599 L413.5 599.37 L413.95 599.03 L414.41 599.16 L414.86 598.83 L415.31 599.05 L415.77 599.11 L416.22 599.09 L416.67 598.99 L417.13 599.27 L417.58 598.94 L418.03 599.29 L418.49 599.23 L418.94 599.37 L419.4 599.31 L419.85 599.18 L420.3 599.33 L420.76 599.09 L421.21 599.19 L421.66 598.96 L422.12 599.24 L422.57 599.08 L423.02 599.04 L423.48 599.02 L423.93 599.39 L424.38 599.16 L424.84 599.09 L425.29 599.13 L425.74 598.84 L426.2 599.21 L426.65 599.19 L427.1 599.27 L427.56 599.04 L428.01 599.05 L428.47 598.92 L428.92 598.89 L429.37 598.97 L429.83 599.03 L430.28 598.95 L430.73 599.05 L431.19 598.94 L431.64 599.16 L432.09 598.99 L432.55 599.38 L433 599.08" fill="none" stroke="#8b1228" stroke-width="1.5" stroke-linejoin="round"/>
<path d="M257.6 613.69 L258.05 613.68 L258.51 613.7 L258.96 613.61 L259.41 613.73 L259.87 613.77 L260.32 613.61 L260.78 613.87 L261.23 613.78 L261.68 613.86 L262.14 613.8 L262.59 613.95 L263.04 613.73 L263.5 613.49 L263.95 613.9 L264.4 613.62 L264.86 613.75 L265.31 613.69 L265.77 613.66 L266.22 613.79 L266.67 613.7 L267.13 613.82 L267.58 613.44 L268.03 613.66 L268.49 613.62 L268.94 613.77 L269.39 613.67 L269.85 613.6 L270.3 613.64 L270.76 613.59 L271.21 613.61 L271.66 613.32 L272.12 613.43 L272.57 613.4 L273.02 613.37 L273.48 613.21 L273.93 613.28 L274.38 612.41 L274.84 612.68 L275.29 612.21 L275.74 611.77 L276.2 611.32 L276.65 610.73 L277.11 609.72 L277.56 609.05 L278.01 608.65 L278.47 608.49 L278.92 608.45 L279.37 608.72 L279.83 609.51 L280.28 609.87 L280.73 610.69 L281.19 611.43 L281.64 611.94 L282.1 612.48 L282.55 612.89 L283 613.27 L283.46 613.19 L283.91 613.62 L284.36 613.62 L284.82 613.44 L285.27 613.25 L285.72 613.56 L286.18 613.6 L286.63 613.7 L287.09 613.59 L287.54 613.65 L287.99 613.6 L288.45 613.46 L288.9 613.61 L289.35 613.65 L289.81 613.55 L290.26 613.49 L290.71 613.89 L291.17 613.76 L291.62 613.67 L292.08 613.6 L292.53 613.73 L292.98 613.71 L293.44 613.81 L293.89 613.67 L294.34 613.5 L294.8 613.66 L295.25 613.75 L295.7 613.7 L296.16 613.51 L296.61 613.81 L297.07 613.5 L297.52 613.65 L297.97 613.52 L298.43 613.82 L298.88 613.76 L299.33 613.58 L299.79 613.54 L300.24 613.58 L300.69 613.8 L301.15 613.71 L301.6 613.53 L302.06 613.64 L302.51 613.94 L302.96 613.45 L303.42 613.47 L303.87 613.58 L304.32 613.49 L304.78 613.57 L305.23 613.63 L305.68 613.4 L306.14 613.61 L306.59 613.11 L307.04 613.24 L307.5 613.08 L307.95 613.06 L308.41 612.92 L308.86 612.82 L309.31 612.58 L309.77 612.59 L310.22 611.88 L310.67 611.08 L311.13 610.29 L311.58 609.16 L312.03 608.02 L312.49 606.43 L312.94 604.95 L313.4 603.63 L313.85 602.94 L314.3 602.89 L314.76 603.2 L315.21 604.11 L315.66 605.69 L316.12 606.91 L316.57 608.51 L317.02 609.66 L317.48 610.5 L317.93 611.35 L318.39 612.05 L318.84 612.42 L319.29 612.6 L319.75 612.92 L320.2 612.99 L320.65 613.2 L321.11 613.24 L321.56 613.36 L322.01 613.53 L322.47 613.06 L322.92 613.27 L323.38 613.61 L323.83 613.7 L324.28 613.52 L324.74 613.74 L325.19 613.32 L325.64 613.71 L326.1 613.49 L326.55 613.62 L327 613.43 L327.46 613.53 L327.91 613.76 L328.37 613.68 L328.82 613.76 L329.27 613.92 L329.73 613.46 L330.18 613.57 L330.63 613.74 L331.09 613.64 L331.54 613.92 L331.99 613.57 L332.45 613.71 L332.9 613.73 L333.36 613.7 L333.81 613.5 L334.26 613.79 L334.72 613.5 L335.17 613.64 L335.62 613.65 L336.08 613.93 L336.53 613.85 L336.98 613.69 L337.44 613.73 L337.89 613.74 L338.34 613.67 L338.8 613.69 L339.25 613.83 L339.71 613.91 L340.16 613.53 L340.61 613.66 L341.07 613.9 L341.52 613.85 L341.97 613.7 L342.43 613.68 L342.88 613.78 L343.33 613.61 L343.79 613.7 L344.24 613.78 L344.7 613.74 L345.15 613.65 L345.6 613.95 L346.06 613.47 L346.51 613.99 L346.96 613.72 L347.42 613.72 L347.87 613.73 L348.32 613.93 L348.78 613.71 L349.23 613.7 L349.69 613.76 L350.14 613.95 L350.59 613.94 L351.05 613.69 L351.5 613.73" fill="none" stroke="#680c1e" stroke-width="1.5" stroke-linejoin="round"/>
<path d="M355 613.77 L355.45 613.75 L355.91 613.87 L356.36 613.65 L356.81 613.66 L357.27 613.96 L357.72 613.74 L358.17 613.66 L358.63 613.95 L359.08 613.87 L359.53 613.87 L359.99 613.52 L360.44 613.93 L360.9 613.72 L361.35 613.71 L361.8 613.82 L362.26 613.83 L362.71 613.93 L363.16 613.83 L363.62 613.9 L364.07 613.8 L364.52 613.63 L364.98 613.89 L365.43 613.63 L365.88 613.81 L366.34 613.87 L366.79 613.64 L367.24 613.98 L367.7 613.94 L368.15 613.91 L368.6 613.88 L369.06 613.76 L369.51 613.79 L369.97 613.94 L370.42 613.97 L370.87 614.07 L371.33 613.81 L371.78 613.72 L372.23 614.02 L372.69 613.89 L373.14 613.78 L373.59 613.68 L374.05 613.85 L374.5 613.81 L374.95 613.58 L375.41 614.04 L375.86 613.72 L376.31 613.78 L376.77 613.82 L377.22 613.98 L377.67 613.76 L378.13 613.91 L378.58 613.97 L379.03 613.77 L379.49 613.76 L379.94 613.84 L380.4 613.71 L380.85 613.82 L381.3 613.91 L381.76 613.74 L382.21 613.71 L382.66 613.59 L383.12 613.93 L383.57 613.92 L384.02 613.85 L384.48 613.8 L384.93 613.88 L385.38 613.88 L385.84 613.8 L386.29 613.66 L386.74 613.67 L387.2 613.72 L387.65 613.86 L388.1 613.79 L388.56 613.76 L389.01 613.77 L389.47 613.9 L389.92 613.86 L390.37 613.83 L390.83 613.71 L391.28 613.71 L391.73 613.71 L392.19 614.04 L392.64 613.8 L393.09 613.74 L393.55 613.82 L394 613.81 L394.45 613.9 L394.91 613.54 L395.36 613.97 L395.81 613.73 L396.27 613.77 L396.72 613.82 L397.17 613.96 L397.63 613.81 L398.08 614.13 L398.53 613.6 L398.99 613.78 L399.44 613.9 L399.9 613.98 L400.35 613.82 L400.8 613.66 L401.26 613.96 L401.71 613.73 L402.16 613.76 L402.62 613.79 L403.07 614.01 L403.52 613.91 L403.98 613.84 L404.43 613.71 L404.88 613.62 L405.34 613.96 L405.79 613.71 L406.24 613.95 L406.7 613.81 L407.15 613.66 L407.6 613.68 L408.06 613.78 L408.51 613.55 L408.97 613.87 L409.42 613.61 L409.87 614.13 L410.33 613.89 L410.78 613.78 L411.23 613.8 L411.69 613.92 L412.14 613.65 L412.59 613.84 L413.05 613.79 L413.5 613.9 L413.95 613.79 L414.41 613.83 L414.86 613.85 L415.31 614 L415.77 613.69 L416.22 613.81 L416.67 613.74 L417.13 613.61 L417.58 613.88 L418.03 613.94 L418.49 613.79 L418.94 613.54 L419.4 613.92 L419.85 613.73 L420.3 613.62 L420.76 613.93 L421.21 613.91 L421.66 613.84 L422.12 613.59 L422.57 613.84 L423.02 613.83 L423.48 613.59 L423.93 613.71 L424.38 613.82 L424.84 613.93 L425.29 613.53 L425.74 613.74 L426.2 613.68 L426.65 613.89 L427.1 613.74 L427.56 613.83 L428.01 613.7 L428.47 613.82 L428.92 613.78 L429.37 613.75 L429.83 613.92 L430.28 613.94 L430.73 614.03 L431.19 613.97 L431.64 613.85 L432.09 613.93 L432.55 613.92 L433 613.91" fill="none" stroke="#680c1e" stroke-width="1.5" stroke-linejoin="round"/>
<text x="0" y="0" transform="translate(259.9 456.4) scale(1 1.07)" font-size="8.2" fill="#000" stroke="#000" text-anchor="start" font-weight="bold">PdCu<tspan font-size="4.92" baseline-shift="-2.13">1</tspan>/ZnO</text>
<text x="0" y="0" transform="translate(315.9 463.9) scale(1 1.13)" font-size="7.35" fill="#9a30f0" stroke="#9a30f0" text-anchor="middle" font-weight="bold">2814</text>
<text x="0" y="0" transform="translate(299.1 474.7) scale(1 1.13)" font-size="7.35" fill="#f08a20" stroke="#f08a20" text-anchor="middle" font-weight="bold">2867</text>
<text x="0" y="0" transform="translate(278.5 482.1) scale(1 1.13)" font-size="7.35" fill="#9a30f0" stroke="#9a30f0" text-anchor="middle" font-weight="bold">2931</text>
<text x="346.4" y="464.3" font-size="7.6" fill="#9a30f0" stroke="#9a30f0" text-anchor="start" font-weight="bold">CH<tspan font-size="4.56" baseline-shift="-1.98">3</tspan>O*</text>
<text x="346.4" y="473.1" font-size="7.6" fill="#f08a20" stroke="#f08a20" text-anchor="start" font-weight="bold">HCOO*</text>
<text x="346.4" y="480.8" font-size="7.6" fill="#000" stroke="#000" text-anchor="start" font-weight="bold">gas CO</text>
<text x="0" y="0" transform="translate(401.3 475.3) scale(1 1.13)" font-size="7.35" fill="#000" stroke="#000" text-anchor="middle" font-weight="bold">2202</text>
<text x="426.5" y="461.9" font-size="6.3" fill="#000" stroke="#000" text-anchor="end" font-weight="bold">0.01</text>
<line x1="429.5" y1="449.6" x2="429.5" y2="471.6" stroke="#222" stroke-width="1.1" stroke-linecap="butt"/>
<text x="0" y="0" transform="translate(435 500.4) scale(1 1.06)" font-size="7.4" fill="#f9a8a3" stroke="#f9a8a3" text-anchor="start" font-weight="bold">260°C</text>
<text x="0" y="0" transform="translate(435 517) scale(1 1.06)" font-size="7.4" fill="#f68884" stroke="#f68884" text-anchor="start" font-weight="bold">230°C</text>
<text x="0" y="0" transform="translate(435 536.4) scale(1 1.06)" font-size="7.4" fill="#f25a5a" stroke="#f25a5a" text-anchor="start" font-weight="bold">200°C</text>
<text x="0" y="0" transform="translate(435 552.6) scale(1 1.06)" font-size="7.4" fill="#e52a3c" stroke="#e52a3c" text-anchor="start" font-weight="bold">170°C</text>
<text x="0" y="0" transform="translate(435 569.8) scale(1 1.06)" font-size="7.4" fill="#c81f34" stroke="#c81f34" text-anchor="start" font-weight="bold">140°C</text>
<text x="0" y="0" transform="translate(435 586.3) scale(1 1.06)" font-size="7.4" fill="#a8182e" stroke="#a8182e" text-anchor="start" font-weight="bold">110°C</text>
<text x="0" y="0" transform="translate(435 601.9) scale(1 1.06)" font-size="7.4" fill="#8b1228" stroke="#8b1228" text-anchor="start" font-weight="bold">80°C</text>
<text x="0" y="0" transform="translate(435 617.1) scale(1 1.06)" font-size="7.4" fill="#680c1e" stroke="#680c1e" text-anchor="start" font-weight="bold">50°C</text>
<rect x="257.1" y="446.7" width="176.4" height="175.9" fill="none" stroke="#000" stroke-width="1.45"/>
<rect x="350.25" y="444.7" width="4.5" height="4" fill="#fff"/>
<line x1="349.2" y1="450" x2="353" y2="443.4" stroke="#000" stroke-width="1.2" stroke-linecap="butt"/>
<line x1="352" y1="450" x2="355.8" y2="443.4" stroke="#000" stroke-width="1.2" stroke-linecap="butt"/>
<rect x="350.25" y="620.6" width="4.5" height="4" fill="#fff"/>
<line x1="349.2" y1="625.9" x2="353" y2="619.3" stroke="#000" stroke-width="1.2" stroke-linecap="butt"/>
<line x1="352" y1="625.9" x2="355.8" y2="619.3" stroke="#000" stroke-width="1.2" stroke-linecap="butt"/>
<line x1="257.1" y1="622.6" x2="257.1" y2="626.1" stroke="#000" stroke-width="1.2" stroke-linecap="butt"/>
<line x1="288.3" y1="622.6" x2="288.3" y2="626.1" stroke="#000" stroke-width="1.2" stroke-linecap="butt"/>
<line x1="319.5" y1="622.6" x2="319.5" y2="626.1" stroke="#000" stroke-width="1.2" stroke-linecap="butt"/>
<line x1="370.66" y1="622.6" x2="370.66" y2="626.1" stroke="#000" stroke-width="1.2" stroke-linecap="butt"/>
<line x1="402.08" y1="622.6" x2="402.08" y2="626.1" stroke="#000" stroke-width="1.2" stroke-linecap="butt"/>
<line x1="433.5" y1="622.6" x2="433.5" y2="626.1" stroke="#000" stroke-width="1.2" stroke-linecap="butt"/>
<line x1="272.7" y1="622.6" x2="272.7" y2="624.8" stroke="#000" stroke-width="1.2" stroke-linecap="butt"/>
<line x1="303.9" y1="622.6" x2="303.9" y2="624.8" stroke="#000" stroke-width="1.2" stroke-linecap="butt"/>
<line x1="335.1" y1="622.6" x2="335.1" y2="624.8" stroke="#000" stroke-width="1.2" stroke-linecap="butt"/>
<line x1="386.37" y1="622.6" x2="386.37" y2="624.8" stroke="#000" stroke-width="1.2" stroke-linecap="butt"/>
<line x1="417.79" y1="622.6" x2="417.79" y2="624.8" stroke="#000" stroke-width="1.2" stroke-linecap="butt"/>
<text x="0" y="0" transform="translate(257.1 634.9) scale(0.92 1.02)" font-size="8" fill="#000" stroke="#000" text-anchor="middle" font-weight="bold" letter-spacing="0.3">3000</text>
<text x="0" y="0" transform="translate(288.3 634.9) scale(0.92 1.02)" font-size="8" fill="#000" stroke="#000" text-anchor="middle" font-weight="bold" letter-spacing="0.3">2900</text>
<text x="0" y="0" transform="translate(319.5 634.9) scale(0.92 1.02)" font-size="8" fill="#000" stroke="#000" text-anchor="middle" font-weight="bold" letter-spacing="0.3">2800</text>
<text x="0" y="0" transform="translate(370.66 634.9) scale(0.92 1.02)" font-size="8" fill="#000" stroke="#000" text-anchor="middle" font-weight="bold" letter-spacing="0.3">2300</text>
<text x="0" y="0" transform="translate(402.08 634.9) scale(0.92 1.02)" font-size="8" fill="#000" stroke="#000" text-anchor="middle" font-weight="bold" letter-spacing="0.3">2200</text>
<text x="0" y="0" transform="translate(433.5 634.9) scale(0.92 1.02)" font-size="8" fill="#000" stroke="#000" text-anchor="middle" font-weight="bold" letter-spacing="0.3">2100</text>
<text x="0" y="0" transform="translate(345 652.3) scale(1 0.94)" font-size="10" fill="#000" stroke="none" text-anchor="middle" font-weight="bold">Wavenumber (cm<tspan font-size="6.8" baseline-shift="4">-1</tspan>)</text>
<text x="0" y="0" font-size="10" font-weight="bold" text-anchor="middle" dominant-baseline="central" transform="translate(246.3 534.7) rotate(-90)">Kubelka-Munk</text>
<path d="M491.8 621.98 L492.39 621.93 L492.97 622.29 L493.56 622.8 L494.15 622.11 L494.73 622.5 L495.32 622.2 L495.91 621.98 L496.5 622.57 L497.08 622.14 L497.67 622.21 L498.26 622.3 L498.84 622.26 L499.43 622.04 L500.02 621.82 L500.6 622.37 L501.19 621.53 L501.78 622.4 L502.37 622.03 L502.95 622.42 L503.54 622.31 L504.13 622.29 L504.71 622.53 L505.3 622.51 L505.89 622.51 L506.47 622.48 L507.06 622.56 L507.65 622.68 L508.23 622.75 L508.82 622.36 L509.41 622.91 L510 621.95 L510.58 621.71 L511.17 622.35 L511.76 622.6 L512.34 622.9 L512.93 622.71 L513.52 622.16 L514.1 622.65 L514.69 622.15 L515.28 622.52 L515.87 622.18 L516.45 622.41 L517.04 622.33 L517.63 622.61 L518.21 621.79 L518.8 621.87 L519.39 622.54 L519.97 622.44 L520.56 622.05 L521.15 622.12 L521.73 623.08 L522.32 621.75 L522.91 622.71 L523.5 622.19 L524.08 622.97 L524.67 622.47 L525.26 622.26 L525.84 622.1 L526.43 622.23 L527.02 622.46 L527.6 621.53 L528.19 621.79 L528.78 622.42 L529.37 622.15 L529.95 622.43 L530.54 621.99 L531.13 621.85 L531.71 622.89 L532.3 622.69 L532.89 622.56 L533.47 622.12 L534.06 622.38 L534.65 622.01 L535.23 621.74 L535.82 622.3 L536.41 622.2 L537 622.15 L537.58 621.91 L538.17 622.08 L538.76 622.09 L539.34 621.65 L539.93 621.78 L540.52 622.25 L541.1 622 L541.69 621.9 L542.28 622.12 L542.87 621.46 L543.45 622.06 L544.04 622.16 L544.63 622 L545.21 621.54 L545.8 622.28 L546.39 620.89 L546.97 621.8 L547.56 621.26 L548.15 621.99 L548.73 622.18 L549.32 622.24 L549.91 621.55 L550.5 621.65 L551.08 621.58 L551.67 621.86 L552.26 622.38 L552.84 622.37 L553.43 621.92 L554.02 622.09 L554.6 621.07 L555.19 622.02 L555.78 621.72 L556.37 621.55 L556.95 621.27 L557.54 621.97 L558.13 621.38 L558.71 621.52 L559.3 621.36 L559.89 621.58 L560.47 621.31 L561.06 621.21 L561.65 621.55 L562.23 621.24 L562.82 621.06 L563.41 620.59 L564 621.31 L564.58 620.81 L565.17 620.85 L565.76 620.76 L566.34 620.79 L566.93 621.08 L567.52 620.9 L568.1 620.68 L568.69 620.98 L569.28 620.66 L569.87 620.56 L570.45 620.19 L571.04 619.77 L571.63 620.55 L572.21 620.52 L572.8 620.03 L573.39 619.43 L573.97 619.65 L574.56 619.62 L575.15 619.54 L575.73 619.5 L576.32 619.69 L576.91 618.73 L577.5 619.58 L578.08 619.16 L578.67 618.84 L579.26 619.36 L579.84 618.33 L580.43 617.99 L581.02 617.66 L581.6 617.9 L582.19 617.32 L582.78 617.52 L583.37 617.34 L583.95 616.97 L584.54 616.4 L585.13 617.17 L585.71 616.23 L586.3 615.82 L586.89 616.38 L587.47 615.57 L588.06 615.08 L588.65 615.27 L589.23 614.69 L589.82 614.54 L590.41 614.25 L591 613.61 L591.58 613.35 L592.17 612.79 L592.76 612.69 L593.34 611.66 L593.93 611.48 L594.52 611.01 L595.1 610.79 L595.69 610.48 L596.28 609.27 L596.87 609.01 L597.45 608.37 L598.04 608.32 L598.63 607.7 L599.21 607.52 L599.8 606.89 L600.39 605.34 L600.97 604.85 L601.56 604.73 L602.15 604.06 L602.73 602.88 L603.32 602.58 L603.91 601.9 L604.5 601.11 L605.08 600.17 L605.67 599.44 L606.26 598.44 L606.84 597.73 L607.43 596.79 L608.02 596.49 L608.6 595.44 L609.19 594.05 L609.78 593.02 L610.37 592.03 L610.95 591.94 L611.54 590.42 L612.13 589.51 L612.71 588.4 L613.3 587.61 L613.89 586.56 L614.47 585.48 L615.06 584.19 L615.65 583.14 L616.23 582.14 L616.82 581.17 L617.41 579.8 L618 579.01 L618.58 578.03 L619.17 576.13 L619.76 575.48 L620.34 574.21 L620.93 573.13 L621.52 572.3 L622.1 570.68 L622.69 569.68 L623.28 568.84 L623.87 568.1 L624.45 566.19 L625.04 565.28 L625.63 564.11 L626.21 563.34 L626.8 561.9 L627.39 560.8 L627.97 560.09 L628.56 559 L629.15 557.94 L629.73 557.43 L630.32 555.8 L630.91 555.7 L631.5 554.05 L632.08 553.25 L632.67 552.04 L633.26 551.2 L633.84 550.69 L634.43 549.15 L635.02 548.64 L635.6 547.92 L636.19 547.05 L636.78 545.95 L637.37 545.63 L637.95 545.24 L638.54 543.82 L639.13 543.37 L639.71 543.07 L640.3 542.21 L640.89 541.62 L641.47 541.22 L642.06 540.66 L642.65 539.98 L643.23 539.45 L643.82 539.1 L644.41 538.07 L645 537.52 L645.58 537.45 L646.17 536.95 L646.76 536.4 L647.34 536.31 L647.93 535.95 L648.52 535.34 L649.1 535.21 L649.69 534.96 L650.28 535.13 L650.87 534.2 L651.45 533.95 L652.04 533.81 L652.63 533.26 L653.21 532.56 L653.8 532.27 L654.39 532.02 L654.97 532.35 L655.56 531.65 L656.15 531.85 L656.73 531.69 L657.32 531.02 L657.91 531.03 L658.5 530.7 L659.08 530.4 L659.67 530.76 L660.26 530.26 L660.84 530.18 L661.43 530.35 L662.02 529.62 L662.6 529.62 L663.19 529.36 L663.78 529.52 L664.37 529.53 L664.95 529.46 L665.54 529.57 L666.13 529.4 L666.71 529.14 L667.3 528.45" fill="none" stroke="#1f3cf5" stroke-width="1.5" stroke-linejoin="round"/>
<path d="M491.8 621.59 L492.39 621.76 L492.97 621.44 L493.56 622.2 L494.15 621.71 L494.73 621.59 L495.32 622.22 L495.91 621.38 L496.5 622.18 L497.08 621.88 L497.67 621.68 L498.26 621.85 L498.84 621.58 L499.43 622.16 L500.02 621.97 L500.6 621.93 L501.19 621.68 L501.78 621.56 L502.37 622.04 L502.95 621.49 L503.54 621.71 L504.13 621.7 L504.71 622.14 L505.3 621.94 L505.89 621.93 L506.47 622.08 L507.06 622.08 L507.65 621.52 L508.23 621.63 L508.82 621.81 L509.41 621.92 L510 621.92 L510.58 622.24 L511.17 621.61 L511.76 621.8 L512.34 621.83 L512.93 622.52 L513.52 621.61 L514.1 621.51 L514.69 621.7 L515.28 621.12 L515.87 621.6 L516.45 621.74 L517.04 622.26 L517.63 621.36 L518.21 621.74 L518.8 621.77 L519.39 621.71 L519.97 621.68 L520.56 621.85 L521.15 622 L521.73 622.25 L522.32 622.44 L522.91 621.86 L523.5 621.45 L524.08 622.02 L524.67 621.55 L525.26 621.7 L525.84 621.69 L526.43 621.88 L527.02 621.65 L527.6 621.7 L528.19 621.46 L528.78 621.55 L529.37 621.49 L529.95 621.29 L530.54 622.03 L531.13 620.98 L531.71 621.43 L532.3 621.98 L532.89 621.63 L533.47 621.32 L534.06 621.16 L534.65 621.26 L535.23 621.86 L535.82 621.12 L536.41 621.14 L537 621.48 L537.58 621.14 L538.17 621.73 L538.76 621.47 L539.34 621.38 L539.93 621.17 L540.52 620.9 L541.1 621.26 L541.69 621.3 L542.28 621.16 L542.87 621.87 L543.45 621.2 L544.04 620.68 L544.63 621.68 L545.21 620.81 L545.8 621.32 L546.39 620.98 L546.97 620.73 L547.56 620.33 L548.15 620.67 L548.73 620.73 L549.32 620.31 L549.91 620.27 L550.5 620.43 L551.08 620.45 L551.67 620.4 L552.26 620.4 L552.84 619.58 L553.43 620.1 L554.02 620.08 L554.6 620.04 L555.19 619.72 L555.78 619.7 L556.37 619.6 L556.95 619.6 L557.54 619.23 L558.13 618.24 L558.71 619.45 L559.3 618.2 L559.89 617.88 L560.47 618.1 L561.06 617.9 L561.65 618.17 L562.23 617.65 L562.82 617.04 L563.41 617.05 L564 616.91 L564.58 616.06 L565.17 615.8 L565.76 615.57 L566.34 615.51 L566.93 614.87 L567.52 614.67 L568.1 614.43 L568.69 613.29 L569.28 613.62 L569.87 613.12 L570.45 612.63 L571.04 611.79 L571.63 611.77 L572.21 610.33 L572.8 610.16 L573.39 609.22 L573.97 608.85 L574.56 608.52 L575.15 607.59 L575.73 607.04 L576.32 606.57 L576.91 605.79 L577.5 604.7 L578.08 604.1 L578.67 603.46 L579.26 602 L579.84 600.86 L580.43 600.29 L581.02 600 L581.6 598.42 L582.19 597.07 L582.78 596.35 L583.37 595.36 L583.95 594.46 L584.54 592.51 L585.13 591.6 L585.71 589.71 L586.3 589.46 L586.89 588.32 L587.47 586.68 L588.06 586.17 L588.65 584.49 L589.23 582.7 L589.82 581.92 L590.41 580.49 L591 578.56 L591.58 576.51 L592.17 575.79 L592.76 574.26 L593.34 573.14 L593.93 571.52 L594.52 569.73 L595.1 568.81 L595.69 566.98 L596.28 565.22 L596.87 563.66 L597.45 562.07 L598.04 560.78 L598.63 558.67 L599.21 557.88 L599.8 555.79 L600.39 554.44 L600.97 552.56 L601.56 551.6 L602.15 550.37 L602.73 548.74 L603.32 546.89 L603.91 545.29 L604.5 543.5 L605.08 542.84 L605.67 541.34 L606.26 540.12 L606.84 539.11 L607.43 536.87 L608.02 535.51 L608.6 534.12 L609.19 533.03 L609.78 532.09 L610.37 530.63 L610.95 529.86 L611.54 528.19 L612.13 527.45 L612.71 526.13 L613.3 525.32 L613.89 524.03 L614.47 522.9 L615.06 521.64 L615.65 520.47 L616.23 520.02 L616.82 518.51 L617.41 518.17 L618 517.18 L618.58 515.84 L619.17 514.68 L619.76 514.21 L620.34 512.72 L620.93 512.67 L621.52 512.28 L622.1 511.12 L622.69 510.56 L623.28 509.74 L623.87 508.84 L624.45 508.5 L625.04 507.93 L625.63 507.09 L626.21 506.56 L626.8 506.12 L627.39 505.67 L627.97 503.99 L628.56 504.24 L629.15 503.64 L629.73 503.45 L630.32 502.36 L630.91 502.27 L631.5 501.94 L632.08 500.82 L632.67 500.66 L633.26 500.44 L633.84 499.97 L634.43 499.63 L635.02 499.49 L635.6 498.95 L636.19 498.17 L636.78 498.14 L637.37 498.15 L637.95 497.99 L638.54 496.98 L639.13 496.88 L639.71 497.6 L640.3 496.57 L640.89 496.87 L641.47 495.95 L642.06 495.8 L642.65 495.57 L643.23 495.78 L643.82 495.15 L644.41 494.9 L645 494.6 L645.58 495 L646.17 494.18 L646.76 494.2 L647.34 493.56 L647.93 493.84 L648.52 494.1 L649.1 493.48 L649.69 493.72 L650.28 493.7 L650.87 493.28 L651.45 493.54 L652.04 492.92 L652.63 492.25 L653.21 492.89 L653.8 492.23 L654.39 492.57 L654.97 492.32 L655.56 491.91 L656.15 492.82 L656.73 492.42 L657.32 491.86 L657.91 492.35 L658.5 492.37 L659.08 492.05 L659.67 491.86 L660.26 492.02 L660.84 491.89 L661.43 491.25 L662.02 492.14 L662.6 491.5 L663.19 491.56 L663.78 491.1 L664.37 491.18 L664.95 491.55 L665.54 491.8 L666.13 491.17 L666.71 490.92 L667.3 490.93" fill="none" stroke="#ff2020" stroke-width="1.5" stroke-linejoin="round"/>
<path d="M491.3 573.41 L512.41 563.42 L533.52 563.42 L554.62 572.43 L575.73 577.53 L596.84 557.54 L617.95 544.01 L639.06 534.02" fill="none" stroke="#1f3cf5" stroke-width="1.5" stroke-linejoin="round" stroke-dasharray="4.5 2.8"/>
<path d="M491.3 600.07 L512.41 596.34 L533.52 594.58 L554.62 568.12 L575.73 516.18 L596.84 471.69 L617.95 456.4 L639.06 453.85" fill="none" stroke="#ff2020" stroke-width="1.5" stroke-linejoin="round" stroke-dasharray="4.5 2.8"/>
<circle cx="491.3" cy="573.41" r="2.6" fill="#1f3cf5" stroke="#1f3cf5" stroke-width="1.2"/>
<circle cx="512.41" cy="563.42" r="2.6" fill="#1f3cf5" stroke="#1f3cf5" stroke-width="1.2"/>
<circle cx="533.52" cy="563.42" r="2.6" fill="#1f3cf5" stroke="#1f3cf5" stroke-width="1.2"/>
<circle cx="554.62" cy="572.43" r="2.6" fill="#1f3cf5" stroke="#1f3cf5" stroke-width="1.2"/>
<circle cx="575.73" cy="577.53" r="2.6" fill="#1f3cf5" stroke="#1f3cf5" stroke-width="1.2"/>
<circle cx="596.84" cy="557.54" r="2.6" fill="#1f3cf5" stroke="#1f3cf5" stroke-width="1.2"/>
<circle cx="617.95" cy="544.01" r="2.6" fill="#1f3cf5" stroke="#1f3cf5" stroke-width="1.2"/>
<circle cx="639.06" cy="534.02" r="2.6" fill="#1f3cf5" stroke="#1f3cf5" stroke-width="1.2"/>
<path d="M487.8 597.44 L494.8 597.44 L491.3 603.39 Z" fill="#ff2020" stroke="#ff2020" stroke-width="1.2"/>
<path d="M508.91 593.72 L515.91 593.72 L512.41 599.67 Z" fill="#ff2020" stroke="#ff2020" stroke-width="1.2"/>
<path d="M530.02 591.95 L537.02 591.95 L533.52 597.9 Z" fill="#ff2020" stroke="#ff2020" stroke-width="1.2"/>
<path d="M551.12 565.5 L558.12 565.5 L554.62 571.45 Z" fill="#ff2020" stroke="#ff2020" stroke-width="1.2"/>
<path d="M572.23 513.55 L579.23 513.55 L575.73 519.5 Z" fill="#ff2020" stroke="#ff2020" stroke-width="1.2"/>
<path d="M593.34 469.06 L600.34 469.06 L596.84 475.01 Z" fill="#ff2020" stroke="#ff2020" stroke-width="1.2"/>
<path d="M614.45 453.77 L621.45 453.77 L617.95 459.72 Z" fill="#ff2020" stroke="#ff2020" stroke-width="1.2"/>
<path d="M635.56 451.23 L642.56 451.23 L639.06 457.18 Z" fill="#ff2020" stroke="#ff2020" stroke-width="1.2"/>
<text x="0" y="0" transform="translate(494.5 457.5) scale(1 1.07)" font-size="8.2" fill="#000" stroke="#000" text-anchor="start" font-weight="bold">2867 cm<tspan font-size="5.58" baseline-shift="3.28">-1</tspan> HCOO*</text>
<line x1="494.9" y1="467" x2="515.6" y2="467" stroke="#1f3cf5" stroke-width="1.6" stroke-linecap="butt"/>
<text x="0" y="0" transform="translate(518.4 469.6) scale(1 1.07)" font-size="8.2" fill="#000" stroke="#000" text-anchor="start" font-weight="bold">Pd/ZnO</text>
<line x1="494.9" y1="477.7" x2="515.6" y2="477.7" stroke="#ff2020" stroke-width="1.6" stroke-linecap="butt"/>
<text x="0" y="0" transform="translate(518.4 480.8) scale(1 1.07)" font-size="8.2" fill="#000" stroke="#000" text-anchor="start" font-weight="bold">PdCu<tspan font-size="4.92" baseline-shift="-2.13">1</tspan>/ZnO</text>
<line x1="572.3" y1="523.9" x2="546.3" y2="523.9" stroke="#777" stroke-width="0.9" stroke-linecap="butt"/>
<path d="M541.3 523.9 L546.3 522.2 L546.3 525.6 Z" fill="#777"/>
<line x1="624.7" y1="566.4" x2="651.6" y2="566.4" stroke="#000" stroke-width="0.9" stroke-linecap="butt"/>
<path d="M657.1 566.4 L651.6 568 L651.6 564.8 Z" fill="#000"/>
<text x="0" y="0" transform="translate(545.6 610.3) scale(1 1.1)" font-size="7.5" fill="#ff2020" stroke="#ff2020" text-anchor="start" font-weight="bold">140°C</text>
<text x="0" y="0" transform="translate(577.5 610.3) scale(1 1.1)" font-size="7.5" fill="#1f3cf5" stroke="#1f3cf5" text-anchor="start" font-weight="bold">170°C</text>
<text x="555.1" y="620.2" font-size="9.5" fill="#ff2020" stroke="none" text-anchor="middle" font-weight="bold">*</text>
<text x="576.2" y="620.2" font-size="9.5" fill="#1f3cf5" stroke="none" text-anchor="middle" font-weight="bold">*</text>
<rect x="491.3" y="446.5" width="176.3" height="176.1" fill="none" stroke="#000" stroke-width="1.45"/>
<line x1="491.3" y1="446.6" x2="489.1" y2="446.6" stroke="#000" stroke-width="1" stroke-linecap="butt"/>
<text x="0" y="0" transform="translate(485.7 449.7) scale(0.92 1.02)" font-size="8" fill="#000" stroke="#000" text-anchor="end" font-weight="bold" letter-spacing="0.3">0.08</text>
<line x1="491.3" y1="485.8" x2="489.1" y2="485.8" stroke="#000" stroke-width="1" stroke-linecap="butt"/>
<text x="0" y="0" transform="translate(485.7 488.9) scale(0.92 1.02)" font-size="8" fill="#000" stroke="#000" text-anchor="end" font-weight="bold" letter-spacing="0.3">0.06</text>
<line x1="491.3" y1="525" x2="489.1" y2="525" stroke="#000" stroke-width="1" stroke-linecap="butt"/>
<text x="0" y="0" transform="translate(485.7 528.1) scale(0.92 1.02)" font-size="8" fill="#000" stroke="#000" text-anchor="end" font-weight="bold" letter-spacing="0.3">0.04</text>
<line x1="491.3" y1="564.2" x2="489.1" y2="564.2" stroke="#000" stroke-width="1" stroke-linecap="butt"/>
<text x="0" y="0" transform="translate(485.7 567.3) scale(0.92 1.02)" font-size="8" fill="#000" stroke="#000" text-anchor="end" font-weight="bold" letter-spacing="0.3">0.02</text>
<line x1="491.3" y1="603.4" x2="489.1" y2="603.4" stroke="#000" stroke-width="1" stroke-linecap="butt"/>
<text x="0" y="0" transform="translate(485.7 606.5) scale(0.92 1.02)" font-size="8" fill="#000" stroke="#000" text-anchor="end" font-weight="bold" letter-spacing="0.3">0.00</text>
<line x1="491.3" y1="466.2" x2="489.8" y2="466.2" stroke="#000" stroke-width="1" stroke-linecap="butt"/>
<line x1="491.3" y1="505.4" x2="489.8" y2="505.4" stroke="#000" stroke-width="1" stroke-linecap="butt"/>
<line x1="491.3" y1="544.6" x2="489.8" y2="544.6" stroke="#000" stroke-width="1" stroke-linecap="butt"/>
<line x1="491.3" y1="583.8" x2="489.8" y2="583.8" stroke="#000" stroke-width="1" stroke-linecap="butt"/>
<line x1="491.3" y1="623" x2="489.8" y2="623" stroke="#000" stroke-width="1" stroke-linecap="butt"/>
<line x1="491.3" y1="622.6" x2="491.3" y2="626.1" stroke="#000" stroke-width="1.2" stroke-linecap="butt"/>
<line x1="526.48" y1="622.6" x2="526.48" y2="626.1" stroke="#000" stroke-width="1.2" stroke-linecap="butt"/>
<line x1="561.66" y1="622.6" x2="561.66" y2="626.1" stroke="#000" stroke-width="1.2" stroke-linecap="butt"/>
<line x1="596.84" y1="622.6" x2="596.84" y2="626.1" stroke="#000" stroke-width="1.2" stroke-linecap="butt"/>
<line x1="632.02" y1="622.6" x2="632.02" y2="626.1" stroke="#000" stroke-width="1.2" stroke-linecap="butt"/>
<line x1="667.2" y1="622.6" x2="667.2" y2="626.1" stroke="#000" stroke-width="1.2" stroke-linecap="butt"/>
<line x1="508.89" y1="622.6" x2="508.89" y2="624.8" stroke="#000" stroke-width="1.2" stroke-linecap="butt"/>
<line x1="544.07" y1="622.6" x2="544.07" y2="624.8" stroke="#000" stroke-width="1.2" stroke-linecap="butt"/>
<line x1="579.25" y1="622.6" x2="579.25" y2="624.8" stroke="#000" stroke-width="1.2" stroke-linecap="butt"/>
<line x1="614.43" y1="622.6" x2="614.43" y2="624.8" stroke="#000" stroke-width="1.2" stroke-linecap="butt"/>
<line x1="649.61" y1="622.6" x2="649.61" y2="624.8" stroke="#000" stroke-width="1.2" stroke-linecap="butt"/>
<text x="0" y="0" transform="translate(491.3 634.9) scale(0.92 1.02)" font-size="8" fill="#000" stroke="#000" text-anchor="middle" font-weight="bold" letter-spacing="0.3">50</text>
<text x="0" y="0" transform="translate(526.48 634.9) scale(0.92 1.02)" font-size="8" fill="#000" stroke="#000" text-anchor="middle" font-weight="bold" letter-spacing="0.3">100</text>
<text x="0" y="0" transform="translate(561.66 634.9) scale(0.92 1.02)" font-size="8" fill="#000" stroke="#000" text-anchor="middle" font-weight="bold" letter-spacing="0.3">150</text>
<text x="0" y="0" transform="translate(596.84 634.9) scale(0.92 1.02)" font-size="8" fill="#000" stroke="#000" text-anchor="middle" font-weight="bold" letter-spacing="0.3">200</text>
<text x="0" y="0" transform="translate(632.02 634.9) scale(0.92 1.02)" font-size="8" fill="#000" stroke="#000" text-anchor="middle" font-weight="bold" letter-spacing="0.3">250</text>
<text x="0" y="0" transform="translate(667.2 634.9) scale(0.92 1.02)" font-size="8" fill="#000" stroke="#000" text-anchor="middle" font-weight="bold" letter-spacing="0.3">300</text>
<text x="0" y="0" transform="translate(579.3 651.4) scale(1 0.94)" font-size="10" fill="#000" stroke="none" text-anchor="middle" font-weight="bold">Temperature (°C)</text>
<text x="0" y="0" font-size="10" font-weight="bold" text-anchor="middle" dominant-baseline="central" transform="translate(462.5 534.7) rotate(-90)">HCOO* peak area (a.u.)</text>
<text x="0" y="0" font-size="10" font-weight="bold" text-anchor="middle" dominant-baseline="central" transform="translate(679.2 534.7) rotate(-90)">H<tspan font-size="6.6" dy="2.4">2</tspan><tspan dy="-2.4"> MS signal (a.u.)</tspan></text>
</svg>
</body></html>
